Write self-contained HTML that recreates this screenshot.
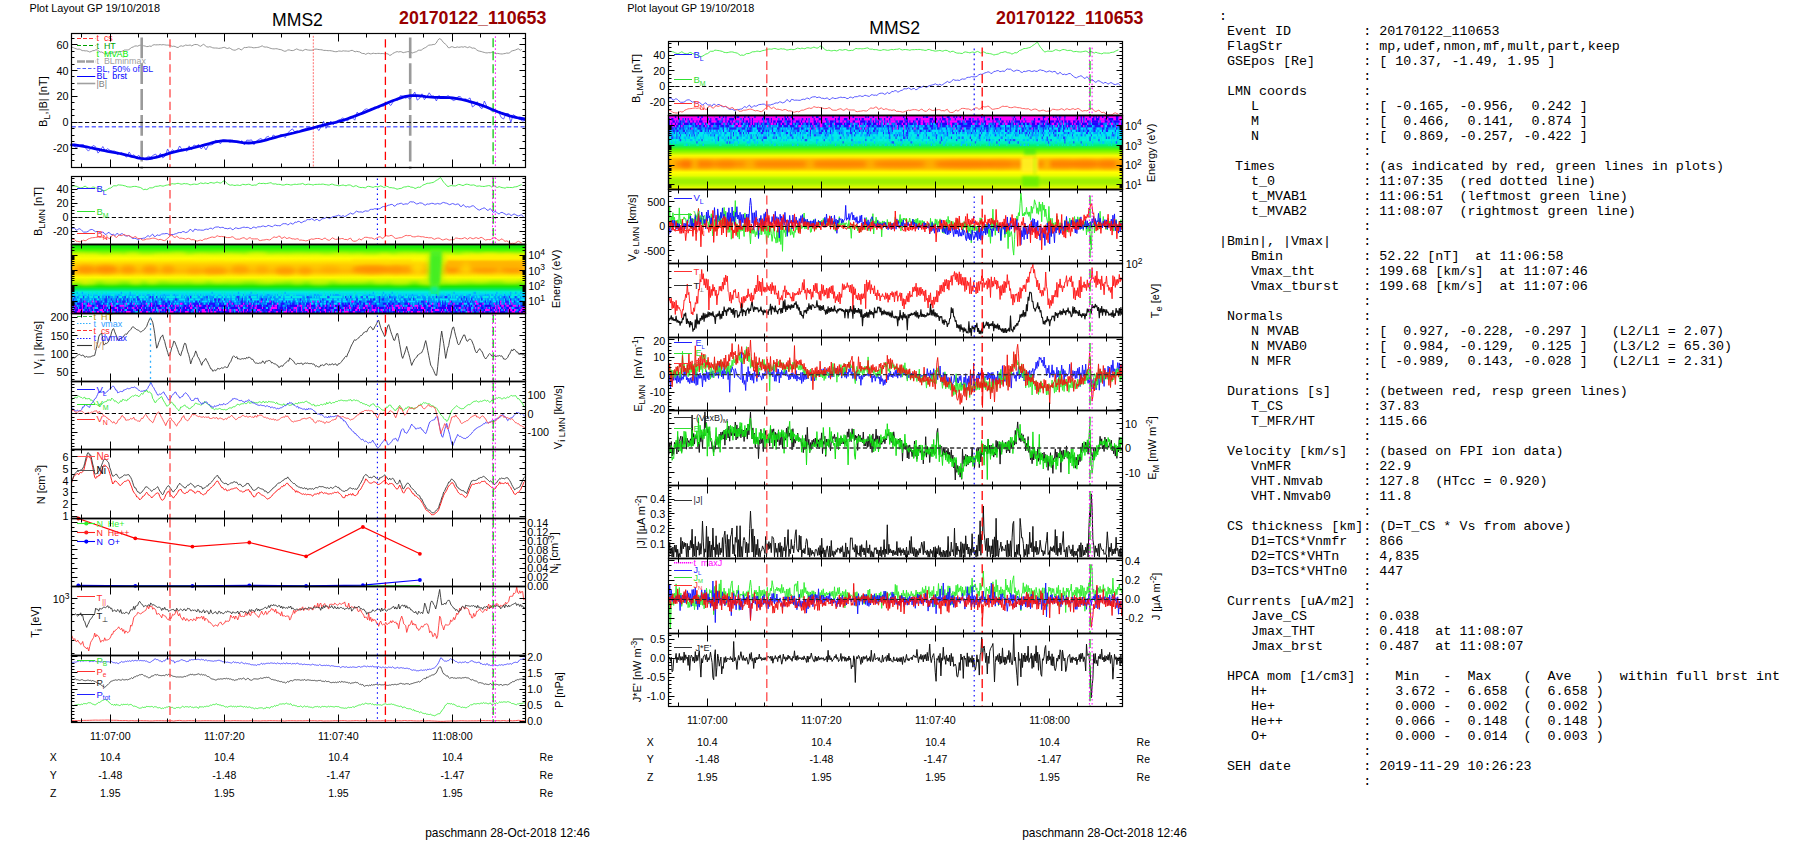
<!DOCTYPE html>
<html><head><meta charset="utf-8"><title>MMS2 20170122_110653</title>
<style>
html,body{margin:0;padding:0;background:#fff;}
body{width:1804px;height:841px;position:relative;overflow:hidden;font-family:"Liberation Sans",sans-serif;}
svg{position:absolute;left:0;top:0;}
svg text{font-family:"Liberation Sans",sans-serif;}
pre{position:absolute;left:1218.9px;top:8.9px;margin:0;font-family:"Liberation Mono",monospace;font-size:13.37px;line-height:15px;color:#000;white-space:pre;}
</style></head><body>
<svg width="1804" height="841" viewBox="0 0 1804 841">
<defs><filter id="bl" x="-50%" y="-50%" width="200%" height="200%"><feGaussianBlur stdDeviation="2.2"/></filter><filter id="bl2" x="-50%" y="-50%" width="200%" height="200%"><feGaussianBlur stdDeviation="1.6"/></filter><clipPath id="cl3"><rect x="71.6" y="244.5" width="454" height="68.7"/></clipPath><clipPath id="cm2"><rect x="668.6" y="115.4" width="453.6" height="74.1"/></clipPath></defs>
<text x="29.4" y="11.6" font-size="10.9" text-anchor="start" fill="#000" font-weight="normal" >Plot Layout GP 19/10/2018</text>
<text x="297.5" y="26.1" font-size="17.6" text-anchor="middle" fill="#000" font-weight="normal" >MMS2</text>
<text x="399" y="24.1" font-size="17.8" text-anchor="start" fill="#990000" font-weight="bold" >20170122_110653</text>
<path d="M71.7 47.2l1.5.4 1.5.7 1.5.5 1.5.5 1.5-.3 1.5.7 1.5.9 1.5 0 1.5.3 1.5-.1 1.5.5 1.5.7 1.5-.5 1.5-.8 1.5-.1 1.5-.7 1.5-.1 1.5 1.2 1.5 1.1 1.5-.1 1.5.8 1.5 1.2 1.5-.3 1.5-.7 1.5 0 1.5.5 1.5-.5 1.5-.9 1.5-.1 1.5.2 1.5-.5 1.5-.3 1.5.2 1.5-.6 1.5-.9 1.5-.1 1.5 0 1.5-.3 1.5-1.1 1.5-1.2 1.5-.4 1.5-.9 1.5-.2 1.5.3 1.5-.8 1.5-.2 1.5.4 1.5.2 1.5.3 1.5.5 1.5-.1 1.5-.5 1.5.4 1.5-1.2 1.5-.5 1.5.2 1.5-.1 1.5 0 1.5-.2 1.5.3 1.5-.3 1.5.2 1.5.3 1.5 0 1.5.1 1.5.5 1.5.7 1.5-.2 1.5.3 1.5.8 1.5.2 1.5-1.2 1.5-.5 1.5.5 1.5-.5 1.5-.8 1.5.4 1.5-.1 1.5-.3 1.5.9 1.5-.8 1.5-.6 1.5 0 1.5.2 1.5 1 1.5.6 1.5-1.2 1.5-.8 1.5 1.3 1.5 1.2 1.5.3 1.5-.4 1.5.4 1.5.7 1.5.2 1.5 0 1.5.1 1.5.3 1.5-.2 1.5-.2 1.5-.5 1.5-.1 1.5.8 1.5.3 1.5-.7 1.5.8 1.5 1 1.5.5 1.5.1 1.5-.7 1.5-.9 1.5.3 1.5 1.1 1.5-1.1 1.5-1.4 1.5.1 1.5-.2 1.5-.4 1.5.2 1.5.1 1.5.5 1.5-.1 1.5-.1 1.5-.2 1.5-.3 1.5-.6 1.5-.7 1.5 1 1.5.3 1.5-.1 1.5.4 1.5.6 1.5.5 1.5.3 1.5.1 1.5-.2 1.5.1 1.5.5 1.5.2 1.5.4 1.5.8 1.5.6 1.5-.3 1.5-1 1.5-.1 1.5.5 1.5.2 1.5-.2 1.5-.8 1.5-.7 1.5.7 1.5.6 1.5 0 1.5.6 1.5-.9 1.5-.5 1.5.5 1.5.2 1.5.1 1.5 0 1.5-.2 1.5-.8 1.5-.1 1.5.3 1.5.2 1.5.1 1.5.2 1.5.5 1.5 0 1.5.1 1.5.2 1.5-.1 1.5.2 1.5.3 1.5.4 1.5.2 1.5-.1 1.5-.6 1.5.1 1.5.2 1.5-.5 1.5.2 1.5 0 1.5.2 1.5 0 1.5-.6 1.5-.3 1.5.8 1.5.7 1.5-.5 1.5.4 1.5.2 1.5 1.1 1.5.5 1.5 0 1.5.9 1.5-.9 1.5-.3 1.5.7 1.5-.2 1.5-.5 1.5.3 1.5.1 1.5-.2 1.5 0 1.5.2 1.5-.1 1.5.1 1.5.4 1.5-.4 1.5.5 1.5 1.2 1.5-.3 1.5-1.5 1.5-.7 1.5-.7 1.5-.5 1.5.4 1.5-.4 1.5.3 1.5.8 1.5-.4 1.5-.3 1.5-.4 1.5.1 1.5.6 1.5.7 1.5-.5 1.5-.5 1.5-.4 1.5-1.3 1.5-.1 1.5 0 1.5-1.1 1.5-1 1.5-.6 1.5-1.2 1.5-1.1 1.5-.2 1.5-.1 1.5-.4 1.5-.1 1.5-1.3 1.5-2.7 1.5-1.7 1.5.3 1.5 1.9 1.5 1.9 1.5 1.1 1.5 1.4 1.5 2.3 1.5.1 1.5-.9 1.5 0 1.5.7 1.5 0 1.5-.6 1.5.4 1.5-.2 1.5-.3 1.5.4 1.5-.6 1.5.5 1.5.6 1.5-.9 1.5.5 1.5.9 1.5-.2 1.5.5 1.5 1.4 1.5.9 1.5.4 1.5.3 1.5.5 1.5.4 1.5.4 1.5.1 1.5-.3 1.5.2 1.5-.5 1.5-.4 1.5 1.2 1.5.6 1.5-.3 1.5.3 1.5.2 1.5.1 1.5-.3 1.5-.2 1.5-.5 1.5.2 1.5-.3 1.5-1.7 1.5-.5 1.5-.3 1.5-.5 1.5-.8 1.5-.2 1.5 1.4 1.5-.9" fill="none" stroke="#8a8a8a" stroke-width="0.9" />
<line x1="141.7" y1="37.5" x2="141.7" y2="168.8" stroke="#9a9a9a" stroke-width="2.6" stroke-dasharray="20.8,5"/>
<line x1="410.2" y1="37.5" x2="410.2" y2="168.8" stroke="#9a9a9a" stroke-width="2.6" stroke-dasharray="20.8,5"/>
<line x1="170" y1="39.2" x2="170" y2="167.8" stroke="#ff4848" stroke-width="1.3" stroke-dasharray="8.3,4.2"/>
<line x1="385.4" y1="39.2" x2="385.4" y2="167.8" stroke="#ff0000" stroke-width="1.3" stroke-dasharray="8.3,4.2"/>
<line x1="313.3" y1="35.8" x2="313.3" y2="167.8" stroke="#ff7070" stroke-width="1.0" stroke-dasharray="2,1.3"/>
<line x1="493.1" y1="38.3" x2="493.1" y2="167.8" stroke="#00c000" stroke-width="1.2" stroke-dasharray="9,4"/>
<line x1="495.4" y1="36.3" x2="495.4" y2="167.8" stroke="#ff00ff" stroke-width="1.0" stroke-dasharray="1.6,2.4"/>
<line x1="71.6" y1="122.5" x2="525.6" y2="122.5" stroke="#000" stroke-width="1.1" stroke-dasharray="4.2,2.5"/>
<line x1="71.6" y1="126.8" x2="525.6" y2="126.8" stroke="#6068ff" stroke-width="1.4" stroke-dasharray="4.2,2.5"/>
<path d="M71.6 144.2l2.4 1.7 2.4 1.9 2.4-2 2.4-1.1 2.4-.1 2.4 3.9 2.4 2.6 2.4-2.7 2.4-2.9 2.4 1.2 2.4 6.4 2.4-2.6 2.4-4 2.4 4.3 2.4-2.1 2.4 1.7 2.4.7 2.4-.1 2.4 3.4 2.4-1 2.4-.7 2.4 2.8 2.4 1.6 2.4-5.1 2.4 3.8 2.4-1 2.4 2.5 2.4-2 2.4 3.5 2.4.1 2.4-.7 2.4-1.9 2.4 1.1 2.4-2.1 2.4-1.2 2.4 3.1 2.4-3.8 2.4 4.5 2.4-1.9 2.4-7 2.4 4.5 2.4-3.8 2.4 2 2.4-.5 2.4-5.2 2.4 3.5 2.4-.5 2.4 2.3 2.4-5.4 2.4 3.9 2.4-4.8 2.4 1.2 2.4-1.8 2.4 4.6 2.4-2.7 2.4 3.6 2.4-4.7 2.4-.2 2.4-.7 2.4-4 2.4.7 2.4 2.9 2.4-4.2 2.4 1.4 2.4-.4 2.4 1.6 2.4-2 2.4.9 2.4 1.2 2.4.1 2.4-1.8 2.4 4.3 2.4-4.9 2.4.2 2.4-.4 2.4 4.8 2.4-3.5 2.4-1.8 2.4-.9 2.4 3 2.4-4.1 2.4-1.1 2.4 3.6 2.4-4.9 2.4 1.4 2.4 0 2.4-1.6 2.4.4 2.4 2.6 2.4-4.8 2.4-2.2 2.4-1.9 2.4 3.2 2.4-.9 2.4.8 2.4-2.3 2.4-.7 2.4-1.2 2.4-.2 2.4.9 2.4-1.9 2.4.5 2.4 3.5 2.4-3.9 2.4-5.3 2.4 7 2.4-3.8 2.4-3.5 2.4 3.7 2.4-2.6 2.4-2 2.4-.7 2.4-1.6 2.4 1.6 2.4 1.5 2.4-4.1 2.4.8 2.4 2.5 2.4-8.1 2.4 2.5 2.4-2.2 2.4-2.7 2.4-.9 2.4 1.4 2.4 0 2.4-3.2 2.4.3 2.4.6 2.4-2 2.4.3 2.4-1.9 2.4-.9 2.4 2.1 2.4-3.7 2.4-2.1 2.4.4 2.4-4.5 2.4.6 2.4 2 2.4-.8 2.4 1.8 2.4-3.7 2.4-3.4 2.4 8 2.4-1.7 2.4-4.6 2.4 5.9 2.4-2.8 2.4-4.1 2.4 3.4 2.4-.1 2.4 4.9 2.4-5.4 2.4 1.3 2.4 0 2.4-.2 2.4-1.1 2.4 2.7 2.4 2.2 2.4-.7 2.4-3.2 2.4 0 2.4 3.6 2.4-1.3 2.4.8 2.4-1.8 2.4 9.1 2.4-1.7 2.4-3.6 2.4 5.1 2.4 1.9 2.4-7.7 2.4 5.2 2.4 1.4 2.4 3.5 2.4-.8 2.4.7 2.4 1.3 2.4 5.2 2.4 1.5 2.4-5.4 2.4-.1 2.4 9 2.4-7.8 2.4 1.5 2.4 1.9 2.4 1.4 2.4 1.7 2.4-1.1" fill="none" stroke="#4040ff" stroke-width="0.85" />
<path d="M71.6 144.8l3 .2 3 .3 3 .5 3 .5 3 .5 3 .7 3 .6 3 .7 3 .6 3 .7 3 .6 3 .6 3 .5 3 .6 3 .5 3 .6 3 .6 3 .7 3 .7 3 .8 3 .7 3 .8 3 .6 3 .3 3 .1 3-.3 3-.5 3-.6 3-.8 3-.9 3-.9 3-1 3-.9 3-.8 3-.7 3-.7 3-.6 3-.6 3-.7 3-.6 3-.7 3-.8 3-.7 3-.8 3-.9 3-.8 3-.8 3-.8 3-.6 3-.4 3-.2 3 .1 3 .2 3 .3 3 .4 3 .5 3 .4 3 .3 3 .1 3-.2 3-.3 3-.6 3-.6 3-.7 3-.8 3-.8 3-.9 3-.8 3-.8 3-.8 3-.7 3-.7 3-.6 3-.7 3-.8 3-.7 3-.8 3-.8 3-.8 3-.8 3-.8 3-.8 3-.8 3-.8 3-.7 3-.7 3-.7 3-.7 3-.8 3-.8 3-.9 3-1.1 3-1.1 3-1.1 3-1.1 3-1.2 3-1.1 3-1.2 3-1.2 3-1.3 3-1.2 3-1.2 3-1.3 3-1.2 3-1.2 3-1.3 3-1.2 3-1.1 3-1.1 3-1 3-.9 3-.6 3-.4 3-.1 3 0 3 .3 3 .3 3 .4 3 .3 3 .2 3 .2 3 .1 3 .1 3 0 3 .1 3 .1 3 .3 3 .3 3 .5 3 .7 3 .7 3 .8 3 .8 3 .9 3 .9 3 1 3 1 3 1.2 3 1.2 3 1.3 3 1.2 3 1.2 3 1.1 3 1 3 1 3 1 3 .8 3 .7 3 .7 3 .5 3 .5" fill="none" stroke="#0000ee" stroke-width="2.8" stroke-linejoin="round" stroke-linecap="round"/>
<line x1="77" y1="38.5" x2="95.3" y2="38.5" stroke="#ff3030" stroke-width="1.2" stroke-dasharray="4,2"/>
<text x="96.5" y="41.3" font-size="8.9" text-anchor="start" fill="#ff2020" font-weight="normal" >t&#160;&#160;cs</text>
<line x1="77" y1="45.5" x2="95.3" y2="45.5" stroke="#00a000" stroke-width="1.2" stroke-dasharray="4,2"/>
<text x="96.5" y="48.9" font-size="8.9" text-anchor="start" fill="#00a000" font-weight="normal" >t&#160;&#160;HT</text>
<text x="96.5" y="56.5" font-size="8.9" text-anchor="start" fill="#00ee00" font-weight="normal" >t&#160;&#160;MVAB</text>
<line x1="77" y1="61.5" x2="95.3" y2="61.5" stroke="#a0a0a0" stroke-width="2.6" stroke-dasharray="8,1"/>
<text x="96.5" y="64.1" font-size="8.9" text-anchor="start" fill="#a0a0a0" font-weight="normal" >t&#160;&#160;BLminmax</text>
<line x1="77" y1="68.5" x2="95.3" y2="68.5" stroke="#5060ff" stroke-width="1.0" stroke-dasharray="3.5,2"/>
<text x="96.5" y="71.7" font-size="8.9" text-anchor="start" fill="#2020ff" font-weight="normal" >BL, 50% of BL</text>
<line x1="77" y1="76.5" x2="95.3" y2="76.5" stroke="#0000ff" stroke-width="1.0"/>
<text x="96.5" y="79.3" font-size="8.9" text-anchor="start" fill="#0000ff" font-weight="normal" >BL&#160;&#160;brst</text>
<line x1="77" y1="83.5" x2="95.3" y2="83.5" stroke="#a0a0a0" stroke-width="1.6"/>
<text x="96.5" y="86.9" font-size="8.9" text-anchor="start" fill="#808080" font-weight="normal" >|B|</text>
<rect x="71.5" y="33.5" width="454" height="134" fill="none" stroke="#000" stroke-width="1.2"/>
<path d="M81.5 33.5v4M110.5 33.5v8M138.5 33.5v4M167.5 33.5v4M195.5 33.5v4M224.5 33.5v8M252.5 33.5v4M281.5 33.5v4M309.5 33.5v4M338.5 33.5v8M366.5 33.5v4M395.5 33.5v4M423.5 33.5v4M452.5 33.5v8M480.5 33.5v4M509.5 33.5v4" stroke="#000" stroke-width="1" fill="none"/>
<path d="M81.5 167.5v-4M110.5 167.5v-8M138.5 167.5v-4M167.5 167.5v-4M195.5 167.5v-4M224.5 167.5v-8M252.5 167.5v-4M281.5 167.5v-4M309.5 167.5v-4M338.5 167.5v-8M366.5 167.5v-4M395.5 167.5v-4M423.5 167.5v-4M452.5 167.5v-8M480.5 167.5v-4M509.5 167.5v-4" stroke="#000" stroke-width="1" fill="none"/>
<path d="M71.5 148.5h6M71.5 122.5h6M71.5 96.5h6M71.5 70.5h6M71.5 44.5h6M71.5 167.5h3M71.5 160.5h3M71.5 154.5h3M71.5 141.5h3M71.5 135.5h3M71.5 128.5h3M71.5 115.5h3M71.5 109.5h3M71.5 102.5h3M71.5 89.5h3M71.5 83.5h3M71.5 76.5h3M71.5 64.5h3M71.5 57.5h3M71.5 51.5h3M71.5 38.5h3" stroke="#000" stroke-width="1" fill="none"/>
<path d="M525.5 148.5h-6M525.5 122.5h-6M525.5 96.5h-6M525.5 70.5h-6M525.5 44.5h-6M525.5 167.5h-3M525.5 160.5h-3M525.5 154.5h-3M525.5 141.5h-3M525.5 135.5h-3M525.5 128.5h-3M525.5 115.5h-3M525.5 109.5h-3M525.5 102.5h-3M525.5 89.5h-3M525.5 83.5h-3M525.5 76.5h-3M525.5 64.5h-3M525.5 57.5h-3M525.5 51.5h-3M525.5 38.5h-3" stroke="#000" stroke-width="1" fill="none"/>
<text x="68.6" y="48.6" font-size="10.8" text-anchor="end" fill="#000" font-weight="normal" >60</text>
<text x="68.6" y="74.5" font-size="10.8" text-anchor="end" fill="#000" font-weight="normal" >40</text>
<text x="68.6" y="100.3" font-size="10.8" text-anchor="end" fill="#000" font-weight="normal" >20</text>
<text x="68.6" y="126.2" font-size="10.8" text-anchor="end" fill="#000" font-weight="normal" >0</text>
<text x="68.6" y="152.1" font-size="10.8" text-anchor="end" fill="#000" font-weight="normal" >-20</text>
<text x="46.6" y="101.6" font-size="11" text-anchor="middle" fill="#000" font-weight="normal" transform="rotate(-90 46.6 101.6)" >B<tspan font-size="9.3" dy="3">L</tspan><tspan dy="-3">,|B| [nT]</tspan></text>
<path d="M71.6 186.4l1.5-.5 1.5.1 1.5.2 1.5.6 1.5.8 1.5.3 1.5-.1 1.5-.9 1.5-.8 1.5 1.1 1.5.9 1.5.1 1.5.1 1.5-1.2 1.5 0 1.5.9 1.5.3 1.5.1 1.5.7 1.5.9 1.5 1 1.5-.4 1.5-.4 1.5-.9 1.5-1 1.5-.2 1.5-1.1 1.5-1.2 1.5 0 1.5 0 1.5-1 1.5.2 1.5.1 1.5.2 1.5.4 1.5.3 1.5.8 1.5.1 1.5.2 1.5-.2 1.5-.4 1.5-.1 1.5 0 1.5.5 1.5.3 1.5.4 1.5 1 1.5 1.1 1.5-.5 1.5.4 1.5-.6 1.5-1.2 1.5.1 1.5-.1 1.5-.8 1.5-.7 1.5 0 1.5-.2 1.5-.5 1.5.3 1.5.3 1.5-.5 1.5-.5 1.5-.2 1.5-.4 1.5-.4 1.5-.5 1.5.2 1.5.1 1.5-.5 1.5-.2 1.5.4 1.5.5 1.5-.2 1.5-.5 1.5.3 1.5-.1 1.5.5 1.5.7 1.5-.3 1.5-.4 1.5-.1 1.5.3 1.5-.1 1.5-.6 1.5-.8 1.5.4 1.5.3 1.5-.7 1.5.4 1.5.4 1.5-.9 1.5-.3 1.5.4 1.5.3 1.5-.6 1.5-.6 1.5.6 1.5.5 1.5-.4 1.5-1.6 1.5-.2 1.5 1.6 1.5 1.3 1.5 1 1.5.4 1.5-.4 1.5.5 1.5.2 1.5-.4 1.5 0 1.5.4 1.5-.3 1.5-.9 1.5.2 1.5.3 1.5-.3 1.5-.3 1.5.3 1.5.8 1.5 0 1.5-.3 1.5.2 1.5-1.1 1.5-1 1.5.4 1.5 0 1.5-.2 1.5.4 1.5-.2 1.5-.2 1.5-.4 1.5-.2 1.5 1.1 1.5.2 1.5-.2 1.5.6 1.5-.1 1.5.1 1.5.5 1.5.2 1.5-.2 1.5-.6 1.5.1 1.5.2 1.5.4 1.5-.1 1.5-.5 1.5-.2 1.5.3 1.5-.3 1.5-.1 1.5-.1 1.5-.6 1.5.9 1.5.5 1.5-.5 1.5-.1 1.5.2 1.5.2 1.5.5 1.5-.6 1.5-.1 1.5 0 1.5-.2 1.5.2 1.5-.3 1.5.1 1.5.4 1.5.1 1.5.4 1.5-.1 1.5-.8 1.5 0 1.5.7 1.5.3 1.5.2 1.5.4 1.5-.2 1.5-.3 1.5-.3 1.5.5 1.5.3 1.5-.7 1.5-.2 1.5.3 1.5 1 1.5.5 1.5-.9 1.5 0 1.5 1 1.5.5 1.5.3 1.5-.2 1.5.3 1.5.1 1.5-1.2 1.5-.3 1.5.3 1.5.4 1.5.4 1.5-.7 1.5-.2 1.5.5 1.5-.5 1.5-.6 1.5.5 1.5.9 1.5-.1 1.5-.9 1.5.4 1.5 1 1.5-.1 1.5.3 1.5.1 1.5.6 1.5.6 1.5-.4 1.5-.3 1.5-.2 1.5-1 1.5-.4 1.5 0 1.5-.6 1.5 0 1.5.8 1.5.1 1.5.4 1.5.9 1.5-.6 1.5-.8 1.5.3 1.5-.7 1.5-1.5 1.5-.5 1.5-.6 1.5-.8 1.5 0 1.5-.2 1.5-.4 1.5-.2 1.5-.9 1.5-1.1 1.5-.8 1.5-1.1 1.5-1.1 1.5 2.4 1.5 2.3 1.5 1.5 1.5 1.9 1.5 1 1.5-.6 1.5-.5 1.5.3 1.5.1 1.5 0 1.5-.7 1.5-.8 1.5.2 1.5.6 1.5.4 1.5-.8 1.5-.6 1.5.1 1.5.4 1.5.5 1.5-.1 1.5-.2 1.5.5 1.5.8 1.5-.1 1.5-.2 1.5.4 1.5.1 1.5.1 1.5-.3 1.5-.3 1.5-.3 1.5.2 1.5 1.2 1.5-.7 1.5-.4 1.5 1.2 1.5.3 1.5-.8 1.5.6 1.5.4 1.5.2 1.5.4 1.5-.9 1.5.1 1.5.1 1.5 0 1.5.1 1.5-.6 1.5-.2 1.5-.2 1.5-.8 1.5-.6 1.5-.6" fill="none" stroke="#40ee40" stroke-width="0.9" />
<path d="M71.6 228.6l1.5-.4 1.5 0 1.5 2 1.5-.6 1.5-1 1.5.7 1.5 1.5 1.5 1.3 1.5 0 1.5-.1 1.5-.6 1.5-1.3 1.5-.6 1.5.1 1.5 1.1 1.5 1.1 1.5-.4 1.5.7 1.5 1 1.5-.8 1.5-.3 1.5 1.9 1.5.7 1.5-1.7 1.5-.6 1.5 1.9 1.5.4 1.5-.3 1.5 1.4 1.5-2.1 1.5.1 1.5 1.5 1.5-1.4 1.5 0 1.5 1.3 1.5.8 1.5.1 1.5-.5 1.5.8 1.5 1.6 1.5.6 1.5-.1 1.5.2 1.5 1 1.5-.6 1.5-.5 1.5 0 1.5-.4 1.5 0 1.5-1.6 1.5-.9 1.5 1.2 1.5-1.3 1.5-1.4 1.5 2.2 1.5.1 1.5-1.6 1.5.6 1.5-.2 1.5-1.1 1.5-.3 1.5 0 1.5-.3 1.5.1 1.5 1.1 1.5-.1 1.5-.1 1.5 0 1.5-.6 1.5-.3 1.5-.9 1.5-.2 1.5.2 1.5-1.1 1.5.1 1.5.9 1.5-.4 1.5-.9 1.5-2.1 1.5 1.1 1.5 1.4 1.5-2.5 1.5.2 1.5.7 1.5-.2 1.5.2 1.5.1 1.5 0 1.5-.8 1.5-.3 1.5.4 1.5-1.1 1.5-.3 1.5 1 1.5-1.3 1.5-.7 1.5-.1 1.5-.1 1.5.9 1.5-.4 1.5-.1 1.5 1.1 1.5 0 1.5.4 1.5-.4 1.5-.5 1.5 1.8 1.5-.3 1.5-1.5 1.5.1 1.5.6 1.5-.2 1.5-.4 1.5-.6 1.5-.3 1.5.5 1.5-.3 1.5.3 1.5 1 1.5-.1 1.5-1.4 1.5.2 1.5.8 1.5-1.2 1.5-.1 1.5 0 1.5-.7 1.5-.1 1.5.7 1.5-.3 1.5-1 1.5.4 1.5.6 1.5.4 1.5-1.5 1.5-.2 1.5.6 1.5-.1 1.5.3 1.5-1.3 1.5-.9 1.5 0 1.5 0 1.5 1.1 1.5-.4 1.5-1.6 1.5 1.3 1.5-.3 1.5-1.8 1.5.4 1.5-1.1 1.5.3 1.5 1.3 1.5-.8 1.5-.9 1.5-.2 1.5-1.4 1.5 0 1.5.1 1.5-1 1.5.9 1.5 1 1.5-1.1 1.5 0 1.5 1.4 1.5-.8 1.5-1.4 1.5-.1 1.5-.5 1.5-.8 1.5.5 1.5.8 1.5-.9 1.5-.9 1.5-.3 1.5-.3 1.5-.4 1.5-.7 1.5.9 1.5.4 1.5-.8 1.5 1 1.5-.6 1.5-1.1 1.5-.9 1.5-1 1.5 1 1.5-.1 1.5-1.7 1.5-1.1 1.5.8 1.5.1 1.5-.1 1.5.4 1.5-.9 1.5-.6 1.5.4 1.5-.3 1.5-1.4 1.5-.2 1.5.1 1.5-.7 1.5.2 1.5 0 1.5 0 1.5-.7 1.5-1.2 1.5-.5 1.5.2 1.5-.6 1.5-.8 1.5-.3 1.5-.6 1.5.1 1.5 1.7 1.5-.5 1.5-1.7 1.5 0 1.5-.6 1.5-.1 1.5 1.2 1.5-.4 1.5-.3 1.5.4 1.5-1.7 1.5-.8 1.5.3 1.5-.1 1.5 1.1 1.5 1 1.5-.3 1.5-.8 1.5.1 1.5.4 1.5 1.3 1.5.4 1.5-1.2 1.5.3 1.5-.4 1.5-.5 1.5.1 1.5.7 1.5-.1 1.5-.6 1.5.6 1.5-.1 1.5-1 1.5-.5 1.5.6 1.5.2 1.5.8 1.5.7 1.5-.6 1.5-.6 1.5.6 1.5.6 1.5-.7 1.5 0 1.5 2.2 1.5.3 1.5-1.9 1.5 1.3 1.5 1.3 1.5-.7 1.5.7 1.5-.5 1.5-.9 1.5.1 1.5 1.4 1.5 1.3 1.5 1 1.5.5 1.5-1 1.5-.6 1.5-.7 1.5.8 1.5 1.6 1.5 0 1.5-1.7 1.5 1.6 1.5 2.3 1.5-.7 1.5 0 1.5 1.6 1.5.7 1.5-1.3 1.5-.4 1.5.9 1.5.8 1.5.9 1.5-1 1.5.3 1.5 1.4 1.5-.8 1.5-.9 1.5.8 1.5.9 1.5.3 1.5-.7 1.5-.3 1.5 1.4 1.5 1.5" fill="none" stroke="#4848ff" stroke-width="0.9" />
<path d="M71.6 239l1.5.3 1.5.4 1.5 1.5 1.5.2 1.5.3 1.5 0 1.5-.7 1.5-.8 1.5.6 1.5-.6 1.5-1.2 1.5-.5 1.5-.6 1.5-.2 1.5-.1 1.5-.2 1.5-.2 1.5-.1 1.5.3 1.5-.3 1.5 0 1.5 1.4 1.5-.4 1.5-.8 1.5 1.4 1.5-.8 1.5-2.6 1.5 0 1.5 1.3 1.5.9 1.5-1.8 1.5-.7 1.5.7 1.5-.5 1.5-.8 1.5.9 1.5.6 1.5-.3 1.5.6 1.5.9 1.5.6 1.5-.9 1.5 0 1.5 1.7 1.5.1 1.5 0 1.5 1.4 1.5 0 1.5-.3 1.5-.7 1.5 0 1.5-.1 1.5-.4 1.5-.3 1.5-.1 1.5.5 1.5.6 1.5.6 1.5-.5 1.5.4 1.5.7 1.5.2 1.5-.8 1.5-1.7 1.5-.9 1.5-2 1.5-.2 1.5 2.1 1.5.4 1.5-1.3 1.5.9 1.5 1.2 1.5-.2 1.5.3 1.5.3 1.5.6 1.5-.7 1.5-.3 1.5.7 1.5.8 1.5-.2 1.5.4 1.5.9 1.5.1 1.5-.6 1.5-.3 1.5.6 1.5-1.2 1.5-.6 1.5.1 1.5-.7 1.5-.5 1.5-.6 1.5-.2 1.5.5 1.5-.5 1.5-1.3 1.5.6 1.5.3 1.5-.2 1.5.3 1.5 0 1.5.7 1.5.2 1.5 0 1.5-.2 1.5-.7 1.5.5 1.5 1.7 1.5.3 1.5-.1 1.5.1 1.5-.7 1.5-.6 1.5-.2 1.5 1.1 1.5.6 1.5-1.2 1.5-.6 1.5 1.2 1.5.1 1.5 0 1.5 0 1.5 0 1.5 1.4 1.5.3 1.5-.5 1.5-.1 1.5-.2 1.5-.4 1.5.3 1.5.3 1.5-.8 1.5-1.5 1.5-.8 1.5.5 1.5-.1 1.5-1.1 1.5.1 1.5 2.2 1.5-.7 1.5-1 1.5 1.6 1.5 0 1.5-.8 1.5.6 1.5.7 1.5-.1 1.5.5 1.5-.5 1.5 0 1.5 1.4 1.5-.2 1.5.3 1.5.1 1.5.5 1.5-.2 1.5-.7 1.5-.5 1.5-.6 1.5.4 1.5-.4 1.5-.4 1.5 0 1.5 0 1.5.6 1.5.6 1.5-1.1 1.5-.6 1.5 1.3 1.5.8 1.5.2 1.5-1.5 1.5-1 1.5 1 1.5.6 1.5-.2 1.5-.4 1.5.1 1.5-.4 1.5.1 1.5.9 1.5-.1 1.5.4 1.5-1.1 1.5-.6 1.5 2.4 1.5.7 1.5 0 1.5-.2 1.5-1.5 1.5-.6 1.5 1.1 1.5-1 1.5-1.5 1.5-.2 1.5 0 1.5.4 1.5.3 1.5-.1 1.5.6 1.5.8 1.5-1 1.5-.8 1.5-.7 1.5.2 1.5 1.4 1.5-.5 1.5-1.9 1.5-.3 1.5.4 1.5-.3 1.5-.5 1.5.5 1.5 1.8 1.5.8 1.5-.1 1.5-.4 1.5-.2 1.5-.1 1.5-.8 1.5-.8 1.5-.7 1.5.4 1.5-.1 1.5-.1 1.5 1.1 1.5.2 1.5.1 1.5-.5 1.5-.3 1.5.3 1.5.4 1.5-.1 1.5.3 1.5.5 1.5-.1 1.5.4 1.5 0 1.5-.1 1.5 1 1.5.6 1.5-.8 1.5-.4 1.5 0 1.5.8 1.5 1.1 1.5-.2 1.5-.6 1.5-.3 1.5.8 1.5.4 1.5-.4 1.5.3 1.5-.5 1.5-1.4 1.5 0 1.5.4 1.5.2 1.5 0 1.5-.3 1.5-.8 1.5.7 1.5 1 1.5-1.4 1.5-.2 1.5.9 1.5.1 1.5-.8 1.5-.2 1.5.9 1.5-.5 1.5-.8 1.5.7 1.5 1.2 1.5.9 1.5-.5 1.5-.1 1.5.3 1.5-.9 1.5-.9 1.5-.4 1.5.7 1.5 1.4 1.5.8 1.5-1 1.5-.7 1.5 1.5 1.5 1.1 1.5-.5 1.5.6 1.5 1.5 1.5.5 1.5-.2 1.5.2 1.5-.5 1.5-1.2 1.5-.5 1.5.9 1.5.6" fill="none" stroke="#ff5050" stroke-width="0.9" />
<line x1="170" y1="177.5" x2="170" y2="244.5" stroke="#ff4848" stroke-width="1.3" stroke-dasharray="8.4,4.2"/>
<line x1="377.4" y1="178.5" x2="377.4" y2="244.5" stroke="#0000ff" stroke-width="1.1" stroke-dasharray="1.6,3.4"/>
<line x1="385.4" y1="177.5" x2="385.4" y2="244.5" stroke="#ff0000" stroke-width="1.3" stroke-dasharray="8.4,4.2"/>
<line x1="493.2" y1="177.5" x2="493.2" y2="244.5" stroke="#00c000" stroke-width="1.2" stroke-dasharray="8.4,4.2"/>
<line x1="492.6" y1="177.5" x2="492.6" y2="244.5" stroke="#ff00ff" stroke-width="1.0" stroke-dasharray="1.6,2.4"/>
<line x1="495.3" y1="177.5" x2="495.3" y2="244.5" stroke="#ff00ff" stroke-width="1.0" stroke-dasharray="1.6,2.4"/>
<line x1="71.6" y1="217.5" x2="525.6" y2="217.5" stroke="#000" stroke-width="1.1" stroke-dasharray="4.2,2.5"/>
<line x1="77" y1="188.5" x2="95" y2="188.5" stroke="#2020ff" stroke-width="1.0"/>
<text x="96.5" y="192" font-size="9.5" text-anchor="start" fill="#2020ff" font-weight="normal" >B<tspan font-size="7" dy="3">L</tspan></text>
<line x1="77" y1="211.5" x2="95" y2="211.5" stroke="#30e030" stroke-width="1.0"/>
<text x="96.5" y="215" font-size="9.5" text-anchor="start" fill="#30e030" font-weight="normal" >B<tspan font-size="7" dy="3">M</tspan></text>
<line x1="77" y1="233.5" x2="95" y2="233.5" stroke="#ff3030" stroke-width="1.0"/>
<text x="96.5" y="237" font-size="9.5" text-anchor="start" fill="#ff3030" font-weight="normal" >B<tspan font-size="7" dy="3">N</tspan></text>
<rect x="71.5" y="176.5" width="454" height="68" fill="none" stroke="#000" stroke-width="1.2"/>
<path d="M81.5 176.5v4M110.5 176.5v8M138.5 176.5v4M167.5 176.5v4M195.5 176.5v4M224.5 176.5v8M252.5 176.5v4M281.5 176.5v4M309.5 176.5v4M338.5 176.5v8M366.5 176.5v4M395.5 176.5v4M423.5 176.5v4M452.5 176.5v8M480.5 176.5v4M509.5 176.5v4" stroke="#000" stroke-width="1" fill="none"/>
<path d="M81.5 244.5v-4M110.5 244.5v-8M138.5 244.5v-4M167.5 244.5v-4M195.5 244.5v-4M224.5 244.5v-8M252.5 244.5v-4M281.5 244.5v-4M309.5 244.5v-4M338.5 244.5v-8M366.5 244.5v-4M395.5 244.5v-4M423.5 244.5v-4M452.5 244.5v-8M480.5 244.5v-4M509.5 244.5v-4" stroke="#000" stroke-width="1" fill="none"/>
<path d="M71.5 231.5h6M71.5 217.5h6M71.5 203.5h6M71.5 189.5h6M71.5 241.5h3M71.5 238.5h3M71.5 234.5h3M71.5 227.5h3M71.5 224.5h3M71.5 220.5h3M71.5 213.5h3M71.5 210.5h3M71.5 206.5h3M71.5 199.5h3M71.5 196.5h3M71.5 192.5h3M71.5 185.5h3M71.5 182.5h3M71.5 178.5h3" stroke="#000" stroke-width="1" fill="none"/>
<path d="M525.5 231.5h-6M525.5 217.5h-6M525.5 203.5h-6M525.5 189.5h-6M525.5 241.5h-3M525.5 238.5h-3M525.5 234.5h-3M525.5 227.5h-3M525.5 224.5h-3M525.5 220.5h-3M525.5 213.5h-3M525.5 210.5h-3M525.5 206.5h-3M525.5 199.5h-3M525.5 196.5h-3M525.5 192.5h-3M525.5 185.5h-3M525.5 182.5h-3M525.5 178.5h-3" stroke="#000" stroke-width="1" fill="none"/>
<text x="68.6" y="193.3" font-size="10.8" text-anchor="end" fill="#000" font-weight="normal" >40</text>
<text x="68.6" y="207.3" font-size="10.8" text-anchor="end" fill="#000" font-weight="normal" >20</text>
<text x="68.6" y="221.3" font-size="10.8" text-anchor="end" fill="#000" font-weight="normal" >0</text>
<text x="68.6" y="235.3" font-size="10.8" text-anchor="end" fill="#000" font-weight="normal" >-20</text>
<text x="41.9" y="211.5" font-size="11" text-anchor="middle" fill="#000" font-weight="normal" transform="rotate(-90 41.9 211.5)" >B<tspan font-size="9.3" dy="3">LMN</tspan><tspan dy="-3"> [nT]</tspan></text>
<linearGradient id="gi" x1="0" y1="0" x2="0" y2="1">
<stop offset="0.000" stop-color="#10e810"/>
<stop offset="0.036" stop-color="#18ea08"/>
<stop offset="0.073" stop-color="#40f800"/>
<stop offset="0.119" stop-color="#90f800"/>
<stop offset="0.163" stop-color="#e0fc00"/>
<stop offset="0.199" stop-color="#ffff00"/>
<stop offset="0.230" stop-color="#ffee00"/>
<stop offset="0.262" stop-color="#ffdc00"/>
<stop offset="0.298" stop-color="#ffcc00"/>
<stop offset="0.349" stop-color="#ffc000"/>
<stop offset="0.386" stop-color="#ffb800"/>
<stop offset="0.415" stop-color="#ffc400"/>
<stop offset="0.448" stop-color="#ffe000"/>
<stop offset="0.482" stop-color="#fff800"/>
<stop offset="0.514" stop-color="#d0f800"/>
<stop offset="0.565" stop-color="#80f000"/>
<stop offset="0.608" stop-color="#20e800"/>
<stop offset="0.652" stop-color="#00e860"/>
<stop offset="0.691" stop-color="#00f0e0"/>
<stop offset="0.735" stop-color="#00c8ff"/>
<stop offset="0.779" stop-color="#0070ff"/>
<stop offset="0.822" stop-color="#1030ff"/>
<stop offset="0.997" stop-color="#2008ff"/>
</linearGradient>
<rect x="71.6" y="244.5" width="454" height="68.7" fill="url(#gi)"/>
<g clip-path="url(#cl3)">
<ellipse cx="86" cy="269.4" rx="10" ry="3.8" fill="#ff8a00" opacity="0.8250000000000001" filter="url(#bl)"/>
<ellipse cx="106" cy="269.4" rx="12" ry="3.8" fill="#ff8a00" opacity="0.935" filter="url(#bl)"/>
<ellipse cx="128" cy="269.4" rx="8" ry="3.8" fill="#ff8a00" opacity="0.66" filter="url(#bl)"/>
<ellipse cx="150" cy="269.4" rx="8" ry="3.8" fill="#ff8a00" opacity="0.66" filter="url(#bl)"/>
<ellipse cx="168" cy="269.4" rx="7" ry="3.8" fill="#ff8a00" opacity="0.55" filter="url(#bl)"/>
<ellipse cx="195" cy="270.8" rx="8" ry="3.8" fill="#ff8a00" opacity="0.33" filter="url(#bl)"/>
<ellipse cx="215" cy="270.8" rx="12" ry="3.8" fill="#ff8a00" opacity="0.6050000000000001" filter="url(#bl)"/>
<ellipse cx="240" cy="269.4" rx="9" ry="3.8" fill="#ff8a00" opacity="0.55" filter="url(#bl)"/>
<ellipse cx="262" cy="269.4" rx="6" ry="3.8" fill="#ff8a00" opacity="0.33" filter="url(#bl)"/>
<ellipse cx="285" cy="270.8" rx="10" ry="3.8" fill="#ff8a00" opacity="0.66" filter="url(#bl)"/>
<ellipse cx="305" cy="270.8" rx="7" ry="3.8" fill="#ff8a00" opacity="0.55" filter="url(#bl)"/>
<ellipse cx="330" cy="269.4" rx="10" ry="3.8" fill="#ff8a00" opacity="0.275" filter="url(#bl)"/>
<ellipse cx="372" cy="269.4" rx="20" ry="3.8" fill="#ff8a00" opacity="0.935" filter="url(#bl)"/>
<ellipse cx="396" cy="269.4" rx="8" ry="3.8" fill="#ff8a00" opacity="0.77" filter="url(#bl)"/>
<ellipse cx="406" cy="269.4" rx="5" ry="3.8" fill="#ff8a00" opacity="0.55" filter="url(#bl)"/>
<ellipse cx="452" cy="268" rx="7" ry="4.2" fill="#ff8a00" opacity="0.935" filter="url(#bl)"/>
<ellipse cx="485" cy="268" rx="14" ry="4.2" fill="#ff8a00" opacity="0.77" filter="url(#bl)"/>
<ellipse cx="512" cy="268" rx="12" ry="4.2" fill="#ff8a00" opacity="0.77" filter="url(#bl)"/>
<ellipse cx="78.6" cy="255.7" rx="7.4" ry="2.6" fill="#f4fc00" opacity="0.6378945542788634" filter="url(#bl)"/>
<ellipse cx="70.4" cy="280.7" rx="9.3" ry="2.8" fill="#eefa00" opacity="0.5639665732773668" filter="url(#bl)"/>
<ellipse cx="91.2" cy="256.3" rx="9" ry="2.6" fill="#f4fc00" opacity="0.6478915922193167" filter="url(#bl)"/>
<ellipse cx="89.8" cy="281.9" rx="7" ry="2.8" fill="#eefa00" opacity="0.6346743413577285" filter="url(#bl)"/>
<ellipse cx="116.1" cy="256.7" rx="7.1" ry="2.6" fill="#f4fc00" opacity="0.4625187951405189" filter="url(#bl)"/>
<ellipse cx="111" cy="281.4" rx="9.2" ry="2.8" fill="#eefa00" opacity="0.4217416970354275" filter="url(#bl)"/>
<ellipse cx="132.8" cy="255.2" rx="7.2" ry="2.6" fill="#f4fc00" opacity="0.5460364640906683" filter="url(#bl)"/>
<ellipse cx="135.8" cy="281.3" rx="6.5" ry="2.8" fill="#eefa00" opacity="0.6438204029984144" filter="url(#bl)"/>
<ellipse cx="162.8" cy="256.5" rx="10.5" ry="2.6" fill="#f4fc00" opacity="0.6474105069839804" filter="url(#bl)"/>
<ellipse cx="152.1" cy="280.7" rx="6.5" ry="2.8" fill="#eefa00" opacity="0.6235488926952003" filter="url(#bl)"/>
<ellipse cx="178" cy="255.2" rx="8.7" ry="2.6" fill="#f4fc00" opacity="0.6218946235023831" filter="url(#bl)"/>
<ellipse cx="178.1" cy="279.8" rx="11.6" ry="2.8" fill="#eefa00" opacity="0.3697378068407297" filter="url(#bl)"/>
<ellipse cx="202.1" cy="256.9" rx="10.5" ry="2.6" fill="#f4fc00" opacity="0.6810534105595738" filter="url(#bl)"/>
<ellipse cx="198.4" cy="280" rx="8.8" ry="2.8" fill="#eefa00" opacity="0.6083523180218042" filter="url(#bl)"/>
<ellipse cx="221.7" cy="255.8" rx="11.7" ry="2.6" fill="#f4fc00" opacity="0.36228394335717995" filter="url(#bl)"/>
<ellipse cx="218.4" cy="279.6" rx="8.1" ry="2.8" fill="#eefa00" opacity="0.6962551698199065" filter="url(#bl)"/>
<ellipse cx="234.4" cy="257" rx="11.4" ry="2.6" fill="#f4fc00" opacity="0.5908957408450999" filter="url(#bl)"/>
<ellipse cx="233.7" cy="280.7" rx="10.2" ry="2.8" fill="#eefa00" opacity="0.38331703880126344" filter="url(#bl)"/>
<ellipse cx="257.1" cy="255.2" rx="11.1" ry="2.6" fill="#f4fc00" opacity="0.6703409077490293" filter="url(#bl)"/>
<ellipse cx="264.6" cy="281.4" rx="9.5" ry="2.8" fill="#eefa00" opacity="0.37176938748315225" filter="url(#bl)"/>
<ellipse cx="279.8" cy="256.5" rx="10.5" ry="2.6" fill="#f4fc00" opacity="0.3593545034181319" filter="url(#bl)"/>
<ellipse cx="274.1" cy="279.7" rx="11.5" ry="2.8" fill="#eefa00" opacity="0.3897094678314015" filter="url(#bl)"/>
<ellipse cx="299.2" cy="256" rx="11.3" ry="2.6" fill="#f4fc00" opacity="0.39746867145435644" filter="url(#bl)"/>
<ellipse cx="297.6" cy="281.4" rx="6.5" ry="2.8" fill="#eefa00" opacity="0.4074870601460713" filter="url(#bl)"/>
<ellipse cx="315.3" cy="256.9" rx="7.4" ry="2.6" fill="#f4fc00" opacity="0.5255290763032929" filter="url(#bl)"/>
<ellipse cx="319.5" cy="282" rx="10.3" ry="2.8" fill="#eefa00" opacity="0.5603878192310101" filter="url(#bl)"/>
<ellipse cx="341.4" cy="255.5" rx="11" ry="2.6" fill="#f4fc00" opacity="0.38606949646033695" filter="url(#bl)"/>
<ellipse cx="343" cy="280.2" rx="7.7" ry="2.8" fill="#eefa00" opacity="0.5088081837137305" filter="url(#bl)"/>
<ellipse cx="358.3" cy="256.2" rx="6.4" ry="2.6" fill="#f4fc00" opacity="0.35658410830268317" filter="url(#bl)"/>
<ellipse cx="357.7" cy="279.7" rx="11.3" ry="2.8" fill="#eefa00" opacity="0.5286382002488519" filter="url(#bl)"/>
<ellipse cx="384.6" cy="256.6" rx="7" ry="2.6" fill="#f4fc00" opacity="0.6829710817519449" filter="url(#bl)"/>
<ellipse cx="381.1" cy="280.7" rx="8.9" ry="2.8" fill="#eefa00" opacity="0.5933457336296337" filter="url(#bl)"/>
<ellipse cx="406.2" cy="255.4" rx="11" ry="2.6" fill="#f4fc00" opacity="0.49983898845244756" filter="url(#bl)"/>
<ellipse cx="400" cy="281.7" rx="11.2" ry="2.8" fill="#eefa00" opacity="0.6503024822716831" filter="url(#bl)"/>
<ellipse cx="421.4" cy="256.8" rx="10.7" ry="2.6" fill="#f4fc00" opacity="0.6895562200163214" filter="url(#bl)"/>
<ellipse cx="426.6" cy="282" rx="8.9" ry="2.8" fill="#eefa00" opacity="0.6122354166112829" filter="url(#bl)"/>
<ellipse cx="447.4" cy="256" rx="9" ry="2.6" fill="#f4fc00" opacity="0.49014412454674294" filter="url(#bl)"/>
<ellipse cx="448.4" cy="280.4" rx="10.5" ry="2.8" fill="#eefa00" opacity="0.5466503589988323" filter="url(#bl)"/>
<ellipse cx="467" cy="255.6" rx="6.5" ry="2.6" fill="#f4fc00" opacity="0.5862984242743989" filter="url(#bl)"/>
<ellipse cx="460.2" cy="280.4" rx="10.7" ry="2.8" fill="#eefa00" opacity="0.36714859064102356" filter="url(#bl)"/>
<ellipse cx="489.9" cy="256.2" rx="9.4" ry="2.6" fill="#f4fc00" opacity="0.5869850233414402" filter="url(#bl)"/>
<ellipse cx="479.7" cy="279.6" rx="10.3" ry="2.8" fill="#eefa00" opacity="0.5552821624425304" filter="url(#bl)"/>
<ellipse cx="507.2" cy="256.6" rx="7.6" ry="2.6" fill="#f4fc00" opacity="0.4063313717279011" filter="url(#bl)"/>
<ellipse cx="511.1" cy="279.7" rx="9.1" ry="2.8" fill="#eefa00" opacity="0.568387609005069" filter="url(#bl)"/>
<rect x="447" y="260" width="84" height="8.5" fill="#ffb400" opacity="0.9" filter="url(#bl2)"/>
<rect x="447" y="256.5" width="84" height="3" fill="#fff000" opacity="0.8" filter="url(#bl2)"/>
<rect x="352" y="259.5" width="60" height="4" fill="#ffd800" opacity="0.5" filter="url(#bl2)"/>
<rect x="470" y="253.5" width="58" height="4" fill="#fff000" opacity="0.6" filter="url(#bl2)"/>
<ellipse cx="418" cy="268.5" rx="5" ry="6.5" fill="#ffe800" opacity="0.5" filter="url(#bl)"/>
<ellipse cx="466" cy="268.5" rx="4" ry="6.5" fill="#ffe800" opacity="0.4" filter="url(#bl)"/>
<ellipse cx="83" cy="281" rx="5" ry="4" fill="#fff000" opacity="0.5" filter="url(#bl)"/>
<polygon points="427,254 446,254 443,284 426,284" fill="#a8f400" opacity="0.6" filter="url(#bl)"/>
<polygon points="430.5,250 442,250 440,280 437.5,298 431.5,298 429.5,280" fill="#48f028" opacity="0.95" filter="url(#bl2)"/>
<polygon points="432,256 440,256 438.5,284 432,284" fill="#44ee24" filter="url(#bl2)"/>
<rect x="431" y="287" width="7" height="13" fill="#00ecb0" opacity="0.85" filter="url(#bl2)"/>
</g>
<path d="M71.6 312.2h2.5M76.6 312.2h3.8M81.7 312.2h1.3M85.5 312.2h1.3M91.8 312.2h2.5M96.8 312.2h2.5M101.8 312.2h2.5M110.7 312.2h1.3M114.4 312.2h1.3M119.5 312.2h1.3M123.3 312.2h1.3M125.8 312.2h5M139.6 312.2h2.5M145.9 312.2h2.5M152.2 312.2h1.3M158.5 312.2h1.3M166.1 312.2h2.5M169.9 312.2h3.8M180 312.2h1.3M185 312.2h3.8M193.8 312.2h1.3M198.9 312.2h1.3M201.4 312.2h5M207.7 312.2h1.3M210.2 312.2h2.5M214 312.2h2.5M229.1 312.2h2.5M237.9 312.2h1.3M240.4 312.2h1.3M243 312.2h1.3M245.5 312.2h1.3M250.5 312.2h1.3M255.6 312.2h1.3M259.3 312.2h2.5M268.2 312.2h2.5M275.7 312.2h2.5M283.3 312.2h3.8M288.3 312.2h1.3M290.8 312.2h2.5M295.9 312.2h1.3M302.2 312.2h1.3M307.2 312.2h2.5M311 312.2h1.3M319.8 312.2h1.3M324.9 312.2h1.3M328.6 312.2h1.3M331.2 312.2h1.3M334.9 312.2h1.3M338.7 312.2h2.5M343.8 312.2h5M352.6 312.2h2.5M365.2 312.2h3.8M370.2 312.2h1.3M374 312.2h1.3M381.6 312.2h1.3M397.9 312.2h1.3M403 312.2h1.3M405.5 312.2h1.3M410.5 312.2h2.5M416.8 312.2h3.8M421.9 312.2h1.3M424.4 312.2h1.3M426.9 312.2h1.3M430.7 312.2h2.5M440.8 312.2h1.3M443.3 312.2h1.3M448.3 312.2h1.3M458.4 312.2h1.3M467.2 312.2h2.5M471 312.2h1.3M478.6 312.2h1.3M481.1 312.2h1.3M483.6 312.2h1.3M491.2 312.2h1.3M495 312.2h2.5M498.7 312.2h1.3M507.6 312.2h1.3M511.3 312.2h3.8M518.9 312.2h2.5M522.7 312.2h2.5" stroke="#ff00ff" stroke-width="2.2" fill="none"/>
<path d="M74.1 312.2h2.5M80.4 312.2h1.3M82.9 312.2h2.5M86.7 312.2h3.8M95.5 312.2h1.3M99.3 312.2h1.3M104.4 312.2h2.5M109.4 312.2h1.3M115.7 312.2h1.3M118.2 312.2h1.3M122 312.2h1.3M124.5 312.2h1.3M130.8 312.2h2.5M142.2 312.2h3.8M149.7 312.2h2.5M153.5 312.2h1.3M156 312.2h1.3M159.8 312.2h1.3M162.3 312.2h1.3M164.8 312.2h1.3M173.7 312.2h1.3M176.2 312.2h2.5M181.2 312.2h3.8M188.8 312.2h2.5M197.6 312.2h1.3M200.1 312.2h1.3M208.9 312.2h1.3M216.5 312.2h3.8M221.5 312.2h7.6M232.9 312.2h1.3M235.4 312.2h2.5M241.7 312.2h1.3M244.2 312.2h1.3M246.7 312.2h3.8M253 312.2h1.3M256.8 312.2h1.3M263.1 312.2h2.5M266.9 312.2h1.3M270.7 312.2h3.8M278.2 312.2h3.8M287.1 312.2h1.3M289.6 312.2h1.3M293.4 312.2h2.5M298.4 312.2h2.5M303.4 312.2h1.3M306 312.2h1.3M309.7 312.2h1.3M312.3 312.2h2.5M316 312.2h2.5M321.1 312.2h3.8M326.1 312.2h1.3M329.9 312.2h1.3M333.7 312.2h1.3M341.2 312.2h1.3M348.8 312.2h3.8M356.4 312.2h5M363.9 312.2h1.3M371.5 312.2h1.3M375.3 312.2h2.5M379 312.2h1.3M382.8 312.2h3.8M387.9 312.2h1.3M390.4 312.2h1.3M392.9 312.2h2.5M396.7 312.2h1.3M399.2 312.2h1.3M404.2 312.2h1.3M406.8 312.2h1.3M409.3 312.2h1.3M413.1 312.2h3.8M423.1 312.2h1.3M429.4 312.2h1.3M434.5 312.2h6.3M442 312.2h1.3M445.8 312.2h1.3M449.6 312.2h2.5M454.6 312.2h2.5M459.7 312.2h1.3M462.2 312.2h2.5M469.8 312.2h1.3M473.5 312.2h2.5M479.8 312.2h1.3M482.4 312.2h1.3M486.1 312.2h2.5M492.4 312.2h2.5M500 312.2h5M510.1 312.2h1.3M517.6 312.2h1.3M521.4 312.2h1.3" stroke="#2000ff" stroke-width="2.2" fill="none"/>
<path d="M90.5 312.2h1.3M94.3 312.2h1.3M100.6 312.2h1.3M106.9 312.2h1.3M113.2 312.2h1.3M134.6 312.2h3.8M148.5 312.2h1.3M157.3 312.2h1.3M168.6 312.2h1.3M191.3 312.2h1.3M196.3 312.2h1.3M234.1 312.2h1.3M282 312.2h1.3M314.8 312.2h1.3M332.4 312.2h1.3M336.2 312.2h1.3M342.5 312.2h1.3M377.8 312.2h1.3M408 312.2h1.3M466 312.2h1.3M472.3 312.2h1.3" stroke="#00c0ff" stroke-width="2.2" fill="none"/>
<path d="M108.1 312.2h1.3M111.9 312.2h1.3M117 312.2h1.3M120.7 312.2h1.3M133.3 312.2h1.3M138.4 312.2h1.3M154.8 312.2h1.3M161.1 312.2h1.3M163.6 312.2h1.3M174.9 312.2h1.3M178.7 312.2h1.3M192.6 312.2h1.3M195.1 312.2h1.3M206.4 312.2h1.3M212.7 312.2h1.3M220.3 312.2h1.3M231.6 312.2h1.3M239.2 312.2h1.3M251.8 312.2h1.3M254.3 312.2h1.3M258.1 312.2h1.3M261.9 312.2h1.3M265.6 312.2h1.3M274.5 312.2h1.3M297.1 312.2h1.3M300.9 312.2h1.3M304.7 312.2h1.3M318.6 312.2h1.3M327.4 312.2h1.3M337.5 312.2h1.3M355.1 312.2h1.3M361.4 312.2h2.5M369 312.2h1.3M372.7 312.2h1.3M380.3 312.2h1.3M386.6 312.2h1.3M389.1 312.2h1.3M391.6 312.2h1.3M395.4 312.2h1.3M400.5 312.2h2.5M420.6 312.2h1.3M425.7 312.2h1.3M428.2 312.2h1.3M433.2 312.2h1.3M444.6 312.2h1.3M447.1 312.2h1.3M452.1 312.2h2.5M457.2 312.2h1.3M460.9 312.2h1.3M464.7 312.2h1.3M476.1 312.2h2.5M484.9 312.2h1.3M488.7 312.2h2.5M497.5 312.2h1.3M505 312.2h2.5M508.8 312.2h1.3M515.1 312.2h2.5" stroke="#0060ff" stroke-width="2.2" fill="none"/>
<path d="M71.6 310h1.3M74.1 310h1.3M77.9 310h5M89.2 310h1.3M99.3 310h3.8M106.9 310h1.3M110.7 310h1.3M117 310h1.3M120.7 310h1.3M134.6 310h1.3M142.2 310h1.3M152.2 310h2.5M158.5 310h1.3M161.1 310h1.3M163.6 310h1.3M169.9 310h1.3M173.7 310h2.5M180 310h1.3M193.8 310h1.3M201.4 310h3.8M207.7 310h1.3M210.2 310h1.3M216.5 310h1.3M219 310h2.5M222.8 310h3.8M229.1 310h2.5M235.4 310h2.5M243 310h1.3M246.7 310h1.3M256.8 310h3.8M269.4 310h2.5M280.8 310h1.3M285.8 310h1.3M289.6 310h1.3M293.4 310h1.3M295.9 310h1.3M300.9 310h1.3M304.7 310h3.8M311 310h1.3M313.5 310h2.5M323.6 310h2.5M331.2 310h1.3M340 310h1.3M343.8 310h1.3M346.3 310h1.3M355.1 310h2.5M358.9 310h1.3M367.7 310h1.3M371.5 310h5M380.3 310h2.5M385.3 310h1.3M391.6 310h3.8M406.8 310h3.8M423.1 310h2.5M430.7 310h1.3M434.5 310h5M442 310h1.3M447.1 310h1.3M450.9 310h1.3M453.4 310h1.3M462.2 310h1.3M467.2 310h1.3M472.3 310h1.3M477.3 310h1.3M479.8 310h1.3M484.9 310h5M493.7 310h1.3M496.2 310h1.3M498.7 310h1.3M503.8 310h1.3M507.6 310h1.3M510.1 310h2.5M513.9 310h2.5M520.2 310h2.5" stroke="#ff00ff" stroke-width="2.2" fill="none"/>
<path d="M72.9 310h1.3M84.2 310h1.3M86.7 310h1.3M90.5 310h1.3M98.1 310h1.3M111.9 310h1.3M138.4 310h1.3M147.2 310h1.3M151 310h1.3M181.2 310h1.3M191.3 310h1.3M200.1 310h1.3M212.7 310h1.3M215.2 310h1.3M227.8 310h1.3M231.6 310h2.5M241.7 310h1.3M249.3 310h2.5M253 310h1.3M260.6 310h1.3M264.4 310h1.3M273.2 310h1.3M283.3 310h2.5M288.3 310h1.3M294.6 310h1.3M297.1 310h1.3M302.2 310h1.3M316 310h3.8M322.3 310h1.3M329.9 310h1.3M337.5 310h1.3M345 310h1.3M365.2 310h2.5M369 310h2.5M386.6 310h1.3M395.4 310h1.3M399.2 310h1.3M413.1 310h1.3M418.1 310h1.3M425.7 310h1.3M429.4 310h1.3M439.5 310h1.3M445.8 310h1.3M457.2 310h1.3M459.7 310h1.3M464.7 310h1.3M474.8 310h1.3M478.6 310h1.3M481.1 310h2.5M492.4 310h1.3M495 310h1.3M502.5 310h1.3M506.3 310h1.3M517.6 310h1.3" stroke="#0060ff" stroke-width="2.2" fill="none"/>
<path d="M75.4 310h2.5M85.5 310h1.3M88 310h1.3M91.8 310h1.3M94.3 310h3.8M103.1 310h1.3M105.6 310h1.3M108.1 310h2.5M113.2 310h3.8M118.2 310h2.5M122 310h2.5M127 310h6.3M135.9 310h2.5M140.9 310h1.3M143.4 310h3.8M148.5 310h2.5M154.8 310h1.3M162.3 310h1.3M164.8 310h3.8M171.1 310h2.5M177.4 310h2.5M182.5 310h5M188.8 310h2.5M195.1 310h1.3M197.6 310h2.5M205.2 310h2.5M208.9 310h1.3M211.5 310h1.3M214 310h1.3M217.8 310h1.3M221.5 310h1.3M226.6 310h1.3M237.9 310h1.3M240.4 310h1.3M244.2 310h2.5M248 310h1.3M251.8 310h1.3M255.6 310h1.3M261.9 310h2.5M265.6 310h3.8M271.9 310h1.3M274.5 310h6.3M282 310h1.3M287.1 310h1.3M290.8 310h2.5M298.4 310h2.5M303.4 310h1.3M308.5 310h2.5M312.3 310h1.3M319.8 310h2.5M326.1 310h3.8M333.7 310h3.8M338.7 310h1.3M341.2 310h2.5M348.8 310h1.3M351.3 310h3.8M357.6 310h1.3M360.1 310h5M376.5 310h1.3M379 310h1.3M384.1 310h1.3M387.9 310h1.3M390.4 310h1.3M396.7 310h2.5M400.5 310h6.3M410.5 310h2.5M414.3 310h3.8M419.4 310h3.8M426.9 310h2.5M432 310h2.5M440.8 310h1.3M443.3 310h1.3M448.3 310h2.5M452.1 310h1.3M454.6 310h1.3M458.4 310h1.3M466 310h1.3M468.5 310h2.5M473.5 310h1.3M476.1 310h1.3M483.6 310h1.3M489.9 310h2.5M497.5 310h1.3M500 310h1.3M505 310h1.3M508.8 310h1.3M512.6 310h1.3M518.9 310h1.3M522.7 310h2.5" stroke="#2000ff" stroke-width="2.2" fill="none"/>
<path d="M82.9 310h1.3M93 310h1.3M104.4 310h1.3M124.5 310h2.5M133.3 310h1.3M139.6 310h1.3M156 310h2.5M159.8 310h1.3M168.6 310h1.3M176.2 310h1.3M187.5 310h1.3M192.6 310h1.3M196.3 310h1.3M234.1 310h1.3M239.2 310h1.3M254.3 310h1.3M332.4 310h1.3M347.5 310h1.3M350.1 310h1.3M377.8 310h1.3M382.8 310h1.3M389.1 310h1.3M444.6 310h1.3M455.9 310h1.3M460.9 310h1.3M463.5 310h1.3M471 310h1.3M501.3 310h1.3M516.4 310h1.3" stroke="#00c0ff" stroke-width="2.2" fill="none"/>
<path d="M71.6 307.9h1.3M75.4 307.9h1.3M81.7 307.9h1.3M93 307.9h1.3M103.1 307.9h1.3M114.4 307.9h2.5M123.3 307.9h1.3M127 307.9h1.3M132.1 307.9h2.5M137.1 307.9h1.3M140.9 307.9h1.3M157.3 307.9h1.3M166.1 307.9h1.3M168.6 307.9h1.3M174.9 307.9h1.3M185 307.9h1.3M190 307.9h2.5M196.3 307.9h1.3M206.4 307.9h1.3M211.5 307.9h1.3M217.8 307.9h1.3M220.3 307.9h1.3M239.2 307.9h1.3M250.5 307.9h1.3M254.3 307.9h2.5M261.9 307.9h1.3M270.7 307.9h6.3M293.4 307.9h3.8M300.9 307.9h1.3M304.7 307.9h1.3M308.5 307.9h2.5M316 307.9h1.3M318.6 307.9h2.5M336.2 307.9h1.3M343.8 307.9h1.3M346.3 307.9h1.3M348.8 307.9h2.5M356.4 307.9h2.5M362.7 307.9h2.5M366.4 307.9h1.3M371.5 307.9h1.3M375.3 307.9h1.3M377.8 307.9h1.3M386.6 307.9h1.3M389.1 307.9h1.3M391.6 307.9h2.5M397.9 307.9h2.5M401.7 307.9h1.3M404.2 307.9h1.3M406.8 307.9h3.8M411.8 307.9h1.3M416.8 307.9h1.3M420.6 307.9h3.8M432 307.9h1.3M445.8 307.9h1.3M450.9 307.9h1.3M458.4 307.9h2.5M463.5 307.9h1.3M467.2 307.9h1.3M474.8 307.9h1.3M477.3 307.9h2.5M486.1 307.9h1.3M491.2 307.9h1.3M495 307.9h1.3M497.5 307.9h2.5M502.5 307.9h1.3M508.8 307.9h2.5M521.4 307.9h3.8" stroke="#ff00ff" stroke-width="2.2" fill="none"/>
<path d="M72.9 307.9h1.3M77.9 307.9h1.3M85.5 307.9h1.3M89.2 307.9h1.3M94.3 307.9h3.8M108.1 307.9h2.5M117 307.9h1.3M144.7 307.9h1.3M151 307.9h1.3M153.5 307.9h1.3M156 307.9h1.3M162.3 307.9h1.3M167.4 307.9h1.3M181.2 307.9h1.3M195.1 307.9h1.3M205.2 307.9h1.3M208.9 307.9h1.3M214 307.9h1.3M219 307.9h1.3M222.8 307.9h2.5M227.8 307.9h1.3M237.9 307.9h1.3M243 307.9h2.5M265.6 307.9h2.5M269.4 307.9h1.3M283.3 307.9h1.3M285.8 307.9h1.3M303.4 307.9h1.3M306 307.9h1.3M333.7 307.9h2.5M342.5 307.9h1.3M358.9 307.9h1.3M394.2 307.9h1.3M410.5 307.9h1.3M414.3 307.9h1.3M430.7 307.9h1.3M433.2 307.9h2.5M454.6 307.9h1.3M471 307.9h2.5M488.7 307.9h1.3M500 307.9h1.3M511.3 307.9h2.5" stroke="#00c8ff" stroke-width="2.2" fill="none"/>
<path d="M74.1 307.9h1.3M76.6 307.9h1.3M79.2 307.9h2.5M82.9 307.9h1.3M86.7 307.9h1.3M90.5 307.9h1.3M98.1 307.9h2.5M101.8 307.9h1.3M104.4 307.9h1.3M106.9 307.9h1.3M110.7 307.9h3.8M118.2 307.9h2.5M124.5 307.9h2.5M129.6 307.9h1.3M134.6 307.9h2.5M138.4 307.9h2.5M143.4 307.9h1.3M145.9 307.9h1.3M148.5 307.9h2.5M152.2 307.9h1.3M154.8 307.9h1.3M158.5 307.9h2.5M164.8 307.9h1.3M171.1 307.9h1.3M176.2 307.9h2.5M180 307.9h1.3M182.5 307.9h2.5M186.3 307.9h3.8M192.6 307.9h1.3M198.9 307.9h6.3M207.7 307.9h1.3M215.2 307.9h2.5M226.6 307.9h1.3M230.4 307.9h7.6M240.4 307.9h2.5M248 307.9h2.5M253 307.9h1.3M256.8 307.9h5M263.1 307.9h2.5M268.2 307.9h1.3M277 307.9h1.3M279.5 307.9h3.8M284.5 307.9h1.3M287.1 307.9h3.8M298.4 307.9h2.5M307.2 307.9h1.3M313.5 307.9h1.3M321.1 307.9h2.5M324.9 307.9h2.5M328.6 307.9h5M337.5 307.9h3.8M345 307.9h1.3M347.5 307.9h1.3M352.6 307.9h3.8M365.2 307.9h1.3M367.7 307.9h2.5M372.7 307.9h2.5M376.5 307.9h1.3M379 307.9h5M385.3 307.9h1.3M387.9 307.9h1.3M395.4 307.9h2.5M403 307.9h1.3M413.1 307.9h1.3M415.6 307.9h1.3M418.1 307.9h2.5M424.4 307.9h1.3M428.2 307.9h2.5M435.7 307.9h1.3M438.3 307.9h7.6M447.1 307.9h3.8M452.1 307.9h2.5M455.9 307.9h1.3M464.7 307.9h1.3M468.5 307.9h2.5M481.1 307.9h2.5M489.9 307.9h1.3M492.4 307.9h2.5M501.3 307.9h1.3M506.3 307.9h2.5M515.1 307.9h3.8" stroke="#2000ff" stroke-width="2.2" fill="none"/>
<path d="M84.2 307.9h1.3M88 307.9h1.3M91.8 307.9h1.3M100.6 307.9h1.3M105.6 307.9h1.3M120.7 307.9h2.5M128.3 307.9h1.3M130.8 307.9h1.3M142.2 307.9h1.3M147.2 307.9h1.3M161.1 307.9h1.3M163.6 307.9h1.3M169.9 307.9h1.3M172.4 307.9h2.5M178.7 307.9h1.3M193.8 307.9h1.3M197.6 307.9h1.3M210.2 307.9h1.3M212.7 307.9h1.3M221.5 307.9h1.3M225.3 307.9h1.3M229.1 307.9h1.3M245.5 307.9h2.5M251.8 307.9h1.3M278.2 307.9h1.3M290.8 307.9h2.5M297.1 307.9h1.3M302.2 307.9h1.3M311 307.9h2.5M314.8 307.9h1.3M317.3 307.9h1.3M323.6 307.9h1.3M327.4 307.9h1.3M341.2 307.9h1.3M351.3 307.9h1.3M360.1 307.9h2.5M370.2 307.9h1.3M384.1 307.9h1.3M390.4 307.9h1.3M400.5 307.9h1.3M405.5 307.9h1.3M425.7 307.9h2.5M437 307.9h1.3M457.2 307.9h1.3M460.9 307.9h2.5M466 307.9h1.3M473.5 307.9h1.3M476.1 307.9h1.3M479.8 307.9h1.3M483.6 307.9h2.5M487.4 307.9h1.3M496.2 307.9h1.3M503.8 307.9h2.5M513.9 307.9h1.3M518.9 307.9h2.5" stroke="#0060ff" stroke-width="2.2" fill="none"/>
<path d="M71.6 305.7h1.3M77.9 305.7h2.5M94.3 305.7h2.5M108.1 305.7h1.3M113.2 305.7h1.3M125.8 305.7h2.5M133.3 305.7h2.5M138.4 305.7h1.3M145.9 305.7h1.3M154.8 305.7h1.3M167.4 305.7h1.3M173.7 305.7h1.3M176.2 305.7h1.3M178.7 305.7h1.3M181.2 305.7h2.5M186.3 305.7h1.3M201.4 305.7h1.3M210.2 305.7h2.5M215.2 305.7h3.8M224.1 305.7h1.3M227.8 305.7h1.3M230.4 305.7h3.8M236.7 305.7h1.3M243 305.7h2.5M250.5 305.7h1.3M254.3 305.7h1.3M264.4 305.7h1.3M268.2 305.7h3.8M278.2 305.7h2.5M282 305.7h1.3M284.5 305.7h2.5M288.3 305.7h1.3M298.4 305.7h1.3M302.2 305.7h3.8M314.8 305.7h1.3M319.8 305.7h1.3M323.6 305.7h1.3M327.4 305.7h2.5M331.2 305.7h2.5M337.5 305.7h1.3M340 305.7h2.5M347.5 305.7h1.3M350.1 305.7h1.3M353.8 305.7h1.3M356.4 305.7h1.3M358.9 305.7h3.8M367.7 305.7h3.8M376.5 305.7h7.6M387.9 305.7h1.3M392.9 305.7h2.5M399.2 305.7h1.3M401.7 305.7h1.3M404.2 305.7h1.3M406.8 305.7h1.3M411.8 305.7h1.3M418.1 305.7h1.3M425.7 305.7h1.3M433.2 305.7h5M439.5 305.7h2.5M453.4 305.7h1.3M460.9 305.7h1.3M464.7 305.7h1.3M469.8 305.7h1.3M477.3 305.7h2.5M482.4 305.7h2.5M491.2 305.7h3.8M496.2 305.7h1.3M498.7 305.7h1.3M505 305.7h1.3M520.2 305.7h1.3" stroke="#0070ff" stroke-width="2.2" fill="none"/>
<path d="M72.9 305.7h1.3M75.4 305.7h1.3M80.4 305.7h1.3M82.9 305.7h2.5M91.8 305.7h2.5M98.1 305.7h5M104.4 305.7h1.3M115.7 305.7h3.8M128.3 305.7h5M137.1 305.7h1.3M139.6 305.7h2.5M143.4 305.7h2.5M149.7 305.7h1.3M152.2 305.7h2.5M156 305.7h3.8M162.3 305.7h1.3M164.8 305.7h2.5M169.9 305.7h1.3M172.4 305.7h1.3M183.7 305.7h2.5M187.5 305.7h1.3M190 305.7h1.3M193.8 305.7h2.5M197.6 305.7h1.3M202.6 305.7h3.8M207.7 305.7h2.5M212.7 305.7h2.5M219 305.7h5M225.3 305.7h1.3M229.1 305.7h1.3M234.1 305.7h1.3M239.2 305.7h1.3M245.5 305.7h1.3M248 305.7h2.5M253 305.7h1.3M256.8 305.7h5M263.1 305.7h1.3M265.6 305.7h2.5M273.2 305.7h1.3M277 305.7h1.3M280.8 305.7h1.3M287.1 305.7h1.3M289.6 305.7h7.6M306 305.7h1.3M308.5 305.7h1.3M311 305.7h3.8M318.6 305.7h1.3M322.3 305.7h1.3M326.1 305.7h1.3M334.9 305.7h2.5M338.7 305.7h1.3M342.5 305.7h5M352.6 305.7h1.3M355.1 305.7h1.3M362.7 305.7h2.5M372.7 305.7h3.8M386.6 305.7h1.3M389.1 305.7h2.5M408 305.7h2.5M419.4 305.7h1.3M423.1 305.7h2.5M430.7 305.7h2.5M442 305.7h3.8M447.1 305.7h5M454.6 305.7h6.3M463.5 305.7h1.3M466 305.7h1.3M468.5 305.7h1.3M471 305.7h1.3M474.8 305.7h2.5M481.1 305.7h1.3M484.9 305.7h6.3M500 305.7h1.3M503.8 305.7h1.3M508.8 305.7h3.8M517.6 305.7h1.3M521.4 305.7h3.8" stroke="#2000ff" stroke-width="2.2" fill="none"/>
<path d="M74.1 305.7h1.3M81.7 305.7h1.3M86.7 305.7h5M96.8 305.7h1.3M103.1 305.7h1.3M105.6 305.7h1.3M110.7 305.7h2.5M119.5 305.7h5M135.9 305.7h1.3M142.2 305.7h1.3M148.5 305.7h1.3M151 305.7h1.3M159.8 305.7h2.5M163.6 305.7h1.3M171.1 305.7h1.3M174.9 305.7h1.3M177.4 305.7h1.3M188.8 305.7h1.3M191.3 305.7h1.3M196.3 305.7h1.3M198.9 305.7h2.5M206.4 305.7h1.3M226.6 305.7h1.3M235.4 305.7h1.3M237.9 305.7h1.3M240.4 305.7h2.5M246.7 305.7h1.3M251.8 305.7h1.3M255.6 305.7h1.3M271.9 305.7h1.3M274.5 305.7h2.5M297.1 305.7h1.3M299.7 305.7h2.5M307.2 305.7h1.3M309.7 305.7h1.3M317.3 305.7h1.3M324.9 305.7h1.3M329.9 305.7h1.3M333.7 305.7h1.3M348.8 305.7h1.3M357.6 305.7h1.3M365.2 305.7h2.5M371.5 305.7h1.3M385.3 305.7h1.3M391.6 305.7h1.3M395.4 305.7h3.8M400.5 305.7h1.3M410.5 305.7h1.3M414.3 305.7h3.8M420.6 305.7h1.3M428.2 305.7h2.5M438.3 305.7h1.3M452.1 305.7h1.3M473.5 305.7h1.3M479.8 305.7h1.3M495 305.7h1.3M497.5 305.7h1.3M501.3 305.7h2.5M506.3 305.7h2.5M512.6 305.7h3.8M518.9 305.7h1.3" stroke="#ff00ff" stroke-width="2.2" fill="none"/>
<path d="M76.6 305.7h1.3M85.5 305.7h1.3M106.9 305.7h1.3M109.4 305.7h1.3M114.4 305.7h1.3M124.5 305.7h1.3M147.2 305.7h1.3M168.6 305.7h1.3M180 305.7h1.3M192.6 305.7h1.3M261.9 305.7h1.3M283.3 305.7h1.3M316 305.7h1.3M321.1 305.7h1.3M351.3 305.7h1.3M384.1 305.7h1.3M403 305.7h1.3M405.5 305.7h1.3M413.1 305.7h1.3M421.9 305.7h1.3M426.9 305.7h1.3M445.8 305.7h1.3M462.2 305.7h1.3M467.2 305.7h1.3M472.3 305.7h1.3M516.4 305.7h1.3" stroke="#00d0ff" stroke-width="2.2" fill="none"/>
<path d="M71.6 303.6h1.3M74.1 303.6h1.3M76.6 303.6h5M86.7 303.6h1.3M89.2 303.6h1.3M95.5 303.6h5M103.1 303.6h1.3M109.4 303.6h1.3M113.2 303.6h1.3M123.3 303.6h1.3M129.6 303.6h2.5M140.9 303.6h1.3M143.4 303.6h1.3M149.7 303.6h1.3M153.5 303.6h1.3M156 303.6h1.3M162.3 303.6h1.3M164.8 303.6h2.5M168.6 303.6h1.3M171.1 303.6h1.3M182.5 303.6h1.3M187.5 303.6h1.3M192.6 303.6h6.3M200.1 303.6h2.5M206.4 303.6h1.3M208.9 303.6h6.3M219 303.6h2.5M222.8 303.6h1.3M227.8 303.6h1.3M232.9 303.6h1.3M240.4 303.6h2.5M244.2 303.6h1.3M250.5 303.6h1.3M253 303.6h1.3M259.3 303.6h1.3M266.9 303.6h5M273.2 303.6h2.5M280.8 303.6h3.8M289.6 303.6h1.3M292.1 303.6h2.5M298.4 303.6h2.5M303.4 303.6h1.3M306 303.6h3.8M313.5 303.6h1.3M318.6 303.6h1.3M326.1 303.6h1.3M329.9 303.6h1.3M332.4 303.6h1.3M337.5 303.6h1.3M341.2 303.6h2.5M345 303.6h1.3M347.5 303.6h2.5M351.3 303.6h1.3M356.4 303.6h2.5M360.1 303.6h1.3M362.7 303.6h2.5M370.2 303.6h1.3M375.3 303.6h1.3M382.8 303.6h3.8M387.9 303.6h2.5M391.6 303.6h2.5M397.9 303.6h2.5M404.2 303.6h3.8M409.3 303.6h1.3M418.1 303.6h1.3M423.1 303.6h1.3M426.9 303.6h2.5M437 303.6h1.3M439.5 303.6h1.3M442 303.6h1.3M444.6 303.6h1.3M452.1 303.6h1.3M458.4 303.6h3.8M467.2 303.6h2.5M473.5 303.6h1.3M478.6 303.6h3.8M488.7 303.6h1.3M496.2 303.6h1.3M498.7 303.6h1.3M507.6 303.6h1.3M523.9 303.6h1.3" stroke="#2010ff" stroke-width="2.2" fill="none"/>
<path d="M72.9 303.6h1.3M82.9 303.6h1.3M85.5 303.6h1.3M91.8 303.6h3.8M100.6 303.6h1.3M104.4 303.6h2.5M108.1 303.6h1.3M114.4 303.6h1.3M118.2 303.6h5M135.9 303.6h1.3M138.4 303.6h2.5M142.2 303.6h1.3M144.7 303.6h1.3M152.2 303.6h1.3M154.8 303.6h1.3M157.3 303.6h1.3M161.1 303.6h1.3M163.6 303.6h1.3M167.4 303.6h1.3M172.4 303.6h1.3M174.9 303.6h1.3M178.7 303.6h1.3M183.7 303.6h1.3M186.3 303.6h1.3M188.8 303.6h1.3M191.3 303.6h1.3M202.6 303.6h1.3M205.2 303.6h1.3M215.2 303.6h2.5M221.5 303.6h1.3M229.1 303.6h2.5M234.1 303.6h1.3M236.7 303.6h2.5M245.5 303.6h3.8M254.3 303.6h1.3M256.8 303.6h1.3M260.6 303.6h5M275.7 303.6h1.3M279.5 303.6h1.3M284.5 303.6h3.8M290.8 303.6h1.3M294.6 303.6h2.5M300.9 303.6h2.5M317.3 303.6h1.3M322.3 303.6h1.3M328.6 303.6h1.3M331.2 303.6h1.3M343.8 303.6h1.3M346.3 303.6h1.3M353.8 303.6h2.5M358.9 303.6h1.3M367.7 303.6h1.3M371.5 303.6h3.8M379 303.6h3.8M390.4 303.6h1.3M394.2 303.6h3.8M400.5 303.6h3.8M411.8 303.6h1.3M414.3 303.6h3.8M420.6 303.6h2.5M424.4 303.6h1.3M429.4 303.6h1.3M434.5 303.6h2.5M443.3 303.6h1.3M445.8 303.6h2.5M449.6 303.6h2.5M454.6 303.6h2.5M472.3 303.6h1.3M484.9 303.6h2.5M489.9 303.6h3.8M495 303.6h1.3M502.5 303.6h2.5M506.3 303.6h1.3M510.1 303.6h1.3M512.6 303.6h6.3M520.2 303.6h2.5" stroke="#0080ff" stroke-width="2.2" fill="none"/>
<path d="M75.4 303.6h1.3M84.2 303.6h1.3M90.5 303.6h1.3M101.8 303.6h1.3M106.9 303.6h1.3M111.9 303.6h1.3M115.7 303.6h2.5M124.5 303.6h1.3M127 303.6h2.5M132.1 303.6h1.3M134.6 303.6h1.3M137.1 303.6h1.3M147.2 303.6h2.5M158.5 303.6h2.5M169.9 303.6h1.3M173.7 303.6h1.3M176.2 303.6h2.5M185 303.6h1.3M198.9 303.6h1.3M203.9 303.6h1.3M207.7 303.6h1.3M217.8 303.6h1.3M224.1 303.6h2.5M235.4 303.6h1.3M239.2 303.6h1.3M251.8 303.6h1.3M255.6 303.6h1.3M258.1 303.6h1.3M265.6 303.6h1.3M271.9 303.6h1.3M278.2 303.6h1.3M288.3 303.6h1.3M297.1 303.6h1.3M304.7 303.6h1.3M311 303.6h2.5M314.8 303.6h2.5M319.8 303.6h2.5M323.6 303.6h2.5M327.4 303.6h1.3M333.7 303.6h3.8M340 303.6h1.3M350.1 303.6h1.3M352.6 303.6h1.3M361.4 303.6h1.3M365.2 303.6h2.5M376.5 303.6h2.5M386.6 303.6h1.3M410.5 303.6h1.3M413.1 303.6h1.3M419.4 303.6h1.3M425.7 303.6h1.3M430.7 303.6h1.3M433.2 303.6h1.3M440.8 303.6h1.3M457.2 303.6h1.3M463.5 303.6h3.8M469.8 303.6h2.5M474.8 303.6h1.3M483.6 303.6h1.3M487.4 303.6h1.3M497.5 303.6h1.3M501.3 303.6h1.3M508.8 303.6h1.3M518.9 303.6h1.3M522.7 303.6h1.3" stroke="#00d8ff" stroke-width="2.2" fill="none"/>
<path d="M81.7 303.6h1.3M88 303.6h1.3M110.7 303.6h1.3M125.8 303.6h1.3M133.3 303.6h1.3M145.9 303.6h1.3M151 303.6h1.3M180 303.6h2.5M190 303.6h1.3M226.6 303.6h1.3M231.6 303.6h1.3M243 303.6h1.3M249.3 303.6h1.3M277 303.6h1.3M309.7 303.6h1.3M338.7 303.6h1.3M369 303.6h1.3M408 303.6h1.3M432 303.6h1.3M438.3 303.6h1.3M448.3 303.6h1.3M453.4 303.6h1.3M462.2 303.6h1.3M476.1 303.6h2.5M482.4 303.6h1.3M493.7 303.6h1.3M500 303.6h1.3M505 303.6h1.3M511.3 303.6h1.3" stroke="#ff00ff" stroke-width="2.2" fill="none"/>
<path d="M71.6 301.4h2.5M80.4 301.4h1.3M82.9 301.4h1.3M96.8 301.4h2.5M100.6 301.4h1.3M104.4 301.4h2.5M111.9 301.4h1.3M115.7 301.4h1.3M119.5 301.4h1.3M122 301.4h3.8M127 301.4h1.3M130.8 301.4h1.3M139.6 301.4h1.3M142.2 301.4h3.8M152.2 301.4h1.3M154.8 301.4h2.5M162.3 301.4h2.5M167.4 301.4h2.5M172.4 301.4h1.3M195.1 301.4h2.5M198.9 301.4h1.3M210.2 301.4h1.3M215.2 301.4h1.3M217.8 301.4h1.3M221.5 301.4h1.3M230.4 301.4h1.3M240.4 301.4h2.5M244.2 301.4h1.3M248 301.4h1.3M254.3 301.4h1.3M256.8 301.4h2.5M264.4 301.4h1.3M270.7 301.4h1.3M273.2 301.4h1.3M282 301.4h1.3M285.8 301.4h1.3M288.3 301.4h1.3M293.4 301.4h1.3M302.2 301.4h1.3M307.2 301.4h1.3M319.8 301.4h1.3M326.1 301.4h2.5M331.2 301.4h2.5M355.1 301.4h1.3M358.9 301.4h2.5M366.4 301.4h6.3M379 301.4h1.3M390.4 301.4h1.3M395.4 301.4h1.3M405.5 301.4h1.3M420.6 301.4h3.8M428.2 301.4h1.3M438.3 301.4h1.3M442 301.4h1.3M444.6 301.4h1.3M450.9 301.4h1.3M462.2 301.4h1.3M464.7 301.4h1.3M467.2 301.4h1.3M469.8 301.4h1.3M472.3 301.4h1.3M484.9 301.4h1.3M489.9 301.4h1.3M496.2 301.4h1.3M498.7 301.4h1.3M505 301.4h3.8M513.9 301.4h1.3M520.2 301.4h1.3" stroke="#2020ff" stroke-width="2.2" fill="none"/>
<path d="M74.1 301.4h1.3M77.9 301.4h1.3M88 301.4h1.3M93 301.4h1.3M103.1 301.4h1.3M108.1 301.4h1.3M110.7 301.4h1.3M125.8 301.4h1.3M129.6 301.4h1.3M133.3 301.4h1.3M135.9 301.4h1.3M140.9 301.4h1.3M145.9 301.4h1.3M151 301.4h1.3M158.5 301.4h2.5M166.1 301.4h1.3M171.1 301.4h1.3M174.9 301.4h1.3M177.4 301.4h1.3M183.7 301.4h1.3M188.8 301.4h1.3M192.6 301.4h2.5M197.6 301.4h1.3M201.4 301.4h6.3M208.9 301.4h1.3M212.7 301.4h1.3M216.5 301.4h1.3M220.3 301.4h1.3M222.8 301.4h2.5M226.6 301.4h1.3M234.1 301.4h2.5M246.7 301.4h1.3M249.3 301.4h1.3M253 301.4h1.3M259.3 301.4h1.3M263.1 301.4h1.3M265.6 301.4h3.8M274.5 301.4h1.3M277 301.4h1.3M279.5 301.4h1.3M283.3 301.4h2.5M287.1 301.4h1.3M290.8 301.4h1.3M295.9 301.4h2.5M300.9 301.4h1.3M303.4 301.4h1.3M306 301.4h1.3M311 301.4h1.3M316 301.4h1.3M318.6 301.4h1.3M323.6 301.4h2.5M328.6 301.4h2.5M336.2 301.4h5M342.5 301.4h5M350.1 301.4h1.3M357.6 301.4h1.3M365.2 301.4h1.3M374 301.4h2.5M380.3 301.4h1.3M385.3 301.4h1.3M387.9 301.4h1.3M397.9 301.4h2.5M403 301.4h1.3M408 301.4h7.6M416.8 301.4h1.3M419.4 301.4h1.3M426.9 301.4h1.3M429.4 301.4h1.3M434.5 301.4h1.3M437 301.4h1.3M440.8 301.4h1.3M443.3 301.4h1.3M445.8 301.4h3.8M453.4 301.4h1.3M458.4 301.4h1.3M460.9 301.4h1.3M468.5 301.4h1.3M477.3 301.4h1.3M479.8 301.4h3.8M486.1 301.4h1.3M492.4 301.4h3.8M497.5 301.4h1.3M501.3 301.4h1.3M503.8 301.4h1.3M508.8 301.4h1.3M511.3 301.4h2.5M516.4 301.4h2.5M522.7 301.4h2.5" stroke="#00e0ff" stroke-width="2.2" fill="none"/>
<path d="M75.4 301.4h2.5M79.2 301.4h1.3M81.7 301.4h1.3M85.5 301.4h2.5M89.2 301.4h2.5M94.3 301.4h1.3M99.3 301.4h1.3M101.8 301.4h1.3M106.9 301.4h1.3M109.4 301.4h1.3M113.2 301.4h2.5M118.2 301.4h1.3M120.7 301.4h1.3M128.3 301.4h1.3M132.1 301.4h1.3M134.6 301.4h1.3M137.1 301.4h2.5M147.2 301.4h3.8M153.5 301.4h1.3M157.3 301.4h1.3M161.1 301.4h1.3M164.8 301.4h1.3M169.9 301.4h1.3M173.7 301.4h1.3M176.2 301.4h1.3M178.7 301.4h5M185 301.4h3.8M190 301.4h2.5M200.1 301.4h1.3M207.7 301.4h1.3M211.5 301.4h1.3M214 301.4h1.3M219 301.4h1.3M225.3 301.4h1.3M227.8 301.4h1.3M231.6 301.4h2.5M236.7 301.4h3.8M243 301.4h1.3M245.5 301.4h1.3M250.5 301.4h2.5M255.6 301.4h1.3M261.9 301.4h1.3M271.9 301.4h1.3M275.7 301.4h1.3M278.2 301.4h1.3M280.8 301.4h1.3M289.6 301.4h1.3M292.1 301.4h1.3M294.6 301.4h1.3M298.4 301.4h2.5M304.7 301.4h1.3M308.5 301.4h2.5M313.5 301.4h2.5M321.1 301.4h2.5M333.7 301.4h2.5M341.2 301.4h1.3M347.5 301.4h2.5M353.8 301.4h1.3M356.4 301.4h1.3M361.4 301.4h3.8M372.7 301.4h1.3M376.5 301.4h2.5M381.6 301.4h3.8M386.6 301.4h1.3M389.1 301.4h1.3M391.6 301.4h3.8M396.7 301.4h1.3M400.5 301.4h2.5M404.2 301.4h1.3M406.8 301.4h1.3M415.6 301.4h1.3M418.1 301.4h1.3M424.4 301.4h1.3M430.7 301.4h3.8M435.7 301.4h1.3M439.5 301.4h1.3M452.1 301.4h1.3M454.6 301.4h3.8M459.7 301.4h1.3M463.5 301.4h1.3M466 301.4h1.3M471 301.4h1.3M473.5 301.4h1.3M478.6 301.4h1.3M483.6 301.4h1.3M487.4 301.4h2.5M491.2 301.4h1.3M502.5 301.4h1.3M515.1 301.4h1.3M518.9 301.4h1.3M521.4 301.4h1.3" stroke="#0090ff" stroke-width="2.2" fill="none"/>
<path d="M84.2 301.4h1.3M91.8 301.4h1.3M95.5 301.4h1.3M117 301.4h1.3M229.1 301.4h1.3M260.6 301.4h1.3M269.4 301.4h1.3M312.3 301.4h1.3M317.3 301.4h1.3M351.3 301.4h2.5M425.7 301.4h1.3M449.6 301.4h1.3M474.8 301.4h2.5M500 301.4h1.3M510.1 301.4h1.3" stroke="#ff00ff" stroke-width="2.2" fill="none"/>
<path d="M71.6 299.3h1.3M76.6 299.3h3.8M84.2 299.3h1.3M89.2 299.3h2.5M93 299.3h1.3M96.8 299.3h2.5M100.6 299.3h1.3M109.4 299.3h1.3M114.4 299.3h1.3M117 299.3h1.3M122 299.3h1.3M129.6 299.3h1.3M132.1 299.3h1.3M135.9 299.3h1.3M139.6 299.3h2.5M143.4 299.3h2.5M147.2 299.3h1.3M149.7 299.3h2.5M153.5 299.3h1.3M156 299.3h1.3M162.3 299.3h1.3M164.8 299.3h2.5M168.6 299.3h5M178.7 299.3h6.3M188.8 299.3h5M195.1 299.3h5M205.2 299.3h1.3M207.7 299.3h2.5M212.7 299.3h1.3M216.5 299.3h1.3M221.5 299.3h2.5M225.3 299.3h1.3M229.1 299.3h1.3M231.6 299.3h3.8M236.7 299.3h1.3M239.2 299.3h1.3M243 299.3h1.3M246.7 299.3h3.8M251.8 299.3h7.6M266.9 299.3h1.3M270.7 299.3h3.8M278.2 299.3h5M284.5 299.3h8.8M294.6 299.3h2.5M298.4 299.3h1.3M302.2 299.3h1.3M304.7 299.3h2.5M309.7 299.3h10.1M321.1 299.3h1.3M326.1 299.3h6.3M333.7 299.3h3.8M338.7 299.3h2.5M342.5 299.3h3.8M347.5 299.3h1.3M350.1 299.3h1.3M352.6 299.3h3.8M357.6 299.3h5M365.2 299.3h2.5M369 299.3h1.3M371.5 299.3h1.3M375.3 299.3h2.5M380.3 299.3h1.3M389.1 299.3h2.5M392.9 299.3h1.3M395.4 299.3h3.8M400.5 299.3h2.5M410.5 299.3h2.5M415.6 299.3h7.6M425.7 299.3h2.5M432 299.3h1.3M434.5 299.3h3.8M439.5 299.3h8.8M449.6 299.3h7.6M458.4 299.3h2.5M464.7 299.3h1.3M467.2 299.3h1.3M469.8 299.3h1.3M472.3 299.3h2.5M476.1 299.3h1.3M479.8 299.3h1.3M482.4 299.3h2.5M486.1 299.3h1.3M488.7 299.3h2.5M492.4 299.3h2.5M496.2 299.3h2.5M503.8 299.3h1.3M506.3 299.3h1.3M508.8 299.3h1.3M511.3 299.3h1.3M515.1 299.3h1.3M520.2 299.3h5" stroke="#00e4f4" stroke-width="2.2" fill="none"/>
<path d="M72.9 299.3h1.3M80.4 299.3h1.3M94.3 299.3h1.3M104.4 299.3h2.5M110.7 299.3h1.3M115.7 299.3h1.3M119.5 299.3h1.3M123.3 299.3h1.3M127 299.3h1.3M133.3 299.3h1.3M137.1 299.3h2.5M152.2 299.3h1.3M161.1 299.3h1.3M174.9 299.3h2.5M187.5 299.3h1.3M201.4 299.3h1.3M214 299.3h2.5M217.8 299.3h2.5M224.1 299.3h1.3M237.9 299.3h1.3M241.7 299.3h1.3M250.5 299.3h1.3M260.6 299.3h2.5M265.6 299.3h1.3M299.7 299.3h1.3M322.3 299.3h1.3M346.3 299.3h1.3M356.4 299.3h1.3M370.2 299.3h1.3M372.7 299.3h2.5M379 299.3h1.3M381.6 299.3h2.5M394.2 299.3h1.3M404.2 299.3h1.3M409.3 299.3h1.3M413.1 299.3h1.3M460.9 299.3h1.3M466 299.3h1.3M471 299.3h1.3M481.1 299.3h1.3M505 299.3h1.3M510.1 299.3h1.3M517.6 299.3h1.3" stroke="#2020ff" stroke-width="2.2" fill="none"/>
<path d="M74.1 299.3h2.5M81.7 299.3h2.5M85.5 299.3h3.8M91.8 299.3h1.3M95.5 299.3h1.3M99.3 299.3h1.3M101.8 299.3h2.5M106.9 299.3h2.5M111.9 299.3h2.5M118.2 299.3h1.3M120.7 299.3h1.3M124.5 299.3h2.5M128.3 299.3h1.3M130.8 299.3h1.3M134.6 299.3h1.3M142.2 299.3h1.3M145.9 299.3h1.3M148.5 299.3h1.3M154.8 299.3h1.3M157.3 299.3h3.8M163.6 299.3h1.3M167.4 299.3h1.3M173.7 299.3h1.3M177.4 299.3h1.3M185 299.3h2.5M193.8 299.3h1.3M200.1 299.3h1.3M202.6 299.3h2.5M206.4 299.3h1.3M210.2 299.3h2.5M220.3 299.3h1.3M226.6 299.3h2.5M230.4 299.3h1.3M235.4 299.3h1.3M240.4 299.3h1.3M244.2 299.3h2.5M259.3 299.3h1.3M263.1 299.3h2.5M268.2 299.3h2.5M274.5 299.3h3.8M283.3 299.3h1.3M293.4 299.3h1.3M297.1 299.3h1.3M300.9 299.3h1.3M303.4 299.3h1.3M307.2 299.3h2.5M319.8 299.3h1.3M323.6 299.3h2.5M332.4 299.3h1.3M337.5 299.3h1.3M341.2 299.3h1.3M348.8 299.3h1.3M351.3 299.3h1.3M362.7 299.3h2.5M367.7 299.3h1.3M377.8 299.3h1.3M384.1 299.3h5M391.6 299.3h1.3M399.2 299.3h1.3M403 299.3h1.3M405.5 299.3h3.8M414.3 299.3h1.3M423.1 299.3h2.5M428.2 299.3h3.8M433.2 299.3h1.3M438.3 299.3h1.3M448.3 299.3h1.3M457.2 299.3h1.3M462.2 299.3h2.5M468.5 299.3h1.3M474.8 299.3h1.3M477.3 299.3h2.5M484.9 299.3h1.3M487.4 299.3h1.3M491.2 299.3h1.3M495 299.3h1.3M498.7 299.3h5M507.6 299.3h1.3M512.6 299.3h2.5M516.4 299.3h1.3M518.9 299.3h1.3" stroke="#0098ff" stroke-width="2.2" fill="none"/>
<path d="M71.6 297.1h1.3M77.9 297.1h1.3M86.7 297.1h1.3M93 297.1h1.3M101.8 297.1h2.5M109.4 297.1h3.8M114.4 297.1h2.5M123.3 297.1h1.3M132.1 297.1h1.3M144.7 297.1h1.3M151 297.1h1.3M164.8 297.1h1.3M174.9 297.1h1.3M181.2 297.1h1.3M183.7 297.1h1.3M197.6 297.1h2.5M202.6 297.1h1.3M205.2 297.1h1.3M208.9 297.1h3.8M216.5 297.1h1.3M225.3 297.1h1.3M230.4 297.1h1.3M235.4 297.1h1.3M239.2 297.1h1.3M244.2 297.1h1.3M248 297.1h1.3M256.8 297.1h1.3M259.3 297.1h1.3M263.1 297.1h5M274.5 297.1h1.3M278.2 297.1h1.3M283.3 297.1h1.3M302.2 297.1h1.3M316 297.1h1.3M318.6 297.1h1.3M342.5 297.1h1.3M347.5 297.1h1.3M360.1 297.1h1.3M374 297.1h1.3M376.5 297.1h1.3M381.6 297.1h1.3M384.1 297.1h1.3M392.9 297.1h1.3M397.9 297.1h1.3M403 297.1h1.3M418.1 297.1h2.5M421.9 297.1h2.5M429.4 297.1h1.3M432 297.1h2.5M437 297.1h1.3M442 297.1h1.3M447.1 297.1h1.3M452.1 297.1h1.3M454.6 297.1h1.3M459.7 297.1h1.3M464.7 297.1h1.3M467.2 297.1h2.5M473.5 297.1h1.3M476.1 297.1h1.3M479.8 297.1h1.3M488.7 297.1h1.3M493.7 297.1h2.5M498.7 297.1h1.3M501.3 297.1h1.3M505 297.1h1.3M513.9 297.1h1.3M516.4 297.1h1.3M520.2 297.1h1.3M523.9 297.1h1.3" stroke="#00a0ff" stroke-width="2.2" fill="none"/>
<path d="M72.9 297.1h1.3M75.4 297.1h1.3M79.2 297.1h3.8M84.2 297.1h2.5M89.2 297.1h3.8M94.3 297.1h3.8M99.3 297.1h2.5M104.4 297.1h1.3M106.9 297.1h1.3M113.2 297.1h1.3M118.2 297.1h3.8M125.8 297.1h2.5M129.6 297.1h2.5M133.3 297.1h2.5M138.4 297.1h6.3M145.9 297.1h2.5M153.5 297.1h2.5M157.3 297.1h2.5M161.1 297.1h1.3M163.6 297.1h1.3M166.1 297.1h8.8M176.2 297.1h5M182.5 297.1h1.3M185 297.1h1.3M188.8 297.1h1.3M191.3 297.1h6.3M200.1 297.1h2.5M207.7 297.1h1.3M214 297.1h2.5M217.8 297.1h3.8M222.8 297.1h2.5M226.6 297.1h3.8M231.6 297.1h3.8M240.4 297.1h1.3M243 297.1h1.3M246.7 297.1h1.3M250.5 297.1h6.3M258.1 297.1h1.3M261.9 297.1h1.3M268.2 297.1h1.3M271.9 297.1h1.3M275.7 297.1h2.5M280.8 297.1h2.5M284.5 297.1h6.3M292.1 297.1h10.1M304.7 297.1h1.3M312.3 297.1h1.3M314.8 297.1h1.3M317.3 297.1h1.3M319.8 297.1h7.6M329.9 297.1h12.6M343.8 297.1h1.3M346.3 297.1h1.3M348.8 297.1h1.3M351.3 297.1h3.8M357.6 297.1h2.5M362.7 297.1h3.8M367.7 297.1h6.3M375.3 297.1h1.3M380.3 297.1h1.3M385.3 297.1h1.3M387.9 297.1h1.3M396.7 297.1h1.3M399.2 297.1h1.3M404.2 297.1h3.8M409.3 297.1h1.3M411.8 297.1h1.3M414.3 297.1h2.5M420.6 297.1h1.3M425.7 297.1h2.5M430.7 297.1h1.3M434.5 297.1h1.3M443.3 297.1h1.3M448.3 297.1h1.3M450.9 297.1h1.3M453.4 297.1h1.3M455.9 297.1h2.5M462.2 297.1h1.3M469.8 297.1h1.3M474.8 297.1h1.3M477.3 297.1h2.5M482.4 297.1h6.3M489.9 297.1h3.8M496.2 297.1h1.3M500 297.1h1.3M507.6 297.1h1.3M510.1 297.1h3.8M517.6 297.1h2.5M521.4 297.1h1.3" stroke="#00e8e8" stroke-width="2.2" fill="none"/>
<path d="M74.1 297.1h1.3M82.9 297.1h1.3M98.1 297.1h1.3M105.6 297.1h1.3M108.1 297.1h1.3M117 297.1h1.3M124.5 297.1h1.3M137.1 297.1h1.3M149.7 297.1h1.3M152.2 297.1h1.3M156 297.1h1.3M190 297.1h1.3M206.4 297.1h1.3M236.7 297.1h2.5M249.3 297.1h1.3M307.2 297.1h1.3M327.4 297.1h1.3M345 297.1h1.3M350.1 297.1h1.3M361.4 297.1h1.3M366.4 297.1h1.3M379 297.1h1.3M389.1 297.1h1.3M435.7 297.1h1.3M444.6 297.1h2.5M463.5 297.1h1.3M503.8 297.1h1.3M508.8 297.1h1.3M515.1 297.1h1.3" stroke="#2030ff" stroke-width="2.2" fill="none"/>
<path d="M71.6 295h1.3M88 295h1.3M118.2 295h1.3M129.6 295h1.3M147.2 295h2.5M152.2 295h1.3M163.6 295h1.3M173.7 295h1.3M200.1 295h1.3M243 295h1.3M249.3 295h1.3M256.8 295h1.3M266.9 295h2.5M274.5 295h1.3M277 295h1.3M313.5 295h2.5M317.3 295h1.3M329.9 295h1.3M332.4 295h1.3M334.9 295h3.8M369 295h1.3M381.6 295h1.3M385.3 295h1.3M389.1 295h1.3M405.5 295h1.3M411.8 295h1.3M435.7 295h1.3M448.3 295h1.3M468.5 295h2.5M484.9 295h1.3M487.4 295h1.3M491.2 295h1.3M495 295h1.3M503.8 295h1.3M510.1 295h1.3M522.7 295h1.3" stroke="#00a8ff" stroke-width="2.2" fill="none"/>
<path d="M75.4 295h2.5M80.4 295h1.3M86.7 295h1.3M89.2 295h1.3M91.8 295h1.3M98.1 295h1.3M100.6 295h1.3M110.7 295h3.8M122 295h2.5M127 295h1.3M135.9 295h2.5M140.9 295h1.3M144.7 295h1.3M151 295h1.3M154.8 295h2.5M158.5 295h1.3M169.9 295h2.5M178.7 295h2.5M183.7 295h1.3M187.5 295h1.3M192.6 295h1.3M195.1 295h1.3M198.9 295h1.3M201.4 295h1.3M203.9 295h1.3M211.5 295h1.3M215.2 295h2.5M221.5 295h2.5M225.3 295h1.3M227.8 295h1.3M231.6 295h1.3M235.4 295h1.3M240.4 295h2.5M244.2 295h1.3M258.1 295h1.3M263.1 295h1.3M273.2 295h1.3M275.7 295h1.3M278.2 295h2.5M282 295h1.3M284.5 295h1.3M289.6 295h3.8M294.6 295h1.3M304.7 295h1.3M307.2 295h1.3M312.3 295h1.3M322.3 295h2.5M326.1 295h1.3M328.6 295h1.3M331.2 295h1.3M341.2 295h1.3M343.8 295h2.5M347.5 295h1.3M352.6 295h2.5M357.6 295h5M375.3 295h6.3M382.8 295h1.3M386.6 295h1.3M391.6 295h1.3M395.4 295h2.5M401.7 295h1.3M404.2 295h1.3M406.8 295h1.3M418.1 295h2.5M424.4 295h2.5M428.2 295h1.3M430.7 295h5M444.6 295h1.3M450.9 295h1.3M453.4 295h1.3M458.4 295h1.3M463.5 295h2.5M471 295h1.3M477.3 295h1.3M489.9 295h1.3M493.7 295h1.3M497.5 295h1.3M502.5 295h1.3M506.3 295h1.3M511.3 295h6.3M520.2 295h1.3" stroke="#00e8e0" stroke-width="2.2" fill="none"/>
<path d="M75.4 292.8h1.3M88 292.8h1.3M91.8 292.8h1.3M95.5 292.8h2.5M100.6 292.8h2.5M105.6 292.8h1.3M133.3 292.8h1.3M135.9 292.8h2.5M147.2 292.8h1.3M156 292.8h1.3M159.8 292.8h1.3M186.3 292.8h1.3M195.1 292.8h1.3M221.5 292.8h1.3M224.1 292.8h1.3M231.6 292.8h1.3M244.2 292.8h1.3M251.8 292.8h1.3M254.3 292.8h2.5M263.1 292.8h1.3M278.2 292.8h1.3M280.8 292.8h2.5M308.5 292.8h1.3M318.6 292.8h1.3M323.6 292.8h1.3M328.6 292.8h1.3M333.7 292.8h1.3M338.7 292.8h1.3M353.8 292.8h2.5M363.9 292.8h2.5M369 292.8h1.3M376.5 292.8h1.3M381.6 292.8h1.3M390.4 292.8h1.3M396.7 292.8h1.3M428.2 292.8h2.5M443.3 292.8h1.3M450.9 292.8h2.5M472.3 292.8h1.3M476.1 292.8h1.3M478.6 292.8h1.3M484.9 292.8h1.3M500 292.8h2.5M505 292.8h1.3M508.8 292.8h1.3M511.3 292.8h1.3M516.4 292.8h1.3" stroke="#00e8d0" stroke-width="2.2" fill="none"/>
<path d="M76.6 292.8h1.3M81.7 292.8h1.3M120.7 292.8h1.3M129.6 292.8h1.3M211.5 292.8h1.3M237.9 292.8h1.3M250.5 292.8h1.3M284.5 292.8h1.3M372.7 292.8h1.3M382.8 292.8h1.3M391.6 292.8h1.3M453.4 292.8h1.3M473.5 292.8h2.5M496.2 292.8h1.3M510.1 292.8h1.3M515.1 292.8h1.3M520.2 292.8h1.3" stroke="#00b0ff" stroke-width="2.2" fill="none"/>
<rect x="71.5" y="244.5" width="454" height="69" fill="none" stroke="#000" stroke-width="1.4"/>
<path d="M81.5 244.5v4M110.5 244.5v8M138.5 244.5v4M167.5 244.5v4M195.5 244.5v4M224.5 244.5v8M252.5 244.5v4M281.5 244.5v4M309.5 244.5v4M338.5 244.5v8M366.5 244.5v4M395.5 244.5v4M423.5 244.5v4M452.5 244.5v8M480.5 244.5v4M509.5 244.5v4" stroke="#000" stroke-width="1" fill="none"/>
<path d="M81.5 313.5v-4M110.5 313.5v-8M138.5 313.5v-4M167.5 313.5v-4M195.5 313.5v-4M224.5 313.5v-8M252.5 313.5v-4M281.5 313.5v-4M309.5 313.5v-4M338.5 313.5v-8M366.5 313.5v-4M395.5 313.5v-4M423.5 313.5v-4M452.5 313.5v-8M480.5 313.5v-4M509.5 313.5v-4" stroke="#000" stroke-width="1" fill="none"/>
<path d="M71.5 255.5h6M71.5 270.5h6M71.5 285.5h6M71.5 301.5h6M71.5 265.5h3M71.5 263.5h3M71.5 261.5h3M71.5 259.5h3M71.5 258.5h3M71.5 257.5h3M71.5 256.5h3M71.5 255.5h3M71.5 280.5h3M71.5 278.5h3M71.5 276.5h3M71.5 274.5h3M71.5 273.5h3M71.5 272.5h3M71.5 271.5h3M71.5 271.5h3M71.5 296.5h3M71.5 293.5h3M71.5 291.5h3M71.5 290.5h3M71.5 289.5h3M71.5 288.5h3M71.5 287.5h3M71.5 286.5h3M71.5 311.5h3M71.5 309.5h3M71.5 307.5h3M71.5 305.5h3M71.5 304.5h3M71.5 303.5h3M71.5 302.5h3M71.5 301.5h3M71.5 250.5h3M71.5 247.5h3" stroke="#000" stroke-width="1" fill="none"/>
<path d="M525.5 255.5h-6M525.5 270.5h-6M525.5 285.5h-6M525.5 301.5h-6M525.5 265.5h-3M525.5 263.5h-3M525.5 261.5h-3M525.5 259.5h-3M525.5 258.5h-3M525.5 257.5h-3M525.5 256.5h-3M525.5 255.5h-3M525.5 280.5h-3M525.5 278.5h-3M525.5 276.5h-3M525.5 274.5h-3M525.5 273.5h-3M525.5 272.5h-3M525.5 271.5h-3M525.5 271.5h-3M525.5 296.5h-3M525.5 293.5h-3M525.5 291.5h-3M525.5 290.5h-3M525.5 289.5h-3M525.5 288.5h-3M525.5 287.5h-3M525.5 286.5h-3M525.5 311.5h-3M525.5 309.5h-3M525.5 307.5h-3M525.5 305.5h-3M525.5 304.5h-3M525.5 303.5h-3M525.5 302.5h-3M525.5 301.5h-3M525.5 250.5h-3M525.5 247.5h-3" stroke="#000" stroke-width="1" fill="none"/>
<text x="528.3" y="259.4" font-size="10.8" text-anchor="start" fill="#000" font-weight="normal" >10<tspan font-size="8.5" dy="-4.5">4</tspan></text>
<text x="528.3" y="274.7" font-size="10.8" text-anchor="start" fill="#000" font-weight="normal" >10<tspan font-size="8.5" dy="-4.5">3</tspan></text>
<text x="528.3" y="290.1" font-size="10.8" text-anchor="start" fill="#000" font-weight="normal" >10<tspan font-size="8.5" dy="-4.5">2</tspan></text>
<text x="528.3" y="305.4" font-size="10.8" text-anchor="start" fill="#000" font-weight="normal" >10<tspan font-size="8.5" dy="-4.5">1</tspan></text>
<text x="559.5" y="279" font-size="11" text-anchor="middle" fill="#000" font-weight="normal" transform="rotate(-90 559.5 279)" >Energy (eV)</text>
<path d="M71.7 359l1-.2 1-1.5 1 .8 1-1.1 1-1.2 1-.7 1-.5 1-.3 1 1.1 1 .2 1-.5 1 .4 1 1.7 1-.2 1-.6 1 .7 1-.1 1-.1 1 .1 1-1 1-.1 1-.2 1-.3 1-4.2 1-4.6 1-3.6 1-6 1-2.4 1-.5 1-1 1 5.5 1 6.4 1-.4 1-1.5 1 .4 1-.9 1-1.5 1-2.6 1-2.5 1-4.3 1-2.5 1-.6 1 3.2 1 2.4 1 2.5 1 3 1 1 1-1.4 1-1.2 1-.4 1-.5 1-1.1 1-1.3 1-1 1 .6 1-1.5 1-1.6 1-.6 1-1.1 1-1.6 1-1.3 1 .5 1 .7 1 1.1 1 .6 1 .4 1 .4 1 .9 1 .7 1-.5 1-.9 1-.5 1-.9 1-1.7 1-.9 1-3.3 1-2.1 1-2.6 1-.5 1 2 1 2.2 1 4.9 1 6.2 1 8.2 1 6.6 1-2 1-3.7 1-2.1 1-3.3 1-.6 1-1.6 1 3.9 1 2.6 1 4.4 1 3.4 1 3.3 1 3.6 1-.7 1-3.6 1-4.2 1-2 1-4.4 1 .4 1 2.7 1 2.5 1 2.8 1 3 1 2.3 1 .9 1-3.8 1-2.3 1-4.1 1-2.4 1 .5 1 4.3 1 3.9 1 2.7 1 4.1 1 5.2 1-3.3 1-2.9 1-.9 1-2.6 1-3.3 1 2.5 1 3.3 1 1.3 1 2.3 1 2.3 1 2.7 1-3.3 1-.5 1-1.7 1-1.4 1 2.1 1 1.6 1 2.3 1 1.9 1 2.5 1 .1 1 2.3 1-.3 1-1.2 1 1.1 1-.9 1-1.6 1 .4 1 .3 1-.6 1-.7 1 .5 1-.4 1-.9 1 .1 1 .6 1-.3 1-2.4 1-2 1-1.1 1-2.6 1-2.4 1-1 1 .9 1 1.1 1-1.2 1 2.4 1-.3 1 .4 1 .2 1-.5 1-.2 1 .3 1-.5 1 .5 1-1.6 1 1 1-1.3 1 .5 1 .5 1 1.5 1-.3 1 1.6 1 1.7 1 .7 1-.2 1 .4 1 0 1-.5 1 .2 1-.3 1-2 1 1.4 1 1.4 1-2.3 1-.2 1 0 1-.6 1 .1 1 .7 1 1.8 1-.6 1 1.1 1 .3 1 .2 1 .9 1 .4 1 2 1-.2 1-1.3 1 0 1 .4 1-1.8 1-.9 1-.6 1-1.2 1-1.1 1 .5 1-3.3 1 .9 1 .7 1 1.2 1 .6 1 1.9 1 1.1 1-.2 1-.8 1 .2 1 .1 1-.3 1-.3 1 1.6 1-.5 1-1.1 1 0 1 .4 1-.4 1 .6 1 0 1 0 1-.1 1 .7 1-.3 1 1.1 1 1.6 1-.9 1 1 1 .3 1-.1 1-1.9 1 .3 1-.5 1 .8 1-.5 1-1.4 1 0 1 .6 1 1 1-1.2 1 .9 1-1.1 1-.1 1 1.2 1-.8 1-.4 1 1.6 1-.2 1-1.7 1 .2 1-1.2 1-.9 1-1.8 1-.6 1-1.9 1-1 1 .6 1-3 1-1.8 1-2.5 1-2.5 1-2.2 1-1.7 1-2.1 1-1.5 1 .7 1-.7 1-1.1 1-.5 1-1.5 1-.9 1-.2 1-1.2 1-1.7 1-.3 1-.7 1 .4 1-2.2 1-1.5 1-1.1 1-.5 1 1.1 1 2 1-.4 1-2.5 1-1.4 1-1.9 1-2.3 1-.9 1 3.7 1 3.6 1 2.6 1 1.8 1 2.3 1 2.3 1-2.3 1-4.6 1-3.8 1-1.3 1 3.2 1 3.5 1 3.1 1 2.5 1 3.2 1 .3 1-3.4 1-3.3 1-.2 1 5.1 1 5.9 1 5.4 1 6 1 2.5 1-2.9 1-2.5 1-3.4 1-3.2 1 4 1 3.2 1 3.7 1 4.3 1 3.8 1-2.6 1-1.8 1-2.1 1-.9 1-.8 1-2.2 1-.4 1-.7 1-1 1-.2 1-2.3 1-2.1 1-4.4 1-3.3 1 4.3 1 5.4 1 5 1 5 1 4.8 1 1.6 1 1.8 1 2.2 1 2.5 1 2.1 1 0 1-8.6 1-10.4 1-8.9 1-9.8 1-6.5 1 6.7 1 5.8 1 7.3 1 7.5 1-5.1 1-5.1 1-2.6 1-6 1-3.5 1-5.3 1-3.3 1-.5 1 4.7 1 4.1 1 3.4 1 4.3 1 1.4 1-1.3 1-2.6 1-1.8 1-2.3 1-2 1 .1 1 3.2 1 2.6 1 .5 1-1.7 1-.4 1 .1 1 1.3 1 2.5 1 2.4 1 3.6 1 2.6 1 1.3 1-1.8 1-1.3 1-1.3 1 1.8 1 .7 1 2 1 2.8 1 1.8 1 1.3 1-1.6 1-.9 1-2 1-1 1 1 1 1.5 1 .2 1 .5 1-1.3 1 1.4 1-.6 1-.3 1 0 1-.4 1 .7 1-.4 1 1.4 1 1.9 1 0 1 .2 1-.8 1-1.1 1-2.4 1-1.1 1-2.3 1-2 1 1.3 1-1.7 1 .3 1 1.2 1 1.5 1-.1 1 2.1 1 .1 1-.2 1-.1 1 1 1-.9 1 2.2" fill="none" stroke="#333" stroke-width="0.9" />
<line x1="150.5" y1="317.5" x2="150.5" y2="383.3" stroke="#30b0ff" stroke-width="1.3" stroke-dasharray="2,3.4"/>
<line x1="170" y1="314.4" x2="170" y2="381.3" stroke="#ff4848" stroke-width="1.3" stroke-dasharray="8.4,4.2"/>
<line x1="377.4" y1="315.4" x2="377.4" y2="381.3" stroke="#0000ff" stroke-width="1.1" stroke-dasharray="1.6,3.4"/>
<line x1="385.4" y1="314.4" x2="385.4" y2="381.3" stroke="#ff0000" stroke-width="1.3" stroke-dasharray="8.4,4.2"/>
<line x1="493.2" y1="314.4" x2="493.2" y2="381.3" stroke="#00c000" stroke-width="1.2" stroke-dasharray="8.4,4.2"/>
<line x1="492.6" y1="314.4" x2="492.6" y2="381.3" stroke="#ff00ff" stroke-width="1.0" stroke-dasharray="1.6,2.4"/>
<line x1="495.3" y1="314.4" x2="495.3" y2="381.3" stroke="#ff00ff" stroke-width="1.0" stroke-dasharray="1.6,2.4"/>
<line x1="77" y1="316.5" x2="92" y2="316.5" stroke="#40c040" stroke-width="1.1" stroke-dasharray="4,2"/>
<text x="93.5" y="319.7" font-size="8.9" text-anchor="start" fill="#b09000" font-weight="normal" >t&#160;&#160;HT</text>
<line x1="77" y1="323.5" x2="92" y2="323.5" stroke="#30b0ff" stroke-width="1.1" stroke-dasharray="1.5,1.5"/>
<text x="93.5" y="326.8" font-size="8.9" text-anchor="start" fill="#30a0ff" font-weight="normal" >t&#160;&#160;vmax</text>
<line x1="77" y1="330.5" x2="92" y2="330.5" stroke="#ff3030" stroke-width="1.1" stroke-dasharray="4,2"/>
<text x="93.5" y="333.9" font-size="8.9" text-anchor="start" fill="#ff3030" font-weight="normal" >t&#160;&#160;cs</text>
<line x1="77" y1="338.5" x2="92" y2="338.5" stroke="#2020ff" stroke-width="1.1" stroke-dasharray="1.5,1.5"/>
<text x="93.5" y="341" font-size="8.9" text-anchor="start" fill="#2020ff" font-weight="normal" >t&#160;&#160;dvmax</text>
<line x1="77" y1="345.5" x2="92" y2="345.5" stroke="#333" stroke-width="1.1"/>
<text x="93.5" y="348.1" font-size="8.9" text-anchor="start" fill="#c09060" font-weight="normal" >|V|</text>
<rect x="71.5" y="313.5" width="454" height="68" fill="none" stroke="#000" stroke-width="1.2"/>
<path d="M81.5 313.5v4M110.5 313.5v8M138.5 313.5v4M167.5 313.5v4M195.5 313.5v4M224.5 313.5v8M252.5 313.5v4M281.5 313.5v4M309.5 313.5v4M338.5 313.5v8M366.5 313.5v4M395.5 313.5v4M423.5 313.5v4M452.5 313.5v8M480.5 313.5v4M509.5 313.5v4" stroke="#000" stroke-width="1" fill="none"/>
<path d="M81.5 381.5v-4M110.5 381.5v-8M138.5 381.5v-4M167.5 381.5v-4M195.5 381.5v-4M224.5 381.5v-8M252.5 381.5v-4M281.5 381.5v-4M309.5 381.5v-4M338.5 381.5v-8M366.5 381.5v-4M395.5 381.5v-4M423.5 381.5v-4M452.5 381.5v-8M480.5 381.5v-4M509.5 381.5v-4" stroke="#000" stroke-width="1" fill="none"/>
<path d="M71.5 372.5h6M71.5 353.5h6M71.5 335.5h6M71.5 317.5h6M71.5 379.5h3M71.5 375.5h3M71.5 368.5h3M71.5 364.5h3M71.5 361.5h3M71.5 357.5h3M71.5 350.5h3M71.5 346.5h3M71.5 342.5h3M71.5 339.5h3M71.5 332.5h3M71.5 328.5h3M71.5 324.5h3M71.5 321.5h3M71.5 313.5h3" stroke="#000" stroke-width="1" fill="none"/>
<path d="M525.5 372.5h-6M525.5 353.5h-6M525.5 335.5h-6M525.5 317.5h-6M525.5 379.5h-3M525.5 375.5h-3M525.5 368.5h-3M525.5 364.5h-3M525.5 361.5h-3M525.5 357.5h-3M525.5 350.5h-3M525.5 346.5h-3M525.5 342.5h-3M525.5 339.5h-3M525.5 332.5h-3M525.5 328.5h-3M525.5 324.5h-3M525.5 321.5h-3M525.5 313.5h-3" stroke="#000" stroke-width="1" fill="none"/>
<text x="68.6" y="321.4" font-size="10.8" text-anchor="end" fill="#000" font-weight="normal" >200</text>
<text x="68.6" y="339.7" font-size="10.8" text-anchor="end" fill="#000" font-weight="normal" >150</text>
<text x="68.6" y="357.9" font-size="10.8" text-anchor="end" fill="#000" font-weight="normal" >100</text>
<text x="68.6" y="376.2" font-size="10.8" text-anchor="end" fill="#000" font-weight="normal" >50</text>
<text x="42.5" y="347.8" font-size="11" text-anchor="middle" fill="#000" font-weight="normal" transform="rotate(-90 42.5 347.8)" >| V<tspan font-size="9.3" dy="3">i</tspan><tspan dy="-3"> | [km/s]</tspan></text>
<path d="M71.7 399.2l1 .2 1-1.2 1-.7 1-.3 1 1 1-1.5 1-.6 1 .7 1 .5 1 .2 1 1 1-.8 1-.5 1 1.8 1-.4 1 .2 1-.3 1 .1 1 1.9 1-.6 1 1.3 1 .6 1 2.2 1 .3 1 .3 1 .6 1 .4 1-1.6 1-.2 1 .5 1-.7 1-1.3 1-.4 1-.3 1-.2 1-1.8 1 .6 1-.3 1 .6 1-2.4 1 1 1 .7 1 1.7 1-.7 1 1.1 1 1.1 1 .3 1-.9 1-1.7 1 .8 1-2.2 1 .3 1 .7 1-.1 1 .8 1-1.8 1 0 1-1 1-1.2 1-.3 1-1 1 .6 1-.9 1-.4 1 .7 1-.1 1 1.3 1-1 1-1.5 1-1.1 1 1.1 1-1.7 1-1.6 1 .5 1-1.6 1 2.1 1 .2 1-.3 1 .9 1 1.3 1 4.3 1 1.3 1 2.5 1 .2 1-1.8 1-1 1-.8 1-.5 1-1.4 1-.4 1 2.4 1 1.9 1 1.6 1 1.7 1 2 1-.4 1-.6 1-1.1 1-1.7 1-.3 1 1.1 1 1.9 1 0 1 2.3 1 .8 1 1 1 1.7 1-1.2 1-2.7 1 .1 1-.6 1-.6 1-1.1 1 1.6 1 .6 1 .1 1 1.6 1 0 1-.4 1-1.5 1-.2 1-1 1-1.5 1-1.2 1 .7 1 .4 1 .2 1 .1 1 1 1-.7 1-.8 1-.1 1-2.4 1 1.2 1 1.1 1 .4 1 .7 1 1.2 1 .4 1 2 1 .1 1 .5 1 .8 1-.9 1 .2 1 .2 1-.4 1-.4 1 .5 1 .6 1 0 1 .2 1-.3 1 .5 1-.2 1-.4 1-1.1 1-.3 1 0 1 .3 1-1.3 1-.2 1 .2 1-1.2 1-.5 1-1.2 1 .6 1 .6 1-1.4 1 .1 1-.2 1 0 1-.9 1 .9 1-.2 1-.9 1-1.1 1 1.9 1-.4 1-.1 1-1 1 .4 1 .3 1 .2 1-.2 1 .5 1-1.2 1-.1 1 .5 1 .7 1-1.5 1-.1 1 1.6 1-1.4 1 .4 1 .6 1-1.4 1 .5 1 .2 1 0 1 .2 1 .1 1 .4 1 1.1 1-1.4 1 1.7 1 .1 1 .3 1 .3 1 .2 1 .3 1-1.5 1 1.4 1-.1 1-.4 1-.1 1 .4 1 .6 1-.3 1-.2 1-1.8 1 1.8 1-1.1 1-.6 1 .3 1 .3 1-1.7 1 1.1 1-.9 1 .2 1-.4 1 .4 1-.6 1-.6 1-.1 1 .7 1 1.1 1-.2 1 1.3 1 .7 1 0 1-.7 1 1.8 1-.1 1-.1 1-.6 1 .4 1-.2 1-1 1 .1 1 .5 1-.8 1-.3 1 .7 1-2.3 1 1.7 1-1 1-1.2 1 1.5 1 .2 1-1 1 .1 1 0 1-1.2 1 .1 1-.1 1-1 1 .3 1-.5 1-.1 1 .4 1 .3 1-.2 1 .2 1 0 1-.1 1-.7 1 .1 1-.6 1 1.5 1-.4 1-.7 1 .1 1 .7 1-.5 1 .6 1 .2 1 .8 1 1.1 1-.5 1 1.3 1 0 1 .2 1 1 1-.5 1 1.2 1 .1 1 .8 1-1.7 1 0 1-1.1 1 .2 1 1.5 1 1.1 1 .4 1-.8 1 .9 1 .5 1 1.1 1 1.1 1 .4 1 .1 1 .5 1-2 1-1.8 1 .5 1-2 1-.3 1 .1 1 2.1 1 .5 1 1 1 1.6 1 .1 1-1.8 1 0 1-2.4 1-1 1 1.4 1 1.6 1 1.9 1 .1 1-.8 1-1.6 1 .6 1-1.7 1 .1 1 .3 1 1.3 1-1.5 1 1.2 1 1.2 1-1.6 1 .3 1-.6 1-.7 1-1.5 1 .2 1-1.6 1 .8 1-1.3 1-1 1 .8 1-.4 1 .6 1 .5 1-.2 1 .3 1 .8 1 1 1 .1 1 .2 1 1.8 1-.6 1 1 1 1.5 1 1.6 1 1.8 1 1.6 1 .7 1 1 1 1.9 1 1 1 .1 1 2 1-.8 1-2.3 1-2.7 1-2.6 1-2.7 1-.7 1-1.3 1-.7 1-1.2 1-.8 1 .8 1 1 1 .5 1 .5 1 .3 1-.2 1 0 1-1.4 1-.4 1-1.3 1-.5 1-.5 1 .4 1-1.1 1-.6 1-1.1 1-.5 1-.3 1-.1 1-.4 1 .9 1 .4 1-.5 1-.6 1 .5 1-.6 1-.4 1-.4 1 .4 1 .7 1-.9 1 1.2 1 .8 1-.5 1-1.6 1 .2 1-.5 1-.9 1-.9 1-.1 1 .3 1-.9 1 .4 1 .2 1 .9 1-.2 1-.8 1 0 1 .6 1-.8 1-.7 1 .5 1-.8 1-1.1 1-.1 1 .6 1-.3 1 0 1-.2 1 1.7 1 1.5 1-.2 1 1.4 1 1 1 1.9 1 .6 1 2.8 1 1.1" fill="none" stroke="#40ee40" stroke-width="0.9" />
<path d="M71.7 407.4l1 1 1 1.2 1 1.2 1 .1 1 0 1-.7 1 .9 1-.5 1-.1 1-1 1-2.6 1 .3 1-2.2 1-.3 1 .8 1 .7 1 .7 1 .5 1-3.4 1-.7 1-.9 1-1.7 1-1.8 1-.5 1-2 1-2.1 1-2.6 1 0 1-.1 1 .7 1-.5 1-.3 1 2.1 1-.7 1-.8 1-1.1 1-1.2 1-.8 1-.3 1-1.8 1-.7 1 .1 1 1.5 1 2.3 1 0 1 2.8 1-.5 1-.5 1-.6 1 .3 1 0 1-1.7 1 0 1-.5 1-.5 1-.6 1 .5 1-.2 1-.5 1-.7 1 .1 1 0 1-.5 1 .8 1 .3 1 1.3 1 .8 1 .3 1 1 1-.4 1 .1 1-.4 1-.2 1-.3 1-.7 1-1.1 1-2.4 1-1 1-2.8 1 1.9 1 2.4 1 1 1 2.2 1 1.6 1 2 1 1.7 1-.2 1-.9 1 .4 1-.7 1-1.2 1-.6 1 2.1 1 1.3 1 1.5 1 1.7 1 1.7 1-.5 1-1.5 1-2.4 1-.9 1-1 1-1.6 1-.3 1 2.2 1 1.2 1 .7 1 2 1-.4 1-1.2 1-.1 1-2.2 1-.6 1-.9 1 1.2 1 .8 1 1.7 1 1.2 1 2.2 1 .8 1-.1 1-.1 1-1.9 1-.2 1 .2 1-.4 1 2.8 1 1 1 .8 1 1.8 1-1.7 1 .5 1-1.1 1-.1 1-.2 1 1.7 1 1 1 0 1 2.1 1-.7 1 1.5 1-.3 1-1.6 1 1 1-.8 1-.2 1-.2 1-1.3 1 .8 1-.3 1 .3 1-1.5 1 1 1 .3 1-1 1-.2 1-.8 1-1.2 1-.5 1-.5 1-1.9 1 .3 1-.5 1 .5 1 .2 1 .3 1 1 1 .2 1 0 1-.3 1 1.3 1 .2 1 .6 1-1.4 1 .3 1-.4 1-1.3 1 .9 1 1 1-.1 1 1.7 1-.1 1 .1 1 1.2 1-.2 1 1.2 1-.1 1 .2 1-.5 1 .5 1 .2 1 0 1 .3 1 .7 1-.8 1 0 1 1 1-.3 1 1.3 1-.7 1 .1 1 .8 1-.4 1 .6 1 .9 1-1 1 .9 1-1 1-.2 1-.1 1-.8 1-.4 1-1.1 1 .4 1-1 1-1.7 1 1 1-1.8 1 .8 1-.3 1 1.4 1 1 1 .1 1 1 1 .7 1-.8 1 2.1 1-.7 1 .7 1 .2 1 .7 1-.1 1-.3 1 1.3 1-1.4 1 1.2 1-1.7 1 1 1-.5 1 .5 1 .5 1 1 1 .4 1 1.5 1 .7 1 1 1-.4 1 .6 1 .4 1-.3 1 .7 1 1.2 1 .9 1-.5 1 .1 1 1 1-1.8 1 1.3 1-1.5 1 .9 1-.4 1 .2 1-.3 1-.5 1 0 1-.3 1 1 1-.1 1 1.9 1 .2 1 .4 1 2.1 1-.3 1 1.1 1 1.9 1 1.4 1 1.8 1 1.3 1 .4 1 1.6 1 1.1 1 .4 1 1.7 1 0 1 1.8 1 .4 1 1.1 1 1.4 1 .7 1 1 1-.8 1 1.5 1 1 1-.6 1 .7 1 .9 1 .6 1-1 1 .6 1-1.1 1-1.6 1 2.1 1 1.2 1 1.4 1 2.1 1 .4 1 .1 1-1 1-2 1-1.1 1-1.4 1-1 1-1.8 1 1 1 1.4 1 3.2 1-.1 1-.9 1-.9 1-1.3 1-1.6 1-1.1 1 .2 1-.8 1 1.9 1 1.2 1-2.9 1-2.3 1-4.1 1-2.3 1-1 1 .7 1 3 1 .2 1 .8 1-1.6 1-1.7 1-1.4 1-2.6 1-2 1 1.4 1 1.1 1 .6 1 1.9 1-.2 1-1 1 .5 1-.5 1-.4 1 2.1 1 .3 1 1.7 1 1.2 1 .9 1-2.4 1-3.1 1-3.3 1-2.8 1-.6 1-1 1-.3 1-.3 1-.3 1-2.5 1-.1 1-.5 1 5.8 1 4.8 1 4.6 1 4.3 1 1.3 1-3.4 1-4.4 1-3.1 1-3 1 4.1 1 3.6 1 3.4 1 4.7 1 4 1 2.8 1-2.6 1-2 1-2.9 1-1.6 1-2.5 1 1.3 1 .8 1-.1 1 .9 1 .4 1 .7 1 0 1 .3 1-1.3 1 0 1-1.3 1-.9 1-.7 1-1.3 1-1.3 1-.9 1-1.5 1-.3 1-1.3 1-.3 1-.7 1-.3 1-.6 1-.7 1-.5 1-1.3 1 .3 1-1.6 1 .8 1-.2 1-.1 1-.7 1-.1 1-1.2 1 .5 1-1 1 .1 1 0 1-1.8 1-.4 1 .3 1-1.3 1-.3 1-1.8 1-.9 1 1.3 1 1.5 1 .1 1 1.8 1 1.9 1-.9 1-1.4 1-.4 1-.3 1-.4 1-1.5 1-1.2 1-.7 1-1.8 1 1 1-.3 1 .6 1 .9 1-1.1 1 1.1 1 .8 1 1.3" fill="none" stroke="#4040ff" stroke-width="0.9" />
<path d="M71.7 411.2l1-.7 1 .1 1 .9 1 .6 1 .2 1-.2 1-.6 1-.6 1 .3 1-.1 1 .7 1 .7 1 1.2 1 .3 1-1 1 0 1-.7 1 1.1 1-.8 1-.6 1 .3 1-.7 1-.6 1 0 1-.3 1 2.6 1-1.6 1-.3 1 2.5 1-.4 1 .7 1 2.1 1-.3 1 .5 1 1.4 1 .1 1 1.7 1-.1 1 1.1 1 1.4 1 .9 1-1.4 1 1.5 1 .7 1-.5 1-2.1 1-1.7 1-.2 1-1.5 1-1.9 1-.3 1 1.8 1 .2 1 2.6 1 0 1-.3 1 0 1-.4 1-1.2 1 .7 1-.4 1-1.4 1 2.5 1 .2 1 .3 1 .9 1-.1 1 .5 1-1.9 1-1.5 1 .5 1-1.7 1-1.5 1-1 1 1.3 1 1.8 1 1 1 1.7 1 .4 1 1.3 1 .9 1-2 1-2.4 1-2.5 1-1.9 1-1.5 1-.5 1 .9 1 2.9 1 1.7 1 1.9 1 2.1 1 1.6 1 2.6 1-2.7 1-2 1-1.2 1-1.7 1-.2 1 2 1 1.2 1 .5 1 1.7 1 1.9 1 .9 1-2.6 1-.5 1-1.9 1-.4 1-2.7 1-1.1 1-1.3 1 2.8 1 .8 1 1.2 1 .5 1-1.2 1-1.7 1-.8 1-2 1-1.3 1 1.2 1-.9 1 1 1 .6 1 .4 1 .5 1-.6 1 1.1 1-.1 1 0 1-.5 1 1.1 1-1 1 .7 1-.2 1-.3 1 1.6 1 0 1 0 1-.5 1-.4 1 .6 1-.1 1-.7 1 1.6 1-.1 1-.7 1-.1 1 .6 1 .2 1 1.1 1-.8 1-.7 1 .8 1-1.6 1-.6 1 .2 1-1.1 1-1 1 1.4 1 1.1 1 .7 1 1.3 1-.4 1-.9 1-1.1 1 .1 1-.3 1-.8 1-.9 1 .3 1 .7 1 .2 1-.4 1 .9 1-.1 1-.5 1-.1 1 1 1-.6 1 1 1-1.8 1-.1 1 1.4 1-2.3 1 .8 1-.7 1 .1 1 0 1 1 1 1.1 1 .1 1-.1 1 .9 1-.3 1 .6 1 .7 1-.4 1 .6 1-.1 1-.4 1 1.4 1-.9 1 1.1 1-.5 1-.2 1-.7 1-.9 1-.7 1-.2 1-.4 1 .4 1-1.7 1 .9 1-.4 1 1.5 1 1.4 1 1 1 1.4 1 .2 1 .4 1-.9 1 .2 1-.3 1-.2 1-.3 1-.1 1-.3 1-1.3 1 0 1-.3 1-.2 1 .5 1 0 1-.6 1-.2 1-1 1 1.1 1 1.3 1-.2 1 2.4 1 .7 1 .8 1-1.4 1-1.1 1 .6 1-.5 1 .7 1-.2 1 1.1 1-.4 1 1.6 1-.7 1-1.4 1 1.1 1-.2 1-.3 1-.6 1-1 1-.5 1 0 1-.5 1 0 1-2.1 1-1.9 1 .3 1 .9 1 .1 1 .5 1-.8 1 .5 1 .8 1 .2 1 .4 1-.1 1 .4 1 .9 1 .6 1-.8 1-.1 1-.6 1-.9 1-.8 1-1 1-1.2 1 .2 1-2 1 .2 1-1.3 1-.2 1-.2 1-1 1 .1 1-.1 1 .4 1-.6 1 .7 1-.2 1 0 1 .5 1 2.1 1 0 1 1.9 1 1.7 1 1.4 1-2.5 1-2.3 1-.4 1 .5 1 .1 1-.9 1 1.1 1 .2 1 .1 1-1.2 1-.4 1-1.6 1-.2 1 .7 1 .6 1 1.2 1 2.5 1 2 1-2.6 1-3.3 1-2.6 1-2.7 1 2.4 1-.6 1 2.8 1 2 1 2 1-.7 1-1.1 1-2.9 1-1.1 1-2.1 1 .7 1 1 1-1.1 1 .7 1 .3 1-.9 1-.6 1-.6 1-1.5 1 .2 1-.2 1 .4 1 2.1 1 .8 1 .2 1-1.3 1-.9 1-.8 1-1.3 1 1.8 1 .1 1 .5 1-.6 1 .8 1 .4 1 2.3 1 4.7 1 3.7 1 4.6 1 5.2 1 5.7 1-2.5 1-2.5 1-2.2 1-2.9 1 1.1 1 2.6 1 1.6 1-.5 1-4.4 1-2.7 1-4 1-.3 1-.5 1 .5 1-2.2 1 2 1 .7 1 1.6 1 .7 1 2.8 1 .9 1-.4 1-.7 1-.7 1-.2 1-.9 1 .1 1-1.2 1-1.1 1-1.1 1-.2 1-1.2 1 .1 1-1 1-.2 1 2.2 1-.1 1 .2 1 1.4 1-1.4 1-.7 1-.6 1 .8 1 1.4 1 1 1 2.1 1 1.5 1 .7 1-1.2 1 .3 1-.7 1 .1 1-.5 1 .5 1-1.1 1-1 1-.9 1-1.5 1-1.2 1-1 1 .5 1-.2 1 1.9 1-.3 1 .1 1 .9 1-.4 1 .8 1 .2 1 .9 1-.9 1 .7 1 1.4 1 1 1 1.2 1 0 1 .9 1-.1 1 1.5 1 .5 1 .1 1 .8 1 .4 1 .6" fill="none" stroke="#ff4848" stroke-width="0.9" />
<line x1="150.5" y1="381.3" x2="150.5" y2="383.3" stroke="#30b0ff" stroke-width="1.1"/>
<line x1="170" y1="382.5" x2="170" y2="449.5" stroke="#ff4848" stroke-width="1.3" stroke-dasharray="8.4,4.2"/>
<line x1="377.4" y1="383.5" x2="377.4" y2="449.5" stroke="#0000ff" stroke-width="1.1" stroke-dasharray="1.6,3.4"/>
<line x1="385.4" y1="382.5" x2="385.4" y2="449.5" stroke="#ff0000" stroke-width="1.3" stroke-dasharray="8.4,4.2"/>
<line x1="493.2" y1="382.5" x2="493.2" y2="449.5" stroke="#00c000" stroke-width="1.2" stroke-dasharray="8.4,4.2"/>
<line x1="492.6" y1="382.5" x2="492.6" y2="449.5" stroke="#ff00ff" stroke-width="1.0" stroke-dasharray="1.6,2.4"/>
<line x1="495.3" y1="382.5" x2="495.3" y2="449.5" stroke="#ff00ff" stroke-width="1.0" stroke-dasharray="1.6,2.4"/>
<line x1="71.6" y1="413.5" x2="525.6" y2="413.5" stroke="#000" stroke-width="1.1" stroke-dasharray="4.2,2.5"/>
<line x1="77" y1="389.5" x2="95" y2="389.5" stroke="#2020ff" stroke-width="1.0"/>
<text x="96.5" y="392.7" font-size="9.5" text-anchor="start" fill="#2020ff" font-weight="normal" >V<tspan font-size="7" dy="3">L</tspan></text>
<line x1="77" y1="404.5" x2="95" y2="404.5" stroke="#30e030" stroke-width="1.0"/>
<text x="96.5" y="407.4" font-size="9.5" text-anchor="start" fill="#30e030" font-weight="normal" >V<tspan font-size="7" dy="3">M</tspan></text>
<line x1="77" y1="419.5" x2="95" y2="419.5" stroke="#ff3030" stroke-width="1.0"/>
<text x="96.5" y="422" font-size="9.5" text-anchor="start" fill="#ff3030" font-weight="normal" >V<tspan font-size="7" dy="3">N</tspan></text>
<rect x="71.5" y="381.5" width="454" height="68" fill="none" stroke="#000" stroke-width="1.2"/>
<path d="M81.5 381.5v4M110.5 381.5v8M138.5 381.5v4M167.5 381.5v4M195.5 381.5v4M224.5 381.5v8M252.5 381.5v4M281.5 381.5v4M309.5 381.5v4M338.5 381.5v8M366.5 381.5v4M395.5 381.5v4M423.5 381.5v4M452.5 381.5v8M480.5 381.5v4M509.5 381.5v4" stroke="#000" stroke-width="1" fill="none"/>
<path d="M81.5 449.5v-4M110.5 449.5v-8M138.5 449.5v-4M167.5 449.5v-4M195.5 449.5v-4M224.5 449.5v-8M252.5 449.5v-4M281.5 449.5v-4M309.5 449.5v-4M338.5 449.5v-8M366.5 449.5v-4M395.5 449.5v-4M423.5 449.5v-4M452.5 449.5v-8M480.5 449.5v-4M509.5 449.5v-4" stroke="#000" stroke-width="1" fill="none"/>
<path d="M71.5 432.5h6M71.5 413.5h6M71.5 395.5h6M71.5 446.5h3M71.5 443.5h3M71.5 439.5h3M71.5 435.5h3M71.5 428.5h3M71.5 424.5h3M71.5 420.5h3M71.5 417.5h3M71.5 409.5h3M71.5 406.5h3M71.5 402.5h3M71.5 398.5h3M71.5 391.5h3M71.5 387.5h3M71.5 384.5h3" stroke="#000" stroke-width="1" fill="none"/>
<path d="M525.5 432.5h-6M525.5 413.5h-6M525.5 395.5h-6M525.5 446.5h-3M525.5 443.5h-3M525.5 439.5h-3M525.5 435.5h-3M525.5 428.5h-3M525.5 424.5h-3M525.5 420.5h-3M525.5 417.5h-3M525.5 409.5h-3M525.5 406.5h-3M525.5 402.5h-3M525.5 398.5h-3M525.5 391.5h-3M525.5 387.5h-3M525.5 384.5h-3" stroke="#000" stroke-width="1" fill="none"/>
<text x="527.5" y="399.2" font-size="10.8" text-anchor="start" fill="#000" font-weight="normal" >100</text>
<text x="527.5" y="417.6" font-size="10.8" text-anchor="start" fill="#000" font-weight="normal" >0</text>
<text x="527.5" y="436" font-size="10.8" text-anchor="start" fill="#000" font-weight="normal" >-100</text>
<text x="562" y="417.2" font-size="11" text-anchor="middle" fill="#000" font-weight="normal" transform="rotate(-90 562 417.2)" >V<tspan font-size="9.3" dy="3">i LMN</tspan><tspan dy="-3"> [km/s]</tspan></text>
<path d="M71.7 482.7l1-3.3 1-2.6 1-1.2 1-.8 1-1.1 1-.1 1 1.2 1-2 1-.3 1 .2 1-.9 1-1.3 1-4.1 1-4.2 1-3.5 1-3.1 1 1.4 1 .7 1 .1 1 5.1 1 4.3 1 5.3 1 4.7 1 1.3 1-2.1 1 .5 1-1.6 1 .3 1-3.1 1-2.3 1-2.7 1-2.1 1-.3 1 .6 1 .9 1 1.1 1 1.9 1 3.7 1 3.3 1 3.9 1 3.5 1-1 1-2 1-.1 1 1.1 1 .8 1 1.1 1 1.5 1 0 1-1 1-1.5 1-.6 1-1 1 0 1-.5 1-.8 1 .2 1 1.8 1 2.8 1 2.1 1 3.3 1 1.9 1 1.4 1 1 1 2.5 1 .1 1 .9 1 1.9 1-1 1-.6 1-2 1-.1 1-1.1 1-1.7 1-1.2 1 1.5 1 1.5 1 .2 1 1.1 1 1.5 1-1.1 1-1.2 1-.7 1-.9 1-1.1 1-.1 1 .5 1 3 1 2 1 1.6 1 .2 1-.8 1-1.8 1-2.7 1-1.4 1-1.9 1-.4 1 2.3 1 1.5 1 .7 1 1.8 1 .4 1-1.7 1-.8 1-1.6 1-1.4 1-2.2 1-.2 1-1 1 2 1 1.5 1 .5 1 .6 1-.3 1-1.2 1 .3 1-1.3 1-1.4 1 .3 1-.1 1 1.5 1-.1 1 1.8 1-.1 1-.9 1-1.2 1 .8 1-.1 1 2 1 .1 1 .9 1 .2 1-.9 1-.1 1-1.7 1-1.7 1 0 1-1.5 1-.8 1-1.1 1-.9 1-.6 1-1.6 1-1.4 1-1.3 1-.2 1 1.7 1 1.8 1 1.4 1 1.8 1-.2 1 1.8 1 .4 1-.9 1 1.9 1 0 1-.7 1 .2 1-1.1 1-.1 1-.1 1-.3 1-.5 1-.1 1-.3 1 1.2 1 1.1 1 .8 1 .3 1 .1 1 .9 1-.4 1-.2 1-1.5 1 .1 1-.2 1-.4 1 2.4 1-.2 1 2.8 1 .6 1 1.9 1-.2 1-1 1-2.3 1-.3 1-1.1 1 1.5 1 .5 1 .9 1 .1 1 1 1 .3 1 1.2 1 1 1 .5 1-.6 1-.4 1-1.2 1-.7 1-1.4 1-1.3 1-.7 1-.7 1-1.5 1-.4 1-1.2 1 .1 1-1.5 1-1.2 1 .5 1-1.7 1 .6 1-1.6 1-1 1 .1 1 1.8 1 .5 1 1.5 1 .2 1 1.9 1 .4 1 .6 1 2.1 1-1.6 1 1.6 1-.5 1 1.2 1 .3 1 .6 1 .4 1-.5 1 .8 1-.6 1 .9 1-.6 1 .2 1 .2 1 0 1 .6 1 .9 1-1.5 1-.6 1 0 1-.1 1-.8 1 1.1 1-2 1 .4 1-.9 1 1.2 1 .5 1-.8 1 .5 1-.2 1 1.2 1-.2 1-.1 1-.3 1 .3 1-.9 1 .1 1-.9 1 .4 1 .1 1-1 1 1.5 1 .3 1 1.1 1 1.2 1 1.7 1 .2 1 0 1-2.6 1 .5 1 .2 1-1.6 1 .4 1-.8 1 1.5 1-1.9 1 1.8 1 .3 1 .2 1-1.2 1-.5 1-3.2 1-.5 1-1.2 1-1.8 1-2 1-1.8 1-1.8 1-2.8 1 .6 1 1.8 1 .9 1 .8 1 .2 1-.1 1-.6 1-.7 1 .2 1 .5 1 .8 1 1.3 1-.2 1-.3 1-.7 1-.8 1-.9 1-.7 1-.6 1 1.6 1 1.2 1 .6 1 1 1-1.5 1 .4 1-.2 1 .4 1 1.2 1 1.8 1 .8 1 1.5 1-.4 1-1.6 1-2.2 1 2.5 1 2 1 2.7 1 1 1-1.5 1-2 1-1.4 1-.3 1 0 1 .8 1 1.7 1 1.5 1 1.7 1 0 1 2.1 1 .1 1 .6 1 1.2 1 .8 1 .9 1 .8 1 2 1 1.2 1 2.3 1 1.5 1 2.2 1 1.2 1 .3 1 .9 1 .9 1 .7 1 1.5 1-.2 1-.1 1-.5 1-1.4 1-.3 1-1.1 1-1.7 1-3 1-2.6 1-3.3 1-2.6 1-2.8 1-2.1 1-1.3 1-1.6 1-2.6 1-1.6 1-1.2 1-.8 1-1.5 1 .2 1 1.6 1 2.3 1 1.5 1 1.3 1 2.1 1 1.4 1 .8 1 .7 1-.4 1 1.1 1 .5 1 1.4 1 .4 1-.8 1-2.4 1-2.5 1-2.8 1-2 1-2.4 1-.4 1 .2 1-.2 1-.8 1 .1 1-.1 1-.7 1 .5 1-.6 1-1.3 1 .2 1-.1 1-.4 1 1.4 1 1.4 1 .2 1 .7 1 1.2 1 .7 1 .8 1 0 1 1.1 1 .7 1-1.2 1-1.9 1-.8 1-1 1-2.5 1 2 1-.6 1 .2 1 .2 1-.6 1-.5 1 1.4 1-1.2 1 2.1 1 1.5 1 .9 1 2.5 1 1 1 2.3 1 1.3 1 .1 1-1.4 1-.6 1 .1 1-2 1-.8 1-2.8 1-1.6 1-2.8 1-1.1" fill="none" stroke="#ff2020" stroke-width="1.0" />
<path d="M71.7 481.3l1-2.4 1-2.8 1-2.2 1-1.1 1-1.3 1-.2 1 0 1-.9 1-.4 1 .1 1-1.9 1-1.3 1-3.6 1-4.2 1-3.7 1-2.6 1 .1 1 2.5 1-.5 1 4.4 1 4.7 1 3.9 1 5.8 1 .3 1-.4 1-1.2 1-1 1-1.6 1-2.1 1-2.7 1-2.6 1-2.8 1-.4 1 .1 1 1.1 1 1.3 1 1.1 1 4.7 1 2.6 1 3.9 1 2.2 1-.2 1-.7 1-1 1 0 1 2.1 1 .8 1 1.3 1-1.1 1-.4 1-.5 1-1.2 1-.4 1 .3 1-.1 1-.4 1-.1 1 1.4 1 1.4 1 2.1 1 3 1 3.3 1 2 1 .1 1 2.5 1 1.5 1 .1 1 1.5 1-.4 1-.8 1-1.4 1-1.2 1-1.4 1-1.5 1 .1 1 .5 1 .9 1 1 1 .8 1 1.4 1-1.1 1-1.1 1 0 1-.8 1-1 1-.8 1 2 1 2.3 1 1 1 1.8 1 1 1-1.6 1-2.7 1-1 1-2.1 1-1.2 1-.5 1 1.4 1 1.4 1 1.5 1 1.6 1 .2 1-1.6 1-1 1-.9 1-2.4 1-1.1 1-1.6 1 1.3 1 .8 1 .9 1 .6 1 1.3 1-.3 1-1.7 1-.9 1 0 1-1.3 1-.6 1 .8 1 .8 1 .8 1 1.8 1-.7 1-.8 1-.5 1 0 1 .9 1 .2 1 .3 1 2.2 1-.9 1-.3 1-1.1 1-.8 1 .1 1-1.9 1-.2 1-1.2 1-.9 1-1.3 1-1.3 1-1.4 1-1.2 1-.8 1-.5 1 2.4 1 .1 1 2.1 1 1.6 1 .6 1 1.1 1 .3 1-.3 1 .3 1 1.4 1-.4 1-1 1-.5 1-.3 1 .2 1-1.3 1 .1 1 .6 1-.3 1 1.7 1 1 1-.6 1 .2 1 1.6 1 .7 1-.4 1-.8 1-.4 1-1.7 1 .1 1 .1 1 2.2 1 .6 1 1.7 1 1.7 1 .5 1 0 1-.7 1-.5 1-1.5 1-.2 1 .8 1 .5 1 .3 1 .2 1 .5 1 1.7 1-.4 1 .7 1 1.5 1-.8 1-.6 1-1.4 1-.6 1-1.5 1-.4 1-1.3 1-.4 1-1.6 1-1.1 1-.5 1 0 1-1 1-.7 1-.7 1-.4 1-1.4 1-.2 1-.1 1-1.6 1 1.7 1 .7 1 1.6 1 1 1 .9 1 .8 1 0 1 1.1 1 1.4 1 .2 1 .8 1-.1 1 1.1 1-.5 1 .7 1 .2 1-.8 1 1.2 1-.7 1 1.5 1-.7 1-.3 1 .1 1 .2 1-.4 1 .8 1-1.1 1-.7 1 0 1 .2 1-.9 1-.5 1 .3 1 0 1-.1 1 .4 1 .5 1 .2 1 .4 1-.5 1 .8 1-.1 1-1 1 .5 1 .6 1-.8 1-1 1-.4 1 .5 1 .8 1-.2 1 1.9 1 .1 1 .9 1 1 1 0 1 .2 1-.9 1 0 1-.5 1-1.5 1-.5 1-.1 1 .7 1 .4 1-.6 1 1 1-.6 1 .7 1-1.5 1-1.3 1-2.3 1-1.2 1-2.1 1-1.7 1-2.8 1-1.2 1-.9 1 .4 1 1.3 1 .7 1 1.1 1-1 1 .8 1-.7 1-.9 1 .2 1 1.5 1 .4 1 .6 1 1.2 1-2.4 1 .3 1-1.1 1-.1 1-1 1-1.1 1 1.7 1 .8 1 1.8 1 .7 1-1.6 1 1.5 1-.6 1-.9 1 1.2 1 1.8 1 1.8 1 .9 1 .1 1-1.2 1-2.8 1 2.7 1 2.1 1 3.8 1 .3 1-1.8 1-1.7 1-1.3 1-1.2 1 1.1 1 .8 1 2.5 1 .8 1 .8 1 1.3 1 .9 1 1.2 1 1.8 1 .8 1 .4 1 .6 1 2.9 1 .1 1 2.3 1 2.3 1 1.3 1 1.9 1 2 1 .6 1 .9 1 0 1 1.3 1 1.1 1 .3 1-.1 1-.7 1-.9 1-1.4 1-.7 1-1.6 1-3.8 1-2.1 1-3.6 1-2.3 1-3.7 1-.9 1-2.9 1-1.4 1-2.2 1-2.4 1 0 1-1.9 1-1.3 1 .9 1 .8 1 1.5 1 1.4 1 3.1 1 .4 1 1.6 1 .3 1 1.2 1 .3 1 .3 1 0 1 1.5 1 .2 1 1.2 1-3 1-2.6 1-2.4 1-2.7 1-2 1-.2 1-.4 1 .3 1-.2 1-.5 1-.5 1-1.4 1 .1 1-.7 1 .1 1-.7 1-.5 1 .7 1 .8 1 1.3 1 .6 1 1 1 1 1-.8 1 .9 1 1.2 1 1.4 1 .1 1-1.3 1-.5 1-1.8 1-1 1-1.5 1 .5 1-.9 1 .5 1 0 1 .3 1-.8 1-.3 1 .1 1 1.4 1 1.4 1 1.7 1 2.3 1 1.9 1 1.6 1 1.8 1-.9 1-.8 1-.2 1-.6 1-.4 1-2.1 1-2.2 1-2.2 1-2.6 1-.9" fill="none" stroke="#333" stroke-width="0.9" />
<line x1="170" y1="450.7" x2="170" y2="518" stroke="#ff4848" stroke-width="1.3" stroke-dasharray="8.4,4.2"/>
<line x1="377.4" y1="451.7" x2="377.4" y2="518" stroke="#0000ff" stroke-width="1.1" stroke-dasharray="1.6,3.4"/>
<line x1="385.4" y1="450.7" x2="385.4" y2="518" stroke="#ff0000" stroke-width="1.3" stroke-dasharray="8.4,4.2"/>
<line x1="493.2" y1="450.7" x2="493.2" y2="518" stroke="#00c000" stroke-width="1.2" stroke-dasharray="8.4,4.2"/>
<line x1="492.6" y1="450.7" x2="492.6" y2="518" stroke="#ff00ff" stroke-width="1.0" stroke-dasharray="1.6,2.4"/>
<line x1="495.3" y1="450.7" x2="495.3" y2="518" stroke="#ff00ff" stroke-width="1.0" stroke-dasharray="1.6,2.4"/>
<line x1="77" y1="456.5" x2="95" y2="456.5" stroke="#ff5050" stroke-width="1.0"/>
<text x="96.5" y="460.4" font-size="10" text-anchor="start" fill="#ff3030" font-weight="normal" >Ne</text>
<line x1="77" y1="470.5" x2="95" y2="470.5" stroke="#555" stroke-width="1.0"/>
<text x="96.5" y="474.4" font-size="10" text-anchor="start" fill="#000" font-weight="normal" >Ni</text>
<rect x="71.5" y="449.5" width="454" height="69" fill="none" stroke="#000" stroke-width="1.2"/>
<path d="M81.5 449.5v4M110.5 449.5v8M138.5 449.5v4M167.5 449.5v4M195.5 449.5v4M224.5 449.5v8M252.5 449.5v4M281.5 449.5v4M309.5 449.5v4M338.5 449.5v8M366.5 449.5v4M395.5 449.5v4M423.5 449.5v4M452.5 449.5v8M480.5 449.5v4M509.5 449.5v4" stroke="#000" stroke-width="1" fill="none"/>
<path d="M81.5 518.5v-4M110.5 518.5v-8M138.5 518.5v-4M167.5 518.5v-4M195.5 518.5v-4M224.5 518.5v-8M252.5 518.5v-4M281.5 518.5v-4M309.5 518.5v-4M338.5 518.5v-8M366.5 518.5v-4M395.5 518.5v-4M423.5 518.5v-4M452.5 518.5v-8M480.5 518.5v-4M509.5 518.5v-4" stroke="#000" stroke-width="1" fill="none"/>
<path d="M71.5 516.5h6M71.5 504.5h6M71.5 492.5h6M71.5 480.5h6M71.5 468.5h6M71.5 456.5h6M71.5 510.5h3M71.5 498.5h3M71.5 486.5h3M71.5 474.5h3M71.5 462.5h3M71.5 450.5h3" stroke="#000" stroke-width="1" fill="none"/>
<path d="M525.5 516.5h-6M525.5 504.5h-6M525.5 492.5h-6M525.5 480.5h-6M525.5 468.5h-6M525.5 456.5h-6M525.5 510.5h-3M525.5 498.5h-3M525.5 486.5h-3M525.5 474.5h-3M525.5 462.5h-3M525.5 450.5h-3" stroke="#000" stroke-width="1" fill="none"/>
<text x="68.6" y="460.9" font-size="10.8" text-anchor="end" fill="#000" font-weight="normal" >6</text>
<text x="68.6" y="472.8" font-size="10.8" text-anchor="end" fill="#000" font-weight="normal" >5</text>
<text x="68.6" y="484.6" font-size="10.8" text-anchor="end" fill="#000" font-weight="normal" >4</text>
<text x="68.6" y="496.4" font-size="10.8" text-anchor="end" fill="#000" font-weight="normal" >3</text>
<text x="68.6" y="508.3" font-size="10.8" text-anchor="end" fill="#000" font-weight="normal" >2</text>
<text x="68.6" y="520.1" font-size="10.8" text-anchor="end" fill="#000" font-weight="normal" >1</text>
<text x="44.5" y="484.5" font-size="11" text-anchor="middle" fill="#000" font-weight="normal" transform="rotate(-90 44.5 484.5)" >N [cm<tspan font-size="8.5" dy="-4">-3</tspan><tspan dy="4">]</tspan></text>
<line x1="170" y1="519.2" x2="170" y2="586.3" stroke="#ff4848" stroke-width="1.3" stroke-dasharray="8.4,4.2"/>
<line x1="377.4" y1="520.2" x2="377.4" y2="586.3" stroke="#0000ff" stroke-width="1.1" stroke-dasharray="1.6,3.4"/>
<line x1="385.4" y1="519.2" x2="385.4" y2="586.3" stroke="#ff0000" stroke-width="1.3" stroke-dasharray="8.4,4.2"/>
<line x1="493.2" y1="519.2" x2="493.2" y2="586.3" stroke="#00c000" stroke-width="1.2" stroke-dasharray="8.4,4.2"/>
<line x1="492.6" y1="519.2" x2="492.6" y2="586.3" stroke="#ff00ff" stroke-width="1.0" stroke-dasharray="1.6,2.4"/>
<line x1="495.3" y1="519.2" x2="495.3" y2="586.3" stroke="#ff00ff" stroke-width="1.0" stroke-dasharray="1.6,2.4"/>
<path d="M78.3 586l57 .1 57.1 0 56.9-.1 56.8.1 56.8-.1 57-.1" fill="none" stroke="#00e000" stroke-width="1.2" />
<path d="M78.3 518.5l57 19.8 57.1 8.3 56.9-4.1 56.8 13.8 56.8-29.3 57 26.8" fill="none" stroke="#ff0000" stroke-width="1.2" />
<path d="M78.3 585.3l57 .5 57.1.1 56.9-.6 56.8.6 56.8-.7 57-5.2" fill="none" stroke="#0000ff" stroke-width="1.2" />
<circle cx="78.3" cy="518.5" r="1.9" fill="#ff0000"/>
<circle cx="135.3" cy="538.3" r="1.9" fill="#ff0000"/>
<circle cx="192.4" cy="546.6" r="1.9" fill="#ff0000"/>
<circle cx="249.3" cy="542.5" r="1.9" fill="#ff0000"/>
<circle cx="306.1" cy="556.3" r="1.9" fill="#ff0000"/>
<circle cx="362.9" cy="527" r="1.9" fill="#ff0000"/>
<circle cx="419.9" cy="553.8" r="1.9" fill="#ff0000"/>
<circle cx="78.3" cy="585.3" r="1.9" fill="#0000ff"/>
<circle cx="135.3" cy="585.8" r="1.9" fill="#0000ff"/>
<circle cx="192.4" cy="585.9" r="1.9" fill="#0000ff"/>
<circle cx="249.3" cy="585.3" r="1.9" fill="#0000ff"/>
<circle cx="306.1" cy="585.9" r="1.9" fill="#0000ff"/>
<circle cx="362.9" cy="585.2" r="1.9" fill="#0000ff"/>
<circle cx="419.9" cy="580" r="1.9" fill="#0000ff"/>
<line x1="77" y1="523.5" x2="95" y2="523.5" stroke="#30ee30" stroke-width="1.1"/>
<circle cx="86.3" cy="523.5" r="2.1" fill="#30ee30"/>
<text x="96.5" y="526.7" font-size="8.9" text-anchor="start" fill="#30ee30" font-weight="normal" >N&#160;&#160;He+</text>
<line x1="77" y1="532.5" x2="95" y2="532.5" stroke="#ff2020" stroke-width="1.1"/>
<circle cx="86.3" cy="532.5" r="2.1" fill="#ff2020"/>
<text x="96.5" y="535.7" font-size="8.9" text-anchor="start" fill="#ff2020" font-weight="normal" >N&#160;&#160;He++</text>
<line x1="77" y1="541.5" x2="95" y2="541.5" stroke="#0000ff" stroke-width="1.1"/>
<circle cx="86.3" cy="541.6" r="2.1" fill="#0000ff"/>
<text x="96.5" y="544.8" font-size="8.9" text-anchor="start" fill="#0000ff" font-weight="normal" >N&#160;&#160;O+</text>
<rect x="71.5" y="518.5" width="454" height="68" fill="none" stroke="#000" stroke-width="1.2"/>
<path d="M81.5 518.5v4M110.5 518.5v8M138.5 518.5v4M167.5 518.5v4M195.5 518.5v4M224.5 518.5v8M252.5 518.5v4M281.5 518.5v4M309.5 518.5v4M338.5 518.5v8M366.5 518.5v4M395.5 518.5v4M423.5 518.5v4M452.5 518.5v8M480.5 518.5v4M509.5 518.5v4" stroke="#000" stroke-width="1" fill="none"/>
<path d="M81.5 586.5v-4M110.5 586.5v-8M138.5 586.5v-4M167.5 586.5v-4M195.5 586.5v-4M224.5 586.5v-8M252.5 586.5v-4M281.5 586.5v-4M309.5 586.5v-4M338.5 586.5v-8M366.5 586.5v-4M395.5 586.5v-4M423.5 586.5v-4M452.5 586.5v-8M480.5 586.5v-4M509.5 586.5v-4" stroke="#000" stroke-width="1" fill="none"/>
<path d="M71.5 586.5h6M71.5 577.5h6M71.5 568.5h6M71.5 558.5h6M71.5 549.5h6M71.5 540.5h6M71.5 531.5h6M71.5 522.5h6M71.5 581.5h3M71.5 572.5h3M71.5 563.5h3M71.5 554.5h3M71.5 545.5h3M71.5 536.5h3M71.5 527.5h3" stroke="#000" stroke-width="1" fill="none"/>
<path d="M525.5 586.5h-6M525.5 577.5h-6M525.5 568.5h-6M525.5 558.5h-6M525.5 549.5h-6M525.5 540.5h-6M525.5 531.5h-6M525.5 522.5h-6M525.5 581.5h-3M525.5 572.5h-3M525.5 563.5h-3M525.5 554.5h-3M525.5 545.5h-3M525.5 536.5h-3M525.5 527.5h-3" stroke="#000" stroke-width="1" fill="none"/>
<text x="527.3" y="590.4" font-size="10.8" text-anchor="start" fill="#000" font-weight="normal" >0.00</text>
<text x="527.3" y="581.3" font-size="10.8" text-anchor="start" fill="#000" font-weight="normal" >0.02</text>
<text x="527.3" y="572.2" font-size="10.8" text-anchor="start" fill="#000" font-weight="normal" >0.04</text>
<text x="527.3" y="563.1" font-size="10.8" text-anchor="start" fill="#000" font-weight="normal" >0.06</text>
<text x="527.3" y="553.9" font-size="10.8" text-anchor="start" fill="#000" font-weight="normal" >0.08</text>
<text x="527.3" y="544.8" font-size="10.8" text-anchor="start" fill="#000" font-weight="normal" >0.10</text>
<text x="527.3" y="535.7" font-size="10.8" text-anchor="start" fill="#000" font-weight="normal" >0.12</text>
<text x="527.3" y="526.6" font-size="10.8" text-anchor="start" fill="#000" font-weight="normal" >0.14</text>
<text x="557.5" y="553" font-size="11" text-anchor="middle" fill="#000" font-weight="normal" transform="rotate(-90 557.5 553)" >N<tspan font-size="9.3" dy="3">i</tspan><tspan dy="-3"> [cm</tspan><tspan font-size="8.5" dy="-4">-3</tspan><tspan dy="4">]</tspan></text>
<path d="M71.7 635.4l1 2.5 1 1.8 1-1.1 1 2.6 1 .4 1-1.5 1 2.1 1 .5 1 1.9 1-.9 1-2.2 1 4.3 1 1.4 1 .3 1 1.5 1-1.5 1 3.5 1-4.3 1-4.5 1-1.6 1-1.7 1-1.6 1-4.2 1 3.9 1-2.4 1 1.3 1 .6 1 2.5 1 3.3 1-1.7 1 0 1 .6 1-3.4 1 2.7 1-.6 1 0 1-.5 1-.7 1-1.9 1-2.7 1 .2 1-3.2 1 .3 1-1.6 1-.4 1-1 1-1.6 1 1.8 1 1 1-1.4 1 3.1 1-1.7 1 3.8 1-2.4 1 .5 1 1.3 1-.9 1-.7 1-6.1 1 1.1 1-3.4 1-5 1-1.5 1-.6 1-1 1-2.3 1 .4 1 .7 1 .4 1-.6 1-1.3 1-.2 1-.8 1-.5 1-2.2 1-2.2 1 2.8 1-3.2 1 1.1 1-1 1 3.5 1-1.5 1 1.2 1 1 1 4.3 1-.3 1-.6 1 1.5 1 .9 1 2.1 1-3.7 1 1.3 1 .4 1 .4 1 2.2 1 .9 1 .6 1-2.8 1 1.8 1-2.2 1-2.6 1 .9 1-.7 1-2.5 1-1.9 1 3.8 1 2.2 1-2.5 1 3.9 1 .8 1 2 1-3 1 1.6 1 2 1-2.2 1 .7 1 1.9 1-.7 1-1.5 1 1.1 1 .7 1-2.1 1 .9 1 1.2 1-3.9 1 1.7 1-1.6 1 1.3 1-.7 1-1.5 1 3.1 1-2.7 1 4.2 1-2.5 1 1 1 .6 1 2.6 1-.5 1 1.1 1 1.3 1 .8 1 1.5 1-1.2 1-.4 1 .6 1 .6 1-2.5 1-.7 1-1.1 1 2.2 1 .7 1-1.4 1-.4 1-2.3 1 .8 1-.4 1 .3 1-1.4 1-4.9 1 2.1 1 .6 1-1.7 1 3 1-3.1 1 1.2 1 2.7 1-2.7 1-4 1 3.3 1 0 1-.4 1 .5 1-.3 1-3.8 1 2.9 1-.7 1-3 1 3.4 1 .5 1-4.2 1 1.3 1-1.1 1 1.4 1 1.3 1 1.1 1 .6 1 1.5 1-2.3 1-1.7 1-2.4 1 2.9 1 .9 1-1.8 1-2 1 3.4 1-.8 1-2.3 1 .2 1-1.6 1-1.6 1 1.8 1-.6 1 2.5 1-3 1 4.2 1-1.5 1 1.7 1-.2 1 2.5 1-4.1 1 4.4 1-.3 1-.1 1 1.2 1-1.1 1 .3 1 .1 1 3.9 1-1.5 1-3.3 1-1.4 1-3.7 1 3.2 1-2.9 1 .9 1-1.5 1-.4 1-1 1 1.9 1-2.2 1-1.4 1 3.8 1-1.9 1-.8 1 .8 1 .6 1 1 1-1.8 1-.9 1 .3 1 2.2 1-1.6 1-3.3 1 1.4 1 .8 1-4.2 1 4.9 1-3.8 1-1.3 1 3.9 1-1.5 1-.7 1-1.2 1 2.8 1-.1 1 1.4 1 1.5 1-4.7 1-.1 1-.1 1 .3 1 .4 1-1.8 1 .7 1 1 1 .4 1-.8 1-1.3 1 .9 1 .3 1-1.1 1 0 1-1.3 1 4.4 1 .1 1 .9 1-4.2 1 4.7 1-.4 1-.9 1 .8 1 .1 1-.3 1 .9 1-.7 1 3.5 1 1.1 1-2.3 1 .4 1 2.4 1 1.3 1 1.5 1 2.8 1-1.1 1 .6 1 2.4 1-7.1 1 7.7 1-3.3 1 4.4 1-2.8 1 2 1-1.3 1 1.2 1 2.8 1-.4 1 3.2 1-3.6 1-1.7 1 3.2 1 .7 1-.7 1 .8 1-2.8 1 2.2 1-.1 1-1.3 1 .1 1-2.3 1 2 1-2.2 1 .9 1 1.3 1-1 1 2.3 1-.5 1 5.1 1-6.6 1-3.1 1-2.9 1 2.9 1 4.8 1 .9 1 .9 1 6.8 1-3.4 1-3.9 1 .2 1-2 1-2.7 1 4.4 1-1.6 1 1.8 1-1 1 4 1 .1 1 2.2 1-1.1 1-1.9 1-1.6 1 1.4 1-1.5 1-1.5 1 0 1-.5 1 .6 1 3.1 1 5.3 1-1.7 1 .9 1 4.6 1-.4 1-3 1 1.6 1 3.7 1-2.9 1-9.8 1-9.6 1 2 1 6.5 1 1.8 1 3.5 1-3.9 1-1.7 1 .6 1 .1 1-.2 1-.7 1-4.3 1 1.7 1-1.1 1-3.1 1 2.4 1-2.8 1-4 1 1.6 1-2 1-4.4 1 2.2 1-3 1-.8 1 1.2 1 1.4 1-1.8 1 .8 1 .4 1 1.3 1 4.6 1-.4 1 3.8 1 .1 1-4.6 1 3.2 1-1.7 1-3.7 1 .1 1-1.1 1-1.5 1 1.7 1 1 1 1.1 1-1.1 1-2 1 .1 1 1.5 1-4.4 1-2.6 1 4.4 1-3.2 1 2.6 1-1 1-.8 1-.9 1 1.2 1-2.9 1 .6 1 1.5 1 1.8 1-2 1 .7 1 .1 1-1.5 1-.2 1-2.1 1 1.5 1-1.3 1-1.1 1-4.9 1-.2 1 0 1-.1 1-3.1 1 .4 1-1 1-5.6 1 5.7 1 1 1-2.8 1 2.4 1-1.7 1 .1 1 8.2 1-.7" fill="none" stroke="#ff3838" stroke-width="0.9" />
<path d="M71.7 616l1-1.9 1 .5 1 0 1-.8 1 1.5 1 .9 1-1 1-.7 1-1.7 1 3.1 1-.6 1 5.2 1 .8 1 3.6 1 2.5 1-2.7 1-1.7 1-2.7 1-1.3 1-1 1-1.8 1-1.4 1-1.3 1-5.4 1 1.3 1-.2 1 2 1-2.8 1 .4 1 .3 1-1.1 1-1.1 1 .5 1 .3 1-.8 1-1.3 1 2.2 1-.9 1 1.9 1-.6 1 3.4 1-1.1 1-.6 1 1.5 1 0 1-2 1 1 1 2 1-2.8 1 3.8 1-.2 1-.3 1 .7 1-1.3 1-.1 1 1.1 1 .8 1-2.1 1-2.2 1-.1 1 .3 1-3.6 1 3.2 1-3.5 1-.3 1-.5 1-2.9 1-1.1 1 1.9 1 .7 1 1.2 1 1.7 1-.8 1-.5 1 .7 1-.3 1-1.3 1 1.5 1-3.1 1 .8 1 1.5 1-.7 1 .8 1 .7 1 .7 1 .7 1-.4 1 .1 1 1 1 2.3 1-2.3 1 1.3 1-2.2 1 2.4 1-.1 1-.1 1 2.1 1-1.1 1-.3 1-.5 1-.2 1-.1 1 1.6 1 0 1-2.8 1 2 1 .8 1-1.3 1-.7 1 .9 1 .9 1-1.6 1-.2 1 2 1-1.2 1-1.6 1 .5 1 .1 1 2 1 0 1-1.1 1 1.1 1-1 1 .8 1 1.4 1-2.6 1 .4 1 2.6 1-.8 1 1.1 1-2 1-.8 1 3.1 1-1.6 1-.6 1 .4 1 2.7 1-.4 1-3.7 1 3 1 .9 1-.5 1-1.1 1-.4 1 1.9 1 .2 1-2.5 1 .1 1 2 1-1.1 1 1.3 1 .1 1-1.3 1-.8 1 .8 1-1.5 1 .9 1 .1 1 .4 1 1.6 1-2.1 1 .5 1 .5 1 .1 1-.3 1-1.6 1 3 1-1.7 1-1.1 1 .3 1 .3 1 .9 1-1.6 1 1.1 1-.1 1 1.7 1-2.2 1-2 1 2 1-2.1 1 1 1 0 1 1.4 1-2.5 1-1 1 2.4 1-1.8 1 2.1 1-1.6 1-.1 1-.3 1-.6 1-.9 1-.4 1 1.6 1-1.1 1-2.2 1 2.2 1-2.6 1-.1 1 1 1-1.6 1 1.2 1-.6 1 1.3 1 .5 1-1.4 1 .3 1 2.3 1-1.9 1 2.5 1-1.7 1 .8 1 .5 1-.6 1 .8 1-1.9 1 1.2 1-1.6 1 3 1-1.3 1 1.4 1 .5 1 .1 1-.7 1 .1 1 1.2 1-.8 1-.8 1 1.1 1-1.4 1 .8 1-.9 1 .3 1 .3 1 0 1-1.8 1 .8 1 .4 1 .5 1 0 1-2.1 1 .4 1 .8 1-1.1 1 .5 1 .2 1 .1 1 2.6 1-3.3 1 1.7 1-3.1 1 2.2 1-2.2 1 .4 1 .3 1 1.3 1-.8 1 .7 1-1.9 1 2.2 1 .8 1-2.3 1 1.6 1 1.1 1-2.1 1 1.7 1-.4 1-.8 1 .3 1 .8 1-.3 1 1.5 1-1.2 1-.1 1-.7 1 1.5 1-.8 1-1.4 1 4.2 1-1.6 1-.6 1-2.4 1 1.2 1-.3 1 .1 1-1.6 1 1.5 1 1.6 1-.5 1 1.1 1-.7 1 1.9 1 .4 1 3 1-1.7 1 .2 1-.5 1 0 1-.4 1-2.1 1 .6 1 1 1-1.1 1-.3 1-1.5 1 1 1-.3 1 2.5 1-3.7 1 2.9 1-1.5 1-.6 1 2.1 1 .3 1-1.3 1-1 1 .4 1-.6 1-.5 1-1.4 1-.4 1 2.6 1-2.1 1 2.2 1-1.1 1-3.8 1 4.8 1-2.4 1-1.2 1-.4 1 1.4 1-1.5 1 3 1-2.2 1 2.5 1-.4 1-.1 1 2.2 1-.1 1 1.6 1 .5 1 1.1 1-1.6 1 2.3 1 .6 1-3.1 1 1.3 1 .8 1-1.1 1 1.5 1-4.4 1-6.2 1 2.6 1 3.7 1 3.7 1 .3 1-4.9 1-5.9 1-1.7 1 1.3 1 2.3 1 1.2 1 3.3 1-4.1 1-5.5 1-4.9 1-5.1 1 8.1 1 7.3 1-.4 1 0 1-1.4 1 1.3 1-2.4 1-.9 1-1.1 1 1.2 1 2.9 1 1.7 1 .9 1 1.7 1 .2 1 2.1 1-1.2 1 1.3 1 1.6 1-2 1-.1 1-3.3 1-.8 1 1.1 1 1.3 1-3.4 1 .5 1 .2 1 .1 1 .3 1 .1 1-.6 1 .4 1-.7 1 1.4 1-.8 1 2.1 1-2.8 1 2.3 1-.6 1 1.3 1-.7 1 1.8 1-2.2 1-.4 1 .6 1-1.3 1 1.5 1 .5 1 .2 1-1.2 1-1.1 1-.3 1 1.4 1-1.4 1 .8 1-.9 1 .3 1 .6 1 .1 1 2.2 1-1.3 1-.7 1-1.7 1 2.7 1-3.2 1 1.1 1 1.4 1-2 1 1.6 1-1.1 1-.6 1-.6 1-.4 1-.6 1-.6 1 2.7 1-1.3 1 0 1 2.3 1-2 1 2.2 1-.9 1 2.3 1-1.2" fill="none" stroke="#333" stroke-width="0.9" />
<line x1="170" y1="587.5" x2="170" y2="655" stroke="#ff4848" stroke-width="1.3" stroke-dasharray="8.4,4.2"/>
<line x1="377.4" y1="588.5" x2="377.4" y2="655" stroke="#0000ff" stroke-width="1.1" stroke-dasharray="1.6,3.4"/>
<line x1="385.4" y1="587.5" x2="385.4" y2="655" stroke="#ff0000" stroke-width="1.3" stroke-dasharray="8.4,4.2"/>
<line x1="493.2" y1="587.5" x2="493.2" y2="655" stroke="#00c000" stroke-width="1.2" stroke-dasharray="8.4,4.2"/>
<line x1="492.6" y1="587.5" x2="492.6" y2="655" stroke="#ff00ff" stroke-width="1.0" stroke-dasharray="1.6,2.4"/>
<line x1="495.3" y1="587.5" x2="495.3" y2="655" stroke="#ff00ff" stroke-width="1.0" stroke-dasharray="1.6,2.4"/>
<line x1="77" y1="596.5" x2="95" y2="596.5" stroke="#ff3030" stroke-width="1.0"/>
<text x="96.5" y="600.5" font-size="9.5" text-anchor="start" fill="#ff3030" font-weight="normal" >T<tspan font-size="7" dy="3">||</tspan></text>
<line x1="77" y1="614.5" x2="95" y2="614.5" stroke="#333" stroke-width="1.0"/>
<text x="96.5" y="618.5" font-size="9.5" text-anchor="start" fill="#222" font-weight="normal" >T<tspan font-size="7" dy="3">&#8869;</tspan></text>
<rect x="71.5" y="586.5" width="454" height="69" fill="none" stroke="#000" stroke-width="1.2"/>
<path d="M81.5 586.5v4M110.5 586.5v8M138.5 586.5v4M167.5 586.5v4M195.5 586.5v4M224.5 586.5v8M252.5 586.5v4M281.5 586.5v4M309.5 586.5v4M338.5 586.5v8M366.5 586.5v4M395.5 586.5v4M423.5 586.5v4M452.5 586.5v8M480.5 586.5v4M509.5 586.5v4" stroke="#000" stroke-width="1" fill="none"/>
<path d="M81.5 655.5v-4M110.5 655.5v-8M138.5 655.5v-4M167.5 655.5v-4M195.5 655.5v-4M224.5 655.5v-8M252.5 655.5v-4M281.5 655.5v-4M309.5 655.5v-4M338.5 655.5v-8M366.5 655.5v-4M395.5 655.5v-4M423.5 655.5v-4M452.5 655.5v-8M480.5 655.5v-4M509.5 655.5v-4" stroke="#000" stroke-width="1" fill="none"/>
<path d="M71.5 598.5h6M71.5 603.5h3M71.5 608.5h3M71.5 614.5h3M71.5 621.5h3M71.5 630.5h3M71.5 640.5h3M71.5 653.5h3" stroke="#000" stroke-width="1" fill="none"/>
<path d="M525.5 598.5h-6M525.5 603.5h-3M525.5 608.5h-3M525.5 614.5h-3M525.5 621.5h-3M525.5 630.5h-3M525.5 640.5h-3M525.5 653.5h-3" stroke="#000" stroke-width="1" fill="none"/>
<text x="69.5" y="603.3" font-size="10.8" text-anchor="end" fill="#000" font-weight="normal" >10<tspan font-size="8.5" dy="-4.5">3</tspan></text>
<text x="39" y="622" font-size="11" text-anchor="middle" fill="#000" font-weight="normal" transform="rotate(-90 39 622)" >T<tspan font-size="9.3" dy="3">i</tspan><tspan dy="-3"> [eV]</tspan></text>
<path d="M71.7 705.2l1 .2 1 .3 1-.5 1-.2 1-.2 1-.3 1-.1 1 .3 1-.1 1-.5 1 .4 1-1.1 1 .3 1-.1 1 .2 1-.7 1-.5 1 .2 1 0 1 .7 1 .7 1 .2 1 .4 1-.1 1-.7 1-1 1-.7 1 .2 1-.9 1-.7 1-.6 1-.3 1-.5 1 .1 1 .9 1 .3 1 1 1 1.3 1 .6 1 1 1-.3 1 1 1-1.3 1 1.4 1-1.3 1 .8 1 .1 1 .5 1-.5 1-.8 1 .8 1-1.1 1 .6 1-.2 1 .1 1-.3 1 .9 1-.5 1-.2 1 .3 1 1.1 1 .5 1-.2 1 .4 1 .3 1 .7 1 .4 1 .4 1-.2 1-.3 1-.9 1 1.1 1-1.1 1 .5 1-1.2 1 .4 1-.1 1 .2 1 0 1-.3 1 .3 1 .8 1-.9 1 .2 1 .2 1 .8 1 0 1-.3 1 .7 1 .4 1-.6 1 .5 1-1 1 .3 1-.8 1 .1 1-.6 1 .1 1 1 1-.2 1-.1 1 1.1 1-.1 1 0 1-.9 1 .2 1-.2 1 .6 1-.2 1-.8 1-.8 1 .7 1 .4 1-.8 1 .3 1-.1 1 .5 1-.4 1-.4 1 1.1 1-.3 1 .6 1-.6 1-.1 1-.2 1 1.1 1 .3 1-1.9 1 .5 1 0 1-.1 1 .4 1-.8 1 .3 1-.6 1 .2 1 0 1-.6 1-.7 1 .4 1-.8 1-.2 1 .3 1-.6 1-.4 1 1.1 1-.2 1 .5 1-.2 1 1.1 1-.4 1 .3 1 .7 1 .5 1-.4 1 .6 1-.8 1-.1 1-.3 1 .1 1 .6 1-.6 1 .7 1-.6 1 .9 1-1.1 1 .4 1-.2 1-.2 1 .3 1 .3 1 .4 1-.8 1 1.1 1-.8 1 .9 1-.4 1-.2 1 .6 1 .5 1-.2 1 .5 1 .6 1-.9 1 .5 1 .1 1-.6 1-.1 1-.1 1 0 1 .2 1 .8 1-.6 1 .1 1-1.3 1 .7 1 0 1 .6 1-1.4 1-.3 1 .4 1-.6 1-.9 1 .8 1-1.1 1 .3 1-.6 1-.9 1 0 1 .1 1-.3 1 0 1 .3 1-.6 1-.4 1 .9 1 0 1 .3 1-.7 1 1.4 1 .6 1-.5 1 .3 1 .4 1 .1 1 .8 1-.2 1 0 1-.6 1 .7 1 .7 1-.8 1-.6 1 .9 1-.2 1-.3 1 .8 1-.1 1 .3 1-.2 1 1 1-.9 1-.4 1-.2 1 .1 1-.3 1 .7 1-.4 1 .8 1-.8 1-.4 1 .4 1-.3 1 .3 1 .3 1-.2 1-.6 1 .7 1-.6 1 .3 1 .1 1 .2 1 0 1-.5 1 .1 1 .2 1-.1 1 .7 1 .4 1 .2 1 0 1 .2 1 .2 1-.3 1 .3 1-.7 1-.4 1 .5 1-.3 1 .2 1-1 1 .4 1 .3 1-1.1 1-.1 1-.5 1-.5 1-.2 1 .1 1-.7 1-.5 1 .6 1-.6 1-.7 1 .4 1 .4 1 0 1-.2 1-.2 1 1 1-.7 1 .9 1 .1 1-.2 1 .3 1 0 1-.2 1 .2 1 0 1 .4 1-.5 1-.6 1-.2 1-.2 1 .6 1 .1 1-.2 1 0 1-.1 1-.3 1 .6 1-.1 1 .6 1 .2 1 .5 1 .2 1 .3 1 .3 1-.4 1 .4 1 1.4 1-.8 1 0 1 .6 1 .8 1 .1 1 .2 1-.1 1 .2 1 .5 1 1 1-.9 1 1.5 1-.2 1 .6 1 .1 1 .2 1 1.1 1-.9 1 .5 1 .9 1 .1 1 .3 1-.3 1 .9 1-.1 1 .3 1 0 1-.3 1 .8 1 .3 1 .2 1 .3 1-.6 1-.6 1-.6 1-.3 1 .1 1-1.5 1-1.4 1-1.5 1-.9 1-2.2 1-1.4 1-.6 1-1.1 1 .5 1-.1 1 .4 1-.5 1 1.1 1-.7 1 1.1 1 .3 1 .7 1 .5 1-.3 1 .1 1 1 1 .2 1-.5 1 .5 1-.1 1 .4 1-.1 1-1 1-.2 1-.9 1-1 1 .3 1-.4 1-.7 1-.1 1 .3 1-.2 1-.3 1 .1 1 .3 1-.7 1-.1 1 .3 1-.9 1 .9 1-.4 1 .2 1 .5 1 .3 1-1.1 1 .2 1 1.6 1-.5 1 .1 1-1.2 1 .4 1-.8 1 .9 1-1 1-.8 1 .6 1-.4 1 .3 1-.5 1 .1 1 .2 1 .1 1-.6 1 .2 1 .5 1 .3 1 1 1-.1 1 .2 1 .5 1 .4 1 .1 1-.9 1 .1 1-.5 1 .2 1 0 1-.4 1-.4 1 .1" fill="none" stroke="#40ee40" stroke-width="0.9" />
<path d="M71.6 720.7l3-.1 3 0 3 .1 3-.3 3 0 3-.1 3-.1 3-.1 3 .1 3-.1 3 0 3-.1 3 .2 3 .1 3 0 3 .2 3 .1 3-.1 3 .3 3-.2 3 .2 3-.1 3-.1 3 .1 3 0 3 .2 3 0 3-.2 3 0 3 0 3 .1 3-.1 3-.1 3 .4 3-.4 3-.2 3 .4 3 0 3-.2 3 .1 3 0 3 .1 3 0 3-.1 3 0 3 0 3 .1 3 0 3 0 3 0 3 0 3-.1 3 .1 3-.2 3 .1 3 0 3 .1 3 0 3 0 3-.2 3 .2 3 0 3 .1 3-.2 3 .1 3-.2 3 .1 3 0 3 .1 3-.1 3 .3 3-.3 3 0 3 0 3 .1 3-.1 3 .1 3-.1 3-.1 3 .1 3 0 3 .2 3-.3 3 .4 3-.1 3 0 3-.1 3-.1 3 .1 3-.2 3 0 3 .3 3-.1 3-.1 3-.1 3 .2 3-.1 3 0 3 .1 3 0 3 .1 3-.1 3 0 3-.1 3 .1 3-.1 3 .1 3 0 3-.1 3 .1 3-.3 3 .3 3-.2 3 .2 3 .1 3 0 3-.2 3 .2 3-.2 3 .2 3 .1 3 .2 3 .1 3 0 3-.2 3-.1 3-.2 3 .2 3-.2 3-.1 3 .1 3 .1 3-.1 3 0 3 0 3-.1 3-.2 3 .2 3-.1 3 .1 3 0 3-.1 3 .2 3-.3 3 .4 3-.3 3 .2 3-.2 3-.3 3 .4 3 .1" fill="none" stroke="#ff4040" stroke-width="0.9" />
<path d="M71.7 679.5l1-.1 1 .1 1-.4 1-.1 1 .8 1-.1 1 .4 1 .3 1-.3 1-.5 1 .2 1 .7 1 .1 1 .1 1-.3 1-.3 1 .1 1 .4 1-.2 1 .8 1-1.1 1 1.1 1 .2 1 .5 1 .4 1 1.2 1-.3 1 1.3 1 .1 1 .9 1 .6 1 .5 1 .7 1-.6 1-1.3 1-.6 1-1.1 1-.8 1-1.5 1-.3 1-.3 1-.5 1-.1 1-.4 1 .4 1-.1 1-.6 1 .4 1 .3 1-.2 1-.8 1 .7 1 0 1-.2 1-.2 1 .4 1-.5 1-.5 1-.3 1-.9 1 1 1-1.5 1-.4 1 0 1-1.2 1 .4 1-.7 1-.6 1 .1 1-.4 1 .1 1 1 1 .5 1 0 1 .9 1 .1 1 .9 1-.3 1-.4 1-1.4 1 .2 1-.3 1-1.1 1 .1 1 .3 1-.5 1 .9 1 0 1 .2 1 .1 1-.2 1-.1 1 .3 1-.9 1-.2 1 .7 1-1.1 1 .7 1 .1 1 .5 1 .6 1 .3 1 .1 1 .3 1 .3 1-.2 1 .1 1 0 1-.1 1 .2 1 0 1-.3 1-.5 1 .4 1-1 1 .1 1-.8 1 0 1-1 1 .7 1-.6 1 1.1 1-.5 1 0 1-.3 1-.3 1-.3 1 .6 1 .5 1-.7 1 .9 1-.5 1 .6 1-.2 1 .9 1 .7 1 0 1 .8 1 .9 1 .6 1 .2 1 .2 1 .4 1 .4 1-.1 1-1.1 1 .2 1 .1 1-.4 1 .2 1 0 1-.4 1-.1 1 .3 1-.6 1 .7 1-.4 1 .7 1-.3 1 .6 1 .4 1-.1 1 .7 1-.6 1-.1 1-.2 1-.9 1 .3 1-.4 1 .5 1-.6 1-.5 1 .8 1 1.1 1-.8 1-.8 1 .3 1 1.3 1 .2 1 .2 1-.7 1-.7 1-.1 1 .1 1 .1 1 .1 1-.2 1-.4 1-.6 1 .5 1-.1 1-.5 1-.3 1 .2 1-.5 1 .4 1-.3 1 .8 1 .7 1 .8 1-.2 1 .5 1 .1 1 .1 1 .5 1 .4 1-.1 1 .6 1 .2 1-.2 1 .8 1 0 1 0 1 .9 1-1 1-.8 1 .8 1-1.3 1-.3 1 0 1 .4 1-.9 1-.4 1 0 1 .3 1-.3 1 .1 1 .1 1 .4 1-.2 1-.2 1 .2 1-.8 1 1.2 1-.3 1-.4 1 .1 1 .3 1 0 1 .3 1-.1 1 .1 1-.2 1 .5 1 0 1 0 1-.4 1 .1 1-.2 1 .9 1 .1 1 0 1 .3 1-.9 1 1 1-.2 1-.1 1 .6 1 .6 1 .1 1-.3 1-.1 1 .3 1-.5 1 .6 1-.7 1 .3 1-.9 1 1.1 1-1.2 1 .5 1 .3 1-.3 1 .4 1 .2 1 0 1 .7 1-.4 1 .9 1-.6 1-.1 1-.1 1-.3 1-.3 1 .5 1-.1 1 .9 1 1 1-.3 1 .7 1-.5 1 1.4 1 .5 1-.7 1-.1 1-.1 1 .5 1-.8 1 .6 1-1.3 1 1 1-.8 1 .2 1-.4 1 0 1 .4 1 .1 1-.5 1 .4 1 .1 1-.1 1 0 1-.6 1 1.6 1-.6 1 .2 1-.1 1-.3 1 .2 1-.6 1-.1 1 .3 1-.5 1 .1 1 .4 1-.5 1-.1 1-.6 1-.3 1 .2 1 .5 1-.1 1 .4 1-.5 1-.2 1 .2 1 0 1 1 1-1.1 1 0 1-.3 1-.4 1-.3 1-.2 1-.3 1-.2 1-.6 1 .8 1-1 1-.8 1-.8 1-1 1-.2 1 .5 1-1.9 1 .3 1-.4 1-.9 1-.1 1-.8 1-.2 1 .1 1-1.2 1-.3 1-1.5 1-2.3 1-1.9 1-1.1 1 .2 1 2.6 1 2.8 1 1.6 1 .3 1 1.3 1 .5 1-.2 1 1.7 1 1 1-.7 1-.2 1 0 1 .6 1-.3 1 .4 1 0 1-.5 1 .2 1-.2 1 .3 1 .1 1-.5 1 .1 1-.2 1-.2 1 .5 1 0 1 .2 1 .7 1 1 1 .2 1-.5 1 .8 1 .5 1 .2 1 .2 1 .9 1 .9 1-.4 1 .1 1 .4 1 .1 1 .7 1 .4 1-.5 1 .5 1 .1 1 .2 1-.5 1-.7 1 1.3 1-.3 1-.5 1 .5 1-.2 1 .2 1 .2 1 .4 1 .1 1-1.1 1 1.1 1 .4 1-.7 1-.1 1-.2 1 .2 1 .4 1-1 1-.2 1-1.3 1 0 1-1.2 1 .3 1-.4 1-1.2 1 0 1-.6 1 .3 1-.7 1 0 1-.2 1-.2 1-.4 1-.2" fill="none" stroke="#444" stroke-width="0.9" />
<path d="M71.7 662.2l1 .2 1-.1 1-.3 1 .2 1-.4 1-.3 1-.4 1-.4 1 .8 1-.8 1 .3 1 .1 1-.4 1 .1 1 0 1-.2 1 .1 1 1.2 1-.6 1-.2 1 .3 1 0 1-.6 1 .5 1 .4 1 .2 1-.5 1 .4 1 .3 1-.3 1 .3 1-.5 1-.1 1 .3 1-.1 1 .1 1 0 1 .3 1-.4 1-.2 1 .9 1 .3 1 0 1 .4 1-.4 1 .7 1 .3 1-1.2 1-.2 1-.9 1 .8 1-.2 1-.2 1-.7 1 .5 1-.7 1 .5 1-.7 1 .7 1-.6 1-.4 1 .7 1-.6 1-.1 1 .4 1-.2 1-.7 1 .9 1-.4 1 .3 1 0 1 .1 1-.2 1 .7 1-.3 1 .8 1 .4 1 .3 1-.3 1-1 1-.6 1-.4 1-1.4 1 .2 1 .7 1-.1 1 .7 1 .7 1-.2 1 1.2 1-.3 1-1.2 1 .6 1-1.6 1-.6 1-.4 1 .5 1-.5 1 1.1 1 1.1 1 .3 1-.2 1 2.2 1-.9 1-.6 1-.3 1 0 1-.4 1-1 1-.1 1 .3 1 .5 1 .1 1 .6 1 .5 1-.3 1-.1 1-1.6 1 .5 1-.7 1 .3 1-.1 1-.3 1-.1 1 .3 1-.3 1 0 1 .4 1 .2 1-.7 1 .6 1-.1 1 .9 1-.7 1 .3 1 .8 1-.5 1 .2 1 .2 1 .1 1 .1 1 .2 1-.5 1 .1 1-.1 1-.4 1-.1 1 .1 1 .5 1 0 1 1.1 1-.3 1 .5 1-.2 1 .4 1-.3 1 .4 1 .1 1 .3 1 .2 1-.8 1-.7 1 1.1 1-.5 1 .6 1-.3 1 .2 1 .7 1-.5 1-.7 1 .8 1 .5 1 .3 1-.8 1 .8 1-.2 1 .4 1-.1 1 .7 1 .2 1-.1 1 .3 1 0 1 0 1 .5 1-1.1 1 .3 1 .1 1-1.1 1-.5 1 1.3 1-1.1 1 .7 1-.5 1-.3 1 0 1-.1 1 .3 1-.6 1 .1 1 .2 1 .2 1-.4 1 .6 1 .1 1-.9 1 .7 1 0 1 .5 1-.6 1 .3 1-.7 1 .6 1 .3 1-1.3 1 1.1 1-.1 1-.1 1-.2 1 1 1-.9 1 .3 1-.2 1 .6 1-1 1-.1 1 1.1 1 .1 1-.1 1-.2 1 1 1-.6 1-.2 1 .5 1-.1 1 .2 1-.2 1 .3 1 .2 1-.3 1-.6 1 .5 1 .4 1-.1 1 .4 1-.1 1 .2 1-1 1 .7 1 .5 1 0 1-.2 1-.1 1 .3 1-.5 1 .5 1-.3 1 .5 1 .4 1-.6 1 .3 1 .1 1 .4 1 0 1 .1 1 .1 1-.1 1 .3 1 .9 1-.7 1-.4 1 .1 1 .5 1-.1 1-.4 1 .8 1-.1 1-.1 1-.3 1 .4 1-.5 1 .1 1 .2 1 .2 1 0 1-.5 1-.4 1 .1 1 .7 1-.5 1-.1 1-.6 1 0 1 .3 1 .5 1-.9 1 .6 1 .1 1-.4 1 .4 1-.9 1 1.3 1-.3 1 .1 1-.1 1 .1 1-.6 1 1 1 0 1 .5 1-.8 1 .2 1 .5 1-.7 1 .7 1 0 1-.8 1 .5 1-.1 1 .3 1-.9 1 1.1 1 .4 1-.1 1-.4 1-.6 1 1.2 1-.3 1-.3 1 0 1 .4 1-.1 1 .5 1-.1 1-.2 1 .1 1 .5 1-.1 1 .9 1 .4 1 .3 1-.5 1 .4 1 0 1 .7 1-.2 1 .1 1-.4 1-.3 1-.1 1 .5 1-.5 1 .2 1-.6 1 .8 1-1.3 1 .5 1-.6 1 .4 1-.4 1-.6 1-.2 1-.5 1-.9 1-1.4 1-1.2 1-1.8 1-2.2 1-2.4 1 .3 1 1.7 1 .5 1 .9 1-.2 1 .3 1-.7 1-.1 1-.9 1-1.1 1 1.2 1 .3 1-.2 1 1.1 1 .7 1 0 1 .9 1 .3 1-.6 1 .1 1 .6 1-.8 1 .3 1-.4 1-.3 1 1 1 0 1-.1 1-1 1-.5 1-.4 1 .2 1 1.1 1 .2 1 .1 1 .5 1-.4 1-.2 1 .1 1 1.7 1-.4 1 .9 1 0 1-.3 1 .9 1-1.5 1 .3 1 1.5 1-.6 1 .8 1-.2 1 .4 1 0 1-1.2 1 .9 1-.1 1 .3 1-.5 1-.4 1 .4 1-.6 1 .5 1 0 1-.6 1 .1 1-.4 1-.4 1 .4 1-.3 1-.3 1 .7 1-1.1 1-.5 1-.3 1-.2 1 .3 1-.1 1-1.4 1-1.1 1-.6 1 .1 1-.5 1-.5 1-.3" fill="none" stroke="#4848ff" stroke-width="0.9" />
<line x1="170" y1="656.2" x2="170" y2="722.7" stroke="#ff4848" stroke-width="1.3" stroke-dasharray="8.4,4.2"/>
<line x1="377.4" y1="657.2" x2="377.4" y2="722.7" stroke="#0000ff" stroke-width="1.1" stroke-dasharray="1.6,3.4"/>
<line x1="385.4" y1="656.2" x2="385.4" y2="722.7" stroke="#ff0000" stroke-width="1.3" stroke-dasharray="8.4,4.2"/>
<line x1="493.2" y1="656.2" x2="493.2" y2="722.7" stroke="#00c000" stroke-width="1.2" stroke-dasharray="8.4,4.2"/>
<line x1="492.6" y1="656.2" x2="492.6" y2="722.7" stroke="#ff00ff" stroke-width="1.0" stroke-dasharray="1.6,2.4"/>
<line x1="495.3" y1="656.2" x2="495.3" y2="722.7" stroke="#ff00ff" stroke-width="1.0" stroke-dasharray="1.6,2.4"/>
<line x1="77" y1="660.5" x2="95" y2="660.5" stroke="#30e030" stroke-width="1.0"/>
<text x="96.5" y="663.6" font-size="9.5" text-anchor="start" fill="#30e030" font-weight="normal" >P<tspan font-size="6.5" dy="2.5">B</tspan></text>
<line x1="77" y1="671.5" x2="95" y2="671.5" stroke="#ff3030" stroke-width="1.0"/>
<text x="96.5" y="674.9" font-size="9.5" text-anchor="start" fill="#ff3030" font-weight="normal" >P<tspan font-size="6.5" dy="2.5">e</tspan></text>
<line x1="77" y1="683.5" x2="95" y2="683.5" stroke="#222" stroke-width="1.0"/>
<text x="96.5" y="686.3" font-size="9.5" text-anchor="start" fill="#222" font-weight="normal" >P<tspan font-size="6.5" dy="2.5">i</tspan></text>
<line x1="77" y1="694.5" x2="95" y2="694.5" stroke="#2020ff" stroke-width="1.0"/>
<text x="96.5" y="697.6" font-size="9.5" text-anchor="start" fill="#2020ff" font-weight="normal" >P<tspan font-size="6.5" dy="2.5">tot</tspan></text>
<rect x="71.5" y="655.5" width="454" height="67" fill="none" stroke="#000" stroke-width="1.2"/>
<path d="M81.5 655.5v4M110.5 655.5v8M138.5 655.5v4M167.5 655.5v4M195.5 655.5v4M224.5 655.5v8M252.5 655.5v4M281.5 655.5v4M309.5 655.5v4M338.5 655.5v8M366.5 655.5v4M395.5 655.5v4M423.5 655.5v4M452.5 655.5v8M480.5 655.5v4M509.5 655.5v4" stroke="#000" stroke-width="1" fill="none"/>
<path d="M81.5 722.5v-4M110.5 722.5v-8M138.5 722.5v-4M167.5 722.5v-4M195.5 722.5v-4M224.5 722.5v-8M252.5 722.5v-4M281.5 722.5v-4M309.5 722.5v-4M338.5 722.5v-8M366.5 722.5v-4M395.5 722.5v-4M423.5 722.5v-4M452.5 722.5v-8M480.5 722.5v-4M509.5 722.5v-4" stroke="#000" stroke-width="1" fill="none"/>
<path d="M71.5 721.5h6M71.5 705.5h6M71.5 689.5h6M71.5 672.5h6M71.5 656.5h6M71.5 718.5h3M71.5 714.5h3M71.5 711.5h3M71.5 708.5h3M71.5 701.5h3M71.5 698.5h3M71.5 695.5h3M71.5 692.5h3M71.5 685.5h3M71.5 682.5h3M71.5 679.5h3M71.5 676.5h3M71.5 669.5h3M71.5 666.5h3M71.5 663.5h3M71.5 659.5h3" stroke="#000" stroke-width="1" fill="none"/>
<path d="M525.5 721.5h-6M525.5 705.5h-6M525.5 689.5h-6M525.5 672.5h-6M525.5 656.5h-6M525.5 718.5h-3M525.5 714.5h-3M525.5 711.5h-3M525.5 708.5h-3M525.5 701.5h-3M525.5 698.5h-3M525.5 695.5h-3M525.5 692.5h-3M525.5 685.5h-3M525.5 682.5h-3M525.5 679.5h-3M525.5 676.5h-3M525.5 669.5h-3M525.5 666.5h-3M525.5 663.5h-3M525.5 659.5h-3" stroke="#000" stroke-width="1" fill="none"/>
<text x="527.3" y="725.4" font-size="10.8" text-anchor="start" fill="#000" font-weight="normal" >0.0</text>
<text x="527.3" y="709.2" font-size="10.8" text-anchor="start" fill="#000" font-weight="normal" >0.5</text>
<text x="527.3" y="693.1" font-size="10.8" text-anchor="start" fill="#000" font-weight="normal" >1.0</text>
<text x="527.3" y="676.9" font-size="10.8" text-anchor="start" fill="#000" font-weight="normal" >1.5</text>
<text x="527.3" y="660.8" font-size="10.8" text-anchor="start" fill="#000" font-weight="normal" >2.0</text>
<text x="562.5" y="690" font-size="11" text-anchor="middle" fill="#000" font-weight="normal" transform="rotate(-90 562.5 690)" >P [nPa]</text>
<line x1="71.6" y1="244.5" x2="525.6" y2="244.5" stroke="#000" stroke-width="1.6"/>
<line x1="71.6" y1="313.5" x2="525.6" y2="313.5" stroke="#000" stroke-width="1.6"/>
<line x1="71.6" y1="381.5" x2="525.6" y2="381.5" stroke="#000" stroke-width="1.6"/>
<line x1="71.6" y1="449.5" x2="525.6" y2="449.5" stroke="#000" stroke-width="1.6"/>
<line x1="71.6" y1="518.5" x2="525.6" y2="518.5" stroke="#000" stroke-width="1.6"/>
<line x1="71.6" y1="586.5" x2="525.6" y2="586.5" stroke="#000" stroke-width="1.6"/>
<line x1="71.6" y1="655.5" x2="525.6" y2="655.5" stroke="#000" stroke-width="1.6"/>
<text x="110.3" y="740" font-size="10.65" text-anchor="middle" fill="#000" font-weight="normal" >11:07:00</text>
<text x="224.3" y="740" font-size="10.65" text-anchor="middle" fill="#000" font-weight="normal" >11:07:20</text>
<text x="338.4" y="740" font-size="10.65" text-anchor="middle" fill="#000" font-weight="normal" >11:07:40</text>
<text x="452.4" y="740" font-size="10.65" text-anchor="middle" fill="#000" font-weight="normal" >11:08:00</text>
<text x="53.3" y="761" font-size="10.5" text-anchor="middle" fill="#000" font-weight="normal" >X</text>
<text x="110.3" y="761" font-size="10.5" text-anchor="middle" fill="#000" font-weight="normal" >10.4</text>
<text x="224.3" y="761" font-size="10.5" text-anchor="middle" fill="#000" font-weight="normal" >10.4</text>
<text x="338.4" y="761" font-size="10.5" text-anchor="middle" fill="#000" font-weight="normal" >10.4</text>
<text x="452.4" y="761" font-size="10.5" text-anchor="middle" fill="#000" font-weight="normal" >10.4</text>
<text x="539.6" y="761" font-size="10.5" text-anchor="start" fill="#000" font-weight="normal" >Re</text>
<text x="53.3" y="778.9" font-size="10.5" text-anchor="middle" fill="#000" font-weight="normal" >Y</text>
<text x="110.3" y="778.9" font-size="10.5" text-anchor="middle" fill="#000" font-weight="normal" >-1.48</text>
<text x="224.3" y="778.9" font-size="10.5" text-anchor="middle" fill="#000" font-weight="normal" >-1.48</text>
<text x="338.4" y="778.9" font-size="10.5" text-anchor="middle" fill="#000" font-weight="normal" >-1.47</text>
<text x="452.4" y="778.9" font-size="10.5" text-anchor="middle" fill="#000" font-weight="normal" >-1.47</text>
<text x="539.6" y="778.9" font-size="10.5" text-anchor="start" fill="#000" font-weight="normal" >Re</text>
<text x="53.3" y="796.8" font-size="10.5" text-anchor="middle" fill="#000" font-weight="normal" >Z</text>
<text x="110.3" y="796.8" font-size="10.5" text-anchor="middle" fill="#000" font-weight="normal" >1.95</text>
<text x="224.3" y="796.8" font-size="10.5" text-anchor="middle" fill="#000" font-weight="normal" >1.95</text>
<text x="338.4" y="796.8" font-size="10.5" text-anchor="middle" fill="#000" font-weight="normal" >1.95</text>
<text x="452.4" y="796.8" font-size="10.5" text-anchor="middle" fill="#000" font-weight="normal" >1.95</text>
<text x="539.6" y="796.8" font-size="10.5" text-anchor="start" fill="#000" font-weight="normal" >Re</text>
<text x="425.2" y="837.2" font-size="11.95" text-anchor="start" fill="#000" font-weight="normal" >paschmann 28-Oct-2018 12:46</text>
<text x="627.3" y="11.7" font-size="10.9" text-anchor="start" fill="#000" font-weight="normal" >Plot layout GP 19/10/2018</text>
<text x="894.7" y="34.4" font-size="17.6" text-anchor="middle" fill="#000" font-weight="normal" >MMS2</text>
<text x="996" y="23.9" font-size="17.8" text-anchor="start" fill="#990000" font-weight="bold" >20170122_110653</text>
<path d="M668.4 51.8l1.5-.5 1.5.2 1.5.3 1.5.6 1.5.8 1.5.3 1.5-.1 1.5-.9 1.5-.8 1.5 1.1 1.5.8 1.5.2 1.5 0 1.5-1.2 1.5 0 1.5.9 1.5.4 1.5.3 1.5.7 1.5 1 1.5 1 1.5-.4 1.5-.5 1.5-1 1.5-1 1.5-.3 1.5-1.1 1.5-1.3 1.5 0 1.5-.1 1.5-1.1 1.5.2 1.5.2 1.5.2 1.5.4 1.5.3 1.5.9 1.5.2 1.5.2 1.5-.3 1.5-.4 1.5-.1 1.5.1 1.5.5 1.5.3 1.5.4 1.5 1.1 1.5 1.1 1.5-.4 1.5.4 1.5-.7 1.5-1.1 1.5 0 1.5-.2 1.5-.8 1.5-.8 1.5 0 1.5-.2 1.5-.5 1.5.2 1.5.3 1.5-.5 1.5-.6 1.5-.2 1.5-.4 1.5-.5 1.5-.4 1.5.1 1.5.1 1.5-.6 1.5-.1 1.5.3 1.5.6 1.5-.2 1.5-.5 1.5.3 1.5-.1 1.5.5 1.5.7 1.5-.3 1.5-.4 1.5-.1 1.5.4 1.5-.2 1.5-.6 1.5-.8 1.5.3 1.5.4 1.5-.7 1.5.4 1.5.3 1.5-.9 1.5-.2 1.5.3 1.5.3 1.5-.6 1.5-.6 1.5.6 1.5.5 1.5-.4 1.5-1.6 1.5-.2 1.5 1.6 1.5 1.4 1.5 1.1 1.5.4 1.5-.3 1.5.5 1.5.2 1.5-.4 1.5-.1 1.5.5 1.5-.4 1.5-.9 1.5.3 1.5.3 1.5-.4 1.5-.3 1.5.4 1.5.7 1.5 0 1.5-.3 1.5.1 1.5-1 1.5-1 1.5.3 1.5.1 1.5-.2 1.5.3 1.5-.2 1.5-.2 1.5-.4 1.5-.2 1.5 1.1 1.5.2 1.5-.1 1.5.6 1.5-.1 1.5.1 1.5.5 1.5.2 1.5-.1 1.5-.6 1.5 0 1.5.3 1.5.3 1.5-.1 1.5-.5 1.5-.3 1.5.4 1.5-.4 1.5-.1 1.5-.1 1.5-.6 1.5.9 1.5.5 1.5-.4 1.5-.1 1.5.2 1.5.2 1.5.4 1.5-.6 1.5 0 1.5 0 1.5-.2 1.5.1 1.5-.2 1.5.1 1.5.4 1.5.1 1.5.4 1.5-.1 1.5-.8 1.5 0 1.5.7 1.5.3 1.5.3 1.5.4 1.5-.3 1.5-.2 1.5-.3 1.5.5 1.5.3 1.5-.7 1.5-.2 1.5.3 1.5 1 1.5.5 1.5-.8 1.5 0 1.5 1 1.5.6 1.5.3 1.5-.1 1.5.3 1.5.1 1.5-1.2 1.5-.4 1.5.3 1.5.3 1.5.4 1.5-.6 1.5-.3 1.5.6 1.5-.5 1.5-.7 1.5.6 1.5.9 1.5-.1 1.5-.9 1.5.5 1.5.9 1.5 0 1.5.3 1.5.2 1.5.5 1.5.7 1.5-.4 1.5-.3 1.5-.3 1.5-1 1.5-.5 1.5-.1 1.5-.6 1.5 0 1.5.9 1.5.1 1.5.4 1.5.9 1.5-.6 1.5-.9 1.5.3 1.5-.8 1.5-1.5 1.5-.5 1.5-.7 1.5-.9 1.5 0 1.5-.2 1.5-.5 1.5-.3 1.5-.9 1.5-1.2 1.5-.9 1.5-1.2 1.5-1.2 1.5 2.7 1.5 2.4 1.5 1.7 1.5 2 1.5 1.1 1.5-.5 1.5-.5 1.5.3 1.5 0 1.5 0 1.5-.7 1.5-.9 1.5.2 1.5.6 1.5.4 1.5-.8 1.5-.6 1.5.1 1.5.4 1.5.6 1.5-.2 1.5-.1 1.5.5 1.5.9 1.5-.1 1.5-.2 1.5.4 1.5.1 1.5.1 1.5-.3 1.5-.3 1.5-.3 1.5.3 1.5 1.1 1.5-.7 1.5-.4 1.5 1.2 1.5.4 1.5-.8 1.5.7 1.5.3 1.5.3 1.5.4 1.5-.9 1.5 0 1.5.1 1.5 0 1.5 0 1.5-.6 1.5-.2 1.5-.2 1.5-.9 1.5-.7 1.5-.6" fill="none" stroke="#40ee40" stroke-width="0.9" />
<path d="M668.4 98.6l1.5-.4 1.5 0 1.5 2 1.5-.5 1.5-1 1.5.7 1.5 1.5 1.5 1.3 1.5.1 1.5-.1 1.5-.6 1.5-1.3 1.5-.5 1.5.1 1.5 1.1 1.5 1.1 1.5-.3 1.5.7 1.5 1 1.5-.7 1.5-.3 1.5 1.8 1.5.8 1.5-1.7 1.5-.6 1.5 1.9 1.5.4 1.5-.2 1.5 1.4 1.5-2.1 1.5.1 1.5 1.5 1.5-1.3 1.5 0 1.5 1.3 1.5.8 1.5.2 1.5-.5 1.5.8 1.5 1.7 1.5.5 1.5 0 1.5.2 1.5 1 1.5-.6 1.5-.5 1.5.1 1.5-.4 1.5 0 1.5-1.7 1.5-.9 1.5 1.2 1.5-1.3 1.5-1.4 1.5 2.2 1.5 0 1.5-1.6 1.5.6 1.5-.3 1.5-1.1 1.5-.3 1.5-.1 1.5-.3 1.5.1 1.5 1.1 1.5-.2 1.5-.1 1.5 0 1.5-.6 1.5-.3 1.5-.9 1.5-.3 1.5.2 1.5-1.2 1.5.1 1.5.9 1.5-.4 1.5-.9 1.5-2.1 1.5 1.1 1.5 1.4 1.5-2.6 1.5.2 1.5.7 1.5-.2 1.5.1 1.5.1 1.5 0 1.5-.8 1.5-.3 1.5.3 1.5-1.2 1.5-.2 1.5 1 1.5-1.4 1.5-.7 1.5-.2 1.5-.1 1.5 1 1.5-.5 1.5 0 1.5 1.1 1.5-.1 1.5.5 1.5-.4 1.5-.5 1.5 1.8 1.5-.2 1.5-1.6 1.5.2 1.5.6 1.5-.2 1.5-.4 1.5-.5 1.5-.4 1.5.5 1.5-.2 1.5.2 1.5 1 1.5-.1 1.5-1.5 1.5.3 1.5.8 1.5-1.3 1.5-.1 1.5 0 1.5-.8 1.5-.1 1.5.7 1.5-.3 1.5-1 1.5.4 1.5.5 1.5.4 1.5-1.6 1.5-.2 1.5.6 1.5-.2 1.5.3 1.5-1.3 1.5-.8 1.5-.1 1.5 0 1.5 1.1 1.5-.4 1.5-1.7 1.5 1.4 1.5-.5 1.5-1.8 1.5.4 1.5-1.1 1.5.3 1.5 1.3 1.5-.8 1.5-.9 1.5-.3 1.5-1.4 1.5 0 1.5.1 1.5-1 1.5.8 1.5.9 1.5-1 1.5-.1 1.5 1.4 1.5-.8 1.5-1.4 1.5-.2 1.5-.5 1.5-.8 1.5.4 1.5.8 1.5-.9 1.5-.9 1.5-.3 1.5-.4 1.5-.4 1.5-.7 1.5.9 1.5.4 1.5-.9 1.5 1 1.5-.7 1.5-1.1 1.5-.9 1.5-1.1 1.5 1 1.5-.1 1.5-1.7 1.5-1.1 1.5.7 1.5.1 1.5-.2 1.5.4 1.5-1 1.5-.6 1.5.3 1.5-.3 1.5-1.4 1.5-.2 1.5 0 1.5-.7 1.5.2 1.5 0 1.5-.1 1.5-.7 1.5-1.3 1.5-.5 1.5.2 1.5-.7 1.5-.8 1.5-.4 1.5-.6 1.5.1 1.5 1.6 1.5-.5 1.5-1.7 1.5 0 1.5-.7 1.5-.1 1.5 1.1 1.5-.3 1.5-.4 1.5.5 1.5-1.7 1.5-.9 1.5.4 1.5-.2 1.5 1.1 1.5 1.1 1.5-.3 1.5-.8 1.5.1 1.5.4 1.5 1.4 1.5.4 1.5-1.3 1.5.4 1.5-.5 1.5-.5 1.5.1 1.5.8 1.5-.2 1.5-.6 1.5.7 1.5-.1 1.5-1.1 1.5-.4 1.5.6 1.5.1 1.5.9 1.5.6 1.5-.5 1.5-.6 1.5.6 1.5.6 1.5-.7 1.5.1 1.5 2.2 1.5.3 1.5-1.8 1.5 1.3 1.5 1.2 1.5-.6 1.5.7 1.5-.5 1.5-.8 1.5.1 1.5 1.4 1.5 1.3 1.5 1.1 1.5.5 1.5-1 1.5-.5 1.5-.7 1.5.8 1.5 1.7 1.5.1 1.5-1.7 1.5 1.6 1.5 2.4 1.5-.7 1.5 0 1.5 1.7 1.5.8 1.5-1.4 1.5-.3 1.5.9 1.5.9 1.5.9 1.5-1 1.5.3 1.5 1.5 1.5-.8 1.5-.9 1.5.8 1.5 1 1.5.3 1.5-.6 1.5-.3 1.5 1.4 1.5 1.6" fill="none" stroke="#4848ff" stroke-width="0.9" />
<path d="M668.4 110.2l1.5.3 1.5.5 1.5 1.5 1.5.2 1.5.3 1.5 0 1.5-.7 1.5-.8 1.5.6 1.5-.6 1.5-1.4 1.5-.5 1.5-.7 1.5-.2 1.5-.1 1.5-.2 1.5-.3 1.5-.1 1.5.3 1.5-.3 1.5.1 1.5 1.4 1.5-.3 1.5-1 1.5 1.4 1.5-.8 1.5-2.6 1.5-.1 1.5 1.3 1.5.9 1.5-1.9 1.5-.7 1.5.8 1.5-.5 1.5-.9 1.5.9 1.5.7 1.5-.3 1.5.6 1.5.9 1.5.7 1.5-.9 1.5 0 1.5 1.8 1.5.2 1.5 0 1.5 1.5 1.5.1 1.5-.2 1.5-.9 1.5 0 1.5-.2 1.5-.4 1.5-.4 1.5-.1 1.5.5 1.5.7 1.5.6 1.5-.4 1.5.3 1.5.7 1.5.2 1.5-.8 1.5-1.8 1.5-.9 1.5-1.9 1.5-.3 1.5 2 1.5.5 1.5-1.3 1.5 1 1.5 1.2 1.5-.3 1.5.4 1.5.3 1.5.6 1.5-.7 1.5-.2 1.5.7 1.5.8 1.5-.2 1.5.4 1.5.9 1.5.1 1.5-.5 1.5-.3 1.5.6 1.5-1.2 1.5-.7 1.5.1 1.5-.7 1.5-.6 1.5-.6 1.5-.3 1.5.5 1.5-.6 1.5-1.3 1.5.5 1.5.4 1.5-.3 1.5.4 1.5 0 1.5.7 1.5.3 1.5 0 1.5-.2 1.5-.7 1.5.5 1.5 1.7 1.5.3 1.5 0 1.5.1 1.5-.8 1.5-.5 1.5-.3 1.5 1.1 1.5.6 1.5-1.1 1.5-.7 1.5 1.2 1.5.2 1.5 0 1.5 0 1.5 0 1.5 1.4 1.5.3 1.5-.4 1.5-.1 1.5-.2 1.5-.4 1.5.3 1.5.2 1.5-.8 1.5-1.5 1.5-.9 1.5.4 1.5-.1 1.5-1.1 1.5.1 1.5 2.2 1.5-.7 1.5-1 1.5 1.7 1.5 0 1.5-.7 1.5.5 1.5.8 1.5-.1 1.5.5 1.5-.5 1.5.1 1.5 1.4 1.5-.1 1.5.2 1.5.2 1.5.5 1.5-.3 1.5-.6 1.5-.5 1.5-.7 1.5.4 1.5-.4 1.5-.4 1.5 0 1.5 0 1.5.5 1.5.6 1.5-1.1 1.5-.6 1.5 1.4 1.5.7 1.5.2 1.5-1.5 1.5-1 1.5 1 1.5.6 1.5-.2 1.5-.4 1.5 0 1.5-.3 1.5.1 1.5 1 1.5-.1 1.5.3 1.5-1 1.5-.6 1.5 2.4 1.5.8 1.5 0 1.5-.2 1.5-1.6 1.5-.6 1.5 1 1.5-.9 1.5-1.5 1.5-.3 1.5 0 1.5.3 1.5.3 1.5-.1 1.5.6 1.5.8 1.5-1 1.5-.8 1.5-.7 1.5.2 1.5 1.3 1.5-.5 1.5-1.9 1.5-.3 1.5.4 1.5-.3 1.5-.6 1.5.6 1.5 1.8 1.5.8 1.5-.1 1.5-.4 1.5-.2 1.5-.1 1.5-.8 1.5-.9 1.5-.7 1.5.4 1.5-.1 1.5-.1 1.5 1.1 1.5.2 1.5.1 1.5-.5 1.5-.3 1.5.4 1.5.4 1.5 0 1.5.3 1.5.6 1.5-.1 1.5.4 1.5 0 1.5-.2 1.5 1 1.5.6 1.5-.8 1.5-.4 1.5 0 1.5.8 1.5 1.1 1.5-.2 1.5-.5 1.5-.2 1.5.7 1.5.6 1.5-.4 1.5.3 1.5-.6 1.5-1.4 1.5 0 1.5.3 1.5.3 1.5-.1 1.5-.3 1.5-.8 1.5.6 1.5 1 1.5-1.3 1.5-.2 1.5.8 1.5.1 1.5-.8 1.5-.2 1.5.9 1.5-.5 1.5-.7 1.5.7 1.5 1.2 1.5 1 1.5-.6 1.5-.1 1.5.3 1.5-.9 1.5-1 1.5-.4 1.5.8 1.5 1.4 1.5.8 1.5-.9 1.5-.6 1.5 1.4 1.5 1.2 1.5-.5 1.5.7 1.5 1.6 1.5.5 1.5-.2 1.5.2 1.5-.5 1.5-1.2 1.5-.5 1.5.8 1.5.5" fill="none" stroke="#ff5050" stroke-width="0.9" />
<line x1="766.8" y1="47.6" x2="766.8" y2="115.4" stroke="#ff4848" stroke-width="1.3" stroke-dasharray="9,4.3"/>
<line x1="974.2" y1="48.6" x2="974.2" y2="115.4" stroke="#0000ff" stroke-width="1.1" stroke-dasharray="1.6,3.4"/>
<line x1="982.2" y1="47.6" x2="982.2" y2="115.4" stroke="#ff0000" stroke-width="1.3" stroke-dasharray="9,4.3"/>
<line x1="1090" y1="47.6" x2="1090" y2="115.4" stroke="#00c000" stroke-width="1.2" stroke-dasharray="9,4.3"/>
<line x1="1089.4" y1="47.6" x2="1089.4" y2="115.4" stroke="#ff00ff" stroke-width="1.0" stroke-dasharray="1.6,2.4"/>
<line x1="1092.1" y1="47.6" x2="1092.1" y2="115.4" stroke="#ff00ff" stroke-width="1.0" stroke-dasharray="1.6,2.4"/>
<line x1="668.6" y1="86.5" x2="1122.2" y2="86.5" stroke="#000" stroke-width="1.1" stroke-dasharray="4.2,2.5"/>
<line x1="674" y1="54.5" x2="692" y2="54.5" stroke="#2020ff" stroke-width="1.0"/>
<text x="693.5" y="57.8" font-size="9.5" text-anchor="start" fill="#2020ff" font-weight="normal" >B<tspan font-size="7" dy="3">L</tspan></text>
<line x1="674" y1="79.5" x2="692" y2="79.5" stroke="#30e030" stroke-width="1.0"/>
<text x="693.5" y="82.8" font-size="9.5" text-anchor="start" fill="#30e030" font-weight="normal" >B<tspan font-size="7" dy="3">M</tspan></text>
<line x1="674" y1="103.5" x2="692" y2="103.5" stroke="#ff3030" stroke-width="1.0"/>
<text x="693.5" y="107.1" font-size="9.5" text-anchor="start" fill="#ff3030" font-weight="normal" >B<tspan font-size="7" dy="3">N</tspan></text>
<rect x="668.5" y="41.5" width="454" height="74" fill="none" stroke="#000" stroke-width="1.2"/>
<path d="M678.5 41.5v4M707.5 41.5v8M735.5 41.5v4M764.5 41.5v4M792.5 41.5v4M821.5 41.5v8M849.5 41.5v4M878.5 41.5v4M906.5 41.5v4M935.5 41.5v8M963.5 41.5v4M992.5 41.5v4M1020.5 41.5v4M1049.5 41.5v8M1077.5 41.5v4M1106.5 41.5v4" stroke="#000" stroke-width="1" fill="none"/>
<path d="M678.5 115.5v-4M707.5 115.5v-8M735.5 115.5v-4M764.5 115.5v-4M792.5 115.5v-4M821.5 115.5v-8M849.5 115.5v-4M878.5 115.5v-4M906.5 115.5v-4M935.5 115.5v-8M963.5 115.5v-4M992.5 115.5v-4M1020.5 115.5v-4M1049.5 115.5v-8M1077.5 115.5v-4M1106.5 115.5v-4" stroke="#000" stroke-width="1" fill="none"/>
<path d="M668.5 101.5h6M668.5 86.5h6M668.5 70.5h6M668.5 55.5h6M668.5 113.5h3M668.5 109.5h3M668.5 105.5h3M668.5 97.5h3M668.5 93.5h3M668.5 89.5h3M668.5 82.5h3M668.5 78.5h3M668.5 74.5h3M668.5 66.5h3M668.5 62.5h3M668.5 58.5h3M668.5 51.5h3M668.5 47.5h3M668.5 43.5h3" stroke="#000" stroke-width="1" fill="none"/>
<path d="M1122.5 101.5h-6M1122.5 86.5h-6M1122.5 70.5h-6M1122.5 55.5h-6M1122.5 113.5h-3M1122.5 109.5h-3M1122.5 105.5h-3M1122.5 97.5h-3M1122.5 93.5h-3M1122.5 89.5h-3M1122.5 82.5h-3M1122.5 78.5h-3M1122.5 74.5h-3M1122.5 66.5h-3M1122.5 62.5h-3M1122.5 58.5h-3M1122.5 51.5h-3M1122.5 47.5h-3M1122.5 43.5h-3" stroke="#000" stroke-width="1" fill="none"/>
<text x="665.3" y="59.1" font-size="10.8" text-anchor="end" fill="#000" font-weight="normal" >40</text>
<text x="665.3" y="74.6" font-size="10.8" text-anchor="end" fill="#000" font-weight="normal" >20</text>
<text x="665.3" y="90.1" font-size="10.8" text-anchor="end" fill="#000" font-weight="normal" >0</text>
<text x="665.3" y="105.6" font-size="10.8" text-anchor="end" fill="#000" font-weight="normal" >-20</text>
<text x="639.5" y="78.5" font-size="11" text-anchor="middle" fill="#000" font-weight="normal" transform="rotate(-90 639.5 78.5)" >B<tspan font-size="9.3" dy="3">LMN</tspan><tspan dy="-3"> [nT]</tspan></text>
<linearGradient id="ge" x1="0" y1="0" x2="0" y2="1">
<stop offset="0.000" stop-color="#c020ff"/>
<stop offset="0.127" stop-color="#3030ff"/>
<stop offset="0.170" stop-color="#0080ff"/>
<stop offset="0.211" stop-color="#00c8ff"/>
<stop offset="0.251" stop-color="#00e8ff"/>
<stop offset="0.339" stop-color="#00f0e0"/>
<stop offset="0.372" stop-color="#00f0b0"/>
<stop offset="0.404" stop-color="#00f078"/>
<stop offset="0.433" stop-color="#30f030"/>
<stop offset="0.460" stop-color="#58f800"/>
<stop offset="0.494" stop-color="#90f800"/>
<stop offset="0.521" stop-color="#c8f800"/>
<stop offset="0.541" stop-color="#f0fc00"/>
<stop offset="0.565" stop-color="#ffe800"/>
<stop offset="0.588" stop-color="#ffc000"/>
<stop offset="0.615" stop-color="#ffa000"/>
<stop offset="0.656" stop-color="#ff9000"/>
<stop offset="0.696" stop-color="#ffa000"/>
<stop offset="0.727" stop-color="#ffc000"/>
<stop offset="0.750" stop-color="#ffe800"/>
<stop offset="0.771" stop-color="#ffff00"/>
<stop offset="0.814" stop-color="#e8fc00"/>
<stop offset="0.838" stop-color="#c0f800"/>
<stop offset="0.872" stop-color="#a0f000"/>
<stop offset="0.912" stop-color="#a0f000"/>
<stop offset="0.953" stop-color="#c8f800"/>
<stop offset="0.987" stop-color="#f0fc00"/>
<stop offset="1.000" stop-color="#ffff00"/>
</linearGradient>
<rect x="668.6" y="115.4" width="453.6" height="74.1" fill="url(#ge)"/>
<g clip-path="url(#cm2)">
<ellipse cx="686" cy="164.2" rx="6" ry="3.8" fill="#ff6c00" opacity="0.7" filter="url(#bl)"/>
<ellipse cx="704" cy="164.2" rx="9" ry="3.8" fill="#ff6c00" opacity="0.4" filter="url(#bl)"/>
<ellipse cx="726" cy="164.2" rx="9" ry="3.8" fill="#ff6c00" opacity="0.35" filter="url(#bl)"/>
<ellipse cx="780" cy="164.2" rx="28" ry="3.8" fill="#ff6c00" opacity="0.25" filter="url(#bl)"/>
<ellipse cx="840" cy="164.2" rx="28" ry="3.8" fill="#ff6c00" opacity="0.3" filter="url(#bl)"/>
<ellipse cx="900" cy="164.2" rx="22" ry="3.8" fill="#ff6c00" opacity="0.25" filter="url(#bl)"/>
<ellipse cx="965" cy="164.2" rx="28" ry="3.8" fill="#ff6c00" opacity="0.4" filter="url(#bl)"/>
<ellipse cx="1000" cy="164.2" rx="12" ry="3.8" fill="#ff6c00" opacity="0.3" filter="url(#bl)"/>
<ellipse cx="1062" cy="164.2" rx="14" ry="3.8" fill="#ff6c00" opacity="0.4" filter="url(#bl)"/>
<ellipse cx="1085" cy="164.2" rx="12" ry="3.8" fill="#ff6c00" opacity="0.45" filter="url(#bl)"/>
<ellipse cx="1108" cy="164.2" rx="10" ry="3.8" fill="#ff6c00" opacity="0.45" filter="url(#bl)"/>
<ellipse cx="672" cy="164.2" rx="3" ry="5" fill="#ffe000" opacity="0.5" filter="url(#bl)"/>
<ellipse cx="695" cy="164.2" rx="3" ry="5" fill="#ffe000" opacity="0.4" filter="url(#bl)"/>
<ellipse cx="750" cy="164.2" rx="6" ry="5" fill="#ffe000" opacity="0.3" filter="url(#bl)"/>
<ellipse cx="810" cy="164.2" rx="5" ry="5" fill="#ffe000" opacity="0.3" filter="url(#bl)"/>
<ellipse cx="870" cy="164.2" rx="5" ry="5" fill="#ffe000" opacity="0.3" filter="url(#bl)"/>
<ellipse cx="930" cy="164.2" rx="6" ry="5" fill="#ffe000" opacity="0.3" filter="url(#bl)"/>
<ellipse cx="1047" cy="164.2" rx="3" ry="5" fill="#ffe000" opacity="0.5" filter="url(#bl)"/>
<ellipse cx="1118" cy="164.2" rx="3" ry="5" fill="#ffe000" opacity="0.3" filter="url(#bl)"/>
<rect x="1021" y="157.5" width="17" height="15" fill="#fff420" opacity="0.92" filter="url(#bl2)"/>
<rect x="1024" y="149" width="12" height="6" fill="#28e020" opacity="0.5" filter="url(#bl2)"/>
<rect x="1022" y="176" width="17" height="11" fill="#50ec00" opacity="0.6" filter="url(#bl2)"/>
<rect x="1033.5" y="156" width="2.5" height="20" fill="#c0f400" opacity="0.7" filter="url(#bl2)"/>
</g>
<path d="M668.6 117h6.3M676.2 117h21.4M698.8 117h2.5M702.6 117h11.3M715.2 117h3.8M720.3 117h2.5M724 117h1.3M726.6 117h3.8M731.6 117h2.5M735.4 117h1.3M739.2 117h5M745.5 117h1.3M749.2 117h5M755.5 117h7.6M765.6 117h10.1M777 117h7.6M785.8 117h1.3M788.3 117h2.5M792.1 117h20.2M813.5 117h2.5M818.5 117h13.9M833.7 117h5M840 117h8.8M850 117h2.5M853.8 117h11.3M866.4 117h1.3M868.9 117h3.8M874 117h12.6M887.8 117h2.5M891.6 117h11.3M904.2 117h18.9M924.4 117h1.3M928.2 117h3.8M933.2 117h8.8M943.3 117h2.5M949.6 117h3.8M954.6 117h1.3M957.1 117h2.5M960.9 117h20.2M982.3 117h1.3M984.9 117h26.5M1015.1 117h5M1021.4 117h21.4M1045.3 117h7.6M1054.2 117h1.3M1056.7 117h1.3M1061.7 117h2.5M1065.5 117h10.1M1076.8 117h3.8M1081.9 117h1.3M1084.4 117h5M1090.7 117h2.5M1094.5 117h1.3M1097 117h1.3M1099.5 117h2.5M1103.3 117h3.8M1108.3 117h7.6M1118.4 117h3.8" stroke="#ff00ff" stroke-width="2.4" fill="none"/>
<path d="M674.9 117h1.3M697.6 117h1.3M701.4 117h1.3M719 117h1.3M722.8 117h1.3M725.3 117h1.3M734.1 117h1.3M736.6 117h2.5M744.2 117h1.3M748 117h1.3M754.3 117h1.3M763.1 117h1.3M775.7 117h1.3M784.5 117h1.3M787 117h1.3M790.8 117h1.3M812.2 117h1.3M816 117h2.5M832.4 117h1.3M838.7 117h1.3M848.8 117h1.3M852.6 117h1.3M865.2 117h1.3M867.7 117h1.3M872.7 117h1.3M886.6 117h1.3M890.4 117h1.3M903 117h1.3M923.1 117h1.3M925.6 117h2.5M942 117h1.3M947.1 117h2.5M953.4 117h1.3M955.9 117h1.3M959.7 117h1.3M981.1 117h1.3M983.6 117h1.3M1013.8 117h1.3M1020.1 117h1.3M1042.8 117h2.5M1052.9 117h1.3M1055.4 117h1.3M1059.2 117h1.3M1064.2 117h1.3M1080.6 117h1.3M1083.1 117h1.3M1089.4 117h1.3M1093.2 117h1.3M1095.7 117h1.3M1098.3 117h1.3M1102 117h1.3M1107.1 117h1.3M1115.9 117h2.5" stroke="#2000ff" stroke-width="2.4" fill="none"/>
<path d="M668.6 119.3h1.3M671.1 119.3h2.5M685 119.3h1.3M687.5 119.3h1.3M691.3 119.3h1.3M700.1 119.3h1.3M710.2 119.3h1.3M715.2 119.3h2.5M725.3 119.3h1.3M729.1 119.3h5M742.9 119.3h1.3M749.2 119.3h1.3M751.8 119.3h1.3M761.8 119.3h1.3M765.6 119.3h3.8M770.7 119.3h1.3M782 119.3h1.3M784.5 119.3h2.5M788.3 119.3h1.3M792.1 119.3h2.5M802.2 119.3h1.3M805.9 119.3h1.3M813.5 119.3h1.3M818.5 119.3h2.5M824.8 119.3h1.3M834.9 119.3h1.3M837.4 119.3h2.5M843.7 119.3h3.8M855.1 119.3h1.3M858.9 119.3h1.3M861.4 119.3h2.5M879 119.3h1.3M884.1 119.3h1.3M889.1 119.3h1.3M904.2 119.3h1.3M906.7 119.3h1.3M915.6 119.3h2.5M919.3 119.3h1.3M929.4 119.3h3.8M934.5 119.3h2.5M939.5 119.3h1.3M942 119.3h3.8M948.3 119.3h1.3M954.6 119.3h1.3M964.7 119.3h1.3M968.5 119.3h2.5M977.3 119.3h1.3M988.6 119.3h1.3M992.4 119.3h1.3M994.9 119.3h3.8M1000 119.3h1.3M1012.6 119.3h1.3M1015.1 119.3h1.3M1034 119.3h1.3M1037.8 119.3h2.5M1042.8 119.3h1.3M1047.9 119.3h1.3M1056.7 119.3h1.3M1059.2 119.3h1.3M1064.2 119.3h1.3M1075.6 119.3h1.3M1080.6 119.3h1.3M1085.7 119.3h1.3M1092 119.3h2.5M1095.7 119.3h3.8M1104.6 119.3h1.3M1108.3 119.3h5M1115.9 119.3h2.5" stroke="#2000ff" stroke-width="2.4" fill="none"/>
<path d="M669.9 119.3h1.3M673.6 119.3h5M679.9 119.3h2.5M683.7 119.3h1.3M686.2 119.3h1.3M688.8 119.3h2.5M692.5 119.3h7.6M701.4 119.3h6.3M708.9 119.3h1.3M711.4 119.3h3.8M717.7 119.3h3.8M722.8 119.3h2.5M726.6 119.3h2.5M734.1 119.3h6.3M741.7 119.3h1.3M744.2 119.3h5M750.5 119.3h1.3M753 119.3h8.8M764.4 119.3h1.3M769.4 119.3h1.3M771.9 119.3h6.3M779.5 119.3h2.5M783.3 119.3h1.3M787 119.3h1.3M789.6 119.3h2.5M794.6 119.3h3.8M799.6 119.3h1.3M803.4 119.3h2.5M807.2 119.3h1.3M809.7 119.3h3.8M814.8 119.3h3.8M821.1 119.3h3.8M827.4 119.3h7.6M836.2 119.3h1.3M840 119.3h3.8M847.5 119.3h7.6M857.6 119.3h1.3M860.1 119.3h1.3M863.9 119.3h6.3M871.5 119.3h3.8M876.5 119.3h2.5M881.5 119.3h2.5M885.3 119.3h3.8M890.4 119.3h3.8M895.4 119.3h8.8M908 119.3h7.6M918.1 119.3h1.3M920.6 119.3h8.8M933.2 119.3h1.3M937 119.3h2.5M940.8 119.3h1.3M945.8 119.3h2.5M950.8 119.3h3.8M955.9 119.3h8.8M966 119.3h2.5M971 119.3h1.3M973.5 119.3h3.8M978.6 119.3h5M984.9 119.3h2.5M989.9 119.3h2.5M993.7 119.3h1.3M998.7 119.3h1.3M1001.2 119.3h11.3M1013.8 119.3h1.3M1016.4 119.3h7.6M1025.2 119.3h8.8M1035.3 119.3h2.5M1040.3 119.3h2.5M1044.1 119.3h3.8M1049.1 119.3h7.6M1057.9 119.3h1.3M1060.5 119.3h3.8M1065.5 119.3h10.1M1076.8 119.3h3.8M1081.9 119.3h1.3M1084.4 119.3h1.3M1086.9 119.3h5M1094.5 119.3h1.3M1099.5 119.3h5M1105.8 119.3h2.5M1113.4 119.3h2.5M1118.4 119.3h3.8" stroke="#ff00ff" stroke-width="2.4" fill="none"/>
<path d="M678.7 119.3h1.3M682.5 119.3h1.3M707.7 119.3h1.3M721.5 119.3h1.3M740.4 119.3h1.3M763.1 119.3h1.3M778.2 119.3h1.3M808.5 119.3h1.3M826.1 119.3h1.3M856.3 119.3h1.3M870.2 119.3h1.3M875.2 119.3h1.3M880.3 119.3h1.3M905.5 119.3h1.3M949.6 119.3h1.3M972.3 119.3h1.3M983.6 119.3h1.3M987.4 119.3h1.3M1023.9 119.3h1.3M1083.1 119.3h1.3" stroke="#0060ff" stroke-width="2.4" fill="none"/>
<path d="M668.6 121.6h1.3M672.4 121.6h2.5M676.2 121.6h1.3M679.9 121.6h1.3M682.5 121.6h1.3M688.8 121.6h1.3M692.5 121.6h1.3M696.3 121.6h1.3M698.8 121.6h3.8M708.9 121.6h2.5M716.5 121.6h2.5M721.5 121.6h1.3M725.3 121.6h1.3M727.8 121.6h2.5M731.6 121.6h1.3M735.4 121.6h1.3M742.9 121.6h1.3M745.5 121.6h2.5M749.2 121.6h1.3M751.8 121.6h1.3M768.1 121.6h1.3M770.7 121.6h1.3M773.2 121.6h2.5M777 121.6h5M787 121.6h3.8M792.1 121.6h1.3M795.9 121.6h3.8M800.9 121.6h1.3M804.7 121.6h1.3M813.5 121.6h2.5M817.3 121.6h1.3M821.1 121.6h1.3M826.1 121.6h1.3M829.9 121.6h3.8M834.9 121.6h1.3M842.5 121.6h1.3M846.3 121.6h1.3M848.8 121.6h1.3M852.6 121.6h2.5M860.1 121.6h5M867.7 121.6h2.5M872.7 121.6h1.3M875.2 121.6h1.3M877.8 121.6h1.3M886.6 121.6h1.3M895.4 121.6h1.3M899.2 121.6h3.8M905.5 121.6h2.5M909.3 121.6h1.3M913 121.6h1.3M918.1 121.6h2.5M923.1 121.6h1.3M929.4 121.6h2.5M933.2 121.6h2.5M940.8 121.6h1.3M944.5 121.6h1.3M957.1 121.6h2.5M966 121.6h5M972.3 121.6h3.8M977.3 121.6h2.5M983.6 121.6h2.5M992.4 121.6h1.3M996.2 121.6h1.3M1001.2 121.6h2.5M1006.3 121.6h1.3M1008.8 121.6h1.3M1015.1 121.6h5M1021.4 121.6h1.3M1025.2 121.6h1.3M1032.7 121.6h2.5M1040.3 121.6h5M1049.1 121.6h5M1055.4 121.6h3.8M1061.7 121.6h1.3M1064.2 121.6h2.5M1068 121.6h2.5M1073.1 121.6h2.5M1076.8 121.6h2.5M1080.6 121.6h1.3M1086.9 121.6h2.5M1092 121.6h6.3M1104.6 121.6h2.5M1109.6 121.6h2.5M1113.4 121.6h6.3" stroke="#2000ff" stroke-width="2.4" fill="none"/>
<path d="M669.9 121.6h2.5M674.9 121.6h1.3M677.4 121.6h1.3M685 121.6h2.5M690 121.6h2.5M693.8 121.6h2.5M697.6 121.6h1.3M702.6 121.6h6.3M711.4 121.6h5M722.8 121.6h2.5M726.6 121.6h1.3M730.3 121.6h1.3M732.9 121.6h2.5M739.2 121.6h2.5M744.2 121.6h1.3M748 121.6h1.3M750.5 121.6h1.3M753 121.6h5M759.3 121.6h3.8M764.4 121.6h2.5M769.4 121.6h1.3M771.9 121.6h1.3M775.7 121.6h1.3M782 121.6h2.5M790.8 121.6h1.3M793.3 121.6h2.5M799.6 121.6h1.3M802.2 121.6h2.5M805.9 121.6h2.5M809.7 121.6h3.8M816 121.6h1.3M818.5 121.6h2.5M822.3 121.6h3.8M828.6 121.6h1.3M836.2 121.6h2.5M840 121.6h2.5M843.7 121.6h2.5M850 121.6h2.5M855.1 121.6h5M866.4 121.6h1.3M871.5 121.6h1.3M874 121.6h1.3M879 121.6h2.5M882.8 121.6h1.3M885.3 121.6h1.3M887.8 121.6h1.3M890.4 121.6h5M897.9 121.6h1.3M903 121.6h1.3M908 121.6h1.3M910.5 121.6h2.5M915.6 121.6h2.5M920.6 121.6h2.5M924.4 121.6h5M931.9 121.6h1.3M935.7 121.6h2.5M939.5 121.6h1.3M942 121.6h2.5M947.1 121.6h1.3M949.6 121.6h7.6M960.9 121.6h1.3M964.7 121.6h1.3M971 121.6h1.3M979.8 121.6h1.3M982.3 121.6h1.3M986.1 121.6h6.3M993.7 121.6h2.5M1000 121.6h1.3M1003.8 121.6h2.5M1007.5 121.6h1.3M1010.1 121.6h1.3M1012.6 121.6h1.3M1020.1 121.6h1.3M1022.7 121.6h2.5M1026.4 121.6h5M1035.3 121.6h5M1045.3 121.6h1.3M1047.9 121.6h1.3M1054.2 121.6h1.3M1059.2 121.6h1.3M1063 121.6h1.3M1066.8 121.6h1.3M1070.5 121.6h2.5M1075.6 121.6h1.3M1079.4 121.6h1.3M1081.9 121.6h1.3M1084.4 121.6h2.5M1090.7 121.6h1.3M1098.3 121.6h1.3M1100.8 121.6h3.8M1108.3 121.6h1.3M1119.7 121.6h1.3" stroke="#ff00ff" stroke-width="2.4" fill="none"/>
<path d="M678.7 121.6h1.3M681.2 121.6h1.3M683.7 121.6h1.3M687.5 121.6h1.3M719 121.6h2.5M736.6 121.6h2.5M741.7 121.6h1.3M763.1 121.6h1.3M766.9 121.6h1.3M784.5 121.6h2.5M808.5 121.6h1.3M827.4 121.6h1.3M833.7 121.6h1.3M838.7 121.6h1.3M847.5 121.6h1.3M865.2 121.6h1.3M870.2 121.6h1.3M876.5 121.6h1.3M881.5 121.6h1.3M884.1 121.6h1.3M889.1 121.6h1.3M896.7 121.6h1.3M914.3 121.6h1.3M938.2 121.6h1.3M948.3 121.6h1.3M959.7 121.6h1.3M962.2 121.6h2.5M976 121.6h1.3M997.5 121.6h2.5M1011.3 121.6h1.3M1013.8 121.6h1.3M1031.5 121.6h1.3M1046.6 121.6h1.3M1060.5 121.6h1.3M1083.1 121.6h1.3M1089.4 121.6h1.3M1099.5 121.6h1.3M1112.1 121.6h1.3M1120.9 121.6h1.3" stroke="#0070ff" stroke-width="2.4" fill="none"/>
<path d="M668.6 123.9h1.3M671.1 123.9h1.3M674.9 123.9h1.3M677.4 123.9h3.8M683.7 123.9h5M690 123.9h2.5M695.1 123.9h1.3M697.6 123.9h1.3M701.4 123.9h1.3M705.1 123.9h1.3M710.2 123.9h3.8M715.2 123.9h6.3M726.6 123.9h1.3M729.1 123.9h2.5M734.1 123.9h1.3M737.9 123.9h1.3M740.4 123.9h2.5M745.5 123.9h1.3M748 123.9h2.5M751.8 123.9h1.3M754.3 123.9h1.3M756.8 123.9h1.3M760.6 123.9h1.3M764.4 123.9h2.5M769.4 123.9h1.3M773.2 123.9h1.3M775.7 123.9h1.3M778.2 123.9h2.5M782 123.9h2.5M787 123.9h2.5M792.1 123.9h1.3M794.6 123.9h1.3M798.4 123.9h2.5M802.2 123.9h1.3M805.9 123.9h2.5M809.7 123.9h2.5M813.5 123.9h3.8M818.5 123.9h1.3M822.3 123.9h2.5M827.4 123.9h1.3M829.9 123.9h2.5M834.9 123.9h7.6M843.7 123.9h1.3M846.3 123.9h3.8M857.6 123.9h1.3M860.1 123.9h1.3M863.9 123.9h1.3M866.4 123.9h5M872.7 123.9h3.8M877.8 123.9h1.3M880.3 123.9h1.3M884.1 123.9h1.3M896.7 123.9h5M903 123.9h2.5M906.7 123.9h1.3M909.3 123.9h3.8M914.3 123.9h1.3M918.1 123.9h2.5M923.1 123.9h2.5M929.4 123.9h1.3M931.9 123.9h1.3M935.7 123.9h2.5M939.5 123.9h1.3M942 123.9h5M948.3 123.9h1.3M952.1 123.9h2.5M958.4 123.9h5M967.2 123.9h5M977.3 123.9h1.3M982.3 123.9h1.3M984.9 123.9h1.3M992.4 123.9h1.3M994.9 123.9h1.3M1000 123.9h2.5M1007.5 123.9h3.8M1012.6 123.9h1.3M1015.1 123.9h1.3M1018.9 123.9h2.5M1022.7 123.9h2.5M1026.4 123.9h2.5M1031.5 123.9h3.8M1036.5 123.9h2.5M1042.8 123.9h1.3M1046.6 123.9h5M1054.2 123.9h2.5M1059.2 123.9h1.3M1065.5 123.9h1.3M1068 123.9h3.8M1073.1 123.9h1.3M1075.6 123.9h3.8M1081.9 123.9h5M1089.4 123.9h1.3M1092 123.9h6.3M1099.5 123.9h3.8M1108.3 123.9h1.3M1114.6 123.9h1.3M1120.9 123.9h1.3" stroke="#2000ff" stroke-width="2.4" fill="none"/>
<path d="M669.9 123.9h1.3M672.4 123.9h2.5M676.2 123.9h1.3M682.5 123.9h1.3M696.3 123.9h1.3M698.8 123.9h2.5M703.9 123.9h1.3M707.7 123.9h2.5M721.5 123.9h1.3M725.3 123.9h1.3M731.6 123.9h1.3M735.4 123.9h2.5M739.2 123.9h1.3M750.5 123.9h1.3M753 123.9h1.3M759.3 123.9h1.3M770.7 123.9h2.5M774.4 123.9h1.3M780.7 123.9h1.3M784.5 123.9h1.3M789.6 123.9h2.5M800.9 123.9h1.3M812.2 123.9h1.3M819.8 123.9h2.5M833.7 123.9h1.3M842.5 123.9h1.3M852.6 123.9h1.3M858.9 123.9h1.3M861.4 123.9h1.3M876.5 123.9h1.3M879 123.9h1.3M882.8 123.9h1.3M885.3 123.9h1.3M889.1 123.9h2.5M895.4 123.9h1.3M901.7 123.9h1.3M905.5 123.9h1.3M916.8 123.9h1.3M920.6 123.9h2.5M925.6 123.9h1.3M928.2 123.9h1.3M938.2 123.9h1.3M947.1 123.9h1.3M949.6 123.9h2.5M957.1 123.9h1.3M972.3 123.9h2.5M978.6 123.9h2.5M986.1 123.9h2.5M996.2 123.9h2.5M1002.5 123.9h1.3M1005 123.9h2.5M1013.8 123.9h1.3M1016.4 123.9h1.3M1030.2 123.9h1.3M1035.3 123.9h1.3M1040.3 123.9h1.3M1044.1 123.9h1.3M1051.6 123.9h2.5M1056.7 123.9h1.3M1060.5 123.9h1.3M1063 123.9h1.3M1071.8 123.9h1.3M1074.3 123.9h1.3M1080.6 123.9h1.3M1086.9 123.9h1.3M1107.1 123.9h1.3M1110.9 123.9h2.5M1118.4 123.9h2.5" stroke="#ff00ff" stroke-width="2.4" fill="none"/>
<path d="M681.2 123.9h1.3M688.8 123.9h1.3M692.5 123.9h2.5M702.6 123.9h1.3M714 123.9h1.3M722.8 123.9h2.5M727.8 123.9h1.3M732.9 123.9h1.3M744.2 123.9h1.3M746.7 123.9h1.3M755.5 123.9h1.3M758.1 123.9h1.3M761.8 123.9h2.5M766.9 123.9h2.5M785.8 123.9h1.3M795.9 123.9h2.5M803.4 123.9h2.5M808.5 123.9h1.3M817.3 123.9h1.3M826.1 123.9h1.3M828.6 123.9h1.3M845 123.9h1.3M850 123.9h2.5M855.1 123.9h2.5M862.6 123.9h1.3M891.6 123.9h3.8M908 123.9h1.3M913 123.9h1.3M915.6 123.9h1.3M926.9 123.9h1.3M940.8 123.9h1.3M954.6 123.9h2.5M963.4 123.9h3.8M974.8 123.9h2.5M981.1 123.9h1.3M988.6 123.9h3.8M993.7 123.9h1.3M998.7 123.9h1.3M1003.8 123.9h1.3M1011.3 123.9h1.3M1017.6 123.9h1.3M1029 123.9h1.3M1039 123.9h1.3M1041.6 123.9h1.3M1045.3 123.9h1.3M1057.9 123.9h1.3M1061.7 123.9h1.3M1066.8 123.9h1.3M1079.4 123.9h1.3M1088.2 123.9h1.3M1098.3 123.9h1.3M1103.3 123.9h3.8M1113.4 123.9h1.3M1115.9 123.9h2.5" stroke="#0080ff" stroke-width="2.4" fill="none"/>
<path d="M706.4 123.9h1.3M742.9 123.9h1.3M777 123.9h1.3M793.3 123.9h1.3M824.8 123.9h1.3M832.4 123.9h1.3M853.8 123.9h1.3M865.2 123.9h1.3M871.5 123.9h1.3M881.5 123.9h1.3M886.6 123.9h2.5M930.7 123.9h1.3M933.2 123.9h2.5M983.6 123.9h1.3M1021.4 123.9h1.3M1025.2 123.9h1.3M1064.2 123.9h1.3M1090.7 123.9h1.3M1109.6 123.9h1.3" stroke="#00c0ff" stroke-width="2.4" fill="none"/>
<path d="M668.6 126.2h1.3M671.1 126.2h1.3M673.6 126.2h1.3M676.2 126.2h2.5M679.9 126.2h1.3M682.5 126.2h1.3M692.5 126.2h1.3M695.1 126.2h2.5M698.8 126.2h2.5M702.6 126.2h2.5M706.4 126.2h1.3M708.9 126.2h2.5M716.5 126.2h2.5M720.3 126.2h3.8M725.3 126.2h3.8M735.4 126.2h2.5M744.2 126.2h1.3M748 126.2h1.3M750.5 126.2h1.3M753 126.2h2.5M756.8 126.2h1.3M759.3 126.2h1.3M761.8 126.2h1.3M764.4 126.2h1.3M769.4 126.2h1.3M778.2 126.2h3.8M783.3 126.2h5M789.6 126.2h5M797.1 126.2h1.3M807.2 126.2h1.3M809.7 126.2h1.3M812.2 126.2h1.3M817.3 126.2h2.5M822.3 126.2h3.8M829.9 126.2h2.5M834.9 126.2h2.5M838.7 126.2h2.5M843.7 126.2h5M851.3 126.2h2.5M855.1 126.2h2.5M867.7 126.2h2.5M871.5 126.2h2.5M876.5 126.2h5M882.8 126.2h1.3M886.6 126.2h2.5M890.4 126.2h2.5M894.1 126.2h1.3M897.9 126.2h1.3M900.4 126.2h2.5M905.5 126.2h2.5M914.3 126.2h1.3M918.1 126.2h1.3M924.4 126.2h2.5M929.4 126.2h3.8M937 126.2h1.3M939.5 126.2h1.3M942 126.2h3.8M948.3 126.2h1.3M952.1 126.2h1.3M954.6 126.2h2.5M960.9 126.2h10.1M974.8 126.2h5M983.6 126.2h5M989.9 126.2h1.3M993.7 126.2h2.5M997.5 126.2h2.5M1005 126.2h1.3M1010.1 126.2h1.3M1012.6 126.2h1.3M1016.4 126.2h1.3M1023.9 126.2h1.3M1031.5 126.2h6.3M1040.3 126.2h5M1049.1 126.2h1.3M1051.6 126.2h1.3M1056.7 126.2h1.3M1059.2 126.2h2.5M1063 126.2h1.3M1065.5 126.2h1.3M1068 126.2h2.5M1071.8 126.2h1.3M1074.3 126.2h1.3M1078.1 126.2h1.3M1080.6 126.2h2.5M1084.4 126.2h1.3M1086.9 126.2h5M1094.5 126.2h6.3M1103.3 126.2h1.3M1107.1 126.2h3.8M1112.1 126.2h2.5M1118.4 126.2h2.5" stroke="#2010ff" stroke-width="2.4" fill="none"/>
<path d="M669.9 126.2h1.3M683.7 126.2h5M691.3 126.2h1.3M693.8 126.2h1.3M697.6 126.2h1.3M701.4 126.2h1.3M712.7 126.2h3.8M719 126.2h1.3M724 126.2h1.3M729.1 126.2h2.5M742.9 126.2h1.3M745.5 126.2h1.3M751.8 126.2h1.3M763.1 126.2h1.3M768.1 126.2h1.3M771.9 126.2h5M794.6 126.2h1.3M800.9 126.2h2.5M804.7 126.2h2.5M811 126.2h1.3M814.8 126.2h2.5M826.1 126.2h2.5M832.4 126.2h2.5M842.5 126.2h1.3M861.4 126.2h2.5M865.2 126.2h1.3M870.2 126.2h1.3M874 126.2h2.5M881.5 126.2h1.3M885.3 126.2h1.3M889.1 126.2h1.3M892.9 126.2h1.3M899.2 126.2h1.3M908 126.2h3.8M916.8 126.2h1.3M920.6 126.2h2.5M926.9 126.2h1.3M933.2 126.2h3.8M940.8 126.2h1.3M945.8 126.2h1.3M949.6 126.2h1.3M958.4 126.2h2.5M972.3 126.2h1.3M979.8 126.2h2.5M991.2 126.2h2.5M1000 126.2h1.3M1011.3 126.2h1.3M1015.1 126.2h1.3M1017.6 126.2h1.3M1020.1 126.2h1.3M1027.7 126.2h2.5M1039 126.2h1.3M1045.3 126.2h3.8M1050.4 126.2h1.3M1054.2 126.2h1.3M1064.2 126.2h1.3M1073.1 126.2h1.3M1076.8 126.2h1.3M1079.4 126.2h1.3M1085.7 126.2h1.3M1093.2 126.2h1.3M1114.6 126.2h1.3M1117.2 126.2h1.3" stroke="#0090ff" stroke-width="2.4" fill="none"/>
<path d="M672.4 126.2h1.3M674.9 126.2h1.3M681.2 126.2h1.3M705.1 126.2h1.3M711.4 126.2h1.3M734.1 126.2h1.3M737.9 126.2h3.8M749.2 126.2h1.3M766.9 126.2h1.3M798.4 126.2h2.5M813.5 126.2h1.3M819.8 126.2h2.5M828.6 126.2h1.3M848.8 126.2h1.3M858.9 126.2h1.3M866.4 126.2h1.3M896.7 126.2h1.3M903 126.2h1.3M938.2 126.2h1.3M950.8 126.2h1.3M996.2 126.2h1.3M1018.9 126.2h1.3M1021.4 126.2h1.3M1055.4 126.2h1.3M1066.8 126.2h1.3M1075.6 126.2h1.3M1083.1 126.2h1.3M1100.8 126.2h2.5M1115.9 126.2h1.3M1120.9 126.2h1.3" stroke="#ff00ff" stroke-width="2.4" fill="none"/>
<path d="M678.7 126.2h1.3M688.8 126.2h2.5M707.7 126.2h1.3M731.6 126.2h2.5M741.7 126.2h1.3M746.7 126.2h1.3M755.5 126.2h1.3M758.1 126.2h1.3M760.6 126.2h1.3M765.6 126.2h1.3M770.7 126.2h1.3M777 126.2h1.3M782 126.2h1.3M788.3 126.2h1.3M795.9 126.2h1.3M803.4 126.2h1.3M808.5 126.2h1.3M837.4 126.2h1.3M841.2 126.2h1.3M850 126.2h1.3M853.8 126.2h1.3M857.6 126.2h1.3M860.1 126.2h1.3M863.9 126.2h1.3M884.1 126.2h1.3M895.4 126.2h1.3M904.2 126.2h1.3M911.8 126.2h2.5M915.6 126.2h1.3M919.3 126.2h1.3M923.1 126.2h1.3M928.2 126.2h1.3M947.1 126.2h1.3M953.4 126.2h1.3M957.1 126.2h1.3M971 126.2h1.3M973.5 126.2h1.3M982.3 126.2h1.3M988.6 126.2h1.3M1001.2 126.2h3.8M1006.3 126.2h3.8M1013.8 126.2h1.3M1022.7 126.2h1.3M1025.2 126.2h2.5M1030.2 126.2h1.3M1037.8 126.2h1.3M1052.9 126.2h1.3M1057.9 126.2h1.3M1061.7 126.2h1.3M1070.5 126.2h1.3M1092 126.2h1.3M1104.6 126.2h2.5M1110.9 126.2h1.3" stroke="#00d0ff" stroke-width="2.4" fill="none"/>
<path d="M668.6 128.6h1.3M673.6 128.6h1.3M681.2 128.6h1.3M683.7 128.6h2.5M688.8 128.6h1.3M692.5 128.6h2.5M696.3 128.6h1.3M701.4 128.6h3.8M706.4 128.6h1.3M711.4 128.6h1.3M719 128.6h1.3M721.5 128.6h1.3M737.9 128.6h3.8M748 128.6h1.3M751.8 128.6h1.3M761.8 128.6h1.3M764.4 128.6h7.6M779.5 128.6h1.3M782 128.6h1.3M784.5 128.6h1.3M787 128.6h2.5M803.4 128.6h1.3M805.9 128.6h1.3M813.5 128.6h1.3M817.3 128.6h1.3M819.8 128.6h1.3M822.3 128.6h1.3M829.9 128.6h2.5M841.2 128.6h1.3M848.8 128.6h1.3M851.3 128.6h2.5M858.9 128.6h1.3M866.4 128.6h1.3M870.2 128.6h1.3M877.8 128.6h1.3M881.5 128.6h1.3M884.1 128.6h1.3M886.6 128.6h1.3M890.4 128.6h1.3M894.1 128.6h2.5M900.4 128.6h1.3M906.7 128.6h1.3M909.3 128.6h1.3M913 128.6h1.3M915.6 128.6h1.3M928.2 128.6h1.3M933.2 128.6h1.3M939.5 128.6h2.5M949.6 128.6h3.8M957.1 128.6h2.5M969.7 128.6h1.3M972.3 128.6h1.3M976 128.6h5M984.9 128.6h1.3M988.6 128.6h2.5M992.4 128.6h2.5M996.2 128.6h3.8M1001.2 128.6h2.5M1006.3 128.6h1.3M1008.8 128.6h1.3M1012.6 128.6h1.3M1015.1 128.6h1.3M1023.9 128.6h1.3M1027.7 128.6h1.3M1034 128.6h1.3M1039 128.6h3.8M1044.1 128.6h1.3M1052.9 128.6h1.3M1060.5 128.6h1.3M1069.3 128.6h1.3M1071.8 128.6h1.3M1083.1 128.6h1.3M1086.9 128.6h1.3M1092 128.6h1.3M1095.7 128.6h1.3M1099.5 128.6h2.5M1108.3 128.6h6.3M1117.2 128.6h2.5M1120.9 128.6h1.3" stroke="#0098ff" stroke-width="2.4" fill="none"/>
<path d="M669.9 128.6h3.8M674.9 128.6h2.5M678.7 128.6h2.5M682.5 128.6h1.3M687.5 128.6h1.3M690 128.6h1.3M697.6 128.6h3.8M705.1 128.6h1.3M707.7 128.6h3.8M712.7 128.6h6.3M722.8 128.6h1.3M726.6 128.6h1.3M729.1 128.6h7.6M741.7 128.6h3.8M746.7 128.6h1.3M749.2 128.6h2.5M756.8 128.6h5M763.1 128.6h1.3M771.9 128.6h1.3M777 128.6h2.5M790.8 128.6h1.3M793.3 128.6h6.3M800.9 128.6h2.5M811 128.6h2.5M818.5 128.6h1.3M823.6 128.6h5M832.4 128.6h1.3M834.9 128.6h5M846.3 128.6h2.5M850 128.6h1.3M855.1 128.6h3.8M861.4 128.6h1.3M863.9 128.6h1.3M867.7 128.6h1.3M874 128.6h2.5M887.8 128.6h1.3M891.6 128.6h1.3M897.9 128.6h1.3M905.5 128.6h1.3M908 128.6h1.3M911.8 128.6h1.3M916.8 128.6h2.5M923.1 128.6h5M930.7 128.6h2.5M934.5 128.6h1.3M937 128.6h2.5M945.8 128.6h1.3M955.9 128.6h1.3M959.7 128.6h2.5M966 128.6h3.8M973.5 128.6h2.5M981.1 128.6h1.3M983.6 128.6h1.3M986.1 128.6h2.5M994.9 128.6h1.3M1000 128.6h1.3M1005 128.6h1.3M1007.5 128.6h1.3M1010.1 128.6h1.3M1016.4 128.6h1.3M1021.4 128.6h2.5M1025.2 128.6h1.3M1029 128.6h2.5M1032.7 128.6h1.3M1035.3 128.6h2.5M1042.8 128.6h1.3M1045.3 128.6h1.3M1047.9 128.6h1.3M1051.6 128.6h1.3M1057.9 128.6h2.5M1063 128.6h2.5M1066.8 128.6h1.3M1073.1 128.6h2.5M1078.1 128.6h2.5M1085.7 128.6h1.3M1093.2 128.6h2.5M1102 128.6h2.5M1105.8 128.6h2.5M1115.9 128.6h1.3" stroke="#2020ff" stroke-width="2.4" fill="none"/>
<path d="M677.4 128.6h1.3M686.2 128.6h1.3M695.1 128.6h1.3M720.3 128.6h1.3M724 128.6h2.5M727.8 128.6h1.3M736.6 128.6h1.3M745.5 128.6h1.3M753 128.6h3.8M773.2 128.6h3.8M780.7 128.6h1.3M783.3 128.6h1.3M785.8 128.6h1.3M789.6 128.6h1.3M792.1 128.6h1.3M799.6 128.6h1.3M804.7 128.6h1.3M807.2 128.6h2.5M816 128.6h1.3M821.1 128.6h1.3M828.6 128.6h1.3M833.7 128.6h1.3M840 128.6h1.3M842.5 128.6h3.8M853.8 128.6h1.3M862.6 128.6h1.3M868.9 128.6h1.3M871.5 128.6h2.5M876.5 128.6h1.3M879 128.6h2.5M882.8 128.6h1.3M885.3 128.6h1.3M889.1 128.6h1.3M899.2 128.6h1.3M901.7 128.6h1.3M904.2 128.6h1.3M910.5 128.6h1.3M919.3 128.6h3.8M929.4 128.6h1.3M935.7 128.6h1.3M942 128.6h3.8M947.1 128.6h2.5M954.6 128.6h1.3M963.4 128.6h2.5M971 128.6h1.3M982.3 128.6h1.3M991.2 128.6h1.3M1003.8 128.6h1.3M1011.3 128.6h1.3M1013.8 128.6h1.3M1017.6 128.6h3.8M1026.4 128.6h1.3M1037.8 128.6h1.3M1046.6 128.6h1.3M1049.1 128.6h2.5M1054.2 128.6h3.8M1061.7 128.6h1.3M1065.5 128.6h1.3M1068 128.6h1.3M1076.8 128.6h1.3M1080.6 128.6h2.5M1084.4 128.6h1.3M1088.2 128.6h3.8M1097 128.6h2.5M1104.6 128.6h1.3M1114.6 128.6h1.3M1119.7 128.6h1.3" stroke="#00d8ff" stroke-width="2.4" fill="none"/>
<path d="M691.3 128.6h1.3M809.7 128.6h1.3M814.8 128.6h1.3M860.1 128.6h1.3M865.2 128.6h1.3M892.9 128.6h1.3M896.7 128.6h1.3M903 128.6h1.3M914.3 128.6h1.3M953.4 128.6h1.3M962.2 128.6h1.3M1031.5 128.6h1.3M1070.5 128.6h1.3M1075.6 128.6h1.3" stroke="#ff00ff" stroke-width="2.4" fill="none"/>
<path d="M668.6 130.9h1.3M672.4 130.9h2.5M676.2 130.9h2.5M682.5 130.9h2.5M686.2 130.9h1.3M692.5 130.9h1.3M700.1 130.9h2.5M705.1 130.9h1.3M707.7 130.9h1.3M710.2 130.9h1.3M716.5 130.9h1.3M722.8 130.9h1.3M729.1 130.9h1.3M737.9 130.9h2.5M746.7 130.9h5M758.1 130.9h2.5M761.8 130.9h2.5M765.6 130.9h1.3M768.1 130.9h1.3M771.9 130.9h1.3M778.2 130.9h1.3M782 130.9h1.3M793.3 130.9h1.3M797.1 130.9h2.5M805.9 130.9h2.5M809.7 130.9h1.3M818.5 130.9h1.3M821.1 130.9h2.5M824.8 130.9h2.5M829.9 130.9h1.3M832.4 130.9h1.3M850 130.9h1.3M853.8 130.9h1.3M858.9 130.9h1.3M862.6 130.9h1.3M865.2 130.9h1.3M867.7 130.9h1.3M872.7 130.9h2.5M876.5 130.9h1.3M887.8 130.9h1.3M891.6 130.9h1.3M903 130.9h1.3M906.7 130.9h1.3M909.3 130.9h1.3M914.3 130.9h1.3M919.3 130.9h2.5M925.6 130.9h1.3M928.2 130.9h2.5M952.1 130.9h1.3M958.4 130.9h2.5M962.2 130.9h2.5M972.3 130.9h1.3M974.8 130.9h1.3M979.8 130.9h1.3M982.3 130.9h1.3M986.1 130.9h2.5M993.7 130.9h1.3M996.2 130.9h1.3M1005 130.9h2.5M1010.1 130.9h1.3M1015.1 130.9h2.5M1018.9 130.9h1.3M1021.4 130.9h2.5M1026.4 130.9h1.3M1032.7 130.9h1.3M1037.8 130.9h1.3M1042.8 130.9h1.3M1049.1 130.9h1.3M1054.2 130.9h2.5M1057.9 130.9h2.5M1063 130.9h1.3M1070.5 130.9h1.3M1075.6 130.9h1.3M1078.1 130.9h2.5M1083.1 130.9h1.3M1086.9 130.9h2.5M1093.2 130.9h2.5M1102 130.9h1.3M1105.8 130.9h2.5M1114.6 130.9h1.3M1120.9 130.9h1.3" stroke="#2020ff" stroke-width="2.4" fill="none"/>
<path d="M669.9 130.9h2.5M674.9 130.9h1.3M678.7 130.9h3.8M687.5 130.9h5M693.8 130.9h3.8M698.8 130.9h1.3M703.9 130.9h1.3M706.4 130.9h1.3M712.7 130.9h1.3M715.2 130.9h1.3M719 130.9h2.5M726.6 130.9h2.5M730.3 130.9h2.5M734.1 130.9h1.3M740.4 130.9h2.5M744.2 130.9h2.5M751.8 130.9h1.3M754.3 130.9h1.3M764.4 130.9h1.3M766.9 130.9h1.3M775.7 130.9h2.5M779.5 130.9h2.5M783.3 130.9h3.8M789.6 130.9h3.8M794.6 130.9h2.5M800.9 130.9h1.3M803.4 130.9h2.5M812.2 130.9h3.8M819.8 130.9h1.3M836.2 130.9h7.6M851.3 130.9h2.5M856.3 130.9h2.5M860.1 130.9h2.5M866.4 130.9h1.3M868.9 130.9h2.5M875.2 130.9h1.3M877.8 130.9h1.3M880.3 130.9h3.8M885.3 130.9h1.3M889.1 130.9h2.5M901.7 130.9h1.3M908 130.9h1.3M913 130.9h1.3M915.6 130.9h2.5M921.9 130.9h2.5M926.9 130.9h1.3M930.7 130.9h1.3M938.2 130.9h1.3M940.8 130.9h2.5M945.8 130.9h2.5M949.6 130.9h2.5M954.6 130.9h1.3M957.1 130.9h1.3M966 130.9h5M978.6 130.9h1.3M981.1 130.9h1.3M983.6 130.9h1.3M988.6 130.9h1.3M992.4 130.9h1.3M997.5 130.9h3.8M1008.8 130.9h1.3M1011.3 130.9h1.3M1023.9 130.9h1.3M1027.7 130.9h5M1034 130.9h3.8M1040.3 130.9h2.5M1050.4 130.9h3.8M1061.7 130.9h1.3M1076.8 130.9h1.3M1080.6 130.9h2.5M1084.4 130.9h2.5M1090.7 130.9h2.5M1097 130.9h2.5M1104.6 130.9h1.3M1118.4 130.9h1.3" stroke="#00a0ff" stroke-width="2.4" fill="none"/>
<path d="M685 130.9h1.3M697.6 130.9h1.3M702.6 130.9h1.3M708.9 130.9h1.3M711.4 130.9h1.3M714 130.9h1.3M717.7 130.9h1.3M721.5 130.9h1.3M724 130.9h2.5M732.9 130.9h1.3M735.4 130.9h2.5M742.9 130.9h1.3M753 130.9h1.3M755.5 130.9h2.5M760.6 130.9h1.3M769.4 130.9h2.5M773.2 130.9h2.5M787 130.9h2.5M799.6 130.9h1.3M802.2 130.9h1.3M808.5 130.9h1.3M811 130.9h1.3M816 130.9h2.5M823.6 130.9h1.3M827.4 130.9h2.5M831.1 130.9h1.3M833.7 130.9h2.5M843.7 130.9h6.3M855.1 130.9h1.3M863.9 130.9h1.3M871.5 130.9h1.3M879 130.9h1.3M884.1 130.9h1.3M886.6 130.9h1.3M892.9 130.9h8.8M904.2 130.9h2.5M910.5 130.9h2.5M918.1 130.9h1.3M924.4 130.9h1.3M931.9 130.9h6.3M939.5 130.9h1.3M943.3 130.9h2.5M948.3 130.9h1.3M953.4 130.9h1.3M955.9 130.9h1.3M960.9 130.9h1.3M964.7 130.9h1.3M971 130.9h1.3M973.5 130.9h1.3M976 130.9h2.5M984.9 130.9h1.3M989.9 130.9h2.5M994.9 130.9h1.3M1001.2 130.9h3.8M1007.5 130.9h1.3M1012.6 130.9h2.5M1017.6 130.9h1.3M1020.1 130.9h1.3M1025.2 130.9h1.3M1039 130.9h1.3M1044.1 130.9h5M1056.7 130.9h1.3M1060.5 130.9h1.3M1064.2 130.9h6.3M1071.8 130.9h3.8M1089.4 130.9h1.3M1095.7 130.9h1.3M1099.5 130.9h2.5M1103.3 130.9h1.3M1108.3 130.9h6.3M1115.9 130.9h2.5M1119.7 130.9h1.3" stroke="#00e0f8" stroke-width="2.4" fill="none"/>
<path d="M668.6 133.2h1.3M673.6 133.2h1.3M676.2 133.2h1.3M678.7 133.2h1.3M685 133.2h1.3M692.5 133.2h1.3M697.6 133.2h1.3M725.3 133.2h1.3M730.3 133.2h1.3M732.9 133.2h1.3M739.2 133.2h2.5M742.9 133.2h1.3M745.5 133.2h1.3M748 133.2h1.3M760.6 133.2h2.5M773.2 133.2h2.5M785.8 133.2h2.5M789.6 133.2h1.3M794.6 133.2h1.3M799.6 133.2h1.3M809.7 133.2h1.3M818.5 133.2h3.8M826.1 133.2h1.3M829.9 133.2h1.3M838.7 133.2h1.3M841.2 133.2h1.3M846.3 133.2h1.3M850 133.2h2.5M855.1 133.2h1.3M861.4 133.2h1.3M866.4 133.2h2.5M870.2 133.2h1.3M876.5 133.2h1.3M882.8 133.2h1.3M887.8 133.2h2.5M903 133.2h1.3M905.5 133.2h2.5M919.3 133.2h1.3M934.5 133.2h1.3M943.3 133.2h1.3M947.1 133.2h1.3M952.1 133.2h2.5M955.9 133.2h1.3M958.4 133.2h1.3M967.2 133.2h1.3M971 133.2h1.3M981.1 133.2h1.3M987.4 133.2h1.3M1007.5 133.2h1.3M1018.9 133.2h1.3M1021.4 133.2h1.3M1025.2 133.2h2.5M1029 133.2h1.3M1031.5 133.2h1.3M1035.3 133.2h1.3M1041.6 133.2h1.3M1052.9 133.2h1.3M1064.2 133.2h1.3M1068 133.2h1.3M1085.7 133.2h2.5M1089.4 133.2h1.3M1099.5 133.2h1.3M1112.1 133.2h1.3" stroke="#2030ff" stroke-width="2.4" fill="none"/>
<path d="M669.9 133.2h2.5M674.9 133.2h1.3M677.4 133.2h1.3M688.8 133.2h1.3M695.1 133.2h1.3M698.8 133.2h5M705.1 133.2h1.3M710.2 133.2h1.3M719 133.2h1.3M721.5 133.2h2.5M726.6 133.2h3.8M731.6 133.2h1.3M734.1 133.2h1.3M736.6 133.2h2.5M741.7 133.2h1.3M744.2 133.2h1.3M746.7 133.2h1.3M749.2 133.2h7.6M758.1 133.2h1.3M764.4 133.2h1.3M766.9 133.2h1.3M769.4 133.2h1.3M775.7 133.2h1.3M780.7 133.2h3.8M788.3 133.2h1.3M790.8 133.2h1.3M795.9 133.2h1.3M798.4 133.2h1.3M800.9 133.2h1.3M805.9 133.2h2.5M811 133.2h1.3M822.3 133.2h1.3M833.7 133.2h3.8M843.7 133.2h2.5M852.6 133.2h2.5M858.9 133.2h2.5M862.6 133.2h3.8M877.8 133.2h5M884.1 133.2h1.3M892.9 133.2h2.5M896.7 133.2h1.3M901.7 133.2h1.3M904.2 133.2h1.3M909.3 133.2h5M918.1 133.2h1.3M920.6 133.2h3.8M926.9 133.2h5M933.2 133.2h1.3M935.7 133.2h2.5M944.5 133.2h1.3M948.3 133.2h1.3M950.8 133.2h1.3M954.6 133.2h1.3M957.1 133.2h1.3M959.7 133.2h2.5M964.7 133.2h2.5M977.3 133.2h1.3M979.8 133.2h1.3M982.3 133.2h3.8M988.6 133.2h3.8M996.2 133.2h1.3M1000 133.2h1.3M1003.8 133.2h2.5M1011.3 133.2h2.5M1017.6 133.2h1.3M1022.7 133.2h1.3M1027.7 133.2h1.3M1030.2 133.2h1.3M1034 133.2h1.3M1036.5 133.2h1.3M1039 133.2h1.3M1045.3 133.2h2.5M1049.1 133.2h1.3M1051.6 133.2h1.3M1056.7 133.2h6.3M1070.5 133.2h1.3M1074.3 133.2h6.3M1083.1 133.2h2.5M1088.2 133.2h1.3M1090.7 133.2h2.5M1098.3 133.2h1.3M1100.8 133.2h2.5M1105.8 133.2h6.3M1113.4 133.2h1.3M1115.9 133.2h1.3M1118.4 133.2h2.5" stroke="#00e8f0" stroke-width="2.4" fill="none"/>
<path d="M672.4 133.2h1.3M679.9 133.2h5M686.2 133.2h2.5M690 133.2h2.5M693.8 133.2h1.3M696.3 133.2h1.3M703.9 133.2h1.3M706.4 133.2h3.8M711.4 133.2h7.6M720.3 133.2h1.3M724 133.2h1.3M735.4 133.2h1.3M756.8 133.2h1.3M759.3 133.2h1.3M763.1 133.2h1.3M765.6 133.2h1.3M768.1 133.2h1.3M770.7 133.2h2.5M777 133.2h3.8M784.5 133.2h1.3M792.1 133.2h2.5M797.1 133.2h1.3M802.2 133.2h3.8M808.5 133.2h1.3M812.2 133.2h6.3M823.6 133.2h2.5M827.4 133.2h2.5M831.1 133.2h2.5M837.4 133.2h1.3M840 133.2h1.3M842.5 133.2h1.3M847.5 133.2h2.5M856.3 133.2h2.5M868.9 133.2h1.3M871.5 133.2h5M885.3 133.2h2.5M890.4 133.2h2.5M895.4 133.2h1.3M897.9 133.2h3.8M908 133.2h1.3M914.3 133.2h3.8M924.4 133.2h2.5M931.9 133.2h1.3M938.2 133.2h5M945.8 133.2h1.3M949.6 133.2h1.3M962.2 133.2h2.5M968.5 133.2h2.5M972.3 133.2h5M978.6 133.2h1.3M986.1 133.2h1.3M992.4 133.2h3.8M997.5 133.2h2.5M1001.2 133.2h2.5M1006.3 133.2h1.3M1008.8 133.2h2.5M1013.8 133.2h3.8M1020.1 133.2h1.3M1023.9 133.2h1.3M1032.7 133.2h1.3M1037.8 133.2h1.3M1040.3 133.2h1.3M1042.8 133.2h2.5M1047.9 133.2h1.3M1050.4 133.2h1.3M1054.2 133.2h2.5M1063 133.2h1.3M1065.5 133.2h2.5M1069.3 133.2h1.3M1071.8 133.2h2.5M1080.6 133.2h2.5M1093.2 133.2h5M1103.3 133.2h2.5M1114.6 133.2h1.3M1117.2 133.2h1.3M1120.9 133.2h1.3" stroke="#00a8ff" stroke-width="2.4" fill="none"/>
<path d="M668.6 135.5h1.3M671.1 135.5h1.3M676.2 135.5h1.3M679.9 135.5h1.3M686.2 135.5h1.3M688.8 135.5h1.3M691.3 135.5h1.3M693.8 135.5h1.3M696.3 135.5h1.3M710.2 135.5h1.3M714 135.5h1.3M730.3 135.5h1.3M732.9 135.5h1.3M740.4 135.5h1.3M750.5 135.5h1.3M755.5 135.5h1.3M768.1 135.5h1.3M779.5 135.5h1.3M789.6 135.5h2.5M807.2 135.5h1.3M809.7 135.5h1.3M813.5 135.5h2.5M824.8 135.5h1.3M827.4 135.5h1.3M842.5 135.5h1.3M847.5 135.5h1.3M851.3 135.5h1.3M853.8 135.5h1.3M866.4 135.5h1.3M868.9 135.5h1.3M889.1 135.5h1.3M894.1 135.5h1.3M896.7 135.5h1.3M899.2 135.5h1.3M903 135.5h1.3M905.5 135.5h2.5M916.8 135.5h2.5M925.6 135.5h1.3M935.7 135.5h1.3M947.1 135.5h1.3M978.6 135.5h2.5M994.9 135.5h1.3M1005 135.5h1.3M1015.1 135.5h1.3M1025.2 135.5h1.3M1027.7 135.5h1.3M1031.5 135.5h1.3M1042.8 135.5h1.3M1049.1 135.5h1.3M1054.2 135.5h2.5M1057.9 135.5h1.3M1071.8 135.5h1.3M1080.6 135.5h1.3M1084.4 135.5h1.3M1090.7 135.5h1.3M1112.1 135.5h2.5" stroke="#2040ff" stroke-width="2.4" fill="none"/>
<path d="M669.9 135.5h1.3M672.4 135.5h1.3M677.4 135.5h1.3M692.5 135.5h1.3M702.6 135.5h1.3M707.7 135.5h1.3M711.4 135.5h2.5M717.7 135.5h3.8M724 135.5h1.3M735.4 135.5h1.3M739.2 135.5h1.3M742.9 135.5h2.5M746.7 135.5h1.3M749.2 135.5h1.3M753 135.5h1.3M758.1 135.5h1.3M760.6 135.5h1.3M763.1 135.5h3.8M773.2 135.5h2.5M778.2 135.5h1.3M783.3 135.5h1.3M785.8 135.5h1.3M792.1 135.5h1.3M797.1 135.5h1.3M799.6 135.5h1.3M802.2 135.5h1.3M808.5 135.5h1.3M816 135.5h5M823.6 135.5h1.3M826.1 135.5h1.3M831.1 135.5h1.3M846.3 135.5h1.3M855.1 135.5h1.3M860.1 135.5h2.5M863.9 135.5h2.5M867.7 135.5h1.3M871.5 135.5h1.3M876.5 135.5h1.3M882.8 135.5h1.3M892.9 135.5h1.3M895.4 135.5h1.3M900.4 135.5h2.5M904.2 135.5h1.3M908 135.5h1.3M910.5 135.5h1.3M923.1 135.5h1.3M931.9 135.5h3.8M937 135.5h1.3M939.5 135.5h1.3M943.3 135.5h3.8M955.9 135.5h1.3M967.2 135.5h1.3M969.7 135.5h1.3M973.5 135.5h2.5M984.9 135.5h3.8M989.9 135.5h1.3M993.7 135.5h1.3M996.2 135.5h1.3M998.7 135.5h1.3M1002.5 135.5h1.3M1012.6 135.5h1.3M1016.4 135.5h2.5M1030.2 135.5h1.3M1032.7 135.5h6.3M1040.3 135.5h1.3M1052.9 135.5h1.3M1060.5 135.5h3.8M1066.8 135.5h1.3M1069.3 135.5h1.3M1075.6 135.5h2.5M1079.4 135.5h1.3M1081.9 135.5h1.3M1097 135.5h1.3M1100.8 135.5h1.3M1104.6 135.5h2.5M1110.9 135.5h1.3M1114.6 135.5h1.3M1117.2 135.5h1.3M1120.9 135.5h1.3" stroke="#00b0ff" stroke-width="2.4" fill="none"/>
<path d="M673.6 135.5h2.5M678.7 135.5h1.3M681.2 135.5h5M687.5 135.5h1.3M690 135.5h1.3M695.1 135.5h1.3M697.6 135.5h5M703.9 135.5h3.8M708.9 135.5h1.3M715.2 135.5h2.5M721.5 135.5h2.5M725.3 135.5h5M731.6 135.5h1.3M734.1 135.5h1.3M736.6 135.5h2.5M741.7 135.5h1.3M745.5 135.5h1.3M748 135.5h1.3M751.8 135.5h1.3M754.3 135.5h1.3M756.8 135.5h1.3M759.3 135.5h1.3M761.8 135.5h1.3M766.9 135.5h1.3M769.4 135.5h3.8M775.7 135.5h2.5M780.7 135.5h2.5M784.5 135.5h1.3M787 135.5h2.5M793.3 135.5h3.8M800.9 135.5h1.3M803.4 135.5h3.8M811 135.5h2.5M821.1 135.5h2.5M828.6 135.5h2.5M832.4 135.5h6.3M840 135.5h2.5M843.7 135.5h2.5M848.8 135.5h2.5M852.6 135.5h1.3M856.3 135.5h2.5M862.6 135.5h1.3M870.2 135.5h1.3M872.7 135.5h3.8M877.8 135.5h5M884.1 135.5h1.3M886.6 135.5h2.5M890.4 135.5h2.5M909.3 135.5h1.3M911.8 135.5h5M919.3 135.5h3.8M924.4 135.5h1.3M926.9 135.5h5M938.2 135.5h1.3M940.8 135.5h2.5M948.3 135.5h7.6M957.1 135.5h10.1M968.5 135.5h1.3M971 135.5h2.5M976 135.5h2.5M981.1 135.5h3.8M988.6 135.5h1.3M991.2 135.5h2.5M997.5 135.5h1.3M1000 135.5h2.5M1003.8 135.5h1.3M1006.3 135.5h6.3M1013.8 135.5h1.3M1018.9 135.5h6.3M1026.4 135.5h1.3M1029 135.5h1.3M1039 135.5h1.3M1041.6 135.5h1.3M1044.1 135.5h1.3M1046.6 135.5h2.5M1050.4 135.5h2.5M1056.7 135.5h1.3M1059.2 135.5h1.3M1064.2 135.5h2.5M1068 135.5h1.3M1070.5 135.5h1.3M1073.1 135.5h2.5M1078.1 135.5h1.3M1083.1 135.5h1.3M1085.7 135.5h5M1092 135.5h5M1098.3 135.5h2.5M1102 135.5h2.5M1107.1 135.5h3.8M1115.9 135.5h1.3M1118.4 135.5h2.5" stroke="#00ece8" stroke-width="2.4" fill="none"/>
<path d="M668.6 137.8h2.5M682.5 137.8h1.3M686.2 137.8h1.3M690 137.8h1.3M692.5 137.8h1.3M696.3 137.8h2.5M701.4 137.8h1.3M703.9 137.8h8.8M715.2 137.8h2.5M720.3 137.8h1.3M724 137.8h1.3M726.6 137.8h1.3M731.6 137.8h5M744.2 137.8h1.3M748 137.8h2.5M753 137.8h3.8M758.1 137.8h1.3M766.9 137.8h5M774.4 137.8h1.3M778.2 137.8h1.3M782 137.8h5M789.6 137.8h1.3M793.3 137.8h2.5M797.1 137.8h1.3M803.4 137.8h3.8M808.5 137.8h1.3M811 137.8h10.1M823.6 137.8h1.3M827.4 137.8h3.8M833.7 137.8h3.8M841.2 137.8h2.5M845 137.8h1.3M847.5 137.8h2.5M852.6 137.8h7.6M861.4 137.8h3.8M866.4 137.8h6.3M875.2 137.8h2.5M879 137.8h1.3M881.5 137.8h1.3M884.1 137.8h1.3M886.6 137.8h1.3M891.6 137.8h3.8M896.7 137.8h1.3M899.2 137.8h1.3M901.7 137.8h1.3M905.5 137.8h1.3M908 137.8h1.3M910.5 137.8h5M919.3 137.8h1.3M924.4 137.8h1.3M926.9 137.8h1.3M930.7 137.8h3.8M937 137.8h1.3M942 137.8h1.3M945.8 137.8h2.5M949.6 137.8h1.3M953.4 137.8h3.8M959.7 137.8h1.3M964.7 137.8h5M971 137.8h3.8M976 137.8h1.3M981.1 137.8h2.5M984.9 137.8h1.3M987.4 137.8h1.3M989.9 137.8h10.1M1003.8 137.8h2.5M1008.8 137.8h1.3M1012.6 137.8h3.8M1017.6 137.8h1.3M1020.1 137.8h1.3M1022.7 137.8h6.3M1031.5 137.8h3.8M1037.8 137.8h1.3M1040.3 137.8h1.3M1042.8 137.8h1.3M1047.9 137.8h6.3M1055.4 137.8h1.3M1059.2 137.8h1.3M1061.7 137.8h1.3M1066.8 137.8h2.5M1070.5 137.8h1.3M1074.3 137.8h3.8M1079.4 137.8h7.6M1088.2 137.8h1.3M1090.7 137.8h2.5M1095.7 137.8h2.5M1099.5 137.8h2.5M1103.3 137.8h2.5M1107.1 137.8h1.3M1109.6 137.8h1.3M1112.1 137.8h1.3M1114.6 137.8h1.3M1119.7 137.8h1.3" stroke="#00ecdc" stroke-width="2.4" fill="none"/>
<path d="M671.1 137.8h2.5M676.2 137.8h1.3M678.7 137.8h1.3M717.7 137.8h1.3M727.8 137.8h1.3M730.3 137.8h1.3M736.6 137.8h1.3M750.5 137.8h1.3M756.8 137.8h1.3M763.1 137.8h3.8M773.2 137.8h1.3M775.7 137.8h1.3M792.1 137.8h1.3M802.2 137.8h1.3M840 137.8h1.3M889.1 137.8h1.3M895.4 137.8h1.3M903 137.8h2.5M906.7 137.8h1.3M928.2 137.8h1.3M935.7 137.8h1.3M940.8 137.8h1.3M950.8 137.8h1.3M958.4 137.8h1.3M962.2 137.8h1.3M969.7 137.8h1.3M978.6 137.8h1.3M1001.2 137.8h1.3M1030.2 137.8h1.3M1041.6 137.8h1.3M1046.6 137.8h1.3M1063 137.8h2.5M1089.4 137.8h1.3M1105.8 137.8h1.3M1108.3 137.8h1.3M1117.2 137.8h1.3" stroke="#2040ff" stroke-width="2.4" fill="none"/>
<path d="M673.6 137.8h2.5M679.9 137.8h1.3M683.7 137.8h2.5M687.5 137.8h2.5M693.8 137.8h2.5M700.1 137.8h1.3M702.6 137.8h1.3M714 137.8h1.3M721.5 137.8h2.5M725.3 137.8h1.3M737.9 137.8h1.3M740.4 137.8h1.3M745.5 137.8h2.5M751.8 137.8h1.3M759.3 137.8h3.8M771.9 137.8h1.3M780.7 137.8h1.3M787 137.8h2.5M790.8 137.8h1.3M795.9 137.8h1.3M799.6 137.8h1.3M807.2 137.8h1.3M809.7 137.8h1.3M822.3 137.8h1.3M824.8 137.8h2.5M831.1 137.8h2.5M838.7 137.8h1.3M843.7 137.8h1.3M846.3 137.8h1.3M851.3 137.8h1.3M865.2 137.8h1.3M872.7 137.8h2.5M880.3 137.8h1.3M885.3 137.8h1.3M887.8 137.8h1.3M900.4 137.8h1.3M909.3 137.8h1.3M915.6 137.8h3.8M923.1 137.8h1.3M925.6 137.8h1.3M939.5 137.8h1.3M943.3 137.8h1.3M948.3 137.8h1.3M957.1 137.8h1.3M960.9 137.8h1.3M977.3 137.8h1.3M979.8 137.8h1.3M983.6 137.8h1.3M986.1 137.8h1.3M988.6 137.8h1.3M1000 137.8h1.3M1007.5 137.8h1.3M1011.3 137.8h1.3M1029 137.8h1.3M1035.3 137.8h2.5M1056.7 137.8h2.5M1060.5 137.8h1.3M1065.5 137.8h1.3M1071.8 137.8h2.5M1078.1 137.8h1.3M1093.2 137.8h2.5M1098.3 137.8h1.3M1110.9 137.8h1.3M1113.4 137.8h1.3M1118.4 137.8h1.3M1120.9 137.8h1.3" stroke="#00b8ff" stroke-width="2.4" fill="none"/>
<path d="M668.6 140.1h1.3M678.7 140.1h1.3M685 140.1h1.3M690 140.1h2.5M695.1 140.1h1.3M697.6 140.1h2.5M711.4 140.1h1.3M715.2 140.1h1.3M724 140.1h2.5M727.8 140.1h1.3M730.3 140.1h1.3M732.9 140.1h2.5M736.6 140.1h1.3M742.9 140.1h2.5M749.2 140.1h1.3M753 140.1h2.5M769.4 140.1h1.3M779.5 140.1h1.3M783.3 140.1h1.3M785.8 140.1h1.3M797.1 140.1h1.3M800.9 140.1h1.3M816 140.1h2.5M828.6 140.1h1.3M831.1 140.1h2.5M837.4 140.1h1.3M870.2 140.1h2.5M889.1 140.1h1.3M897.9 140.1h1.3M901.7 140.1h1.3M904.2 140.1h1.3M908 140.1h2.5M921.9 140.1h1.3M929.4 140.1h1.3M931.9 140.1h1.3M935.7 140.1h1.3M942 140.1h1.3M945.8 140.1h1.3M963.4 140.1h1.3M966 140.1h1.3M976 140.1h1.3M978.6 140.1h2.5M989.9 140.1h1.3M992.4 140.1h1.3M1006.3 140.1h3.8M1015.1 140.1h1.3M1022.7 140.1h2.5M1026.4 140.1h2.5M1032.7 140.1h1.3M1035.3 140.1h1.3M1041.6 140.1h2.5M1045.3 140.1h1.3M1047.9 140.1h1.3M1059.2 140.1h1.3M1078.1 140.1h1.3M1117.2 140.1h1.3" stroke="#00b8ff" stroke-width="2.4" fill="none"/>
<path d="M671.1 140.1h2.5M674.9 140.1h1.3M681.2 140.1h3.8M686.2 140.1h3.8M693.8 140.1h1.3M696.3 140.1h1.3M703.9 140.1h1.3M707.7 140.1h3.8M719 140.1h1.3M722.8 140.1h1.3M726.6 140.1h1.3M729.1 140.1h1.3M731.6 140.1h1.3M739.2 140.1h2.5M745.5 140.1h1.3M751.8 140.1h1.3M756.8 140.1h2.5M760.6 140.1h1.3M765.6 140.1h1.3M768.1 140.1h1.3M770.7 140.1h1.3M775.7 140.1h3.8M780.7 140.1h1.3M788.3 140.1h1.3M792.1 140.1h1.3M798.4 140.1h2.5M803.4 140.1h1.3M808.5 140.1h1.3M813.5 140.1h2.5M822.3 140.1h1.3M827.4 140.1h1.3M829.9 140.1h1.3M838.7 140.1h1.3M841.2 140.1h3.8M846.3 140.1h2.5M852.6 140.1h1.3M855.1 140.1h2.5M858.9 140.1h3.8M863.9 140.1h1.3M866.4 140.1h1.3M872.7 140.1h1.3M875.2 140.1h2.5M882.8 140.1h1.3M886.6 140.1h2.5M891.6 140.1h1.3M894.1 140.1h3.8M905.5 140.1h1.3M910.5 140.1h1.3M913 140.1h1.3M916.8 140.1h2.5M920.6 140.1h1.3M933.2 140.1h1.3M938.2 140.1h2.5M943.3 140.1h1.3M947.1 140.1h1.3M950.8 140.1h3.8M957.1 140.1h6.3M967.2 140.1h1.3M977.3 140.1h1.3M982.3 140.1h1.3M993.7 140.1h1.3M996.2 140.1h2.5M1001.2 140.1h1.3M1003.8 140.1h1.3M1016.4 140.1h3.8M1025.2 140.1h1.3M1029 140.1h1.3M1031.5 140.1h1.3M1034 140.1h1.3M1039 140.1h1.3M1049.1 140.1h1.3M1052.9 140.1h1.3M1055.4 140.1h3.8M1063 140.1h1.3M1065.5 140.1h2.5M1070.5 140.1h1.3M1073.1 140.1h2.5M1079.4 140.1h2.5M1085.7 140.1h1.3M1092 140.1h6.3M1100.8 140.1h1.3M1104.6 140.1h1.3M1110.9 140.1h3.8M1115.9 140.1h1.3M1118.4 140.1h2.5" stroke="#00ecd0" stroke-width="2.4" fill="none"/>
<path d="M679.9 140.1h1.3M701.4 140.1h1.3M717.7 140.1h1.3M761.8 140.1h1.3M804.7 140.1h2.5M823.6 140.1h1.3M851.3 140.1h1.3M865.2 140.1h1.3M900.4 140.1h1.3M940.8 140.1h1.3M955.9 140.1h1.3M971 140.1h1.3M986.1 140.1h1.3M988.6 140.1h1.3M998.7 140.1h1.3M1005 140.1h1.3M1010.1 140.1h1.3M1012.6 140.1h2.5M1036.5 140.1h1.3M1046.6 140.1h1.3M1050.4 140.1h1.3M1064.2 140.1h1.3M1089.4 140.1h1.3M1098.3 140.1h1.3" stroke="#2048ff" stroke-width="2.4" fill="none"/>
<path d="M671.1 142.5h1.3M674.9 142.5h1.3M715.2 142.5h1.3M725.3 142.5h1.3M730.3 142.5h3.8M737.9 142.5h1.3M746.7 142.5h3.8M754.3 142.5h1.3M756.8 142.5h1.3M763.1 142.5h1.3M770.7 142.5h1.3M816 142.5h1.3M829.9 142.5h1.3M852.6 142.5h1.3M855.1 142.5h1.3M857.6 142.5h3.8M862.6 142.5h1.3M874 142.5h1.3M890.4 142.5h1.3M901.7 142.5h1.3M911.8 142.5h1.3M925.6 142.5h1.3M933.2 142.5h1.3M944.5 142.5h1.3M960.9 142.5h3.8M988.6 142.5h1.3M991.2 142.5h1.3M1007.5 142.5h1.3M1011.3 142.5h1.3M1016.4 142.5h1.3M1045.3 142.5h1.3M1055.4 142.5h1.3M1069.3 142.5h1.3M1092 142.5h1.3M1099.5 142.5h1.3M1102 142.5h2.5M1110.9 142.5h1.3M1114.6 142.5h1.3" stroke="#00c0ff" stroke-width="2.4" fill="none"/>
<path d="M672.4 142.5h2.5M676.2 142.5h2.5M683.7 142.5h2.5M691.3 142.5h2.5M695.1 142.5h1.3M700.1 142.5h1.3M703.9 142.5h6.3M716.5 142.5h1.3M720.3 142.5h1.3M736.6 142.5h1.3M739.2 142.5h2.5M759.3 142.5h1.3M764.4 142.5h3.8M769.4 142.5h1.3M771.9 142.5h1.3M774.4 142.5h1.3M777 142.5h2.5M785.8 142.5h1.3M788.3 142.5h1.3M790.8 142.5h1.3M795.9 142.5h1.3M808.5 142.5h3.8M822.3 142.5h1.3M824.8 142.5h1.3M832.4 142.5h1.3M836.2 142.5h1.3M838.7 142.5h3.8M846.3 142.5h1.3M853.8 142.5h1.3M861.4 142.5h1.3M865.2 142.5h1.3M876.5 142.5h1.3M879 142.5h1.3M881.5 142.5h2.5M886.6 142.5h1.3M897.9 142.5h1.3M903 142.5h5M915.6 142.5h1.3M919.3 142.5h1.3M924.4 142.5h1.3M928.2 142.5h1.3M930.7 142.5h1.3M937 142.5h1.3M942 142.5h1.3M955.9 142.5h2.5M959.7 142.5h1.3M964.7 142.5h2.5M976 142.5h1.3M979.8 142.5h3.8M997.5 142.5h1.3M1000 142.5h1.3M1002.5 142.5h3.8M1010.1 142.5h1.3M1012.6 142.5h1.3M1015.1 142.5h1.3M1018.9 142.5h3.8M1030.2 142.5h1.3M1032.7 142.5h1.3M1039 142.5h2.5M1051.6 142.5h1.3M1054.2 142.5h1.3M1070.5 142.5h2.5M1079.4 142.5h1.3M1081.9 142.5h1.3M1084.4 142.5h1.3M1089.4 142.5h2.5M1100.8 142.5h1.3M1104.6 142.5h1.3M1107.1 142.5h1.3M1109.6 142.5h1.3M1113.4 142.5h1.3M1118.4 142.5h1.3M1120.9 142.5h1.3" stroke="#00ecc0" stroke-width="2.4" fill="none"/>
<path d="M696.3 142.5h1.3M726.6 142.5h1.3M729.1 142.5h1.3M842.5 142.5h1.3M891.6 142.5h2.5M910.5 142.5h1.3M939.5 142.5h1.3M974.8 142.5h1.3M996.2 142.5h1.3M1008.8 142.5h1.3M1017.6 142.5h1.3M1047.9 142.5h1.3M1064.2 142.5h1.3M1073.1 142.5h1.3M1080.6 142.5h1.3M1115.9 142.5h1.3" stroke="#2050ff" stroke-width="2.4" fill="none"/>
<path d="M683.7 144.8h2.5M688.8 144.8h1.3M696.3 144.8h2.5M719 144.8h2.5M732.9 144.8h1.3M735.4 144.8h2.5M745.5 144.8h1.3M748 144.8h2.5M755.5 144.8h1.3M763.1 144.8h1.3M769.4 144.8h1.3M773.2 144.8h1.3M778.2 144.8h2.5M782 144.8h1.3M793.3 144.8h1.3M803.4 144.8h1.3M807.2 144.8h1.3M817.3 144.8h1.3M819.8 144.8h2.5M823.6 144.8h1.3M826.1 144.8h1.3M840 144.8h1.3M842.5 144.8h2.5M847.5 144.8h2.5M852.6 144.8h1.3M857.6 144.8h1.3M862.6 144.8h1.3M870.2 144.8h1.3M875.2 144.8h1.3M879 144.8h2.5M884.1 144.8h1.3M887.8 144.8h2.5M891.6 144.8h1.3M895.4 144.8h1.3M904.2 144.8h2.5M909.3 144.8h2.5M913 144.8h1.3M933.2 144.8h2.5M947.1 144.8h1.3M952.1 144.8h2.5M959.7 144.8h1.3M972.3 144.8h1.3M974.8 144.8h1.3M979.8 144.8h1.3M986.1 144.8h1.3M991.2 144.8h1.3M994.9 144.8h1.3M1006.3 144.8h1.3M1022.7 144.8h1.3M1025.2 144.8h1.3M1036.5 144.8h2.5M1046.6 144.8h1.3M1052.9 144.8h1.3M1057.9 144.8h1.3M1061.7 144.8h1.3M1064.2 144.8h1.3M1066.8 144.8h2.5M1071.8 144.8h3.8M1080.6 144.8h1.3M1084.4 144.8h1.3M1088.2 144.8h2.5M1092 144.8h1.3M1108.3 144.8h1.3M1110.9 144.8h1.3M1118.4 144.8h2.5" stroke="#00ecb0" stroke-width="2.4" fill="none"/>
<path d="M686.2 144.8h1.3M702.6 144.8h1.3M774.4 144.8h1.3M792.1 144.8h1.3M797.1 144.8h1.3M834.9 144.8h1.3M851.3 144.8h1.3M865.2 144.8h1.3M885.3 144.8h1.3M894.1 144.8h1.3M900.4 144.8h1.3M919.3 144.8h1.3M930.7 144.8h1.3M943.3 144.8h1.3M960.9 144.8h1.3M966 144.8h1.3M969.7 144.8h1.3M988.6 144.8h1.3M998.7 144.8h1.3M1020.1 144.8h1.3M1023.9 144.8h1.3M1027.7 144.8h1.3M1049.1 144.8h1.3M1081.9 144.8h1.3M1085.7 144.8h1.3" stroke="#00c0ff" stroke-width="2.4" fill="none"/>
<rect x="668.5" y="115.5" width="454" height="74" fill="none" stroke="#000" stroke-width="1.4"/>
<path d="M678.5 115.5v4M707.5 115.5v8M735.5 115.5v4M764.5 115.5v4M792.5 115.5v4M821.5 115.5v8M849.5 115.5v4M878.5 115.5v4M906.5 115.5v4M935.5 115.5v8M963.5 115.5v4M992.5 115.5v4M1020.5 115.5v4M1049.5 115.5v8M1077.5 115.5v4M1106.5 115.5v4" stroke="#000" stroke-width="1" fill="none"/>
<path d="M678.5 189.5v-4M707.5 189.5v-8M735.5 189.5v-4M764.5 189.5v-4M792.5 189.5v-4M821.5 189.5v-8M849.5 189.5v-4M878.5 189.5v-4M906.5 189.5v-4M935.5 189.5v-8M963.5 189.5v-4M992.5 189.5v-4M1020.5 189.5v-4M1049.5 189.5v-8M1077.5 189.5v-4M1106.5 189.5v-4" stroke="#000" stroke-width="1" fill="none"/>
<path d="M668.5 125.5h6M668.5 145.5h6M668.5 165.5h6M668.5 184.5h6M668.5 139.5h3M668.5 135.5h3M668.5 133.5h3M668.5 131.5h3M668.5 129.5h3M668.5 128.5h3M668.5 127.5h3M668.5 126.5h3M668.5 159.5h3M668.5 155.5h3M668.5 153.5h3M668.5 151.5h3M668.5 149.5h3M668.5 148.5h3M668.5 147.5h3M668.5 146.5h3M668.5 178.5h3M668.5 175.5h3M668.5 172.5h3M668.5 170.5h3M668.5 169.5h3M668.5 168.5h3M668.5 166.5h3M668.5 165.5h3M668.5 189.5h3M668.5 187.5h3M668.5 186.5h3M668.5 185.5h3M668.5 119.5h3M668.5 115.5h3" stroke="#000" stroke-width="1" fill="none"/>
<path d="M1122.5 125.5h-6M1122.5 145.5h-6M1122.5 165.5h-6M1122.5 184.5h-6M1122.5 139.5h-3M1122.5 135.5h-3M1122.5 133.5h-3M1122.5 131.5h-3M1122.5 129.5h-3M1122.5 128.5h-3M1122.5 127.5h-3M1122.5 126.5h-3M1122.5 159.5h-3M1122.5 155.5h-3M1122.5 153.5h-3M1122.5 151.5h-3M1122.5 149.5h-3M1122.5 148.5h-3M1122.5 147.5h-3M1122.5 146.5h-3M1122.5 178.5h-3M1122.5 175.5h-3M1122.5 172.5h-3M1122.5 170.5h-3M1122.5 169.5h-3M1122.5 168.5h-3M1122.5 166.5h-3M1122.5 165.5h-3M1122.5 189.5h-3M1122.5 187.5h-3M1122.5 186.5h-3M1122.5 185.5h-3M1122.5 119.5h-3M1122.5 115.5h-3" stroke="#000" stroke-width="1" fill="none"/>
<text x="1125" y="129.7" font-size="10.8" text-anchor="start" fill="#000" font-weight="normal" >10<tspan font-size="8.5" dy="-4.5">4</tspan></text>
<text x="1125" y="149.7" font-size="10.8" text-anchor="start" fill="#000" font-weight="normal" >10<tspan font-size="8.5" dy="-4.5">3</tspan></text>
<text x="1125" y="169.4" font-size="10.8" text-anchor="start" fill="#000" font-weight="normal" >10<tspan font-size="8.5" dy="-4.5">2</tspan></text>
<text x="1125" y="189.1" font-size="10.8" text-anchor="start" fill="#000" font-weight="normal" >10<tspan font-size="8.5" dy="-4.5">1</tspan></text>
<text x="1154.7" y="153" font-size="11" text-anchor="middle" fill="#000" font-weight="normal" transform="rotate(-90 1154.7 153)" >Energy (eV)</text>
<path d="M668.9 222.2l.8-16.3.8 22.5.8-12.4.8 6.2.8-9.5.8 7.5.8-2.9.8 10.6.8-7.9.8 7.2.8-7.4.8 7.8.8-19.7.8 15.9.8-4.6.8 6 .8-5.6.8 0 .8-2.7.8 2.3.8-.6.8 6.9.8-4.2.8 1.2.8-9.4.8 5.6.8-5.1.8 14.9.8-10.4.8 9.7.8-9 .8 5.1.8-7.1.8 17.2.8-17.4.8 7.4.8-15.5.8 12.9.8-5.2.8 6.7.8-4.6.8 8.6.8-10.9.8 9 .8-4.5.8.2.8-4.8.8 6.2.8-.2.8 5.5.8-9.4.8 10.5.8-14.7.8 15 .8 7.2.8-4.6.8-11.9.8 10.9.8-9.6.8 10.1.8-16.8.8 7.9.8-6.3.8 6.6.8-9.4.8 15.3.8-8.8.8 4.6.8-16.6.8 20.2.8-16.4.8 18.3.8-10.6.8 13.6.8-13.7.8 13.5.8-14.9.8 21.8.8-7.7.8-9.1.8-11.5.8 14.5.8-24.8.8 33 .8-10.1.8 13.6.8-11.1.8 13.1.8-20.1.8 12.3.8-3.2.8 2.6.8-6.1.8 11.9.8-23.6.8 14.4.8-7.3.8 5.1.8-8.5.8 10.2.8 6.3.8 10.9.8-14.7.8 4.2.8-5.9.8 5.9.8-3.9.8 7.2.8-5.1.8 3.4.8-13 .8 15.8.8-4.6.8 1.2.8-16.3.8 16.6.8-10 .8 4.8.8-9.3.8 13.9.8-8.4.8 17.2.8-18 .8 12.6.8-13 .8 10.6.8-8.3.8 6.6.8 7.9.8-7.1.8-9 .8 12.9.8-.6.8 5.5.8-12.5.8 11.9.8-14.1.8 13.1.8-11 .8 14 .8-21 .8 27.8.8-25.7.8 6.9.8-2.7.8 7 .8-9.3.8 6.6.8-9.7.8 8.1.8-4.7.8 7.4.8-10.2.8 9.5.8-2.9.8 5.9.8-6.7.8 1.6.8-7 .8 4.4.8-6.9.8 10.3.8-9.8.8 8.5.8-7 .8 3.8.8-1.5.8 0 .8-14.2.8 16.1.8-4.6.8 4.2.8-9.2.8 5.6.8-3.3.8.4.8 10.1.8-.4.8-6.4.8-.1.8-6 .8 10.8.8-4.9.8 4.2.8-6.2.8 2.1.8-5.2.8 5.2.8-4 .8 4.1.8-5.3.8 6.3.8-8 .8 7.1.8-7 .8 4.6.8-2.5.8 3.6.8-2.2.8 3.8.8-5.4.8 4.2.8-7.4.8 7.3.8-3.4.8 7.2.8-8.4.8 11.2.8-6.2.8 4.2.8-8.9.8 5.9.8-9.5.8 10.3.8-3.5.8 1.5.8-5.2.8 8.8.8-5.8.8 4.3.8-4.1.8-.2.8 1.9.8 4.3.8-8.8.8 8.6.8-1.5.8 11 .8-14.5.8 1.7.8-1.5.8 5.2.8-4.4.8 3.7.8-2.1.8 4.4.8-4.6.8 5.9.8-4.1.8 3.6.8-5.4.8 3.3.8-5.8.8 4.6.8-3.2.8 4.5.8-12 .8 8 .8-1.2.8 6.3.8-8.5.8 3.5.8-7.1.8 5.5.8-10.4.8 20.3.8-12.5.8 2.5.8-6.8.8 7.6.8-4.9.8 5.1.8-3.4.8 3 .8-2.7.8 14.9.8-15.9.8 4.9.8-4.7.8 4.6.8-2.6.8 5.7.8-9.3.8 5.2.8-2.8.8 6.4.8-6.5.8 4.4.8-2.4.8 3.5.8-4.3.8 1.8.8-7.6.8 5 .8-.5.8 4.2.8-6 .8 3.3.8-8.7.8 16.3.8-12 .8 9.1.8-9.9.8 1.9.8-1.9.8 3.2.8-2.9.8 5.2.8-1.9.8.5.8-4.1.8 4.5.8-.9.8 2.3.8-4.9.8 4 .8-3.1.8 4.2.8-5.2.8 6.7.8-7.4.8 7.8.8-5.5.8 4.4.8-4.4.8 6.5.8-6.5.8 3 .8-2.3.8 3.2.8 4 .8-4.5.8-.7.8 4.1.8-3.8.8 8.7.8-13.9.8 9.6.8-6.5.8 5.9.8-3.8.8 2.6.8-7.2.8 5.8.8-5.2.8 8.7.8-6.7.8 1.9.8-4.6.8 7.6.8-1.3.8 7.8.8-8.8.8 9.3.8-10.1.8 7.1.8-10.8.8 10 .8-13.2.8 7 .8-3.3.8 9.2.8-8.2.8 8 .8-7.7.8 5.7.8-2.7.8 4.4.8-9 .8 9.2.8-10 .8 6.2.8-4.5.8 6.7.8-4.2.8 3.5.8-3.8.8 8.4.8-9.9.8 6.6.8-5.6.8 7 .8-5.3.8 9.5.8-8.6.8 6.4.8-7.8.8 19.2.8-17.6.8 5.8.8-6.1.8 5.7.8-4.7.8 4.9.8-4.7.8 7.3.8-7.1.8 5.7.8-14.1.8 4 .8-3.8.8 10.1.8-2.1.8 3.7.8-4.3.8 7.1.8-8.6.8 8.7.8-9.5.8 13.6.8-7.5.8 14 .8-21.8.8 7.3.8-19.6.8 19.4.8-7.9.8 14.6.8-12.7.8 5.7.8-6.9.8 9.1.8-6 .8 4.9.8 11 .8-7.2.8-10.9.8 4.4.8-3.9.8 14.7.8-13 .8 9.2.8-9.3.8 24.2.8-22.5.8 10.8.8-2.5.8-2.9.8 4.8.8 12.6.8 6.2.8-15.5.8-15.6.8-.1.8-7.9.8 4.4.8-7.7.8 3.3.8-12.3.8-10.8.8 8.1.8 15 .8-2.5.8 2.5.8-4 .8 2.4.8-7 .8 6.9.8-2.4.8 4.5.8-4.5.8 7.9.8-13.8.8 7.3.8-5.9.8.9.8-8.5.8 3 .8 2.6.8 8 .8-5.6.8 6.5.8-12.4.8 9.5.8-7.2.8 17.6.8-19.7.8 8.1.8-5.1.8 11.6.8-7.7.8 7.3.8 4.6.8 5.6.8-20.1.8 17.5.8-5.6.8 17.3.8-17.3.8 9.3.8-4.7.8 8 .8-8.6.8 6.8.8-13.3.8 10.5.8.7.8 2.4.8-6.7.8 8 .8-6.4.8 5 .8 1.4.8-1.5.8-8.8.8 11.8.8-14.8.8 14.6.8-6.4.8 2.7.8-10.3.8 7.7.8-5.9.8 4.9.8-3.6.8 5.6.8-10.2.8 9.5.8-4.7.8 7.8.8-12.3.8 12 .8-11.3.8 11.4.8-7.1.8 4.3.8-2.7.8 7.1.8-8.9.8 4.9.8-4.8.8 13.3.8-10.9.8 7.5.8-8.6.8 5 .8 12.6.8 9.2.8-23.2.8-1.6.8-2.2.8 10.2.8-11.3.8 6.9.8-4.3.8 5.9.8-10.4.8 7.2.8-15.7.8 17.4.8-4.6.8 2.1.8-9.7.8 8.1.8-1.6.8 6.4.8-3.7.8 4.3.8-11.8.8 8.4.8-5.4.8 8.4.8-8.5.8 8.3.8-5.4.8 7.1.8-7.9.8 1.9.8-5.7.8 11.1.8-4.4.8.5.8-5.4.8 5.2.8-6.7.8 10" fill="none" stroke="#30ee30" stroke-width="1.0" stroke-linejoin="bevel"/>
<path d="M668.9 234.6l.8-7.3.8 5.3.8-2.9.8-.8.8-8.9.8 6.1.8-5.7.8 6.9.8-4.1.8 6 .8-6.1.8 7.8.8-7.1.8 7.3.8-5.4.8 6.5.8-5.9.8.4.8-3.6.8 6 .8-5.6.8 3.6.8-7.3.8 6.8.8-1.8.8 2.1.8-10.7.8 11.6.8-9.1.8 11.4.8-7.1.8 3.3.8-11.9.8 13.9.8-6.3.8 2 .8-14.9.8 17.4.8-8.6.8 6.4.8-12.3.8 4.3.8 0 .8 7.8.8-5.1.8 9.8.8-16.8.8 9 .8-11 .8 8.1.8-2.3.8 8.5.8-6.6.8 7 .8-9.2.8 2.2.8-10.1.8 13.8.8-4.6.8 9.4.8-17.3.8 8.1.8 3.4.8-.5.8-7.7.8 6 .8-10.3.8 10.4.8-4.1.8 7.7.8-2.3.8 9.8.8-16.9.8 13.1.8-17.8.8 13.8.8-8.7.8 12.7.8-18.6.8 14.3.8-4.9.8 8.3.8-12.4.8 4.9.8-10.5.8 12.3.8-4 .8 8.4.8-11.1.8 16.1.8-13.9.8 8 .8-8.3.8 9 .8-5.3.8 5.3.8-9 .8 15.4.8-15.6.8 7.3.8-15.8.8-7.5.8 7.3.8 17.9.8-10.4.8 17.2.8-17.4.8 11.8.8-13.8.8 9.1.8-.2.8 19 .8-20.2.8 3.2.8-6.1.8 9.4.8-3.9.8 8.4.8-15.7.8 11.2.8-12.9.8 13.3.8-16.1.8 12.2.8-3.7.8 6.3.8-1.2.8 2 .8-8.1.8 5.1.8-7.3.8 9.3.8-12.4.8 14.7.8-9.3.8 7.7.8-6.8.8 20.4.8-23.7.8 6.1.8-4.1.8 7.7.8-7 .8 8.3.8-12.9.8 10.1.8-2.5.8 16.3.8-16.1.8 6 .8-10.8.8 7.7.8-2.5.8 8.4.8-14 .8 8 .8-2.4.8 6.6.8-10.2.8 6 .8-2.4.8 6.2.8-8.2.8 4.8.8-7.8.8 7.5.8-8.6.8 9 .8-5.7.8 7 .8-5.4.8 5.1.8-5.3.8 4.3.8-2.3.8 6.3.8-6.7.8 5.8.8-5.7.8 6.6.8-7.4.8 6.3.8-7.6.8 8.1.8-2.7.8 2.8.8-6.3.8 1.9.8-1.3.8 3.4.8-2.1.8 3.9.8-4 .8 1.1.8-6.3.8 9 .8-12.3.8 7.9.8-2.6.8 3 .8-5.2.8 7.1.8-8.2.8 8.7.8-3.6.8 2.6.8-8.4.8 9 .8-5.2.8 14.2.8-13.2.8 2.7.8-4.6.8 1.4.8-1 .8 4.6.8-4 .8 3.2.8-2.6.8-.6.8-13.8.8 14.9.8-2.4.8 1.5.8-5.8.8 6.7.8-4.4.8-2.9.8-.7.8 7.7.8-5 .8 5.2.8-2.6.8 4.8.8-5.7.8 7.2.8-2.6.8 1.6.8-7.2.8 6.4.8-7.1.8 13.1.8-6 .8 2 .8-6.4.8 6.6.8-2.6.8 5.3.8-7.2.8 9 .8-5.5.8-3.8.8-1 .8-1.8.8 4.3.8 4.8.8-2.4.8 3.7.8-3.5.8 4.9.8-8 .8 4.9.8-2.1.8 4.1.8-4.1.8 1.9.8-1.6.8 4.1.8-5.3.8 2.4.8-2.4.8 6.1.8-2.8.8 4 .8-5.4.8.6.8-.8.8 5.2.8-6.1.8 5.9.8-4.2.8 3.2.8-6.6.8 7.7.8-10.3.8 5.1.8-2.7.8 6.5.8-2.7.8 1.3.8-4.1.8 3.6.8-6.1.8 7.5.8-4 .8 3.7.8-5 .8 3.7.8-3.4.8 3.5.8-1.8.8 2.6.8-4 .8 2.3.8-5.7.8 6.4.8-3.6.8 6.7.8-5.6.8 5 .8-3.4.8 5 .8-4.3.8 2.4.8-2.8.8 1 .8-2 .8 4 .8-5.7.8 6.4.8-5.6.8 5.6.8-2.1.8 1.5.8-4.5.8 10.4.8-8.2.8 5.7.8-9.1.8 8.3.8-3.9.8 6.4.8-9.5.8 5.9.8-1.7.8 4.3.8-5.2.8 4.7.8-5 .8.2.8-7 .8 12 .8-6.5.8 7.2.8-4.3.8 5.6.8-6.9.8 7.9.8-7.7.8 7.2.8-6.2.8 4.7.8-5.5.8-.2.8 4.5.8 4.9.8-9.9.8 7.4.8-5.7.8 5.7.8-3.7.8 6.1.8-7.7.8 7.3.8-3.7.8 3.8.8-7.3.8 6.2.8-4.8.8 1.8.8 6.7.8 1.9.8-10.2.8 8.1.8-5.6.8 6.9.8-5.8.8 6.3.8-10.2.8 4.9.8 4.8.8-2 .8-5.6.8 5 .8-6.6.8 9.8.8-12.9.8 11.3.8-10.5.8 11.8.8-13.5.8 13.1.8-8.6.8 1.9.8-9.1.8 10.9.8-7.7.8 6.3.8-10.7.8 6 .8-4.5.8 5.5.8-.8.8 7.6.8-8.2.8 2.2.8-9.6.8 7.1.8-2.6.8 5.3.8-5.8.8 8 .8-8.3.8 4.5.8 11.4.8-13.7.8-2.7.8 5.1.8-5.5.8 10.5.8-9 .8 4.2.8-12.5.8 11.5.8-5.3.8 7.1.8-12.7.8 11.5.8-3.9.8 1.2.8-4.7.8 10.7.8-11 .8 7.4.8-9.4.8 10.3.8-3.8.8 5.2.8-2.9.8 16.5.8-14.2.8 6.4.8-10.2.8 12.9.8-16.6.8 11.6.8-7 .8 11.3.8-13.3.8 8.3.8-6.5.8 7.3.8-14.1.8 10.3.8-12.4.8 9.4.8-8.9.8 14.4.8-11.2.8 9.1.8-10.7.8 13.7.8-.6.8 6.5.8-13.1.8 6.2.8-5.4.8 10 .8-7.7.8 15.3.8-19.1.8 3.9.8-7.4.8 12.1.8-9.7.8 18.6.8-21.9.8 14.6.8-9.5.8 6.1.8-1.6.8 11.2.8-16.7.8 7 .8-8 .8 5.1.8-3.9.8 8.3.8-4.9.8 3.7.8-10.3.8 5.4.8-2.4.8 5.5.8-10.8.8 9.9.8-14.2.8 11.6.8-6.5.8 7.7.8-3.7.8 1.5.8-6.9.8 5.1.8-4.6.8 6.4.8-.7.8 6.6.8-13.7.8 14.3.8-14 .8 9.6.8-4.7.8 5 .8-12.6.8 11.8.8-4.4.8 5 .8-4.8.8 1.1.8-6.2.8 9.2.8-7.8.8 5.6.8-3.3.8 4.5.8-5.9.8 5.8.8-8.8.8 4.1.8-6.4.8 9.4.8-7.3.8 7.9.8-5.7.8 1.3.8-8.6.8 10.7.8-5.9.8 5 .8.1.8 4.6.8-6.7.8 5 .8-6.6.8 4.4.8-4.1.8 9.2.8-5.7.8 4 .8-4.4.8 4.3.8-8.1.8 10.5.8-14.5.8 9.3.8-10.6.8 16.9.8-10.5.8 7 .8-2.2.8 8 .8-9.5.8 7.6.8-8.3.8 2.1" fill="none" stroke="#1010ff" stroke-width="0.95" stroke-linejoin="bevel"/>
<path d="M668.9 228.5l.8-7.5.8 6.1.8-6.8.8 10 .8-7.3.8 7.2.8-.9.8 2 .8-10.1.8 6.6.8-1.5.8 4.4.8-3.1.8 5.9.8-8.2.8 8.1.8-14.4.8 14.1.8-6.2.8 4.3.8 9.4.8-8.1.8-11.6.8 12.3.8-3.8.8 1.2.8-4.8.8 2.6.8-2.2.8 10.2.8-8.5.8 1.8.8-10.2.8 21.1.8-19.3.8 4 .8-16.6.8 21.9.8-8.6.8 24.8.8-21.8.8 9.1.8-8.4.8-.3.8-1.9.8 4.1.8-8.2.8 9.7.8-1.9.8 5.3.8-7.7.8 6.2.8-7.3.8 5 .8-18.3.8 32 .8-15.8.8 4.8.8-16.2.8 20.6.8-10.6.8 3.2.8-7 .8 6.4.8-7.8.8 14.9.8-16.7.8 14.7.8-16.7.8 11.4.8-10.2.8 19.5.8-17.3.8 10 .8-8 .8 4.9.8-8.6.8 12.3.8-7.5.8 15.6.8-8.4.8 2.9.8-10.7.8 13.5.8-11.5.8 7.8.8-6.4.8 4 .8-9.2.8 9.6.8-3.4.8 3 .8-3.6.8.4.8-6.8.8 12.4.8-14.4.8 14.2.8-14.1.8 13.7.8-11.1.8 12.9.8-9.1.8 5.3.8.9.8-1.6.8-8 .8 6.5.8-9.7.8 7.6.8-2.9.8 8.2.8-7.3.8 5.2.8-8.5.8 11.5.8-12.5.8 12.8.8-10.4.8 7.6.8-11.8.8 13.3.8-16.3.8 11.8.8-10.3.8 16.3.8-9.9.8 6.1.8-5.2.8 5.3.8-13.5.8 16.7.8-10.7.8 6.4.8-8.6.8 13.9.8-13 .8 7.8.8-5.3.8 8.1.8-11.8.8 12 .8-15.4.8 7.9.8-.4.8 8.1.8-9.9.8-.6.8 4.4.8 7.6.8-9.1.8.2.8-2.6.8 7.8.8-6 .8 9 .8-17.1.8 13.3.8-7.3.8 4.2.8-.6.8 9.2.8-11 .8 12 .8-11.2.8-.4.8-4.3.8 8.4.8-4.5.8 4.4.8-4.6.8 4.4.8-3.7.8 7.5.8-7.4.8 4.2.8-1.9.8 1.5.8-3 .8 5.4.8-5.3.8 8.1.8-6.7.8 4 .8-6.7.8 5.6.8-5.2.8 5.7.8-2 .8 3.9.8-7.7.8 4 .8-5.7.8 7 .8-2.1.8 1.9.8-3.8.8 3 .8-8.1.8 7.1.8-9.7.8 13.4.8-5.2.8-5.6.8 6.7.8 4.3.8-7.4.8 7.5.8-1.5.8 2.2.8-6.5.8 4.8.8-3.7.8 1.8.8-1.3.8 2.1.8-2.1.8 3.5.8-4 .8 3.6.8-.2.8 1.2.8-2 .8-.4.8-.2.8 1.3.8-5.4.8 2.6.8-1.2.8 4.3.8-6.6.8 8.1.8-4.3.8.5.8-2.5.8 4.2.8-.3.8 5.5.8-7.2.8 6.4.8-9.1.8 7.1.8-5 .8 4.6.8-10.7.8 5.9.8-.9.8 6.6.8-5.1.8 2.3.8-3.5.8 6.8.8-9.2.8 7.2.8-8.5.8 6.7.8-3.5.8 3.6.8-1.7.8 3.9.8-6.5.8 4.6.8-3.6.8 4.4.8-4.2.8 5.2.8-4.1.8.7.8-2.9.8 2.4.8-.7.8 3.8.8-1.8.8.5.8-5.1.8 6.1.8-6.1.8 7.2.8-4.8.8 3.4.8-5.5.8 8.5.8-20.2.8 14.9.8-5.9.8 6.3.8-.7.8 2.7.8-2.4.8 1.1.8-.8.8 3.8.8.3.8.9.8-7 .8 7.3.8-12.2.8 10.8.8-2.9.8 3.7.8-7 .8 5.7.8-7.9.8 8.6.8-4.6.8 3.4.8-5 .8 7.2.8-4.6.8 1.8.8-3.6.8.3.8-2.3.8 4.7.8-2.1.8 4 .8-6.3.8 6.2.8-3.7.8 6.3.8-7.2.8 4.1.8-7.4.8 1.2.8 1.4.8 9.3.8-6.3.8 4 .8-4.5.8 2.1.8-3.8.8 3.2.8-3.8.8 17.6.8-12.5.8-2 .8.2.8 1 .8-8.5.8 9.1.8-5.8.8 5 .8-8.3.8 5.5.8-5.3.8 7.5.8-5.6.8 3.9.8-1.6.8 5.8.8-6.4.8 6.9.8-9.3.8 6.3.8-3.4.8 5.2.8-6.9.8 6.7.8-11.6.8 10.9.8-10.4.8 11.2.8-13.5.8 10 .8-3.1.8 6.9.8-6.9.8 4.2.8-4.8.8 1 .8-6.9.8 16.1.8-18.8.8 10.9.8-5.6.8 7.4.8-6 .8 4.1.8-5.9.8 5.5.8-7.8.8 13.4.8-9.2.8 4.4.8-3.4.8 3.7.8-2.6.8 9.5.8-11.6.8 3.9.8-5.4.8 5.2.8-2.5.8 6.5.8-13.4.8 7.7.8 0 .8 2.3.8-5.7.8 4 .8-4.3.8 6 .8-6.8.8 5.7.8-4.2.8 5 .8-3.9.8 7.1.8-18.3.8 12.9.8-2 .8 11.5.8-9.3.8 4.8.8-5 .8 5.9.8-6.3.8 4.8.8-7.8.8 7.1.8-10.6.8 16.5.8-8.3.8 6.7.8-4.4.8.6.8-5.6.8 2.4.8-8.8.8 11.8.8-8 .8 13.9.8-13.9.8 11.9.8-3.4.8 19.5.8-23.5.8 6.5.8 16.4.8-19.4.8-4.6.8 3.5.8-7.8.8 10 .8-3.6.8 4.6.8 0 .8 5.3.8-2.2.8-1.2.8-6.4.8 18.9.8-21 .8 13.1.8-7.5.8 4.9.8-4.2.8 9.8.8-10.9.8 12 .8-7.8.8 4.4.8-4.8.8-5.5.8-1 .8 25.5.8-21 .8 3.8.8-7 .8 8.5.8-9.3.8 14.8.8-6.9.8 10 .8-21.3.8 11.2.8-12.9.8 6.9.8-3.1.8 10 .8-8.7.8 6.6.8-6.8.8 3.3.8-14.4.8 13.5.8-7.3.8 13.1.8-7.6.8 3.6.8-14.3.8 20.1.8-3.4.8 6 .8-9.9.8 10.8.8-17.5.8 9.6.8-6.5.8 8.6.8-8.7.8 12.6.8-8.4.8 3.9.8-14.2.8 11.1.8-6.9.8 7.4.8-6.4.8 7 .8-7.9.8 7.6.8-10.2.8 7.2.8-7.6.8 8.3.8-6.4.8 3.9.8-9.8.8 5.9.8-4.3.8 1.9.8-3.9.8 3.1.8-9.5.8 1.9.8-4.9.8-1.4.8 2.8.8 7.4.8-1 .8 11.5.8-2.6.8 9.4.8-6.7.8 5.7.8-8.2.8 6.9.8-6.6.8 11.2.8-9.5.8.2.8-.8.8 2.8.8-5.4.8 7.7.8-6.7.8 3 .8-10.5.8 13.4.8-4.5.8 7.7.8-9.9.8 14.2.8-10.7.8 3.1.8-8.6.8 7.7.8-3 .8 15.2.8-14.3.8 6.4.8-9.5.8 5.4.8-3.5.8 6.4" fill="none" stroke="#ff1010" stroke-width="0.95" stroke-linejoin="bevel"/>
<line x1="766.8" y1="195.5" x2="766.8" y2="263.3" stroke="#ff4848" stroke-width="1.3" stroke-dasharray="9,4.3"/>
<line x1="974.2" y1="196.5" x2="974.2" y2="263.3" stroke="#0000ff" stroke-width="1.1" stroke-dasharray="1.6,3.4"/>
<line x1="982.2" y1="195.5" x2="982.2" y2="263.3" stroke="#ff0000" stroke-width="1.3" stroke-dasharray="9,4.3"/>
<line x1="1090" y1="195.5" x2="1090" y2="263.3" stroke="#00c000" stroke-width="1.2" stroke-dasharray="9,4.3"/>
<line x1="1089.4" y1="195.5" x2="1089.4" y2="263.3" stroke="#ff00ff" stroke-width="1.0" stroke-dasharray="1.6,2.4"/>
<line x1="1092.1" y1="195.5" x2="1092.1" y2="263.3" stroke="#ff00ff" stroke-width="1.0" stroke-dasharray="1.6,2.4"/>
<line x1="668.6" y1="226.5" x2="1122.2" y2="226.5" stroke="#000" stroke-width="1.1" stroke-dasharray="4.2,2.5"/>
<line x1="674" y1="198.5" x2="692" y2="198.5" stroke="#2020ff" stroke-width="1.0"/>
<text x="693.5" y="201.2" font-size="9.5" text-anchor="start" fill="#2020ff" font-weight="normal" >V<tspan font-size="7" dy="3">L</tspan></text>
<line x1="674" y1="214.5" x2="692" y2="214.5" stroke="#30e030" stroke-width="1.0"/>
<text x="693.5" y="217.2" font-size="9.5" text-anchor="start" fill="#30e030" font-weight="normal" >V<tspan font-size="7" dy="3">M</tspan></text>
<line x1="674" y1="230.5" x2="692" y2="230.5" stroke="#ff3030" stroke-width="1.0"/>
<text x="693.5" y="233.2" font-size="9.5" text-anchor="start" fill="#ff3030" font-weight="normal" >V<tspan font-size="7" dy="3">N</tspan></text>
<rect x="668.5" y="189.5" width="454" height="74" fill="none" stroke="#000" stroke-width="1.2"/>
<path d="M678.5 189.5v4M707.5 189.5v8M735.5 189.5v4M764.5 189.5v4M792.5 189.5v4M821.5 189.5v8M849.5 189.5v4M878.5 189.5v4M906.5 189.5v4M935.5 189.5v8M963.5 189.5v4M992.5 189.5v4M1020.5 189.5v4M1049.5 189.5v8M1077.5 189.5v4M1106.5 189.5v4" stroke="#000" stroke-width="1" fill="none"/>
<path d="M678.5 263.5v-4M707.5 263.5v-8M735.5 263.5v-4M764.5 263.5v-4M792.5 263.5v-4M821.5 263.5v-8M849.5 263.5v-4M878.5 263.5v-4M906.5 263.5v-4M935.5 263.5v-8M963.5 263.5v-4M992.5 263.5v-4M1020.5 263.5v-4M1049.5 263.5v-8M1077.5 263.5v-4M1106.5 263.5v-4" stroke="#000" stroke-width="1" fill="none"/>
<path d="M668.5 250.5h6M668.5 226.5h6M668.5 201.5h6M668.5 260.5h3M668.5 255.5h3M668.5 245.5h3M668.5 241.5h3M668.5 236.5h3M668.5 231.5h3M668.5 221.5h3M668.5 216.5h3M668.5 211.5h3M668.5 206.5h3M668.5 196.5h3M668.5 191.5h3" stroke="#000" stroke-width="1" fill="none"/>
<path d="M1122.5 250.5h-6M1122.5 226.5h-6M1122.5 201.5h-6M1122.5 260.5h-3M1122.5 255.5h-3M1122.5 245.5h-3M1122.5 241.5h-3M1122.5 236.5h-3M1122.5 231.5h-3M1122.5 221.5h-3M1122.5 216.5h-3M1122.5 211.5h-3M1122.5 206.5h-3M1122.5 196.5h-3M1122.5 191.5h-3" stroke="#000" stroke-width="1" fill="none"/>
<text x="665.3" y="205.7" font-size="10.8" text-anchor="end" fill="#000" font-weight="normal" >500</text>
<text x="665.3" y="230.3" font-size="10.8" text-anchor="end" fill="#000" font-weight="normal" >0</text>
<text x="665.3" y="254.9" font-size="10.8" text-anchor="end" fill="#000" font-weight="normal" >-500</text>
<text x="636.3" y="228" font-size="11" text-anchor="middle" fill="#000" font-weight="normal" transform="rotate(-90 636.3 228)" >V<tspan font-size="9.3" dy="3">e LMN</tspan><tspan dy="-3"> [km/s]</tspan></text>
<path d="M668.9 300.9l.8-2.7.8 4.9.8-4.8.8 10.4.8-7.5.8 6.9.8-6 .8 12.4.8-14.1.8 10.3.8-5.5.8 3.2.8-.9.8 2.6.8 1.3.8 6.4.8-8.4.8.7.8-10.1.8.4.8-6.2.8 3.4.8-13.6.8 10.8.8-2.4.8 10.5.8-1.2.8 12.2.8-2 .8 3 .8-7.1.8 3.6.8-8.8.8 1.5.8-7.9.8 7.2.8-14.4.8 1.2.8-10.9.8 2.7.8-12.5.8 9.7.8-5.5.8 11.5.8-6.5.8 9.1.8-9 .8 11 .8-10.4.8 30.6.8-23.7.8 11.2.8-8.1.8 6.2.8-11.2.8 6.8.8-4.1.8 8.5.8-5.6.8 14.9.8-10.7.8.6.8-8.4.8 4.2.8-4.6.8 5.2.8-9.2.8 7.3.8-11.6.8 7.4.8-10.1.8 6.6.8-5.6.8 15.3.8.9.8 8.9.8-9 .8 11.1.8-8.4.8 4.7.8-9 .8 1.7.8-3 .8 8.6.8-.9.8 1.2.8-6 .8 10 .8.2.8 5.9.8-10.8.8 10 .8-11 .8 6.2.8-6.3.8 4.8.8-5.7.8 2.5.8-9.1.8 7.7.8-2.1.8 6.4.8-8 .8 11.2.8-8.9.8 4.4.8-11.1.8 5.3.8-8.7.8 7 .8-16.8.8 15.5.8-9.5.8 10.5.8-9.7.8 13.5.8-17.2.8 13.1.8-4.5.8 5.4.8-4.9.8 3.9.8-6.5.8 5.4.8-4 .8 4.7.8-6.6.8 9.6.8-11.5.8 8.2.8-4.9.8 8.6.8-8.7.8 8.9.8-1.5.8 5.9.8-8.1.8 14 .8-7.1.8 2.1.8-4.3.8 4.8.8-9.9.8 1.4.8-6.1.8 12.3.8-8.1.8 5 .8-2.8.8 2.8.8-1.5.8 4.8.8-1.3.8 4.4.8-9 .8 8.8.8-7.8.8 2 .8-2.2.8 1.7.8-3.2.8 3.3.8-6.8.8 6.3.8-3.1.8.8.8-9.5.8 7.4.8-10.6.8 13.8.8-3.4.8 9.7.8-11.3.8 4.9.8-3.2.8 4 .8-4.8.8 10.2.8-7.5.8 5.5.8-12.2.8 5.7.8-7.5.8 9.5.8-9.5.8 10.1.8-1 .8 7 .8-8.5.8 9.4.8-16 .8 9.3.8-8.3.8 10.9.8-6.3.8 4.9.8-6.8.8 10.4.8-9.9.8 9.6.8-10.8.8 5.5.8-6.9.8 8.2.8-8.6.8 12.9.8-6.7.8 11.1.8-6.5.8 4.2.8-6 .8 7.5.8-10 .8 11.9.8-10.1.8 3.6.8-13.7.8 6.2.8-5.4.8 5 .8-3 .8 1.1.8-4.9.8 4.7.8-2.1.8 6.7.8-6.9.8 8.1.8-8.8.8 28.4.8-26 .8 7.9.8-6 .8 9.8.8-3.4.8 4.9.8-6.8.8 6.9.8-5.7.8 10.1.8-10.8.8 5.3.8-5.3.8 4.6.8-14.3.8 24.7.8-28.8.8 11.5.8-9.1.8 7.4.8-9.3.8 13.3.8-9.1.8 5.4.8-1.8.8 5.6.8-8 .8 10.2.8-3.2.8 7 .8-9.9.8 6 .8-2.6.8 7.7.8-5.3.8 1.3.8-3.3.8 2.9.8-.6.8 3.5.8-6.8.8 5.8.8-5.1.8 8.9.8-7.4.8 4.8.8-6.7.8 2.2.8-3.7.8 5.5.8-4.4.8 9.4.8-10.2.8 3.9.8-4.9.8 10.5.8-5.4.8.3.8-3.5.8 8.1.8-7.8.8 12.8.8-7.2.8 10.3.8-9.7.8 5.1.8-8.5.8 5.9.8-8.4.8 8.8.8-10.9.8 6 .8-2.3.8 1.8.8-9.5.8 4.5.8-4.9.8 4.3.8-7.9.8 13.5.8-9.3.8 7.7.8-7.5.8 8.2.8-8.7.8 7.1.8-5.2.8 6.5.8-4.6.8 10.8.8-11.8.8 10.3.8-2 .8 9.8.8-12.9.8 7 .8-9.3.8 12.5.8-5.3.8 8.1.8-11.2.8 7.5.8-7.6.8 5.1.8-11.5.8 11.7.8-10.7.8 4.1.8-10.3.8 8.5.8-8.8.8 6.3.8-8.8.8 9.7.8-12.5.8 6.3.8-6.5.8 9.5.8-8.8.8 10.1.8-9.5.8 1.2.8-6.2.8 9.6.8-10.2.8 1.1.8-4.7.8 8.2.8-6.9.8 9 .8-8 .8 11.3.8-13.3.8 12.3.8-10.2.8 11.3.8-7.8.8 8 .8-8.1.8 14.2.8-14.1.8 12.3.8-8.8.8 4.8.8-3.4.8 11.4.8-16.1.8 16.4.8-8.2.8 5.4.8-9.5.8 6 .8-.8.8 6.9.8-11.4.8 10.6.8-11.4.8 9 .8-9.4.8 3 .8-8.4.8 5.3.8-2.7.8 9.1.8-4.8.8 2 .8-3.9.8 8.4.8-11 .8 9.4.8-8.2.8 18.1.8-20.7.8 10.4.8-6.1.8 5.1.8-9 .8 7 .8-4.2.8 9.2.8-8.3.8 6.9.8-1.2.8 12.9.8-13.9.8 9.8.8-10.8.8 8.4.8-11.8.8 11.4.8-10.8.8 5.8.8-13 .8 9.7.8-3.5.8 9.8.8-2 .8 9.8.8-4.2.8 10.9.8-10.7.8 7.9.8-8.1.8 1.3.8-1.9.8 8.1.8-9.8.8 10 .8-14.4.8 10.9.8-9.9.8 2.6.8-5.9.8 3.6.8-4.1.8 7.1.8-12.5.8 3.4.8-5.9.8 5.5.8-10.4.8 1.3.8-5.9.8.6.8-3.6.8 8.8.8-3.6.8 8.5.8-.2.8 9.1.8-6.8.8 9.8.8-6.5.8 9.7.8-3 .8 6.2.8-5.9.8 5.2.8-7.9.8 2.8.8-18.5.8 14.7.8 2.5.8 15.7.8-6.3.8 9.8.8-8 .8 5.2.8-10.4.8 8.3.8-8.2.8 1.6.8-6.6.8 6.8.8-14.7.8 14.9.8-12.9.8 3.1.8-8.6.8 9 .8-2.4.8 6.4.8-6 .8 2 .8-5.9.8-.2.8-6.1.8 10.6.8-5.9.8.8.8-3.6.8 4.4.8-6.1.8 10.9.8-5.2.8 16.9.8-10.7.8 12.2.8-9.5.8 5.3.8-8.1.8 8.9.8-16.4.8 17.8.8-21.3.8 15.3.8-6.6.8 1.9.8-5.5.8 6.1.8-3.6.8 6.2.8-10.7.8 7.6.8-4.3.8 6 .8-9.3.8.3.8-12.5.8 11.2.8-1.2.8 4.9.8-6.7.8 11.7.8-16.4.8 13.7.8-5.9.8 4.7.8-4.3.8 10.5.8-13.9.8 9.9.8-2.1.8 11.1.8-12.7.8 1.3.8-7.4.8 10.5.8-1.3.8 5.3.8-3 .8 4.9.8-5.4.8 11.8.8-23.2.8 10.2.8-9 .8 10.6.8-7.9.8 5.7.8-5.9.8 4.1.8-9 .8 7.5.8-4.3.8 2.9" fill="none" stroke="#ff1818" stroke-width="0.95" stroke-linejoin="bevel"/>
<path d="M668.9 320.9l.8-2.8.8 1.2.8-4 .8 5.1.8-3.1.8 3.4.8-1.4.8 1.8.8-5.3.8 6.7.8-2.5.8 2.7.8-1.7.8 4.7.8-4.3.8 1.7.8-5.2.8 1.9.8-6 .8 2.2.8-3.3.8 11.3.8-5.4.8 5 .8-2.4.8 6.2.8-6.3.8 4.1.8-2.8.8 9.3.8-3 .8 1.1.8-10.3.8 9 .8-14.6.8 10.4.8-3.8.8 3.8.8-6.2.8 2.5.8-4.9.8 3.9.8-6.7.8 8.8.8-8.3.8 4.7.8-3.8.8 3.2.8-5.8.8 5.3.8-5 .8 3.5.8-2.7.8 3.4.8-4.9.8 5.7.8-1.1.8 8 .8-9.5.8 2.5.8-3.3.8 2.4.8-5.1.8 8.6.8-5.6.8 4.8.8-7.7.8 4.9.8-9.3.8 5.1.8-1.5.8 5.6.8-6.9.8 2.4.8-3.9.8 2.2.8-1.9.8 5.3.8-4 .8 5.6.8-6.5.8 9.5.8-7.2.8.4.8 0 .8 7 .8-2.8.8 1.2.8-4.6.8 1 .8-9.4.8 13 .8-6.8.8 2.3.8-1.2.8 5.4.8-5.8.8-.3.8-2.1.8 6 .8-4.9.8 2.1.8-5.7.8-3.4.8 5.9.8 4.1.8-5.1.8 2.8.8-2.2.8 2.1.8-1.9.8 4.7.8-2.1.8.8.8-4.3.8 5 .8-1.1.8 4.6.8-5.5.8 2.9.8-2 .8 2.9.8-2 .8 3.6.8-5.7.8 1.2.8-6.6.8 10.7.8-8.6.8 3.1.8-1.3.8 4.4.8-6.7.8 6.4.8-1.2.8 3.4.8-4.6.8.1.8-1.5.8 5.6.8-5.6.8 4.9.8-12.2.8 8.4.8-9.6.8 12.3.8-6.1.8 4.1.8-5.2.8 3.6.8-3 .8 4.3.8-5.3.8 3.9.8-3.3.8 2.9.8-4.8.8 1.6.8-3.3.8 7.4.8-4.1.8 5.8.8-3 .8 7.4.8-3.7.8 4.8.8-.8.8 3.4.8-8.3.8 2.1.8-2.4.8 3.7.8-6.3.8 3.5.8-7.4.8 5.7.8-3.7.8 4.4.8-5.1.8.1.8.8.8 2.1.8-.5.8 0 .8-6.8.8 6.9.8-1.9.8 5 .8-5.2.8 5.7.8-4.9.8 3.9.8-4.7.8 5.5.8-.9.8 4.8.8-5.3.8 4.7.8-7.7.8 6.5.8-4.8.8 3.8.8-4.6.8 4.4.8-2.6.8 2.5.8-6 .8 5.7.8-.7.8 2.9.8-4.4.8 2.2.8-2.8.8 1.7.8-1.6.8 2.5.8-1.8.8 2.6.8-1.7.8 8.2.8-9.5.8 3.1.8-2.6.8 9.2.8-9.3.8 3.2.8-6.3.8 5.4.8-2 .8 9.3.8-13.4.8 8.5.8-5.9.8 4.6.8-2.5.8 2.5.8-4.4.8 5.3.8-4.4.8 8.1.8-7.8.8 16.8.8-11.8.8 3.5.8-4.9.8 3.9.8-5.1.8 5.8.8-5.6.8 5.6.8-8 .8 4.9.8-3.4.8 3.5.8-2.4.8 6.1.8-10.8.8 5.7.8-2.4.8 2.4.8-6.5.8 1.5.8-1.3.8 5.3.8-4.5.8 7.8.8-4.3.8 3.3.8-4.6.8 4.4.8-2.9.8 3.6.8-3.1.8 3.4.8-3.8.8 5 .8-3.8.8 5 .8-7.2.8 6.6.8-.2.8 1.3.8-2.4.8 2.5.8-2.2.8 10 .8-9.6.8 3.8.8-10.2.8 8.3.8-3.1.8 4.8.8-8.1.8 6.2.8-4.4.8 4.5.8-2.7.8 14.5.8-15.9.8 3.9.8-4 .8 1.7.8-3 .8 2.4.8-1.6.8 1.1.8-2.7.8 4.4.8-5.8.8 6.9.8-5.3.8 6.3.8-3.4.8 1.5.8-7.4.8 7.7.8-2.9.8 2.9.8-2.8.8 3.2.8-2.1.8 1.3.8-3.8.8 2.8.8-2 .8 1.5.8-11.3.8 11.8.8-5.7.8 5.9.8-6.4.8 7.1.8-4 .8 5.1.8-4.3.8 3.6.8-1.2.8 5.3.8-4.7.8 1.3.8-1.2.8 7.1.8-3.6.8 5 .8-5.4.8 2.8.8-.8.8 5.5.8-3.6.8.7.8-5.3.8-.4.8-11 .8 5.7.8-4.6.8 8.5.8-.1.8 4.8.8-1.3.8 7.7.8-3.6.8 4 .8-3.6.8 6.9.8-7.4.8 5.4.8-2 .8 5 .8-5.4.8 4.1.8-2.8.8 4.3.8-1.5.8 2 .8-12.2.8 11.4.8-4.6.8 8.1.8-10.4.8 2.9.8-1.7.8 5.4.8-7.2.8 2.2.8-4.5.8 9.1.8-3.8.8 5.8.8-3.4.8 3.7.8-5.5.8 4.8.8-11.8.8 6.6.8-2.4.8-.7.8-3.7.8 4.5.8-3.9.8 6.7.8-4.9.8 2 .8-2.6.8 2.7.8-4.9.8 10.2.8-7.4.8 4.2.8-3.3.8 3.9.8-5.1.8 6.1.8-4.7.8 5 .8-1.4.8 3.1.8-3.4.8 4.5.8-4.4.8 4.6.8-5 .8 4.9.8-3.3.8 1.5.8-3.3.8 3.8.8-16 .8 14.6.8-.5.8 2.5.8-5.6.8 2.9.8-4.4.8 1.3.8-3.3.8 2.6.8-4.7.8.6.8-7.2.8 3.2.8-3.8.8 2.8.8-6.6.8 7.2.8-5.2.8 4.4.8-12.1.8 6.8.8-14.2.8 3.7.8-8.6.8.7.8 0 .8 9 .8-.5.8 7 .8.4.8 2.9.8-3.5.8-.6.8-5.1.8 6.8.8-2.8.8 6.1.8-2.2.8 7.2.8 0 .8 6.8.8-3.4.8 3.9.8-4.7.8 2.1.8-5.9.8 4.9.8-1.8.8 6.8.8-6.2.8 0 .8-4.1.8 1 .8-1 .8 5.4.8-9.2.8 3.6.8-2.8.8 5.1.8-4.8.8 1 .8-3.8.8 4.8.8-4.1.8 3.6.8-6.1.8 4.4.8-2.2.8 4.5.8-5 .8 1.6.8-4.1.8 5.8.8-2.5.8 2 .8 4.1.8-1.5.8-9.4.8 7.4.8-6.6.8 6.5.8-3.4.8 3.3.8-1.9.8 4.3.8-5.6.8 5.6.8-1.5.8 3.2.8-4.2.8 2.6.8-2.7.8 6.1.8-5.6.8 2.2.8-7.3.8 3.7.8-3.5.8 2.6.8-2.4.8 4.8.8-9.6.8 3.8.8-2 .8 2.1.8-4.1.8 3.1.8-1.6.8 5.5.8-4 .8 11.2.8-9.8.8 4.3.8-6.7.8 9.6.8-6.7.8 3.3.8-3.1.8 6.6.8-6.2.8 3 .8-.6.8 3.7.8-2 .8 1.8.8-2.7.8 4.2.8-6.9.8 7.8.8-4.5.8 2.6.8-7.8.8 4.5.8-2 .8 5.2.8-7.7.8 7.6.8-8.7.8 7.6" fill="none" stroke="#111" stroke-width="1.1" stroke-linejoin="bevel"/>
<line x1="766.8" y1="269.3" x2="766.8" y2="337.1" stroke="#ff4848" stroke-width="1.3" stroke-dasharray="9,4.3"/>
<line x1="974.2" y1="270.3" x2="974.2" y2="337.1" stroke="#0000ff" stroke-width="1.1" stroke-dasharray="1.6,3.4"/>
<line x1="982.2" y1="269.3" x2="982.2" y2="337.1" stroke="#ff0000" stroke-width="1.3" stroke-dasharray="9,4.3"/>
<line x1="1090" y1="269.3" x2="1090" y2="337.1" stroke="#00c000" stroke-width="1.2" stroke-dasharray="9,4.3"/>
<line x1="1089.4" y1="269.3" x2="1089.4" y2="337.1" stroke="#ff00ff" stroke-width="1.0" stroke-dasharray="1.6,2.4"/>
<line x1="1092.1" y1="269.3" x2="1092.1" y2="337.1" stroke="#ff00ff" stroke-width="1.0" stroke-dasharray="1.6,2.4"/>
<line x1="674" y1="271.5" x2="692" y2="271.5" stroke="#ff3030" stroke-width="1.0"/>
<text x="693.5" y="274.8" font-size="9.5" text-anchor="start" fill="#ff3030" font-weight="normal" >T<tspan font-size="6" dy="3">||</tspan></text>
<line x1="674" y1="285.5" x2="692" y2="285.5" stroke="#333" stroke-width="1.0"/>
<text x="693.5" y="289" font-size="9.5" text-anchor="start" fill="#222" font-weight="normal" >T<tspan font-size="6" dy="3">&#8869;</tspan></text>
<rect x="668.5" y="263.5" width="454" height="74" fill="none" stroke="#000" stroke-width="1.2"/>
<path d="M678.5 263.5v4M707.5 263.5v8M735.5 263.5v4M764.5 263.5v4M792.5 263.5v4M821.5 263.5v8M849.5 263.5v4M878.5 263.5v4M906.5 263.5v4M935.5 263.5v8M963.5 263.5v4M992.5 263.5v4M1020.5 263.5v4M1049.5 263.5v8M1077.5 263.5v4M1106.5 263.5v4" stroke="#000" stroke-width="1" fill="none"/>
<path d="M678.5 337.5v-4M707.5 337.5v-8M735.5 337.5v-4M764.5 337.5v-4M792.5 337.5v-4M821.5 337.5v-8M849.5 337.5v-4M878.5 337.5v-4M906.5 337.5v-4M935.5 337.5v-8M963.5 337.5v-4M992.5 337.5v-4M1020.5 337.5v-4M1049.5 337.5v-8M1077.5 337.5v-4M1106.5 337.5v-4" stroke="#000" stroke-width="1" fill="none"/>
<path d="M668.5 271.5h3M668.5 278.5h3M668.5 287.5h3M668.5 297.5h3M668.5 309.5h3M668.5 323.5h3" stroke="#000" stroke-width="1" fill="none"/>
<path d="M1122.5 271.5h-3M1122.5 278.5h-3M1122.5 287.5h-3M1122.5 297.5h-3M1122.5 309.5h-3M1122.5 323.5h-3" stroke="#000" stroke-width="1" fill="none"/>
<text x="1125.8" y="268.4" font-size="10.8" text-anchor="start" fill="#000" font-weight="normal" >10<tspan font-size="8.5" dy="-4.5">2</tspan></text>
<text x="1158.8" y="301" font-size="11" text-anchor="middle" fill="#000" font-weight="normal" transform="rotate(-90 1158.8 301)" >T<tspan font-size="9.3" dy="3">e</tspan><tspan dy="-3"> [eV]</tspan></text>
<path d="M668.9 383.1l.8-7.8.8 12.8.8-10.3.8 3.7.8-5 .8 3.9.8-8.9.8 8.7.8-4.6.8 7.7.8-9.1.8 7.8.8-5.9.8 7.2.8-11.5.8 8.5.8-3.5.8 2.5.8-9.3.8 6.6.8-8.6.8 11.8.8-2.3.8 4.7.8-4 .8 5.4.8-5.8.8 4.8.8-5.8.8 6 .8-14.1.8 14.6.8-14.5.8 16.6.8-13 .8 12.3.8-10 .8 3.7.8-5.4.8 5.4.8-2.9.8 11.4.8-13.5.8 6.8.8-6.8.8 8.2.8-10.9.8 7.8.8-6.3.8 7.8.8-8 .8 6 .8-6.4.8 5.8.8-6.7.8 6.7.8-4.2.8 2.6.8-3.7.8 3.3.8-9.8.8 12.7.8-15.5.8 10.6.8-3.7.8 7.3.8-6.4.8 8.2.8-14.8.8 9.9.8-2.5.8 3.7.8-7.5.8 12 .8-8.5.8 21.1.8-23.7.8 3.7.8-5.7.8 3.2.8 0 .8 8.1.8-9.2.8 3.2.8 2.2.8 2.5.8-.3.8 1.9.8.2.8 1.3.8-27.7.8 30.7.8-7.2.8 9 .8-4 .8 10.1.8-18.3.8 9.4.8-15 .8 10.1.8-5.2.8 8.4.8-5.3.8 5.8.8-7.3.8 10.1.8-13 .8 5.9.8-1.9.8 7.3.8-15.6.8 11 .8-4.8.8 4.8.8-.4.8 3.7.8-6.8.8 5.3.8-5.5.8 2.8.8-8.4.8 6.9.8-6.6.8 6.6.8-9.3.8 11.7.8-4.7.8 2.5.8-2.9.8 5.2.8-11.9.8 16.1.8-6.7.8 6.9.8-12.9.8 7.6.8-6.9.8 13.7.8-10.7.8 5.6.8-7.5.8 4.7.8-3.1.8 3.2.8-5.7.8 6.4.8-5.8.8 6.4.8-2 .8 5.6.8-5.1.8 4.2.8-6 .8 3.8.8-4.3.8 6 .8-4.3.8 4.8.8-8.6.8 10.6.8-5.6.8 3.2.8-1.5.8 2.9.8-7.7.8 11.1.8-11.4.8 9.5.8-10.6.8 8.7.8-5.8.8 5.2.8-7.5.8 7.4.8-6.3.8 2.3.8-4.9.8 10.6.8-6.8.8 3 .8-1.8.8 5.8.8-5.5.8 2.3.8-5 .8-.8.8-1.8.8 6.1.8-4.2.8 3.6.8-6.2.8 5.7.8-6.4.8 7.4.8-5.4.8 4.5.8-6.5.8 4.3.8-.3.8 5 .8-7 .8 8.1.8-7.2.8 5.5.8-10 .8 9.9.8-7.9.8 3.8.8-5 .8 5.7.8-3.1.8 5.4.8-7.1.8 5.6.8-4.3.8 8 .8-6.6.8 2.7.8-5.9.8 9 .8-6.8.8 7.8.8-6.2.8 4.4.8-7.7.8 3.4.8-4.7.8 7.9.8-3.7.8 6.8.8-5.5.8 5.4.8-6.8.8 9.1.8-9 .8 4.5.8-2.7.8 5.3.8-2.8.8 9.3.8-10.2.8 4.2.8-4.1.8 1.8.8-2.2.8 1.1.8-1.4.8 1 .8-2.9.8 3.7.8-2 .8 1.7.8-1.5.8 7.8.8-6.6.8 2 .8-2.9.8 6.4.8-5.4.8 2.3.8-4.5.8 4.8.8-1.4.8 7.1.8-8.8.8 6.2.8-2.8.8 6.8.8-5.7.8 4.9.8-5.3.8 3.4.8-7.9.8 5.1.8-7 .8 3.4.8-5.3.8 5.9.8-2.9.8 3.6.8-5.2.8 3.7.8-5.9.8 6.4.8-7.4.8 8.9.8-5.4.8 2.9.8-7.7.8 9.4.8-3.6.8 1.3.8-3.1.8 2.1.8-5.8.8 7.3.8-1 .8 4.7.8-5.4.8 4 .8-6.2.8 6.6.8-5.2.8 2.3.8-2.6.8.5.8-.4.8 4.4.8-4.2.8 5 .8-3 .8 3.8.8-4.2.8 6.1.8-6.1.8 1.8.8-1.2.8 3.1.8-4.5.8 3 .8-2.1.8 2.6.8-8.8.8 7.2.8-2.9.8 5.2.8-7.8.8 8.2.8-5.9.8 4 .8-7.9.8 6 .8-.9.8 2.6.8-2.6.8 5.9.8-9.9.8 5.2.8-9 .8 15.5.8-6.5.8 8.1.8-10.6.8 8.9.8-8.1.8 13.8.8-12.1.8 7 .8-4.7.8 9.5.8-8.3.8 4.1.8-6.2.8 9.9.8-3.2.8-.9.8-7.2.8 6.9.8-5.2.8 9.3.8-8.1.8 5.1.8-6.6.8 4.1.8-5 .8 11.3.8-2.8.8.6.8-7.5.8 9.2.8-12.6.8 16.6.8-11.7.8 5.9.8-8.5.8 7.6.8-10.2.8 11.8.8-11.3.8 4.3.8-6.6.8 14.5.8-6.7.8.1.8-4 .8 11.2.8-14.6.8 6.7.8-5.9.8 2.4.8-7.3.8 8.8.8-1.8.8 11.9.8-10.6.8 1.5.8-3.6.8 5.7.8-7.8.8 7.1.8-6.1.8 5.2.8-5.7.8 10.2.8-10.5.8 11.1.8-8.4.8 8.3.8-6.4.8 7.9.8-13.8.8 10.4.8-5.3.8 6.9.8-8 .8 3.9.8-13.2.8 18.9.8-7.1.8 3.9.8-7.1.8 8.8.8-6.9.8 1 .8-4.9.8 3.7.8-1.6.8 13.7.8-14.8.8 1.6.8-2.4.8 5.8.8-3.5.8 6.5.8-9.5.8 4.1.8-9.3.8 12.4.8-4.1.8 2.5.8-6.3.8 6.8.8-6.4.8 9.5.8-7.9.8.2.8-.8.8 7.5.8-8.5.8 4.2.8-5.3.8 10.1.8-9.2.8.3.8-3.2.8 9.5.8-8.5.8.7.8-8 .8 6.4.8-7.7.8 5.5.8-9.2.8 2.5.8-1.9.8 4.9.8-2.6.8 6.2.8-9.2.8 11 .8-2.8.8 10.5.8-7.6.8 5.2.8-8 .8 12.5.8-5 .8 2.1.8-10.1.8 12.4.8-6.8.8 3.2.8 0 .8 5 .8-11.4.8 9.9.8-6.7.8 10.8.8-9.7.8 2.8.8-9.2.8 9.5.8-5.7.8 14.7.8-13.1.8 6.1.8-3 .8 2.3.8-1.6.8-.5.8-9.6.8 11.9.8.1.8 2.4.8-8.1.8 5.7.8-5.1.8 7.5.8-7.7.8 7.4.8-9.9.8 5.5.8-6.8.8 19.5.8-13.8.8 5.8.8-13.5.8 11.3.8-6.5.8 6.5.8-12.3.8 13.3.8.3.8 5.6.8-6.1.8 5.5.8-6.6.8 10.6.8-6.7.8 9 .8-11.1.8 7.7.8-4.5.8 8.8.8-6.2.8 1.1.8-9.8.8 15.2.8-14.1.8 5.6.8-7.2.8 8.1.8-9.3.8 13.1.8-18.1.8 10.9.8-6.3.8 2.5.8-9.3.8 8.2.8-7.2.8 10 .8-12.2.8 7.8.8-12.5.8 11.4.8-2.8.8 6.5.8-6.4.8 1.7.8-8 .8 7.9.8-7.6.8 13.5.8-12.5.8 4.4" fill="none" stroke="#1818ff" stroke-width="0.95" stroke-linejoin="bevel"/>
<path d="M668.9 371.6l.8-4.8.8 6.8.8-3.8.8 8.7.8-8.4.8 6.4.8-5 .8 6.2.8-6.7.8 4.8.8-9.7.8 8.6.8-2.7.8 5.8.8-9.6.8 5.9.8-22.8.8 17.1.8-4.7.8 7.6.8-.3.8 1.5.8-8.1.8 12.4.8-8.7.8 7.2.8-9.7.8 6.8.8-8.1.8 6.1.8-6 .8 0 .8-1.1.8 13.5.8-12.4.8 7.1.8-12.6.8 10.8.8-5.1.8 5.2.8-6.3.8 9.8.8-10.1.8 4.2.8-4.5.8 9.1.8-11.8.8 7.2.8-7.5.8 7.4.8-1.1.8 12.9.8-12.4.8 4.9.8 1.8.8 4.6.8-17.4.8 10.9.8-5.3.8 6.2.8-11.3.8 10.5.8-4.1.8 8.1.8-15.7.8 10.7.8-8.8.8 4.2.8-1.4.8 4.3.8-3.5.8 8.6.8-12.1.8 10.2.8-9.3.8 12.5.8-9.7.8 2.5.8-7.9.8 5.7.8-9.5.8 6.5.8-3.5.8 4.3.8-5.5.8 1.4.8-6.2.8 7 .8-8.3.8 10.1.8-3.9.8 5.7.8-6.6.8 4.2.8-11.3.8 8.9.8-12.5.8 11.9.8-6.5.8 9.7.8-8.4.8 14.8.8-8.9.8 7.8.8-5.5.8 7.1.8-1.5.8.2.8-5.7.8 9.6.8-8.9.8 11.2.8-5.6.8 2.3.8-8.6.8 3 .8-4.6.8 6.3.8-7 .8 9.3.8-4.9.8 8.4.8-6.5.8 4.9.8-6 .8 26.2.8-26.5.8 5.2.8-2.8.8 3.1.8-8.1.8 9.5.8-6.6.8 2.7.8-4.3.8 4.1.8-5.6.8 5.1.8-6.7.8 6 .8-3.2.8 6 .8-6.1.8 10.7.8-6.9.8 4.1.8-6 .8 4.6.8-3.5.8 6.1.8-11.6.8 9.2.8-2.4.8 2.5.8-7.1.8 6.6.8-7.2.8 7.7.8-5.8.8 4.5.8-3.1.8 4.7.8-4.1.8 4.6.8-7.4.8 6.7.8-4.3.8 7.5.8-3.5.8 5.2.8-5.6.8 5.9.8-3.4.8 6.9.8-4.1.8.7.8-5.7.8 7.2.8-3.2.8 7.1.8-6.8.8 3.1.8-4.9.8 8.7.8-8.3.8 3.8.8-4 .8 3.7.8-3.2.8 4.7.8-6.6.8 7.4.8-7.4.8 10.1.8-5.5.8 3.6.8-8.7.8 5.9.8-2.1.8 1.9.8-8 .8 5.5.8-1.5.8 1.9.8-10.2.8 13.5.8-10.5.8 6.4.8-3.1.8 12.6.8-14.2.8 8.5.8-5 .8 1.4.8-8.3.8 11.6.8-7.9.8 7.2.8-12 .8 8.7.8-5.8.8 4.3.8-5.4.8 1.5.8-5 .8 7.1.8-5 .8 4 .8-2.3.8 3.8.8-2.9.8 11.9.8 5.2.8-12.9.8-4.4.8 7.3.8-3.9.8 5.4.8-6.2.8 3.8.8-5.9.8 8.5.8-6.1.8 4.3.8-7.5.8 4.3.8-3.3.8 5.5.8-15.6.8 16.9.8-7 .8 3.5.8-3.5.8 5.5.8-1.9.8 3.2.8-3.9.8 5.7.8-2.3.8 4.1.8-6.5.8 4.5.8-5.8.8 6.4.8-8.8.8 6.7.8-5.2.8.3.8-3 .8 1.3.8-5 .8 5.1.8-4.7.8 8.7.8-2.6.8 4.1.8-11.5.8 7.2.8-5.8.8 5.2.8-3 .8 3.8.8-2.8.8 4.1.8-3.3.8 2.8.8-1 .8 5.1.8-7.2.8 7.5.8-5.4.8 8.7.8-11.6.8 7.1.8-9.8.8 11.8.8-6.2.8 12.7.8-8.8.8 2.2.8-3.1.8 8.7.8-4.4.8 1.8.8-.7.8 2.9.8-6.5.8 4.5.8-.6.8 4.4.8-6.3.8 2.9.8-9 .8 12.7.8-4.2.8 4.8.8-6.6.8 6.5.8-2.6.8 1.3.8-1.1.8 8.2.8-11.2.8 7.4.8-4.8.8 2.6.8-4.3.8 4 .8-7.1.8 7.9.8-1.8.8 2.7.8-13.4.8 13.5.8-15.8.8 4.1.8-5.1.8 8.5.8.2.8 4.8.8.8.8 7.3.8-7 .8 1.8.8-11.4.8 17.1.8-6.2.8 2.8.8-3.7.8 6.8.8-6.9.8 8.5.8-7.9.8 7.4.8-3.6.8 9.3.8-10.4.8 9.3.8-20.5.8 18.8.8-9.4.8 8.1.8-7.7.8 6.9.8-8.1.8 8.2.8-5.4.8 4.3.8-7.1.8 8 .8-6.9.8 13.6.8-8.9.8 1.4.8-4.6.8 12.5.8-13.1.8 7.6.8-5.8.8 4.3.8-7.7.8 5 .8-5.7.8 8.2.8-8.5.8 7.6.8-5.6.8 6.1.8-6.9.8 3.9.8-5.4.8 9.2.8-11.8.8 9.2.8-10.7.8 12.5.8-8.4.8 4.2.8-4.1.8 8.5.8-5.1.8 9.5.8-12.8.8 9.7.8-8.4.8 5.9.8-8.2.8 4 .8-2.9.8 8.6.8-7.9.8 1.7.8-11.5.8 8.5.8-11.8.8 15.1.8-6.4.8 4.2.8-9.6.8 6.9.8-3.7.8 6.4.8-9.6.8 13.9.8-17.6.8 2.3.8-3.9.8 7.8.8-9 .8 1.4.8-3.4.8 4.3.8-13.7.8 8.5.8-3.1.8 4.8.8-3.1.8 13 .8-8.5.8 3.9.8-6.6.8 13.2.8-10.2.8 13.3.8-10 .8 17.9.8-14 .8 4 .8-2.5.8 12.1.8-12.1.8 11.2.8-12.6.8 21 .8-17.9.8 7.1.8.3.8 5.3.8-9.2.8 10.5.8-6.5.8 10 .8-8 .8 5.7.8-11.5.8 7.4.8-5 .8 6.6.8-4.8.8 2.8.8-1.1.8 8.3.8-10.1.8 9.7.8-11 .8 4.9.8-2.6.8 1.3.8-7.2.8 8.1.8-2.6.8 7.6.8-12.7.8 11.5.8-12.8.8 10.9.8-12.6.8 7.7.8-14.3.8 16.3.8-10.5.8 13.7.8-10 .8 11.2.8-10.8.8 5.1.8-6.8.8 8.2.8-5.7.8 10.8.8-7.6.8 2.8.8-8.3.8 8.8.8-6.5.8 6.9.8-6.7.8 7.4.8-5.6.8 1.6.8-6 .8 8.1.8-6.9.8 5.4.8-6.1.8 4.8.8-7.1.8 2.8.8-2.2.8 6.1.8-10.4.8 6.8.8-10.7.8 10.3.8-12.5.8 2.9.8-.5.8 10.6.8 1.1.8 5.9.8-9.7.8-4.1.8.8.8 13.4.8-14.5.8 11.2.8-16.2.8 10.4.8-9.5.8 13.3.8-11.4.8 7.6.8-4.5.8 6.1.8-5.8.8 1.9.8-4.1.8 6.9.8-7 .8 5.4.8-2.9.8 8.1.8-6 .8 4.6.8-3.5.8 1.8.8-7 .8 5.5.8-8.9.8 6.1.8-7.5.8 5.4.8-2.4.8 10.2.8-7.1.8 5.4" fill="none" stroke="#30ee30" stroke-width="0.95" stroke-linejoin="bevel"/>
<path d="M668.9 373.8l.8-10.4.8 17.4.8-8.7.8 14.8.8-9.9.8-5.1.8-2.4.8 5.1.8-7.8.8 4.3.8-4.6.8 8 .8-10.4.8 3.2.8-3.6.8 10.4.8-18.6.8 16.6.8-6.1.8 5.5.8-3.5.8 7.1.8-10.5.8 8.2.8-19 .8 15.9.8-7.9.8 7.7.8-8.7.8 19.9.8-15.1.8 9.1.8-28.9.8 21.3.8-2.5.8 1.1.8-7.5.8 13.8.8-15.9.8 8.9.8-12.3.8 12.2.8-10.7.8 8.6.8-8.5.8 13.2.8-5.1.8 2.6.8-7.7.8 12.3.8-7.2.8 5.4.8-5.2.8 5 .8-3.6.8 5.3.8-12.5.8 16.3.8-9.6.8 6.8.8-9.4.8 4.5.8-4.4.8 5.5.8-7 .8 9.9.8-7.6.8 5.4.8-9.2.8 11.5.8-14.5.8 12.4.8-5.9.8 4.5.8-11.5.8 6.7.8-8.8.8 4.3.8-13.2.8 15.4.8-6.6.8 2.5.8-3.6.8 13.5.8-9.6.8 8.1.8-18.6.8 10.8.8-2.6.8.4.8-6.6.8 7.8.8-1.6.8 11.2.8-9.5.8 3.4.8-9 .8 12.1.8-13.9.8 9.1.8-3.8.8-12.4.8 16.2.8 10.2.8-6.2.8 10.9.8-18.4.8 19.1.8-15.2.8 21.6.8-15.3.8 2.1.8-7.3.8 9.6.8-5.3.8 8.2.8-10.8.8 9.5.8-4.5.8 6.9.8-6.1.8 5.2.8-11.4.8 9.8.8-6 .8 9.1.8-15.4.8 14.7.8-.6.8-2.3.8-8.1.8 3.7.8-1.5.8 9.7.8-13.1.8 8.1.8-1.2.8 1.5.8-7.6.8 8.1.8-5.2.8 7.2.8-6.6.8 6 .8-4.9.8 4.8.8-6.7.8 4.2.8-6.2.8 11.2.8-14 .8 7.6.8-.9.8 8.3.8-8.1.8 4.6.8-23.6.8 28.7.8-14.6.8 7.6.8-6.2.8 3.2.8-4 .8 4.9.8-5.5.8 5.6.8-1.1.8 4.9.8-5.7.8 7.2.8-3.5.8 6.9.8-4.9.8 9.1.8-8 .8 5.7.8-3.5.8 2.5.8-6.8.8 21.6.8-19.4.8 3.8.8-6.4.8 9.6.8-10.6.8 8 .8-4.3.8 6.6.8-15.8.8 13 .8-3.9.8 4.7.8-4.9.8 5.9.8-9 .8 7.2.8-4.4.8 1.7.8-3.9.8 4.4.8-5.9.8 13.1.8-17.2.8 14 .8-4.4.8-1.1.8-6.9.8 9.9.8-5.2.8 6.2.8-8.3.8 8.7.8-10.4.8 7.9.8-4.9.8 8.6.8-10.3.8 1.3.8-3.6.8 3.5.8-3 .8 8.7.8-8.7.8 3.5.8-5.5.8 5.8.8-7.1.8-.9.8-3.6.8 15.6.8-10.1.8 11.9.8 5.6.8-6.2.8-2.6.8 1 .8-14.7.8 12.2.8-6.9.8 9.3.8-5.1.8 3 .8-1.6.8 2.7.8-2.8.8 1.4.8-2.6.8 3.5.8-9.4.8 13.6.8-5.8.8 9.4.8-12.1.8 7.1.8-8.1.8 5.9.8-3 .8 4.5.8-5.4.8 5.4.8-1.7.8.9.8-7.1.8 3.6.8-4.5.8 10.8.8-8.7.8 3.8.8-6.5.8 2.8.8-2 .8 18.8.8-26.8.8 8.6.8-4.7.8 9.4.8-10.2.8 10.2.8-8.8.8 3.5.8 1 .8 5.3.8-2.6.8 1.8.8-5.1.8 9.2.8-5.1.8 5.4.8-8.5.8 9.2.8-9.3.8 8 .8-4.9.8 5.3.8-3.4.8 5.7.8-5.6.8 5 .8-5.2.8 4.7.8-5.4.8 10.5.8-5.3.8 4.1.8-6.8.8 9.9.8-11 .8 7.2.8-6.3.8 6.6.8-1.1.8 4.2.8-5.5.8 7.1.8-4.3.8 7.1.8-7.5.8 3.7.8-14.2.8 14.7.8-7.2.8 6.2.8-3.3.8 7.1.8-7.9.8 9.7.8-8.1.8 2.5.8-1.3.8 7.2.8-13.9.8 8.7.8 7.6.8-13.1.8-13.4.8-5.2.8 10.3.8 9.3.8 0 .8 4.6.8-4.4.8 4.7.8-5.2.8 8.5.8-11 .8 12.9.8-6.5.8 6.5.8-5.3.8 2.7.8-6.9.8 4.9.8-.1.8 14.1.8-12.4.8 7.1.8-4.7.8 5.5.8-2.1.8 8.6.8 1.7.8-3.2.8-7.3.8 14.6.8-11 .8 9.2.8-7.1.8-.2.8-11.1.8 12.3.8-8.8.8 12.4.8-12.9.8 3.5.8-8.2.8 12.7.8-25.5.8 24.7.8-6.6.8 4.5.8-29.3.8 29.1.8-4.8.8-1.8.8-7.5.8 9.6.8-9.4.8 9.3.8-5.8.8 6.5.8-20.3.8 39.6.8-35 .8 14.2.8-5 .8 5.6.8-4.5.8 8.4.8-5.5.8 4.5.8-12.1.8 20.9.8-11.9.8 5.7.8-13.7.8 6.7.8 16.2.8-17.1.8-6.6.8 13.5.8-11.7.8 3.9.8-5.5.8 9.7.8-8.1.8.2.8 0 .8 6.2.8-21.3.8 11 .8-9.9.8 19 .8-30.5.8 35.6.8-25 .8 21.4.8-20.7.8 5.6.8-7.7.8 7.6.8-19.9.8 15.5.8-12.9.8 16.2.8-20.8.8-5.4.8 9.6.8 15.5.8-3.2.8 6.7.8-8.5.8 8.5.8-8.8.8 6.9.8-2.2.8 17.2.8-16 .8 15.1.8-12.6.8 8.3.8-3.6.8 5 .8-4.7.8 4.3.8-7.3.8 9.4.8-2.7.8 4.8.8-5.3.8 12.9.8-11.7.8 10 .8-9 .8 5.9.8-7.1.8 6.4.8-1.7.8 6.9.8-13.8.8 8.2.8-7.4.8 10.8.8-7.1.8 6.9.8-6.4.8 19.5.8-18.5.8 1.5.8-3.5.8 4.2.8-5.7.8-.8.8-7 .8 12.7.8-3.9.8 1.8.8-6.3.8 13.7.8-12.7.8 4.6.8-10 .8 11.3.8-5.7.8 5.3.8-5.8.8 4.7.8-2 .8 9.2.8-14.8.8 6.5.8-6.4.8 6.3.8-20.2.8 19 .8-3.2.8 13.1.8-11.1.8-.1.8 2.7.8 5.9.8-4.7.8 1.9.8-6.6.8 5.3.8-9.7.8 9 .8-6.2.8 6.6.8-10.2.8 6.6.8-5.1.8-.8.8-5.2.8.2.8-6.7.8-10.2.8 12.5.8 20.7.8 14.9.8-4.8.8-12.5.8 7.2.8-12.6.8 2.7.8-8.5.8 6.1.8-14.8.8 14.5.8-9.7.8 6.6.8-3.4.8 11.6.8-18 .8 9.8.8-5.4.8 8.4.8-5.6.8 4.5.8-4.9.8 13.1.8-17.3.8 19.4.8-12.2.8 4.7.8-8.6.8 6.1.8-5.5.8 12.5.8-9.7.8.5.8-3.2.8 5.1.8-7.7.8 6.5.8-11.1.8 11" fill="none" stroke="#f01810" stroke-width="0.95" stroke-linejoin="bevel"/>
<line x1="766.8" y1="343.1" x2="766.8" y2="410.8" stroke="#ff4848" stroke-width="1.3" stroke-dasharray="9,4.3"/>
<line x1="974.2" y1="344.1" x2="974.2" y2="410.8" stroke="#0000ff" stroke-width="1.1" stroke-dasharray="1.6,3.4"/>
<line x1="982.2" y1="343.1" x2="982.2" y2="410.8" stroke="#ff0000" stroke-width="1.3" stroke-dasharray="9,4.3"/>
<line x1="1090" y1="343.1" x2="1090" y2="410.8" stroke="#00c000" stroke-width="1.2" stroke-dasharray="9,4.3"/>
<line x1="1089.4" y1="343.1" x2="1089.4" y2="410.8" stroke="#ff00ff" stroke-width="1.0" stroke-dasharray="1.6,2.4"/>
<line x1="1092.1" y1="343.1" x2="1092.1" y2="410.8" stroke="#ff00ff" stroke-width="1.0" stroke-dasharray="1.6,2.4"/>
<line x1="668.6" y1="374.6" x2="1122.2" y2="374.6" stroke="#333" stroke-width="1.4" stroke-dasharray="4.2,2.5"/>
<line x1="674" y1="342.5" x2="692" y2="342.5" stroke="#2020ff" stroke-width="1.0"/>
<text x="695.5" y="346" font-size="9.0" text-anchor="start" fill="#2020ff" font-weight="normal" >E<tspan font-size="6" dy="2.5">L</tspan></text>
<line x1="674" y1="353.5" x2="692" y2="353.5" stroke="#30e030" stroke-width="1.0"/>
<text x="695.5" y="356.2" font-size="9.0" text-anchor="start" fill="#30e030" font-weight="normal" >E<tspan font-size="6" dy="2.5">M</tspan></text>
<line x1="674" y1="363.5" x2="692" y2="363.5" stroke="#ff3030" stroke-width="1.0"/>
<text x="695.5" y="366.2" font-size="9.0" text-anchor="start" fill="#ff3030" font-weight="normal" >E<tspan font-size="6" dy="2.5">N</tspan></text>
<rect x="668.5" y="337.5" width="454" height="73" fill="none" stroke="#000" stroke-width="1.2"/>
<path d="M678.5 337.5v4M707.5 337.5v8M735.5 337.5v4M764.5 337.5v4M792.5 337.5v4M821.5 337.5v8M849.5 337.5v4M878.5 337.5v4M906.5 337.5v4M935.5 337.5v8M963.5 337.5v4M992.5 337.5v4M1020.5 337.5v4M1049.5 337.5v8M1077.5 337.5v4M1106.5 337.5v4" stroke="#000" stroke-width="1" fill="none"/>
<path d="M678.5 410.5v-4M707.5 410.5v-8M735.5 410.5v-4M764.5 410.5v-4M792.5 410.5v-4M821.5 410.5v-8M849.5 410.5v-4M878.5 410.5v-4M906.5 410.5v-4M935.5 410.5v-8M963.5 410.5v-4M992.5 410.5v-4M1020.5 410.5v-4M1049.5 410.5v-8M1077.5 410.5v-4M1106.5 410.5v-4" stroke="#000" stroke-width="1" fill="none"/>
<path d="M668.5 409.5h6M668.5 392.5h6M668.5 374.5h6M668.5 357.5h6M668.5 339.5h6M668.5 406.5h3M668.5 402.5h3M668.5 399.5h3M668.5 395.5h3M668.5 388.5h3M668.5 385.5h3M668.5 381.5h3M668.5 378.5h3M668.5 371.5h3M668.5 367.5h3M668.5 364.5h3M668.5 360.5h3M668.5 353.5h3M668.5 350.5h3M668.5 346.5h3M668.5 343.5h3" stroke="#000" stroke-width="1" fill="none"/>
<path d="M1122.5 409.5h-6M1122.5 392.5h-6M1122.5 374.5h-6M1122.5 357.5h-6M1122.5 339.5h-6M1122.5 406.5h-3M1122.5 402.5h-3M1122.5 399.5h-3M1122.5 395.5h-3M1122.5 388.5h-3M1122.5 385.5h-3M1122.5 381.5h-3M1122.5 378.5h-3M1122.5 371.5h-3M1122.5 367.5h-3M1122.5 364.5h-3M1122.5 360.5h-3M1122.5 353.5h-3M1122.5 350.5h-3M1122.5 346.5h-3M1122.5 343.5h-3" stroke="#000" stroke-width="1" fill="none"/>
<text x="665.3" y="344.6" font-size="10.8" text-anchor="end" fill="#000" font-weight="normal" >20</text>
<text x="665.3" y="361.1" font-size="10.8" text-anchor="end" fill="#000" font-weight="normal" >10</text>
<text x="665.3" y="378.6" font-size="10.8" text-anchor="end" fill="#000" font-weight="normal" >0</text>
<text x="665.3" y="396.1" font-size="10.8" text-anchor="end" fill="#000" font-weight="normal" >-10</text>
<text x="665.3" y="412.6" font-size="10.8" text-anchor="end" fill="#000" font-weight="normal" >-20</text>
<text x="641.5" y="374" font-size="11" text-anchor="middle" fill="#000" font-weight="normal" transform="rotate(-90 641.5 374)" >E<tspan font-size="9.3" dy="3">LMN</tspan><tspan dy="-3">&#160; [mV m</tspan><tspan font-size="8.5" dy="-4">-1</tspan><tspan dy="4">]</tspan></text>
<path d="M668.9 454.3l.8-11.7.8 6.9.8-8 .8 14.6.8-7.6.8 5.8.8-11.9.8 4.6.8-4.4.8 11.4.8-17.2.8 15 .8-10.2.8-2.8.8-2.8.8 15.6.8-14.9.8 7.6.8-3.2.8 3.1.8-6.5.8 11.5.8-10.9.8 4.3.8-2 .8 4.5.8-6.3.8 6.9.8-30.7.8 30.6.8-12.1.8 10.6.8-8.5.8 3 .8-3 .8 11 .8-4.6.8 10.5.8-16.8.8 6 .8-9.5.8 16.1.8-16.9.8 4.6.8-24.2.8 15.9.8-5.1.8 10.3.8-4.2.8 6.1.8-3.4.8 9.8.8.3.8 7.3.8-3.1.8 6.5.8-6.4.8 3.4.8-10.4.8 5.7.8-6.8.8 6.4.8-10 .8 9.3.8-11.3.8 7 .8-7.3.8 7.3.8-8.9.8 15 .8-14.2.8 8.3.8-11 .8 9.7.8-11.9.8 15.1.8-12.2.8 6.7.8-3.4.8 2.2.8-7.1.8 8.4.8-13.8.8 18 .8-15.1.8 13.5.8-10.2.8 5.7.8-7.4.8 11.3.8-8.7.8 6.9.8-5.9.8 11.4.8-11.4.8 5.3.8-7.1.8 10.8.8-15.1.8 10.8.8-10.9.8-11.9.8 17.6.8 9.4.8-11.1.8 14.5.8-9.1.8 14.5.8-10.8.8 5.2.8-4.6.8 21 .8-18.6.8 3.9.8-14.6.8 13.9.8-5.2.8 13.6.8-14.1.8-.1.8-6.8.8 11.7.8-7.6.8 5.5.8-2.5.8 8.4.8-17.5.8 10 .8-9.3.8 5.8.8-6.3.8 17 .8-13.6.8 10.7.8-9.4.8 8.3.8-12 .8 15.7.8-8.1.8 7.4.8-13.9.8 17.5.8-14.6.8 7.4.8-4.6.8 3.6.8-12.1.8 9.7.8-11.1.8 9.8.8-3.6.8 7.2.8-10.5.8 20.2.8-21.1.8 18.2.8-7.9.8 4.2.8-5.3.8 2.3.8-7.1.8 7 .8-1.4.8 2.5.8-2.7.8 7.5.8-3.5.8 10.2.8-8.1.8 3.2.8-13 .8 13.8.8-21.3.8 17.8.8-5.8.8 13.3.8-10 .8 5.7.8-8.1.8 6.4.8-7.5.8 6.6.8-7.7.8 7.8.8-6.6.8 7.7.8-7.1.8 8.9.8-10.1.8 3.3.8-9.1.8 20.8.8-12.2.8 2.9.8-8.1.8 20.2.8-17.4.8 6.5.8-6.4.8 7.6.8-7.1.8 11.1.8-8.6.8-.2.8-5.4.8 2 .8-4.2.8 7.7.8-4.9.8 9.7.8-9.1.8 8.3.8-7.5.8 7.3.8-9.3.8 7.3.8-5.6.8 5.8.8-4.1.8 4.4.8-3.5.8 1.5.8-10.5.8 5.4.8-8.3.8 12.6.8-7.4.8 7.5.8-12.9.8 8.2.8-7.6.8 11.5.8-5.7.8 4.9.8-4.1.8 14.5.8-16.2.8 4 .8-2.9.8 6.3.8-3.7.8 5 .8-10.9.8 14.1.8-3.6.8 3.5.8-7.1.8 8.5.8-11 .8 10.2.8-9.3.8 11.7.8-8.4.8 11.9.8-18.6.8 15.2.8-10.3.8 2.7.8-12.4.8 14.1.8-7.5.8 8 .8-7.5.8 8.6.8-4.6.8 4.1.8-3 .8.8.8-5.3.8 6.9.8-5.8.8 2 .8-6.2.8 2 .8-3.4.8 8.6.8-3 .8 4.6.8-9.2.8 11.5.8-13 .8 5.6.8 1.5.8 6.8.8-5.1.8 3.5.8-4.9.8 3.4.8-4.1.8 8.7.8-7 .8 20.9.8-17.5.8 5.6.8-5.9.8 6.2.8-4.6.8 13.1.8-12.6.8 13.5.8-14 .8 6.5.8-1.1.8 6.3.8-6.4.8 7.5.8-16.7.8 15.3.8-10.4.8 13.2.8-11.2.8 3.4.8-6.1.8 7.4.8-2.4.8 6.2.8-9.7.8 17.2.8-12.4.8 3.3.8-18.1.8 20.5.8-10.7.8 7.2.8-4.9.8 13.7.8-10.6.8 4.2.8-8.9.8 6.7.8-5 .8 5.4.8-.8.8-2 .8-19.3.8-3.8.8 15.4.8 11.1.8-10 .8 2.2.8-.7.8 9.9.8-8.7.8 7.3.8-6.6.8 9.5.8-7.1.8 3.7.8-6.1.8 10.1.8-6.2.8 8.1.8-10.5.8 11.3.8-6 .8 12.9.8-5.5.8 17.5.8-20.2.8 12.6.8-6.9.8 6.5.8-5.4.8 10.6.8-9.5.8 11.6.8-30.4.8 14.7.8-7.7.8 5.8.8-7.4.8 11.9.8-11.1.8 9.7.8-8.3.8 6.6.8-5.2.8 4.2.8-14.7.8 11.8.8-.7.8 9.4.8-9.3.8-.8.8-9.3.8 12.8.8-13.1.8 19.4.8-15.9.8 10.3.8-11.3.8 4.2.8-2.1.8 2.6.8-10.4.8 6.4.8.3.8 2.4.8-15.1.8 13.4.8-7.3.8 8.9.8-8.8.8 8.4.8-6.6.8 10.1.8-5.2.8 3.2.8-14.7.8 11.6.8-10.6.8 5.5.8-2.8.8 20 .8-20.6.8 8.7.8-11.6.8 7.6.8-3.7.8 3.4.8-5.6.8 10.7.8-10.3.8 8.4.8-10.7.8 12.6.8-11.3.8 6 .8-5.2.8 1.6.8-3.3.8 4.3.8-14.7.8 13.7.8-13 .8-9.2.8 11.6.8 6.8.8-5.4.8 6.8.8-8.1.8 7.5.8-6.3.8 8.4.8-4.8.8 12.5.8-7.5.8 4.6.8-11.4.8 15.9.8-6.2.8 13.4.8-7.6.8 11.6.8-12.3.8 8.6.8-10.7.8 8.6.8-3.4.8 1.1.8-6.5.8 12.2.8-8.3.8 7 .8-6.1.8 3.5.8-4.2.8 7.8.8-8.8.8 10.5.8-8.2.8 8.5.8-6.5.8 13.9.8-10.9.8 4.4.8-11.2.8 14 .8-5.4.8 12.1.8-15.3.8.3.8-9.5.8 12.3.8-9.2.8 6.3.8-5.2.8 4.7.8-10.1.8 24.6.8-21.5.8 7.5.8-8.4.8 9.2.8-4.7.8 1.2.8-9.7.8 12.4.8-6.7.8 7.8.8-7.1.8 6.6.8-2.3.8.9.8-2.7.8 7 .8-4.7.8 11.1.8-11.1.8 8.4.8-10.8.8 10.1.8-9.9.8 6.7.8-14.7.8 5.6.8-9.5.8 8.1.8-5.7.8 4.1.8-7.5.8 6.6.8-6.1.8 11.7.8-12.1.8 5.9.8-2.9.8 10.5.8-2.9.8 7.5.8-11.7.8 11.3.8-12.3.8 6.1.8-2.8.8 1.3.8-1.8.8-4.9.8-9.1.8 9 .8-6.5.8 10.2.8-3.9.8 6.4.8-14.4.8 8.2.8-6 .8 10.2.8-3.7.8 1.6.8-4.8.8 3.1.8-5.5.8 10.7.8-4.8.8 7.7.8-8.1.8 10.4.8-9.1.8 11.4.8-11.7.8 5.2.8-14.4.8 12.6.8-2.2.8 2.7" fill="none" stroke="#111" stroke-width="0.95" stroke-linejoin="bevel"/>
<path d="M668.9 447.5l.8-.1.8 5.6.8-7.3.8 14.6.8-3 .8 1.3.8-14.6.8 4.7.8-8.6.8 8.5.8-17.3.8 18.8.8-6.2.8 7.3.8-10.3.8 12.4.8-8.5.8 2.4.8-16 .8 16.1.8-15.7.8 5.8.8 4.3.8 5.3.8-4 .8 3.2.8-5.6.8 6.3.8-16.6.8 15.9.8-9.2.8 1 .8-3.5.8 3.8.8-7.6.8 15.6.8-28.5.8 26.2.8-18.8.8 12.4.8-7.8.8 9.6.8-10 .8 9.3.8-9.3.8 6.5.8-12.9.8 33.2.8-29.4.8 19.8.8-19.9.8 14 .8-2.6.8 3.2.8 8.6.8 6.1.8-14.2.8-1.7.8-12.6.8 17.7.8-8.5.8 11.1.8-13.2.8 17.7.8-16.8.8 4.6.8-5.3.8 3.4.8-7.9.8 3.9.8-5 .8 10.7.8-18.8.8 12.3.8-3.5.8 6.5.8-11.1.8 7 .8-6 .8 13.9.8-12.4.8 5.4.8-8 .8 11.9.8-8.1.8 7.7.8-8.2.8 7.9.8-14 .8 11.8.8-11.4.8 14.2.8-6.1.8 5.4.8-10.9.8 11.5.8-6.9.8.7.8-6.7.8 6.5.8-10.7.8-1.8.8 9.2.8 11.5.8-8.6.8 13.5.8-9.3.8 10.3.8-16.4.8 15.7.8-7 .8 8 .8-12.4.8 6 .8-7.9.8 8.8.8-6 .8 5.8.8-10.9.8 18.9.8-12.3.8 14.3.8-13.1.8 7 .8-9.5.8 4.7.8-12.9.8 17.6.8-10.4.8 15.8.8-16.8.8 8.4.8-5.4.8 15 .8-15.3.8 5.1.8-8.8.8 9 .8-7.3.8 4.8.8-7.4.8 7.2.8-6.5.8 22.9.8-21 .8 6 .8-4.5.8 13.2.8-15.3.8-2.7.8-7.7.8 17.6.8-9.1.8 12.6.8-10.7.8 4.7.8-2.5.8 6.2.8-5.2.8 5.9.8-6.6.8 7.8.8-4.7.8 4.4.8-2.3.8 12.8.8-16.7.8 12.5.8-9.7.8 11.7.8-8.8.8 23.8.8-22.6.8 3.1.8 1.1.8 6 .8-5.1.8 2.6.8-5.5.8 1.5.8-3.9.8 4.7.8-3.1.8 3.8.8-16 .8 11.9.8-1.6.8 5.5.8-7.9.8 7.8.8-6.9.8 7.2.8-20.1.8 11.7.8-.1.8 15.8.8-12.4.8 2.5.8-6.1.8 8.5.8-20.1.8 14.2.8-10 .8 11.5.8-3.4.8 5.9.8-2.5.8 16 .8-20.3.8 7.5.8-13.7.8 17.4.8-11.6.8 7.4.8-10.2.8 7.6.8-4.8.8 3.4.8-7 .8 12.1.8-11.5.8 11.1.8-7.1.8 25.6.8-26.1.8 2.2.8-8.5.8 8.1.8-6.4.8 4.5.8-9.7.8 26 .8 4.3.8-13.7.8-7.6.8 5.2.8-7.3.8 5.8.8-5.2.8 5.4.8-2 .8 2.4.8-3.1.8 5 .8-5 .8 2.7.8-3 .8 2.1.8-.5.8-.2.8-6.1.8 8.7.8-7.4.8 10.7.8-6.9.8 12.7.8-10.3.8 9 .8-11 .8 7.7.8-8.4.8 13 .8-9.3.8 5.3.8-13.3.8 8.2.8-5.7.8 1.4.8-2.4.8 3.3.8-9.9.8 9.1.8-15 .8 11.8.8-6.3.8 15.2.8-12.3.8 9.4.8-9.4.8 15.5.8-11.8.8 10.4.8-7.9.8 17.4.8-17 .8 5.4.8-4.2.8 9.4.8-11.2.8 11 .8-8.3.8 12.1.8-5.7.8 0 .8-13 .8 11.3.8-2.4.8 7.2.8-2 .8 4 .8-5.4.8 2.9.8-1.5.8 3.7.8-1.6.8 8.1.8-14.2.8 11.4.8-15.6.8 21.6.8-14.9.8 9.1.8-9.6.8 4.6.8-6 .8 15.1.8-14.6.8 14.5.8-6.9.8 3.3.8-11.2.8 7.3.8-2.9.8 4.9.8-7.1.8 6.8.8-7.2.8 9.7.8-12.3.8 12.5.8-17.3.8 15.9.8-10.5.8 13.7.8-21 .8-5.1.8 9.2.8 20.1.8-16.9.8 11.9.8-2.1.8 10.8.8-13.7.8 2.7.8-1.4.8 7 .8-7.7.8 9.2.8-7.2.8 9.2.8-8.5.8 6.8.8-3.7.8 8.5.8-7.9.8 7.8.8-9.2.8 5.4.8-5.3.8 12.3.8-.3.8 5.3.8-8.6.8 6.4.8-9.3.8 15.2.8-10.1.8 3.1.8-11.8.8 6.5.8-10.5.8 9.1.8-8 .8 7.4.8-8.2.8 6.6.8-6.6.8 5.2.8-4.1.8 9.3.8-9.9.8 6.2.8-7.1.8 3.7.8-7.9.8 10.1.8-10.7.8 13.3.8-15.1.8 4.3.8-12.7.8 13.9.8-10.4.8 21.1.8-19.9.8 5.4.8-4.5.8 33.4.8-40.4.8 14.4.8-3.9.8 9.7.8-13.4.8 9.6.8-12 .8 11.4.8-8.2.8 6.8.8-6.3.8 10.2.8-8.6.8-.3.8-7.2.8 2.9.8-2.4.8 12.5.8-12.7.8 7.4.8-6.5.8 6.7.8-5.7.8 6.1.8-8.1.8 7.6.8-8 .8 8.9.8-13.1.8 5.7.8-5.5.8 16.4.8-12.5.8-.8.8-5.6.8 7.4.8-13.7.8 2.3.8-1.2.8 8.1.8-13.3.8 14.2.8-3.4.8 5.8.8-4.3.8 5 .8-1.6.8 5.2.8.9.8 4.6.8-10.5.8 8.9.8.4.8 8.5.8-7.5.8 7.1.8-25.7.8 21.6.8-6.5.8 12 .8-7.9.8 14.9.8-10.7.8 2.8.8-23.8.8 30.1.8-11.9.8 7.6.8-5.9.8 14.8.8-10.6.8 3.9.8-7.3.8 12.2.8-12.3.8 6.7.8-5.6.8 10.3.8-10.6.8 12.1.8-12.4.8 9.7.8-4.8.8 1.5.8-3.6.8 11.2.8-12.2.8 8.7.8-12.9.8 3.8.8-5.3.8 11.1.8-7.9.8 6.6.8-4.2.8 1 .8-7.9.8 6.8.8-4.2.8 4.8.8-6.2.8 22.6.8-20.3.8 9.2.8-14 .8 17.2.8-17.5.8 19.6.8-15.6.8 12.9.8-5.5.8 9.2.8-13.8.8 4.4.8-5.8.8 3.1.8-9.9.8 13.3.8-8.2.8.1.8-10.8.8 13.9.8-10.1.8 6.7.8-12.3.8 8 .8-10.5.8-11.3.8 17.5.8 21.3.8 8.4.8-5.8.8-16.1.8 8.9.8-8.7.8 5 .8-11.1.8 9.6.8-10.2.8 4.8.8-8.8.8 3.4.8-2.6.8 3.8.8-4.6.8 3.9.8-5.6.8 9.1.8-6.4.8 7.5.8-11.8.8 4.4.8-2.5.8 10 .8-5.7.8 5.5.8-.9.8 2.2.8-7.1.8 4.6.8-3.2.8 11.2.8-9.7.8 3.6.8-10 .8 11.5.8-14.4.8 8" fill="none" stroke="#10e010" stroke-width="0.95" stroke-linejoin="bevel"/>
<line x1="766.8" y1="416.8" x2="766.8" y2="485" stroke="#ff4848" stroke-width="1.3" stroke-dasharray="9,4.3"/>
<line x1="974.2" y1="417.8" x2="974.2" y2="485" stroke="#0000ff" stroke-width="1.1" stroke-dasharray="1.6,3.4"/>
<line x1="982.2" y1="416.8" x2="982.2" y2="485" stroke="#ff0000" stroke-width="1.3" stroke-dasharray="9,4.3"/>
<line x1="1090" y1="416.8" x2="1090" y2="485" stroke="#00c000" stroke-width="1.2" stroke-dasharray="9,4.3"/>
<line x1="1089.4" y1="416.8" x2="1089.4" y2="485" stroke="#ff00ff" stroke-width="1.0" stroke-dasharray="1.6,2.4"/>
<line x1="1092.1" y1="416.8" x2="1092.1" y2="485" stroke="#ff00ff" stroke-width="1.0" stroke-dasharray="1.6,2.4"/>
<line x1="668.6" y1="448" x2="1122.2" y2="448" stroke="#333" stroke-width="1.4" stroke-dasharray="4.2,2.5"/>
<line x1="674" y1="417.5" x2="692" y2="417.5" stroke="#333" stroke-width="1.0"/>
<text x="693" y="420.5" font-size="9.0" text-anchor="start" fill="#222" font-weight="normal" >-(VexB)<tspan font-size="6" dy="2">M</tspan></text>
<line x1="674" y1="428.5" x2="692" y2="428.5" stroke="#30e030" stroke-width="1.0"/>
<text x="693.5" y="432" font-size="9.0" text-anchor="start" fill="#30e030" font-weight="normal" >E<tspan font-size="6" dy="2.5">M</tspan></text>
<rect x="668.5" y="410.5" width="454" height="75" fill="none" stroke="#000" stroke-width="1.2"/>
<path d="M678.5 410.5v4M707.5 410.5v8M735.5 410.5v4M764.5 410.5v4M792.5 410.5v4M821.5 410.5v8M849.5 410.5v4M878.5 410.5v4M906.5 410.5v4M935.5 410.5v8M963.5 410.5v4M992.5 410.5v4M1020.5 410.5v4M1049.5 410.5v8M1077.5 410.5v4M1106.5 410.5v4" stroke="#000" stroke-width="1" fill="none"/>
<path d="M678.5 485.5v-4M707.5 485.5v-8M735.5 485.5v-4M764.5 485.5v-4M792.5 485.5v-4M821.5 485.5v-8M849.5 485.5v-4M878.5 485.5v-4M906.5 485.5v-4M935.5 485.5v-8M963.5 485.5v-4M992.5 485.5v-4M1020.5 485.5v-4M1049.5 485.5v-8M1077.5 485.5v-4M1106.5 485.5v-4" stroke="#000" stroke-width="1" fill="none"/>
<path d="M668.5 472.5h6M668.5 448.5h6M668.5 423.5h6M668.5 482.5h3M668.5 477.5h3M668.5 467.5h3M668.5 462.5h3M668.5 457.5h3M668.5 452.5h3M668.5 443.5h3M668.5 438.5h3M668.5 433.5h3M668.5 428.5h3M668.5 418.5h3M668.5 413.5h3" stroke="#000" stroke-width="1" fill="none"/>
<path d="M1122.5 472.5h-6M1122.5 448.5h-6M1122.5 423.5h-6M1122.5 482.5h-3M1122.5 477.5h-3M1122.5 467.5h-3M1122.5 462.5h-3M1122.5 457.5h-3M1122.5 452.5h-3M1122.5 443.5h-3M1122.5 438.5h-3M1122.5 433.5h-3M1122.5 428.5h-3M1122.5 418.5h-3M1122.5 413.5h-3" stroke="#000" stroke-width="1" fill="none"/>
<text x="1125" y="427.5" font-size="10.8" text-anchor="start" fill="#000" font-weight="normal" >10</text>
<text x="1125" y="452" font-size="10.8" text-anchor="start" fill="#000" font-weight="normal" >0</text>
<text x="1125" y="476.5" font-size="10.8" text-anchor="start" fill="#000" font-weight="normal" >-10</text>
<text x="1156" y="448" font-size="11" text-anchor="middle" fill="#000" font-weight="normal" transform="rotate(-90 1156 448)" >E<tspan font-size="9.3" dy="3">M</tspan><tspan dy="-3"> [mW m</tspan><tspan font-size="8.5" dy="-4">-2</tspan><tspan dy="4">]</tspan></text>
<path d="M668.9 557.1l.8-14.8.8 11.4.8-5.9.8 9.3.8-10 .8 10 .8-12.1.8 7.2.8-7.2.8 12.1.8-7.9.8 6.8.8-2.6.8 3.7.8-19.7.8 16.3.8-12.6.8 7.7.8-6.5.8 4.5.8-3.7.8 14 .8-13.6.8 13.6.8-11.1.8 3.9.8-9.4.8 7.6.8-18.9.8 27.9.8-12.9.8 11.9.8-19.7.8 20.7.8-11 .8 3.9.8-8.2.8 13.5.8-11.8.8 10.7.8-9.2.8-24 .8 20.1.8 16 .8-8.3.8 3.4.8-26.1.8 31 .8-20.4.8 20.4.8-16.1.8 16.1.8-12.2.8 12.2.8-29.1.8 22 .8-2.6.8 9.7.8-21.3.8 18.8.8-10 .8 12.5.8-14.3.8 11.9.8-6.6.8 4.4.8-14.9.8 19.3.8-21.1.8-4.7.8 13.2.8 12.8.8-22.5.8 22.5.8-17.9.8 17.9.8-20.1.8-2.5.8-6.5.8 25.9.8-9.3.8 11.3.8-18.5.8 5 .8-16.6.8 31.3.8-17.4.8 17.2.8-31.2.8 31.4.8-10.5.8 10.5.8-16.4.8-3.3.8 3 .8 12.6.8-11 .8 15.1.8-13.6.8 9.2.8-24.4.8-17.3.8 17.6.8 23.5.8-23.2.8 28.2.8-20.9.8 20.9.8-12.8.8 10.5.8-15.4.8 17.1.8-8.2.8 8.8.8-6.5.8.1.8-4.8.8 2.2.8 1.6.8 3.9.8-17.1.8 20.6.8-13.4.8 5.9.8-8 .8 7 .8-5.3.8 9.3.8-16.1.8.8.8 2.1.8 17.7.8-14.1.8 9.4.8-4.1.8 8.8.8-13.7.8 8.8.8-9.7.8 14.6.8-11.2.8 11.2.8-9.5.8 3.3.8-13.9.8 20.1.8-9 .8-4.1.8-14.4.8 27.1.8-7.7.8 4.6.8-14.1.8 9.4.8-3.1.8 7.1.8-9.5.8-9.4.8-4.3.8 19 .8 2.1.8 1.3.8-16.8.8 14.6.8-13.8.8 21 .8-7.2.8 3.1.8-4.5.8 5.3.8-9.3.8-5.8.8 2.4.8 14 .8-7.4.8 9.4.8-8.7.8 6.9.8-5 .8 3.6.8-1.7.8 4.3.8-6.8.8-.5.8 1.8.8 4.5.8-7.8.8 7.4.8-9.6.8 11.6.8-18.9.8 15.4.8-5.8.8 9.3.8-7.2.8 7.2.8-8.6.8-2.7.8 6.6.8 4.7.8-11 .8 11 .8-16.6.8 15.1.8-4.8.8 6.3.8-5.6.8 3 .8-4.9.8 2.7.8-4.4.8 1.3.8-.4.8 4.5.8-5.9.8 4.5.8-6.1.8 11.3.8-5.2.8 5.2.8-14.2.8 14.2.8-10.1.8 6.8.8-3.3.8 6.6.8-19.2.8.4.8-.5.8 11.7.8-1.8.8 4.4.8-7.7.8 12.7.8-11.4.8 8.6.8-1.1.8 2.4.8-9.9.8 11.2.8-12.3.8 7.4.8-4.2.8 7.2.8-6.9.8 9 .8-16.5.8 12.2.8-4.8.8 5.6.8-8.8.8 12.3.8-6.3.8 6.3.8-5.3.8 5.3.8-9.3.8 1.8.8-2.1.8 6.5.8-4.2.8 5.9.8-5.6.8 6 .8-9.3.8 10.3.8-6.8.8 4.2.8-14.9.8 17.5.8-8 .8 4.6.8-28.9.8 29.7.8-10.2.8 8.6.8-4 .8 4.1.8-2.6.8 5.5.8-5.8.8 4.5.8-3.2.8 3.6.8-13.5.8 14.5.8-8.1.8 4.8.8-5.1.8 8 .8-5.8.8 3.1.8-4.4.8 6.6.8-5 .8 7 .8-10.1.8 10.1.8-6.3.8 4 .8-14.2.8 12.6.8-16.7.8 17.2.8-6.3.8 8.5.8-8.2.8 9.3.8-8 .8 8.1.8-6.5.8 4.5.8-6.7.8 4.7.8-5.5.8-5.4.8 3.9.8 8.6.8-13.4.8 11.3.8-1.6.8 3.7.8-4.8.8 7.2.8-5.9.8 5.9.8-7.9.8 4.2.8-2.8.8 6.5.8-9.9.8 9.9.8-10.4.8 10.4.8-8.7.8 5.6.8-8.4.8 9.7.8-7.9.8 9.7.8-5.2.8 4.8.8-6.7.8 7.1.8-6.2.8 6.1.8-6.6.8 6.7.8-20.7.8 20.4.8-5.2.8 4.5.8-14 .8 9.8.8-2.3.8 6.2.8-27.7.8 29 .8-14.1.8 11.8.8-8.6.8 4.9.8-1.2.8 7.2.8-15.3.8 15.3.8-13.5.8 10 .8-9.8.8 13.3.8-21.3.8 14.1.8-5.8.8 10 .8-7.1.8 10.1.8-8.2.8 6.4.8-21.6.8 18.8.8-5.1.8 7.7.8-4.9.8 6.9.8-11.9.8 11.1.8-21.5.8 16.3.8-30.3.8 34.5.8-20.9.8-.3.8-28.1.8 27.1.8 7.6.8 9.8.8-11.9.8 18 .8-18.6.8 13.7.8-5.9.8 11.3.8-11.3.8 8.2.8-14.5.8 17.6.8-20.2.8 20.2.8-38.8.8 37.8.8-15.8.8 16.8.8-6.8.8-2.7.8-5.6.8 9.4.8-5 .8 3.9.8-.9.8 1.4.8-5.9.8 11.7.8-16.3.8 16.8.8-13.3.8 12.4.8-15.4.8 16.3.8-19.9.8-13.3.8-2.5.8 35.7.8-5.1.8 5.1.8-12.4.8 9.7.8-10.3.8 11.3.8-37 .8 8.9.8 10.7.8-.3.8 5.7.8 13.7.8-7.8.8 6 .8-11.3.8 13.1.8-12.6.8 9.7.8-22 .8 15.5.8-5.1.8 9.3.8-25.5.8 30.7.8-10.5.8 5.6.8-11.1.8 13.8.8-7.6.8 7 .8-3.3.8-10.8.8 6.8.8 4.8.8-1.3.8 5.4.8-5.2.8 3.6.8-9.3.8-4.6.8-8.2.8 22.4.8-2.2.8 4.7.8-10.4.8 4.3.8-3.5.8 4 .8-5.7.8 6.6.8-22.8.8 25.2.8-18.7.8 20 .8-7.7.8 3.8.8-9.2.8 11.8.8-8.7.8-4 .8-10.6.8 20.5.8-2.3.8 7.4.8-9.8.8 9.8.8-10.3.8-1.4.8 3.2.8 5.1.8-4.3.8 6.4.8-11 .8 12.3.8-6 .8 4.4.8-4.5.8 4.5.8-6.8.8 2.6.8-6.3.8 12.1.8-14.4.8 14.4.8-12.1.8 10.6.8-5.6.8 5 .8-7.8.8 5.4.8-9 .8 13.5.8-28.7.8-17.5.8 6.2.8-23.3.8 14.1.8 31.8.8 5.5.8 11.9.8-11.3.8 6.5.8-4.1.8 7.7.8-12 .8 13.2.8-13.7.8 3.9.8 1.8.8 1.6.8-1.1.8 4.8.8-.9.8.9.8-8.5.8-14.1.8 11.3.8 14 .8-9.8.8 4.4.8-8.5.8 12.4.8-6.6.8 5 .8-5.3.8 4.9.8-16.4.8 13.4.8-2.5.8 8.1.8-6.8.8 7.7.8-9.4.8 9.4" fill="none" stroke="#111" stroke-width="1.0" stroke-linejoin="bevel"/>
<line x1="766.8" y1="491" x2="766.8" y2="558.3" stroke="#ff4848" stroke-width="1.3" stroke-dasharray="9,4.3"/>
<line x1="974.2" y1="492" x2="974.2" y2="558.3" stroke="#0000ff" stroke-width="1.1" stroke-dasharray="1.6,3.4"/>
<line x1="982.2" y1="491" x2="982.2" y2="558.3" stroke="#ff0000" stroke-width="1.3" stroke-dasharray="9,4.3"/>
<line x1="1090" y1="491" x2="1090" y2="558.3" stroke="#00c000" stroke-width="1.2" stroke-dasharray="9,4.3"/>
<line x1="1089.4" y1="491" x2="1089.4" y2="558.3" stroke="#ff00ff" stroke-width="1.0" stroke-dasharray="1.6,2.4"/>
<line x1="1092.1" y1="491" x2="1092.1" y2="558.3" stroke="#ff00ff" stroke-width="1.0" stroke-dasharray="1.6,2.4"/>
<line x1="674" y1="500.5" x2="692" y2="500.5" stroke="#333" stroke-width="1.0"/>
<text x="693.5" y="503.3" font-size="9.0" text-anchor="start" fill="#223" font-weight="normal" >|J|</text>
<rect x="668.5" y="485.5" width="454" height="73" fill="none" stroke="#000" stroke-width="1.2"/>
<path d="M678.5 485.5v4M707.5 485.5v8M735.5 485.5v4M764.5 485.5v4M792.5 485.5v4M821.5 485.5v8M849.5 485.5v4M878.5 485.5v4M906.5 485.5v4M935.5 485.5v8M963.5 485.5v4M992.5 485.5v4M1020.5 485.5v4M1049.5 485.5v8M1077.5 485.5v4M1106.5 485.5v4" stroke="#000" stroke-width="1" fill="none"/>
<path d="M678.5 558.5v-4M707.5 558.5v-8M735.5 558.5v-4M764.5 558.5v-4M792.5 558.5v-4M821.5 558.5v-8M849.5 558.5v-4M878.5 558.5v-4M906.5 558.5v-4M935.5 558.5v-8M963.5 558.5v-4M992.5 558.5v-4M1020.5 558.5v-4M1049.5 558.5v-8M1077.5 558.5v-4M1106.5 558.5v-4" stroke="#000" stroke-width="1" fill="none"/>
<path d="M668.5 558.5h6M668.5 543.5h6M668.5 528.5h6M668.5 513.5h6M668.5 499.5h6M668.5 555.5h3M668.5 552.5h3M668.5 549.5h3M668.5 546.5h3M668.5 540.5h3M668.5 537.5h3M668.5 534.5h3M668.5 531.5h3M668.5 525.5h3M668.5 522.5h3M668.5 519.5h3M668.5 516.5h3M668.5 511.5h3M668.5 508.5h3M668.5 505.5h3M668.5 502.5h3M668.5 496.5h3M668.5 493.5h3M668.5 490.5h3M668.5 487.5h3" stroke="#000" stroke-width="1" fill="none"/>
<path d="M1122.5 558.5h-6M1122.5 543.5h-6M1122.5 528.5h-6M1122.5 513.5h-6M1122.5 499.5h-6M1122.5 555.5h-3M1122.5 552.5h-3M1122.5 549.5h-3M1122.5 546.5h-3M1122.5 540.5h-3M1122.5 537.5h-3M1122.5 534.5h-3M1122.5 531.5h-3M1122.5 525.5h-3M1122.5 522.5h-3M1122.5 519.5h-3M1122.5 516.5h-3M1122.5 511.5h-3M1122.5 508.5h-3M1122.5 505.5h-3M1122.5 502.5h-3M1122.5 496.5h-3M1122.5 493.5h-3M1122.5 490.5h-3M1122.5 487.5h-3" stroke="#000" stroke-width="1" fill="none"/>
<text x="665.3" y="503.1" font-size="10.8" text-anchor="end" fill="#000" font-weight="normal" >0.4</text>
<text x="665.3" y="518" font-size="10.8" text-anchor="end" fill="#000" font-weight="normal" >0.3</text>
<text x="665.3" y="532.9" font-size="10.8" text-anchor="end" fill="#000" font-weight="normal" >0.2</text>
<text x="665.3" y="547.7" font-size="10.8" text-anchor="end" fill="#000" font-weight="normal" >0.1</text>
<text x="645.2" y="522" font-size="11" text-anchor="middle" fill="#000" font-weight="normal" transform="rotate(-90 645.2 522)" >|J| [&#181;A m<tspan font-size="8.5" dy="-4">-2</tspan><tspan dy="4">]</tspan></text>
<path d="M668.9 628.1l.8-32.7.8 32.3.8-25.1.8 2.2.8-11.3.8 11.9.8-12.1.8 7.7.8-17.1.8 15.7.8-7.2.8 7.4.8-12.3.8 14.7.8-9.1.8 13.3.8-4.8.8 1.1.8-6.6.8 5 .8-1.4.8 4.6.8-5.1.8 8.5.8-5.8.8 5.4.8-7.5.8 2.7.8-4.4.8 7.9.8-7.2.8 10.9.8-13.2.8 9.9.8-12.1.8 7.6.8-7 .8 11 .8-10.6.8 9.6.8-8.4.8 8.8.8-12.6.8 16.1.8-12 .8 5 .8-13.7.8 8.5.8 1.7.8 5.7.8-14.4.8 3.2.8-2.3.8 8.3.8-3.6.8 19.5.8-28.2.8 12.3.8-13.7.8 19 .8-13.4.8 4 .8-10.9.8 16 .8-19.9.8 21.5.8-9 .8 3.1.8-7.5.8 10 .8-6.5.8 13 .8-8.7.8 2.4.8-9.7.8 8.9.8-8.6.8-5.4.8-2.5.8 14.1.8-4.2.8 4.9.8-.9.8 2.1.8-6.9.8 3.3.8-7.9.8 24.9.8-16.4.8 1.4.8-1.2.8 1.5.8-4.2.8 9.9.8-7.8.8 2.6.8-4.4.8 8.2.8-9.2.8 2.9.8-8.5.8-5.1.8 7.6.8 13.8.8-7.5.8 3.3.8-6.9.8 3.6.8-3.8.8 6.3.8-4.4.8 7 .8-12.9.8 13.2.8-9.1.8 5.5.8-5.4.8 7.4.8-8.1.8 6.2.8-4.3.8 7.4.8-11.6.8 12.6.8-6.8.8 2.6.8-7.3.8 2.6.8-10.3.8 4.7.8 4.4.8 11.3.8-11.9.8 1.2.8-3.2.8 3.6.8-2.8.8 3.5.8-3.2.8 5.1.8-9 .8 8.3.8-5.3.8 5.4.8-1.6.8 9.9.8-11.9.8 9.5.8-9.8.8 9.5.8-10.6.8 8 .8-1.3.8.7.8 1.6.8 7.7.8-19.7.8.6.8-1.8.8 7.8.8-10.3.8 16.6.8-3.7.8 4.4.8-8.9.8 8 .8-8 .8 8.9.8-15.9.8 10.2.8-5.1.8 6.3.8-3 .8 7.6.8-6.7.8 6.9.8-6.7.8 9.4.8-10.7.8 8 .8-7.9.8 6.2.8-4.9.8 6.9.8-3.3.8 4.4.8-2.6.8.1.8-5.1.8 4.8.8-6.9.8 6.1.8-7.7.8 7.9.8-3.6.8 3.3.8-4.4.8 3 .8-2.1.8 1.8.8-3.2.8 4.6.8-4.4.8 4.5.8-5.2.8 9.4.8-13.6.8 11.5.8-6.5.8 4 .8-8 .8 6.3.8-6.8.8 8.8.8-2.9.8 3.7.8-5.7.8 5 .8-4.6.8 16.3.8-18.3.8 9.7.8-7.1.8 6 .8-4.6.8 2.5.8-1.3.8.5.8.6.8 2.9.8-6.7.8 4.5.8-4.2.8 13.9.8-14.6.8 7.3.8 1.8.8 1 .8-5.1.8 1.9.8-3.3.8 6.7.8-7 .8 9.1.8-9.4.8 6.8.8-3.2.8.3.8-8.6.8 8.1.8-9.1.8 11 .8-4.4.8 2.9.8-3.3.8 6.8.8-6.5.8 5 .8-7.2.8 4.6.8-2 .8 8 .8-10.7.8 3.6.8-5 .8 16.6.8-13.7.8 1.9.8-4.2.8 3.8.8-4.5.8 9 .8-8.8.8 9.4.8-7.7.8 2.1.8-3.1.8 2.4.8-.4.8 2.2.8-4.8.8 8.6.8-16.2.8 10.9.8-9.9.8 13.2.8-6.9.8 8.6.8-5.3.8 5.2.8-7.2.8 7.1.8-9.9.8 5.8.8-2.6.8 6.2.8-9.6.8 12.2.8-9.6.8 3.7.8-1.8.8 1.7.8-4.9.8 4.5.8-2.2.8 3.3.8-2 .8 1.7.8-6.6.8 8.5.8-6.5.8 6.8.8-6.8.8 4.8.8-5.2.8 5.6.8-9.7.8 5.4.8-3.4.8 4.4.8-8 .8 10.9.8-2.6.8.1.8-7.7.8 11.5.8-6.2.8 4.4.8-5.8.8 5.7.8-9.8.8 20.5.8-12.3.8 5.2.8-8.7.8 4.8.8-12.4.8 14.2.8-8.8.8 6.4.8-9.4.8 8.9.8-1.2.8 1.5.8-5.6.8 12.9.8-8.9.8 2 .8-9.7.8 19.5.8-19.1.8 6.3.8.9.8 11.5.8-13.5.8 10.7.8-10.2.8 4.3.8-10.9.8 10.1.8-11.1.8 7.8.8-4.3.8 3.5.8-5.4.8 9.9.8-8.8.8 9.4.8-6.2.8 5.3.8-8.9.8 6.3.8-2.8.8 5.7.8-9 .8 9.5.8-10.8.8 7.7.8-15.1.8 13.8.8-6 .8-.8.8-1.2.8 6.3.8-2.3.8 10.4.8-7.1.8 4.8.8-13 .8 7.3.8-4.3.8-1.5.8-13.5.8 16.4.8.8.8 10.9.8-12 .8 3.7.8-1.6.8 4.5.8-7.7.8 10.5.8-6.8.8 2.8.8-10.7.8 12.4.8-7.4.8 10.5.8-17.6.8 12.2.8-6.8.8 20.5.8-15.5.8 4.9.8-8.2.8 10.1.8-7.6.8 6 .8-5.4.8 11.9.8-22.8.8 11.1.8-4.9.8 6.9.8-4.5.8 6.4.8-13.7.8 16.7.8-12.6.8-5 .8-3.6.8 17 .8-5.1.8 10.7.8-7.3.8 4 .8-5.3.8 3.9.8 10.9.8 6.2.8-16.9.8-.9.8-10.2.8 10.6.8-6.7.8 5.2.8-7.3.8 11.4.8-10.5.8 6.4.8-3.8.8 14.7.8-14.4.8 7.6.8-5.7.8 8.9.8-9.4.8 11.6.8-14 .8 4.9.8 1.6.8 9 .8-14.2.8 11.1.8-7.9.8 2.4.8-6.5.8 15 .8-15 .8 5.4.8-4.1.8 13.3.8 4 .8-9.6.8-9.8.8 4.2.8-3.3.8 9.4.8-9.1.8 4.3.8-3.8.8 8.3.8-3.1.8 2 .8-8.3.8 6 .8-8.3.8 21.4.8-16.8.8 14.1.8-9.6.8 2.5.8-9.3.8 8.4.8-4.7.8 21.2.8-24.4.8 3.7.8-3.7.8 9.2.8-6.9.8-.1.8-6.3.8 14 .8-5.8.8 3.1.8-5.3.8 5.6.8-8.4.8 10.6.8-10.2.8 5.6.8-4 .8 11.7.8-15.9.8 10.9.8-10.1.8 12.2.8-10.3.8 23.5.8-20.1.8 3.2.8-7.5.8 6.6.8-10.6.8 12.1.8-17.9.8-12.5.8 4.5.8 23.4.8-3.2.8 12.1.8-10.8.8 6.8.8-8.6.8 5.2.8-6.1.8 4.9.8-6.4.8 6.5.8-3.3.8 2.7.8-7.6.8 6.6.8-2.7.8 9.1.8-6.1.8 6.3.8-11 .8 7.4.8-6.2.8 5.8.8-4.2.8 6.9.8-18.4.8 14.9.8-2 .8 4.6.8-6.5.8 5.5.8-7.5.8 2.4.8-5.5.8 6.5.8-2.1.8 4.5" fill="none" stroke="#30ee30" stroke-width="0.95" stroke-linejoin="bevel"/>
<path d="M668.9 601.6l.8-17.1.8 14.8.8-9.1.8 11.2.8-4.4.8 5.2.8-4.3.8 4.7.8-5.9.8 4.3.8-6.6.8 7.2.8-3.6.8 12.6.8-15.3.8 5 .8-2 .8 1.1.8-6.2.8 9.7.8-7.3.8 7 .8-11.9.8 7.2.8-5.1.8 7.4.8-6.5.8 12.7.8-16.8.8 9.6.8-9.8.8 9.2.8-11.5.8 16.9.8-4.5.8 10.2.8-10 .8 7.4.8-10.7.8 1 .8-7.7.8 9.8.8-3.1.8 3.9.8-10.4.8 9.4.8-6.7.8 9.5.8-8.4.8 8.7.8-5.1.8 10.3.8-8.7.8 6.9.8-24.8.8 20.6.8-8.2.8 29.2.8-32 .8 15.2.8-14.5.8 11.9.8-11.1.8 9.1.8-3.2.8 7.5.8-13.7.8 9.6.8-4.5.8 8.9.8-4.1.8 1.4.8-4.3.8 3 .8-5.5.8 5.4.8-4.7.8 18.7.8-15.2.8 2.7.8-9.8.8 11.8.8-5.9.8 10.5.8-8.7.8-.6.8-9.8.8 18.7.8-6.7.8 7.2.8-11.2.8 9.2.8-13.2.8 8.6.8-5.4.8 4.1.8-5.1.8 3.4.8-3.1.8.3.8-2 .8 23.5.8-15.6.8 1.9.8-8.3.8 5.9.8-6.7.8 8 .8-8 .8 3.3.8-3.5.8 11.4.8-3.6.8 5 .8-9.2.8 4.3.8-7.9.8 8.6.8-10.1.8 9 .8-3.5.8 7.8.8-11 .8 12 .8-9.1.8 4.8.8-7.4.8 4.2.8-7.7.8 8.9.8-9.2.8 10.7.8-5.8.8 3.3.8-7.5.8 8.7.8-2.1.8.9.8-3.6.8 4 .8-.1.8 6.1.8-5.5.8 4.1.8-9.8.8 3.2.8-3.1.8 4.2.8-1.2.8 3.6.8-6.4.8 6.5.8-1 .8.3.8-6.8.8 8.7.8-8.9.8 10.3.8-7.5.8 11.1.8-6.4.8 2.9.8-11.9.8 12 .8-5.5.8 6.3.8-5.7.8 3.2.8-5.1.8 4.8.8-5.1.8 13.9.8-13.8.8 9.6.8-13.2.8 6.4.8-7.1.8 8.9.8-10 .8 12.8.8-9.6.8 5.4.8-8.5.8 6.4.8-5.6.8 7.4.8-13.4.8 12.6.8-4.3.8 4.1.8-6.2.8 8.5.8-8.4.8 9.9.8-7.9.8 3.7.8-4.8.8 4.9.8-5.2.8 4.9.8-7.3.8 10.7.8-5.9.8 4.6.8-2.8.8 3.4.8-4.8.8 4 .8-1.7.8 6.1.8-9.4.8 5.9.8-5.2.8 8.3.8-9.3.8 4.7.8-6.6.8 6.7.8-2.5.8 1.9.8 0 .8 3.5.8-5.3.8 1.5.8-5.8.8 4.8.8-1.2.8 3 .8-3.6.8 1.3.8-1.5.8 7.3.8-4.4.8-.1.8-4.8.8 17.8.8-20.3.8 11.6.8-5.6.8 1.3.8-5 .8 8.6.8-10 .8 6 .8-6.1.8 10.1.8-10.1.8 11.2.8-6.9.8 7.7.8-5.8.8 4.4.8-6.9.8 4.1.8-6.8.8 4 .8-5.6.8 8.9.8-6.3.8 7.3.8-8.5.8 6.4.8-6.2.8 6.4.8-5.8.8 6.2.8-7.1.8 5.7.8-9.8.8 11 .8-10.8.8 8.5.8-2.6.8 6.1.8-4.8.8 8 .8-9.6.8 4.2.8-9.1.8 7 .8-5.1.8 8.2.8-5.2.8 7.6.8-5.7.8 6.3.8-3.8.8 4.3.8-9.4.8 7 .8-7.9.8 3.5.8-1.5.8 9.4.8-9.5.8 6.1.8-3.7.8 5.7.8-7.6.8 6 .8-7.6.8 5.5.8-4.5.8 7.9.8-8 .8 6.6.8-6.2.8 11 .8-9.9.8 5.2.8-9.6.8 4.2.8-3.2.8 8.5.8-7.3.8 7.9.8-6.5.8 6.2.8-4.9.8 3.3.8-9.3.8 8.5.8-7.5.8 17.2.8-11 .8 6.8.8-7.1.8 3.6.8-6.1.8 9.8.8-9.7.8 6.8.8-9.7.8 19.2.8-16.8.8 3.7.8-3.9.8 6.5.8-14.3.8 12.3.8-3.7.8 3.6.8-18.1.8 19.7.8-6.4.8 9.9.8-11 .8 6 .8-9.3.8 13.5.8-17.3.8 17.1.8-9.1.8 7.7.8-8.7.8 12.2.8-7.8.8 6.2.8-8.6.8 4.5.8-3.1.8 2.9.8-4.1.8 6.1.8-2.8.8-1.3.8-5.9.8 7.2.8-2.1.8 10.6.8-8.7.8-.3.8-13.5.8 14.1.8-7.3.8 8.7.8-5.8.8 10.5.8-20.2.8 17.7.8-7.7.8 9.1.8-9.1.8 8.4.8-7.9.8 5 .8-1.8.8 3.8.8-7.5.8 6.7.8-7.6.8 5.7.8-10.4.8 11 .8-5.2.8 6.3.8-3.2.8 5 .8-7 .8 3.8.8-6.7.8 8.2.8-20.2.8 17.6.8-4.5.8 2.9.8-7.1.8 14.3.8-9.5.8 5.8.8-4.1.8 6.5.8-5.4.8 3.3.8-8.7.8 7 .8-7.5.8 4.3.8-.3.8 8.2.8-7.4.8 4.3.8 8.6.8-7.4.8-6 .8 4.5.8-9.1.8 7.9.8-6.6.8 12.7.8-12.7.8 6.5.8-5.5.8 11.5.8-7.9.8-3.2.8 2 .8 2.9.8-2.9.8 11.6.8-8.9.8 4.2.8-8.6.8 7.8.8-7.4.8 10.3.8-6.9.8 6.3.8-11.4.8 11.9.8-7.3.8 9.3.8-14.7.8 5.9.8-5.5.8 6.9.8-1.8.8 4.4.8-1.2.8.3.8-6.5.8 8.9.8-7.4.8 3.8.8-3.6.8 11.2.8-11.5.8 7.8.8-6 .8 3.8.8-20.7.8 33.9.8-24.2.8 10.5.8-4.7.8 5.7.8-9.2.8 7 .8-7.5.8 8 .8-4.3.8 5.5.8-7.5.8 4 .8-3.2.8 8 .8-9.5.8 6.4.8-4.1.8 9 .8-6.1.8 2.7.8-7.9.8 5.5.8-2.2.8 6.1.8-9.3.8 7.1.8-5 .8 4.7.8-.6.8 1.8.8-3.3.8 2.3.8-5.8.8 4.3.8-2.4.8 10.6.8-11.7.8 11.8.8-6.6.8-.6.8-1.4.8 3.4.8-4.1.8 4.6.8-7.7.8 8.1.8-5.1.8 5.5.8-6.7.8 10.5.8-11 .8 6.4.8-10.8.8 6.7.8-.7.8 5.5.8-7.1.8 1.7.8-3.7.8 2.5.8-4.5.8 13.6.8-21.3.8 15.3.8-6.9.8 14.4.8-13.4.8 3.5.8-2 .8 2.7.8-3.4.8 3.6.8-3.8.8 6.6.8-5.1.8 4 .8-5.1.8 7.8.8-10 .8 10.5.8-7 .8-1.7.8-2.3.8 9 .8-8.4.8 6.1.8-3.3.8 10.1.8-11 .8 17.4.8-13 .8 6.8.8-7 .8 3.7" fill="none" stroke="#1818ff" stroke-width="0.95" stroke-linejoin="bevel"/>
<path d="M668.9 603l.8-6.1.8 11.1.8-12.3.8 4.4.8-6.3.8 9.9.8-5.5.8 5.7.8-8.3.8 8 .8-14.7.8 12.3.8-6.4.8 7.8.8-4.8.8 6.4.8-9.3.8 7.3.8-10.6.8 8.5.8-10.4.8 14.3.8-10.4.8 6.8.8-2.7.8 4.5.8-3.2.8 5.4.8-6.2.8 4.9.8-7.1.8 3 .8-4 .8 6.1.8-10.8.8 13.6.8-7.1.8 7.2.8-5.4.8 2.5.8-8.7.8 6.5.8-4.8.8 10.7.8-11.8.8 15 .8-15.6.8 15.1.8-6.8.8 1.3.8-1.6.8 2.8.8-3.6.8 6.7.8-9.2.8 13.4.8-8.5.8 7.2.8-28.5.8 28.3.8-11.6.8-.1.8-6.6.8 14.7.8-6.6.8 11.2.8-14 .8 7.6.8-9.9.8 10.9.8-9.3.8 4.7.8-6.5.8 13.6.8-7.3.8 11.3.8-13.9.8 14.4.8-19.2.8 16.2.8-8.6.8 4.1.8-8.2.8 9.3.8-5.1.8 3.2.8-8.7.8 10.5.8-7 .8 8.7.8-5.6.8 8.8.8-4.4.8.3.8-6.3.8 4.6.8-5.6.8 6.2.8-12.7.8 15.9.8-8.6.8 21.1.8-16.9.8 4.9.8-9.2.8 3.6.8-10.5.8 8.5.8-2.2.8 12.2.8-11 .8 4.1.8-4.4.8 10.5.8-11.6.8 8.3.8-3.4.8-.3.8-5.6.8 5.6.8-2.5.8 7.9.8-11.3.8 7.1.8-2.6.8 5 .8-8.7.8 7.4.8-4.2.8 12 .8-7.1.8 6.8.8-9.2.8 4.2.8-5.8.8 7.5.8-10.1.8 2.8.8.3.8 3.9.8-3.8.8 10.7.8-16.5.8 8.6.8-6.4.8 7.3.8-4.2.8 5 .8-10.5.8 9.7.8-5 .8 2.7.8-8.6.8 8.3.8-3.5.8 1.6.8-4 .8 9.9.8-2.4.8 2.5.8-6.3.8.8.8-5 .8 9.2.8.3.8 3.7.8-7.7.8 7.3.8-13.9.8 17 .8-11.1.8 5.6.8-9.2.8 7.7.8-9.4.8 10.5.8-7.1.8 4.6.8-8.3.8 7.7.8-9.1.8 14.3.8-5 .8 1.2.8-7.8.8 12.6.8-10.7.8 10.6.8-14.6.8 8.2.8-3.9.8 6.4.8-3.6.8 2.6.8-3.9.8 4.2.8-7.9.8 4.1.8-3.2.8 5.3.8-1.6.8.8.8-4 .8 6.7.8-7 .8 2.6.8-1.3.8 3.2.8 5.3.8-2 .8-4.1.8 1.4.8-9.1.8 11.7.8-9 .8 6.7.8-5.2.8 8.3.8-10.1.8 8.5.8-9.1.8 5.7.8-4.7.8 6.2.8-11.4.8 6.1.8-2.9.8 9.6.8-2.5.8 2.4.8-21.9.8 18.5.8-5.2.8 9.2.8-7.6.8 1.7.8-3.7.8 4.4.8-3 .8 3.6.8-5 .8 2.9.8-5.7.8 9.3.8-6.7.8 4.7.8-4.3.8 3.6.8-4.6.8 7.4.8-5.3.8 5.6.8-9.3.8 9.2.8-3.4.8 5.2.8-7.6.8 7.3.8-5.6.8 3.8.8-1 .8 3.4.8-4.3.8.7.8-4.2.8 5.4.8-6.3.8 8.9.8-8.8.8 7 .8-3.9.8 8.5.8-15.4.8 17.7.8-10.7.8 8.7.8-10.1.8 4.7.8-6 .8 9.8.8-9.3.8 7.2.8-8.8.8 6.7.8-3.5.8 10.2.8-8.3.8 3.8.8-9.1.8 16.1.8-13.1.8 3.3.8-4.3.8 16.1.8-11.6.8 2.3.8-5.6.8 3.9.8-1.6.8 3.7.8-6.3.8 3 .8-3.9.8 2.9.8-4.1.8 9.9.8-9.8.8 8.8.8-8.8.8 6 .8-4.7.8 7.9.8-9.5.8 4.4.8-6.2.8 8.5.8-4.3.8 6.9.8-12 .8 6.1.8-2.5.8 5.7.8-12.9.8 16.7.8-6 .8 5 .8-5.3.8 2.5.8-5.4.8 2 .8-4.8.8 9.3.8-7 .8 7.8.8-6.5.8 6.3.8-2 .8 5.7.8-7.4.8 13.1.8-13.3.8 4.9.8-8.4.8 8.4.8-10.4.8 7.9.8-3 .8 11.1.8-11.9.8 13.1.8-12.4.8 2.1.8-4.6.8 3.5.8-2.6.8 5 .8-6.8.8 10.9.8-7.3.8 6.7.8-11.5.8 6.2.8.4.8-1.7.8-2.9.8 2.9.8-3.7.8 3.9.8.2.8 5.8.8-6.5.8 6.7.8-9.4.8 7.1.8-9.5.8 7.4.8-3.7.8 11.3.8-6.1.8-1.1.8-3.7.8 9.4.8-8.1.8 2.1.8-8.6.8 16.1.8-7.7.8 5 .8-9.2.8 4.1.8 5.9.8 11.9.8-12.5.8-3.6.8-3.4.8 5.7.8-3.3.8 1.7.8-10.1.8 12.9.8-9.5.8 2.5.8-.2.8 6.8.8-22.7.8 20.3.8-6.1.8 5.4.8-7.1.8 5 .8-3.3.8 4.2.8-5.6.8 7.7.8-4.9.8 7.6.8-8.9.8 11.4.8-5.6.8 6.4.8-11.5.8 3.3.8-7.7.8 8.2.8-3.3.8 6.5.8-5.7.8 4.9.8-1.6.8 5.5.8-6.5.8 5 .8-12.5.8 11.6.8-5.5.8 2.5.8-5.2.8 6.2.8-5.8.8 5.9.8-8.3.8 9 .8-6.2.8 4.6.8-7.5.8 5.1.8-9.7.8 15.4.8-13.8.8 13.3.8-10.1.8 6.2.8-7.1.8 11.5.8-16.2.8 12.9.8-3.6.8 3.2.8-8.6.8 14.1.8-9 .8 8.6.8-6.1.8 1.3.8-13.5.8 8.7.8-6.1.8 21.8.8-12 .8 6.9.8-6.1.8 1.1.8-5.5.8 4.4.8-7.1.8 21.1.8-20.7.8 5.7.8-2.2.8 3.7.8-6.7.8 5.7.8-5.3.8 5.3.8-7.6.8 9.8.8-3.9.8 12.5.8-12.1.8 2.2.8-11.1.8 11.4.8-3.5.8.9.8-2.4.8 5.7.8-7.6.8 6.7.8-7.4.8 10.3.8-7 .8 11.3.8-14.3.8 4.7.8-3.5.8 13.9.8-17 .8 11.7.8-10 .8 9.4.8-8.3.8 8.7.8-9.8.8 9.8.8-9.6.8 6.7.8-4.6.8 6.4.8-8.8.8 7.3.8-1.6.8 3.8.8-6 .8 3.3.8-5 .8 8.8.8 5.3.8 14.5.8-6.4.8-4.8.8-11.9.8 4.7.8-7.7.8 3.3.8-19.4.8 23.8.8-10.6.8 9.2.8-12.7.8 7.7.8-3.8.8 4.6.8-13.9.8 14.9.8-4.1.8 6.7.8-9.2.8 8.4.8-8.2.8 7.8.8-5.8.8 6 .8-4.7.8 14.3.8-19.8.8 11.3.8-14.5.8 16.3.8-5.9.8 2.3.8-6.7.8 9.6.8-4.8.8 3.6.8-6 .8 15" fill="none" stroke="#f01010" stroke-width="0.95" stroke-linejoin="bevel"/>
<line x1="766.8" y1="564.3" x2="766.8" y2="633" stroke="#ff4848" stroke-width="1.3" stroke-dasharray="9,4.3"/>
<line x1="974.2" y1="565.3" x2="974.2" y2="633" stroke="#0000ff" stroke-width="1.1" stroke-dasharray="1.6,3.4"/>
<line x1="982.2" y1="564.3" x2="982.2" y2="633" stroke="#ff0000" stroke-width="1.3" stroke-dasharray="9,4.3"/>
<line x1="1090" y1="564.3" x2="1090" y2="633" stroke="#00c000" stroke-width="1.2" stroke-dasharray="9,4.3"/>
<line x1="1089.4" y1="564.3" x2="1089.4" y2="633" stroke="#ff00ff" stroke-width="1.0" stroke-dasharray="1.6,2.4"/>
<line x1="1092.1" y1="564.3" x2="1092.1" y2="633" stroke="#ff00ff" stroke-width="1.0" stroke-dasharray="1.6,2.4"/>
<line x1="668.6" y1="599.5" x2="1122.2" y2="599.5" stroke="#222" stroke-width="1.0" stroke-dasharray="4.2,2.5"/>
<line x1="674" y1="562.8" x2="692.5" y2="562.8" stroke="#ff00ff" stroke-width="1.4" stroke-dasharray="1.3,0.7"/>
<text x="693.5" y="566" font-size="8.9" text-anchor="start" fill="#ff00ff" font-weight="normal" >t&#160;&#160;maxJ</text>
<line x1="674" y1="570.5" x2="692" y2="570.5" stroke="#2020ff" stroke-width="1.0"/>
<text x="693.5" y="573.3" font-size="9.0" text-anchor="start" fill="#2020ff" font-weight="normal" >J<tspan font-size="6" dy="2">L</tspan></text>
<line x1="674" y1="577.5" x2="692" y2="577.5" stroke="#30e030" stroke-width="1.0"/>
<text x="693.5" y="580.8" font-size="9.0" text-anchor="start" fill="#30e030" font-weight="normal" >J<tspan font-size="6" dy="2">M</tspan></text>
<line x1="674" y1="585.5" x2="692" y2="585.5" stroke="#ff3030" stroke-width="1.0"/>
<text x="693.5" y="588.2" font-size="9.0" text-anchor="start" fill="#ff3030" font-weight="normal" >J<tspan font-size="6" dy="2">N</tspan></text>
<rect x="668.5" y="558.5" width="454" height="75" fill="none" stroke="#000" stroke-width="1.2"/>
<path d="M678.5 558.5v4M707.5 558.5v8M735.5 558.5v4M764.5 558.5v4M792.5 558.5v4M821.5 558.5v8M849.5 558.5v4M878.5 558.5v4M906.5 558.5v4M935.5 558.5v8M963.5 558.5v4M992.5 558.5v4M1020.5 558.5v4M1049.5 558.5v8M1077.5 558.5v4M1106.5 558.5v4" stroke="#000" stroke-width="1" fill="none"/>
<path d="M678.5 633.5v-4M707.5 633.5v-8M735.5 633.5v-4M764.5 633.5v-4M792.5 633.5v-4M821.5 633.5v-8M849.5 633.5v-4M878.5 633.5v-4M906.5 633.5v-4M935.5 633.5v-8M963.5 633.5v-4M992.5 633.5v-4M1020.5 633.5v-4M1049.5 633.5v-8M1077.5 633.5v-4M1106.5 633.5v-4" stroke="#000" stroke-width="1" fill="none"/>
<path d="M668.5 618.5h6M668.5 599.5h6M668.5 580.5h6M668.5 560.5h6M668.5 628.5h3M668.5 623.5h3M668.5 613.5h3M668.5 608.5h3M668.5 604.5h3M668.5 594.5h3M668.5 589.5h3M668.5 584.5h3M668.5 575.5h3M668.5 570.5h3M668.5 565.5h3" stroke="#000" stroke-width="1" fill="none"/>
<path d="M1122.5 618.5h-6M1122.5 599.5h-6M1122.5 580.5h-6M1122.5 560.5h-6M1122.5 628.5h-3M1122.5 623.5h-3M1122.5 613.5h-3M1122.5 608.5h-3M1122.5 604.5h-3M1122.5 594.5h-3M1122.5 589.5h-3M1122.5 584.5h-3M1122.5 575.5h-3M1122.5 570.5h-3M1122.5 565.5h-3" stroke="#000" stroke-width="1" fill="none"/>
<text x="1125" y="564.8" font-size="10.8" text-anchor="start" fill="#000" font-weight="normal" >0.4</text>
<text x="1125" y="584" font-size="10.8" text-anchor="start" fill="#000" font-weight="normal" >0.2</text>
<text x="1125" y="603.2" font-size="10.8" text-anchor="start" fill="#000" font-weight="normal" >0.0</text>
<text x="1125" y="622.4" font-size="10.8" text-anchor="start" fill="#000" font-weight="normal" >-0.2</text>
<text x="1159.5" y="596.5" font-size="11" text-anchor="middle" fill="#000" font-weight="normal" transform="rotate(-90 1159.5 596.5)" >J [&#181;A m<tspan font-size="8.5" dy="-4">-2</tspan><tspan dy="4">]</tspan></text>
<path d="M668.9 659.4l.8-2.3.8 4.2.8-4 .8 14.5.8-.9.8-11.5.8-1.1.8.9.8-5.8.8 9.5.8-5.5.8 2.2.8-6.2.8 7 .8-3.9.8 3.6.8-3.4.8 6 .8-10.6.8 8.2.8-5.5.8 3.7.8-1.4.8 8.3.8-10.3.8 15.4.8-12 .8-3.4.8 1.6.8 4.5.8-4.2.8 6 .8-11.5.8 9.8.8-6.2.8 5.4.8-5.6.8-4.2.8 13.5.8 12.9.8-18.6.8 4.4.8-5.8.8-1.6.8-.7.8 4.9.8-5.4.8 7.6.8-4.3.8 2.5.8-3 .8-5 .8 5.6.8 4.8.8 15.1.8 2.1.8-23.6.8-6.4.8 26.7.8-8.9.8-13.4.8 4.2.8 7.9.8-4.5.8-4.7.8 17 .8-7.5.8 1.9.8-10.9.8 5.1.8-6 .8 5.3.8-3.8.8 1 .8-.5.8 1 .8-3 .8 3.4.8-1.9.8 3.9.8-20.5.8 19.3.8-3.3.8 3.4.8 8.6.8-8.9.8-5.1.8 4.7.8-3.6.8-4.9.8 5.3.8 3.3.8-4.7.8 4.9.8-2.3.8 2.5.8-3.7.8 2.8.8 4.5.8-2.4.8-8.1.8 5.6.8-6.9.8 8.7.8-2.9.8 10.2.8-10.6.8 5 .8-5.8.8 2.7.8-2.1.8 1.2.8-4.9.8 4.8.8-1.8.8 3.5.8-2.1.8 1.5.8-2.3.8 2.5.8-2.5.8 2.1.8-3.4.8.4.8-.1.8 1.7.8-2 .8 4.3.8-4.4.8 7 .8-4.9.8.6.8-3.3.8 3.2.8-1.3.8 4.1.8-5.4.8 1.9.8-3.2.8 4 .8 5.3.8-3.1.8-7 .8 4.9.8-2.2.8 4.4.8-3.7.8 2.1.8-4.5.8 3.5.8-2.4.8 3.3.8-1 .8 2.8.8-4.9.8 1.7.8-7.3.8 9.1.8-4 .8 4.6.8-5.1.8 4 .8-1.9.8 1.4.8-1.4.8 2.3.8-2.3.8 2.4.8-4 .8 3.2.8-.5.8 3.9.8-6.5.8 6.2.8-5.8.8 2.6.8-1.6.8-4.4.8 4.1.8 1.8.8 2.5.8.4.8-5.7.8 5.1.8-4 .8 3.4.8-4.4.8 3.6.8-2 .8 1.7.8-1.9.8 1.6.8-1.5.8 2.9.8-1.7.8.7.8-3.1.8 5.6.8-11.8.8 9.4.8-4.1.8 4.2.8-2 .8 3.7.8-1.8.8-.4.8-3.1.8 1.7.8-3.4.8 4.7.8-1.7.8 4.1.8-1.5.8-.4.8-6.2.8 7.8.8-4.7.8 1.8.8-1.8.8 4.6.8-4 .8 4.1.8-3.3.8 2.6.8-4.6.8 3.9.8-1.6.8 10.4.8-3.3.8 1.5.8-11.1.8 3.1.8 23.6.8-22.6.8-3.3.8 2.1.8-3.4.8 1.3.8 2.5.8 5.3.8-7.4.8 5.6.8-6.2.8 3 .8-2.7.8 1.9.8-3 .8 5.7.8-3.3.8 2.5.8-3.8.8 4.8.8-11.3.8 9.9.8 1.5.8-3.5.8-4.6.8 6.3.8-1.3.8.2.8-1.2.8 3.2.8-3.1.8 4 .8.3.8.5.8-7.4.8 6.7.8-3.5.8-.2.8-1.3.8 4.7.8-6.2.8 5.4.8-7.3.8 7.7.8-2.9.8 2.9.8.3.8.9.8-5.3.8 3.7.8-1 .8 1.4.8-3.4.8 4.4.8-3.4.8 2.8.8-3.9.8 4.3.8-4.3.8 7 .8-7.9.8 3.6.8 2.2.8-3.7.8-4.3.8 5.8.8-1.7.8 2.5.8-2.5.8-.1.8-1.2.8 2.7.8-3.6.8-1.4.8 2.3.8-1.1.8 1.7.8-8.4.8 7.5.8 5.8.8-6 .8 2.5.8-4.9.8 5.2.8-3.9.8 6.3.8-7.1.8 4.3.8-4.8.8 6.7.8-8.6.8 8.4.8-5.3.8-11.5.8 14.2.8 4.4.8-4.8.8-2.4.8-1.8.8 6.7.8 12.5.8 8.5.8-22.8.8 1.7.8-4.4.8 6.7.8-9.1.8 22.5.8-18.1.8 2.6.8-13.2.8 12.1.8-2.9.8 7.9.8-9.4.8 6 .8-3.1.8 3.8.8-6.6.8 10.8.8-12.4.8 8.6.8-5.3.8 9.7.8-1.5.8-.9.8 2.6.8 9.8.8.6.8-5.1.8-9.4.8 7.9.8-16.4.8 5.7.8-2.6.8 21.3.8-22.5.8 3.5.8-1.2.8 8.2.8-13.5.8 13.8.8-10.2.8 5.8.8-4.4.8 4.6.8-7.1.8 11.8.8-9.2.8 7.1.8 5.1.8-3.7.8-11.7.8 7.3.8-2.6.8 15.6.8-20.2.8-2.1.8-15.5.8 22.3.8-11.2.8-2.4.8 6.7.8 9.9.8-9.4.8 20.8.8-17.9.8 7.4.8-11.9.8-2.9.8-1.5.8-1.2.8-2.5.8 15.4.8 23.1.8-19.5.8-6.2.8 4 .8-5.5.8 6.9.8-8.3.8 10.8.8-8.2.8 7.2.8-15.3.8 14.4.8-5.4.8 8 .8-7.8.8 6.3.8-7.9.8 4.1.8-9.1.8 12 .8-9.8.8 9.6.8 2.5.8-4.8.8-26.5.8 27.2.8-3.6.8 9 .8 9.2.8 10.2.8-33.4.8 8.4.8-1.7.8 18.1.8-23.5.8 14.1.8-12.5.8 6.7.8-8.7.8 9 .8-6.2.8 4.8.8-14.5.8 16.3.8-4.3.8.1.8-5 .8 15.3.8-12.9.8 11.6.8-13.3.8 7.2.8-15.4.8 17.1.8-10.7.8 18.2.8-15.8.8 6.2.8 13.5.8 2.1.8-17.5.8 1.5.8-3.8.8-8.4.8-2.6.8 18.2.8-7.8.8 4.9.8-9.9.8 8.9.8-3.1.8 8.6.8-11.5.8 12.2.8-9.2.8 11.7.8 2.1.8-3.1.8-9.4.8 3.1.8-6 .8 3.9.8-9.3.8 2.4.8 18.7.8-20.8.8 6 .8 4.9.8-2.9.8 13.5.8-2.8.8-7.8.8-4.6.8-.3.8-1.8.8 8.2.8-4.9.8 5.1.8-5.9.8 2.8.8-1.6.8 2.9.8-3.8.8 7.6.8-5.6.8.8.8-5.4.8 7.2.8-8.3.8 5.4.8-5.8.8 8.6.8-4.8.8 3.2.8 11 .8-26.9.8 11.4.8-1.1.8-.5.8 9.9.8 14.5.8 19.4.8-11.5.8-7.4.8-25.1.8 9.5.8-9.7.8 10.1.8-3.4.8 5.6.8-9.4.8 2.3.8-4.5.8 5 .8-10.1.8 10.8.8-2.7.8 4.8.8-6.4.8 5.5.8-4.9.8 3.6.8-5.2.8 5.7.8-7.9.8 11 .8-8.2.8 3.8.8 20.2.8-13 .8-11.9.8 5.1.8-2.6.8 7.8.8-6.8.8 3.2.8-4.2.8 8.6.8-10.6.8 8.7" fill="none" stroke="#111" stroke-width="1.0" stroke-linejoin="bevel"/>
<line x1="766.8" y1="639" x2="766.8" y2="706.3" stroke="#ff4848" stroke-width="1.3" stroke-dasharray="9,4.3"/>
<line x1="974.2" y1="640" x2="974.2" y2="706.3" stroke="#0000ff" stroke-width="1.1" stroke-dasharray="1.6,3.4"/>
<line x1="982.2" y1="639" x2="982.2" y2="706.3" stroke="#ff0000" stroke-width="1.3" stroke-dasharray="9,4.3"/>
<line x1="1090" y1="639" x2="1090" y2="706.3" stroke="#00c000" stroke-width="1.2" stroke-dasharray="9,4.3"/>
<line x1="1089.4" y1="639" x2="1089.4" y2="706.3" stroke="#ff00ff" stroke-width="1.0" stroke-dasharray="1.6,2.4"/>
<line x1="1092.1" y1="639" x2="1092.1" y2="706.3" stroke="#ff00ff" stroke-width="1.0" stroke-dasharray="1.6,2.4"/>
<line x1="674" y1="647.5" x2="692" y2="647.5" stroke="#333" stroke-width="1.0"/>
<text x="695.5" y="651.3" font-size="9.0" text-anchor="start" fill="#222" font-weight="normal" >J*E'</text>
<rect x="668.5" y="633.5" width="454" height="73" fill="none" stroke="#000" stroke-width="1.2"/>
<path d="M678.5 633.5v4M707.5 633.5v8M735.5 633.5v4M764.5 633.5v4M792.5 633.5v4M821.5 633.5v8M849.5 633.5v4M878.5 633.5v4M906.5 633.5v4M935.5 633.5v8M963.5 633.5v4M992.5 633.5v4M1020.5 633.5v4M1049.5 633.5v8M1077.5 633.5v4M1106.5 633.5v4" stroke="#000" stroke-width="1" fill="none"/>
<path d="M678.5 706.5v-4M707.5 706.5v-8M735.5 706.5v-4M764.5 706.5v-4M792.5 706.5v-4M821.5 706.5v-8M849.5 706.5v-4M878.5 706.5v-4M906.5 706.5v-4M935.5 706.5v-8M963.5 706.5v-4M992.5 706.5v-4M1020.5 706.5v-4M1049.5 706.5v-8M1077.5 706.5v-4M1106.5 706.5v-4" stroke="#000" stroke-width="1" fill="none"/>
<path d="M668.5 696.5h6M668.5 677.5h6M668.5 658.5h6M668.5 639.5h6M668.5 703.5h3M668.5 699.5h3M668.5 692.5h3M668.5 688.5h3M668.5 684.5h3M668.5 680.5h3M668.5 673.5h3M668.5 669.5h3M668.5 665.5h3M668.5 662.5h3M668.5 654.5h3M668.5 650.5h3M668.5 646.5h3M668.5 643.5h3M668.5 635.5h3" stroke="#000" stroke-width="1" fill="none"/>
<path d="M1122.5 696.5h-6M1122.5 677.5h-6M1122.5 658.5h-6M1122.5 639.5h-6M1122.5 703.5h-3M1122.5 699.5h-3M1122.5 692.5h-3M1122.5 688.5h-3M1122.5 684.5h-3M1122.5 680.5h-3M1122.5 673.5h-3M1122.5 669.5h-3M1122.5 665.5h-3M1122.5 662.5h-3M1122.5 654.5h-3M1122.5 650.5h-3M1122.5 646.5h-3M1122.5 643.5h-3M1122.5 635.5h-3" stroke="#000" stroke-width="1" fill="none"/>
<text x="665.3" y="643.4" font-size="10.8" text-anchor="end" fill="#000" font-weight="normal" >0.5</text>
<text x="665.3" y="662.3" font-size="10.8" text-anchor="end" fill="#000" font-weight="normal" >0.0</text>
<text x="665.3" y="681.2" font-size="10.8" text-anchor="end" fill="#000" font-weight="normal" >-0.5</text>
<text x="665.3" y="700.1" font-size="10.8" text-anchor="end" fill="#000" font-weight="normal" >-1.0</text>
<text x="641" y="670" font-size="11" text-anchor="middle" fill="#000" font-weight="normal" transform="rotate(-90 641 670)" >J*E' [nW m<tspan font-size="8.5" dy="-4">-3</tspan><tspan dy="4">]</tspan></text>
<line x1="668.6" y1="115.5" x2="1122.2" y2="115.5" stroke="#000" stroke-width="1.6"/>
<line x1="668.6" y1="189.5" x2="1122.2" y2="189.5" stroke="#000" stroke-width="1.6"/>
<line x1="668.6" y1="263.5" x2="1122.2" y2="263.5" stroke="#000" stroke-width="1.6"/>
<line x1="668.6" y1="337.5" x2="1122.2" y2="337.5" stroke="#000" stroke-width="1.6"/>
<line x1="668.6" y1="410.5" x2="1122.2" y2="410.5" stroke="#000" stroke-width="1.6"/>
<line x1="668.6" y1="485.5" x2="1122.2" y2="485.5" stroke="#000" stroke-width="1.6"/>
<line x1="668.6" y1="558.5" x2="1122.2" y2="558.5" stroke="#000" stroke-width="1.6"/>
<line x1="668.6" y1="633.5" x2="1122.2" y2="633.5" stroke="#000" stroke-width="1.6"/>
<text x="707.3" y="724.2" font-size="10.65" text-anchor="middle" fill="#000" font-weight="normal" >11:07:00</text>
<text x="821.4" y="724.2" font-size="10.65" text-anchor="middle" fill="#000" font-weight="normal" >11:07:20</text>
<text x="935.4" y="724.2" font-size="10.65" text-anchor="middle" fill="#000" font-weight="normal" >11:07:40</text>
<text x="1049.5" y="724.2" font-size="10.65" text-anchor="middle" fill="#000" font-weight="normal" >11:08:00</text>
<text x="650.3" y="745.8" font-size="10.5" text-anchor="middle" fill="#000" font-weight="normal" >X</text>
<text x="707.3" y="745.8" font-size="10.5" text-anchor="middle" fill="#000" font-weight="normal" >10.4</text>
<text x="821.4" y="745.8" font-size="10.5" text-anchor="middle" fill="#000" font-weight="normal" >10.4</text>
<text x="935.4" y="745.8" font-size="10.5" text-anchor="middle" fill="#000" font-weight="normal" >10.4</text>
<text x="1049.5" y="745.8" font-size="10.5" text-anchor="middle" fill="#000" font-weight="normal" >10.4</text>
<text x="1136.6" y="745.8" font-size="10.5" text-anchor="start" fill="#000" font-weight="normal" >Re</text>
<text x="650.3" y="763.4" font-size="10.5" text-anchor="middle" fill="#000" font-weight="normal" >Y</text>
<text x="707.3" y="763.4" font-size="10.5" text-anchor="middle" fill="#000" font-weight="normal" >-1.48</text>
<text x="821.4" y="763.4" font-size="10.5" text-anchor="middle" fill="#000" font-weight="normal" >-1.48</text>
<text x="935.4" y="763.4" font-size="10.5" text-anchor="middle" fill="#000" font-weight="normal" >-1.47</text>
<text x="1049.5" y="763.4" font-size="10.5" text-anchor="middle" fill="#000" font-weight="normal" >-1.47</text>
<text x="1136.6" y="763.4" font-size="10.5" text-anchor="start" fill="#000" font-weight="normal" >Re</text>
<text x="650.3" y="781.1" font-size="10.5" text-anchor="middle" fill="#000" font-weight="normal" >Z</text>
<text x="707.3" y="781.1" font-size="10.5" text-anchor="middle" fill="#000" font-weight="normal" >1.95</text>
<text x="821.4" y="781.1" font-size="10.5" text-anchor="middle" fill="#000" font-weight="normal" >1.95</text>
<text x="935.4" y="781.1" font-size="10.5" text-anchor="middle" fill="#000" font-weight="normal" >1.95</text>
<text x="1049.5" y="781.1" font-size="10.5" text-anchor="middle" fill="#000" font-weight="normal" >1.95</text>
<text x="1136.6" y="781.1" font-size="10.5" text-anchor="start" fill="#000" font-weight="normal" >Re</text>
<text x="1022.2" y="837.2" font-size="11.95" text-anchor="start" fill="#000" font-weight="normal" >paschmann 28-Oct-2018 12:46</text>
</svg>
<pre>:
 Event ID         : 20170122_110653
 FlagStr          : mp,udef,nmon,mf,mult,part,keep
 GSEpos [Re]      : [ 10.37, -1.49, 1.95 ]
                  :
 LMN coords       :
    L             : [ -0.165, -0.956,  0.242 ]
    M             : [  0.466,  0.141,  0.874 ]
    N             : [  0.869, -0.257, -0.422 ]
                  :
  Times           : (as indicated by red, green lines in plots)
    t_0           : 11:07:35  (red dotted line)
    t_MVAB1       : 11:06:51  (leftmost green line)
    t_MVAB2       : 11:08:07  (rightmost green line)
                  :
|Bmin|, |Vmax|    :
    Bmin          : 52.22 [nT]  at 11:06:58
    Vmax_tht      : 199.68 [km/s]  at 11:07:46
    Vmax_tburst   : 199.68 [km/s]  at 11:07:06
                  :
 Normals          :
    N MVAB        : [  0.927, -0.228, -0.297 ]   (L2/L1 = 2.07)
    N MVAB0       : [  0.984, -0.129,  0.125 ]   (L3/L2 = 65.30)
    N MFR         : [ -0.989,  0.143, -0.028 ]   (L2/L1 = 2.31)
                  :
 Durations [s]    : (between red, resp green lines)
    T_CS          : 37.83
    T_MFR/HT      : 115.66
                  :
 Velocity [km/s]  : (based on FPI ion data)
    VnMFR         : 22.9
    VHT.Nmvab     : 127.8  (HTcc = 0.920)
    VHT.Nmvab0    : 11.8
                  :
 CS thickness [km]: (D=T_CS * Vs from above)
    D1=TCS*Vnmfr  : 866
    D2=TCS*VHTn   : 4,835
    D3=TCS*VHTn0  : 447
                  :
 Currents [uA/m2] :
    Jave_CS       : 0.038
    Jmax_THT      : 0.418  at 11:08:07
    Jmax_brst     : 0.487  at 11:08:07
                  :
 HPCA mom [1/cm3] :   Min   -  Max    (  Ave   )  within full brst int
    H+            :   3.672 -  6.658  (  6.658 )
    He+           :   0.000 -  0.002  (  0.002 )
    He++          :   0.066 -  0.148  (  0.148 )
    O+            :   0.000 -  0.014  (  0.003 )
                  :
 SEH date         : 2019-11-29 10:26:23
                  :</pre>
</body></html>
